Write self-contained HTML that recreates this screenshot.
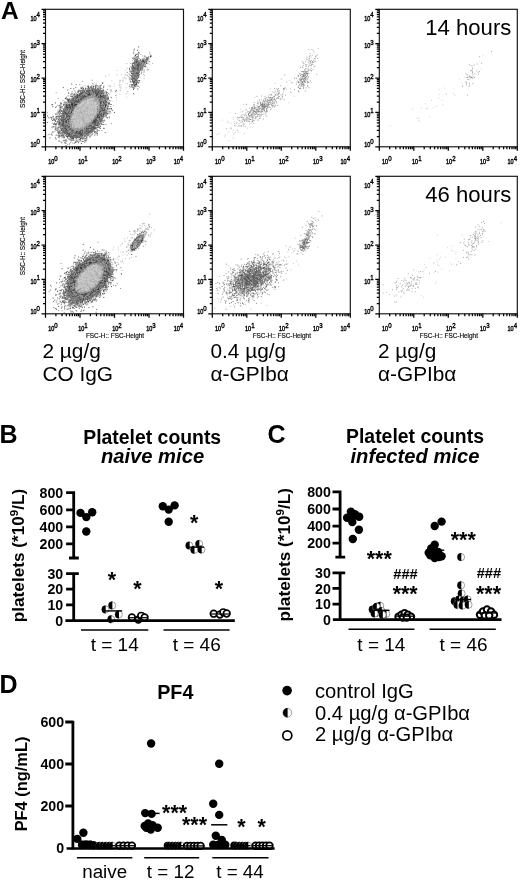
<!DOCTYPE html>
<html lang="en">
<head>
<meta charset="utf-8">
<title>Figure</title>
<style>
html,body{margin:0;padding:0;background:#fff;}
body{width:520px;height:881px;overflow:hidden;}
svg{display:block;font-family:'Liberation Sans', Arial, Helvetica, sans-serif;}
</style>
</head>
<body>
<svg width="520" height="881" viewBox="0 0 520 881">
<rect width="520" height="881" fill="#fff"/>
<defs><filter id="blur0" x="-20%" y="-20%" width="140%" height="140%"><feGaussianBlur stdDeviation="0.7"/></filter><filter id="blur1" x="-20%" y="-20%" width="140%" height="140%"><feGaussianBlur stdDeviation="1.3"/></filter><filter id="blur2" x="-20%" y="-20%" width="140%" height="140%"><feGaussianBlur stdDeviation="1.6"/></filter><filter id="blur3" x="-20%" y="-20%" width="140%" height="140%"><feGaussianBlur stdDeviation="1.7"/></filter></defs>
<rect x="45.5" y="9.3" width="138" height="137.5" fill="#fff" stroke="#111" stroke-width="1.15"/>
<path d="M45.5 146.8v4M55.9 146.8v2.5M62 146.8v2.5M66.3 146.8v2.5M69.6 146.8v2.5M72.3 146.8v2.5M74.7 146.8v2.5M76.7 146.8v2.5M78.4 146.8v2.5M80 146.8v4M90.4 146.8v2.5M96.5 146.8v2.5M100.8 146.8v2.5M104.1 146.8v2.5M106.8 146.8v2.5M109.2 146.8v2.5M111.2 146.8v2.5M112.9 146.8v2.5M114.5 146.8v4M124.9 146.8v2.5M131 146.8v2.5M135.3 146.8v2.5M138.6 146.8v2.5M141.3 146.8v2.5M143.7 146.8v2.5M145.7 146.8v2.5M147.4 146.8v2.5M149 146.8v4M159.4 146.8v2.5M165.5 146.8v2.5M169.8 146.8v2.5M173.1 146.8v2.5M175.8 146.8v2.5M178.2 146.8v2.5M180.2 146.8v2.5M181.9 146.8v2.5M183.5 146.8v4M45.5 146.8h-4M45.5 136.5h-2.5M45.5 130.4h-2.5M45.5 126.1h-2.5M45.5 122.8h-2.5M45.5 120.1h-2.5M45.5 117.7h-2.5M45.5 115.8h-2.5M45.5 114h-2.5M45.5 112.4h-4M45.5 102.1h-2.5M45.5 96h-2.5M45.5 91.7h-2.5M45.5 88.4h-2.5M45.5 85.7h-2.5M45.5 83.4h-2.5M45.5 81.4h-2.5M45.5 79.6h-2.5M45.5 78.1h-4M45.5 67.7h-2.5M45.5 61.6h-2.5M45.5 57.4h-2.5M45.5 54h-2.5M45.5 51.3h-2.5M45.5 49h-2.5M45.5 47h-2.5M45.5 45.2h-2.5M45.5 43.7h-4M45.5 33.3h-2.5M45.5 27.3h-2.5M45.5 23h-2.5M45.5 19.6h-2.5M45.5 16.9h-2.5M45.5 14.6h-2.5M45.5 12.6h-2.5M45.5 10.9h-2.5M45.5 9.3h-4" stroke="#000" stroke-width="1.25" fill="none"/>
<g transform="translate(53 164.4) scale(0.8 1)"><text font-size="6.9" text-anchor="middle" fill="#000" stroke="#000" stroke-width="0.4">10<tspan dy="-3.5" font-size="7.6">0</tspan></text></g>
<g transform="translate(83 164.4) scale(0.8 1)"><text font-size="6.9" text-anchor="middle" fill="#000" stroke="#000" stroke-width="0.4">10<tspan dy="-3.5" font-size="7.6">1</tspan></text></g>
<g transform="translate(117 164.4) scale(0.8 1)"><text font-size="6.9" text-anchor="middle" fill="#000" stroke="#000" stroke-width="0.4">10<tspan dy="-3.5" font-size="7.6">2</tspan></text></g>
<g transform="translate(151 164.4) scale(0.8 1)"><text font-size="6.9" text-anchor="middle" fill="#000" stroke="#000" stroke-width="0.4">10<tspan dy="-3.5" font-size="7.6">3</tspan></text></g>
<g transform="translate(178.5 164.4) scale(0.8 1)"><text font-size="6.9" text-anchor="middle" fill="#000" stroke="#000" stroke-width="0.4">10<tspan dy="-3.5" font-size="7.6">4</tspan></text></g>
<g transform="translate(39.9 147) scale(0.8 1)"><text font-size="6.9" text-anchor="end" fill="#000" stroke="#000" stroke-width="0.4">10<tspan dy="-3.5" font-size="7.6">0</tspan></text></g>
<g transform="translate(39.9 116.8) scale(0.8 1)"><text font-size="6.9" text-anchor="end" fill="#000" stroke="#000" stroke-width="0.4">10<tspan dy="-3.5" font-size="7.6">1</tspan></text></g>
<g transform="translate(39.9 82.2) scale(0.8 1)"><text font-size="6.9" text-anchor="end" fill="#000" stroke="#000" stroke-width="0.4">10<tspan dy="-3.5" font-size="7.6">2</tspan></text></g>
<g transform="translate(39.9 48.1) scale(0.8 1)"><text font-size="6.9" text-anchor="end" fill="#000" stroke="#000" stroke-width="0.4">10<tspan dy="-3.5" font-size="7.6">3</tspan></text></g>
<g transform="translate(39.9 20.9) scale(0.8 1)"><text font-size="6.9" text-anchor="end" fill="#000" stroke="#000" stroke-width="0.4">10<tspan dy="-3.5" font-size="7.6">4</tspan></text></g>
<text transform="translate(25.2 79) rotate(-90)" font-size="6.3" text-anchor="middle" fill="#111" stroke="#111" stroke-width="0.18">SSC-H:: SSC-Height</text>
<rect x="212.3" y="9.3" width="138" height="137.5" fill="#fff" stroke="#111" stroke-width="1.15"/>
<path d="M212.3 146.8v4M222.7 146.8v2.5M228.8 146.8v2.5M233.1 146.8v2.5M236.4 146.8v2.5M239.1 146.8v2.5M241.5 146.8v2.5M243.5 146.8v2.5M245.2 146.8v2.5M246.8 146.8v4M257.2 146.8v2.5M263.3 146.8v2.5M267.6 146.8v2.5M270.9 146.8v2.5M273.6 146.8v2.5M276 146.8v2.5M278 146.8v2.5M279.7 146.8v2.5M281.3 146.8v4M291.7 146.8v2.5M297.8 146.8v2.5M302.1 146.8v2.5M305.4 146.8v2.5M308.1 146.8v2.5M310.5 146.8v2.5M312.5 146.8v2.5M314.2 146.8v2.5M315.8 146.8v4M326.2 146.8v2.5M332.3 146.8v2.5M336.6 146.8v2.5M339.9 146.8v2.5M342.6 146.8v2.5M345 146.8v2.5M347 146.8v2.5M348.7 146.8v2.5M350.3 146.8v4M212.3 146.8h-4M212.3 136.5h-2.5M212.3 130.4h-2.5M212.3 126.1h-2.5M212.3 122.8h-2.5M212.3 120.1h-2.5M212.3 117.7h-2.5M212.3 115.8h-2.5M212.3 114h-2.5M212.3 112.4h-4M212.3 102.1h-2.5M212.3 96h-2.5M212.3 91.7h-2.5M212.3 88.4h-2.5M212.3 85.7h-2.5M212.3 83.4h-2.5M212.3 81.4h-2.5M212.3 79.6h-2.5M212.3 78.1h-4M212.3 67.7h-2.5M212.3 61.6h-2.5M212.3 57.4h-2.5M212.3 54h-2.5M212.3 51.3h-2.5M212.3 49h-2.5M212.3 47h-2.5M212.3 45.2h-2.5M212.3 43.7h-4M212.3 33.3h-2.5M212.3 27.3h-2.5M212.3 23h-2.5M212.3 19.6h-2.5M212.3 16.9h-2.5M212.3 14.6h-2.5M212.3 12.6h-2.5M212.3 10.9h-2.5M212.3 9.3h-4" stroke="#000" stroke-width="1.25" fill="none"/>
<g transform="translate(219.8 164.4) scale(0.8 1)"><text font-size="6.9" text-anchor="middle" fill="#000" stroke="#000" stroke-width="0.4">10<tspan dy="-3.5" font-size="7.6">0</tspan></text></g>
<g transform="translate(249.8 164.4) scale(0.8 1)"><text font-size="6.9" text-anchor="middle" fill="#000" stroke="#000" stroke-width="0.4">10<tspan dy="-3.5" font-size="7.6">1</tspan></text></g>
<g transform="translate(283.8 164.4) scale(0.8 1)"><text font-size="6.9" text-anchor="middle" fill="#000" stroke="#000" stroke-width="0.4">10<tspan dy="-3.5" font-size="7.6">2</tspan></text></g>
<g transform="translate(317.8 164.4) scale(0.8 1)"><text font-size="6.9" text-anchor="middle" fill="#000" stroke="#000" stroke-width="0.4">10<tspan dy="-3.5" font-size="7.6">3</tspan></text></g>
<g transform="translate(345.3 164.4) scale(0.8 1)"><text font-size="6.9" text-anchor="middle" fill="#000" stroke="#000" stroke-width="0.4">10<tspan dy="-3.5" font-size="7.6">4</tspan></text></g>
<g transform="translate(206.7 147) scale(0.8 1)"><text font-size="6.9" text-anchor="end" fill="#000" stroke="#000" stroke-width="0.4">10<tspan dy="-3.5" font-size="7.6">0</tspan></text></g>
<g transform="translate(206.7 116.8) scale(0.8 1)"><text font-size="6.9" text-anchor="end" fill="#000" stroke="#000" stroke-width="0.4">10<tspan dy="-3.5" font-size="7.6">1</tspan></text></g>
<g transform="translate(206.7 82.2) scale(0.8 1)"><text font-size="6.9" text-anchor="end" fill="#000" stroke="#000" stroke-width="0.4">10<tspan dy="-3.5" font-size="7.6">2</tspan></text></g>
<g transform="translate(206.7 48.1) scale(0.8 1)"><text font-size="6.9" text-anchor="end" fill="#000" stroke="#000" stroke-width="0.4">10<tspan dy="-3.5" font-size="7.6">3</tspan></text></g>
<g transform="translate(206.7 20.9) scale(0.8 1)"><text font-size="6.9" text-anchor="end" fill="#000" stroke="#000" stroke-width="0.4">10<tspan dy="-3.5" font-size="7.6">4</tspan></text></g>
<rect x="379.3" y="9.3" width="138" height="137.5" fill="#fff" stroke="#111" stroke-width="1.15"/>
<path d="M379.3 146.8v4M389.7 146.8v2.5M395.8 146.8v2.5M400.1 146.8v2.5M403.4 146.8v2.5M406.1 146.8v2.5M408.5 146.8v2.5M410.5 146.8v2.5M412.2 146.8v2.5M413.8 146.8v4M424.2 146.8v2.5M430.3 146.8v2.5M434.6 146.8v2.5M437.9 146.8v2.5M440.6 146.8v2.5M443 146.8v2.5M445 146.8v2.5M446.7 146.8v2.5M448.3 146.8v4M458.7 146.8v2.5M464.8 146.8v2.5M469.1 146.8v2.5M472.4 146.8v2.5M475.1 146.8v2.5M477.5 146.8v2.5M479.5 146.8v2.5M481.2 146.8v2.5M482.8 146.8v4M493.2 146.8v2.5M499.3 146.8v2.5M503.6 146.8v2.5M506.9 146.8v2.5M509.6 146.8v2.5M512 146.8v2.5M514 146.8v2.5M515.7 146.8v2.5M517.3 146.8v4M379.3 146.8h-4M379.3 136.5h-2.5M379.3 130.4h-2.5M379.3 126.1h-2.5M379.3 122.8h-2.5M379.3 120.1h-2.5M379.3 117.7h-2.5M379.3 115.8h-2.5M379.3 114h-2.5M379.3 112.4h-4M379.3 102.1h-2.5M379.3 96h-2.5M379.3 91.7h-2.5M379.3 88.4h-2.5M379.3 85.7h-2.5M379.3 83.4h-2.5M379.3 81.4h-2.5M379.3 79.6h-2.5M379.3 78.1h-4M379.3 67.7h-2.5M379.3 61.6h-2.5M379.3 57.4h-2.5M379.3 54h-2.5M379.3 51.3h-2.5M379.3 49h-2.5M379.3 47h-2.5M379.3 45.2h-2.5M379.3 43.7h-4M379.3 33.3h-2.5M379.3 27.3h-2.5M379.3 23h-2.5M379.3 19.6h-2.5M379.3 16.9h-2.5M379.3 14.6h-2.5M379.3 12.6h-2.5M379.3 10.9h-2.5M379.3 9.3h-4" stroke="#000" stroke-width="1.25" fill="none"/>
<g transform="translate(386.8 164.4) scale(0.8 1)"><text font-size="6.9" text-anchor="middle" fill="#000" stroke="#000" stroke-width="0.4">10<tspan dy="-3.5" font-size="7.6">0</tspan></text></g>
<g transform="translate(416.8 164.4) scale(0.8 1)"><text font-size="6.9" text-anchor="middle" fill="#000" stroke="#000" stroke-width="0.4">10<tspan dy="-3.5" font-size="7.6">1</tspan></text></g>
<g transform="translate(450.8 164.4) scale(0.8 1)"><text font-size="6.9" text-anchor="middle" fill="#000" stroke="#000" stroke-width="0.4">10<tspan dy="-3.5" font-size="7.6">2</tspan></text></g>
<g transform="translate(484.8 164.4) scale(0.8 1)"><text font-size="6.9" text-anchor="middle" fill="#000" stroke="#000" stroke-width="0.4">10<tspan dy="-3.5" font-size="7.6">3</tspan></text></g>
<g transform="translate(512.3 164.4) scale(0.8 1)"><text font-size="6.9" text-anchor="middle" fill="#000" stroke="#000" stroke-width="0.4">10<tspan dy="-3.5" font-size="7.6">4</tspan></text></g>
<g transform="translate(373.7 147) scale(0.8 1)"><text font-size="6.9" text-anchor="end" fill="#000" stroke="#000" stroke-width="0.4">10<tspan dy="-3.5" font-size="7.6">0</tspan></text></g>
<g transform="translate(373.7 116.8) scale(0.8 1)"><text font-size="6.9" text-anchor="end" fill="#000" stroke="#000" stroke-width="0.4">10<tspan dy="-3.5" font-size="7.6">1</tspan></text></g>
<g transform="translate(373.7 82.2) scale(0.8 1)"><text font-size="6.9" text-anchor="end" fill="#000" stroke="#000" stroke-width="0.4">10<tspan dy="-3.5" font-size="7.6">2</tspan></text></g>
<g transform="translate(373.7 48.1) scale(0.8 1)"><text font-size="6.9" text-anchor="end" fill="#000" stroke="#000" stroke-width="0.4">10<tspan dy="-3.5" font-size="7.6">3</tspan></text></g>
<g transform="translate(373.7 20.9) scale(0.8 1)"><text font-size="6.9" text-anchor="end" fill="#000" stroke="#000" stroke-width="0.4">10<tspan dy="-3.5" font-size="7.6">4</tspan></text></g>
<rect x="45.5" y="176.3" width="138" height="137.5" fill="#fff" stroke="#111" stroke-width="1.15"/>
<path d="M45.5 313.8v4M55.9 313.8v2.5M62 313.8v2.5M66.3 313.8v2.5M69.6 313.8v2.5M72.3 313.8v2.5M74.7 313.8v2.5M76.7 313.8v2.5M78.4 313.8v2.5M80 313.8v4M90.4 313.8v2.5M96.5 313.8v2.5M100.8 313.8v2.5M104.1 313.8v2.5M106.8 313.8v2.5M109.2 313.8v2.5M111.2 313.8v2.5M112.9 313.8v2.5M114.5 313.8v4M124.9 313.8v2.5M131 313.8v2.5M135.3 313.8v2.5M138.6 313.8v2.5M141.3 313.8v2.5M143.7 313.8v2.5M145.7 313.8v2.5M147.4 313.8v2.5M149 313.8v4M159.4 313.8v2.5M165.5 313.8v2.5M169.8 313.8v2.5M173.1 313.8v2.5M175.8 313.8v2.5M178.2 313.8v2.5M180.2 313.8v2.5M181.9 313.8v2.5M183.5 313.8v4M45.5 313.8h-4M45.5 303.5h-2.5M45.5 297.4h-2.5M45.5 293.1h-2.5M45.5 289.8h-2.5M45.5 287.1h-2.5M45.5 284.7h-2.5M45.5 282.8h-2.5M45.5 281h-2.5M45.5 279.4h-4M45.5 269.1h-2.5M45.5 263h-2.5M45.5 258.7h-2.5M45.5 255.4h-2.5M45.5 252.7h-2.5M45.5 250.4h-2.5M45.5 248.4h-2.5M45.5 246.6h-2.5M45.5 245.1h-4M45.5 234.7h-2.5M45.5 228.6h-2.5M45.5 224.4h-2.5M45.5 221h-2.5M45.5 218.3h-2.5M45.5 216h-2.5M45.5 214h-2.5M45.5 212.2h-2.5M45.5 210.7h-4M45.5 200.3h-2.5M45.5 194.3h-2.5M45.5 190h-2.5M45.5 186.6h-2.5M45.5 183.9h-2.5M45.5 181.6h-2.5M45.5 179.6h-2.5M45.5 177.9h-2.5M45.5 176.3h-4" stroke="#000" stroke-width="1.25" fill="none"/>
<g transform="translate(53 331.4) scale(0.8 1)"><text font-size="6.9" text-anchor="middle" fill="#000" stroke="#000" stroke-width="0.4">10<tspan dy="-3.5" font-size="7.6">0</tspan></text></g>
<g transform="translate(83 331.4) scale(0.8 1)"><text font-size="6.9" text-anchor="middle" fill="#000" stroke="#000" stroke-width="0.4">10<tspan dy="-3.5" font-size="7.6">1</tspan></text></g>
<g transform="translate(117 331.4) scale(0.8 1)"><text font-size="6.9" text-anchor="middle" fill="#000" stroke="#000" stroke-width="0.4">10<tspan dy="-3.5" font-size="7.6">2</tspan></text></g>
<g transform="translate(151 331.4) scale(0.8 1)"><text font-size="6.9" text-anchor="middle" fill="#000" stroke="#000" stroke-width="0.4">10<tspan dy="-3.5" font-size="7.6">3</tspan></text></g>
<g transform="translate(178.5 331.4) scale(0.8 1)"><text font-size="6.9" text-anchor="middle" fill="#000" stroke="#000" stroke-width="0.4">10<tspan dy="-3.5" font-size="7.6">4</tspan></text></g>
<g transform="translate(39.9 314) scale(0.8 1)"><text font-size="6.9" text-anchor="end" fill="#000" stroke="#000" stroke-width="0.4">10<tspan dy="-3.5" font-size="7.6">0</tspan></text></g>
<g transform="translate(39.9 283.8) scale(0.8 1)"><text font-size="6.9" text-anchor="end" fill="#000" stroke="#000" stroke-width="0.4">10<tspan dy="-3.5" font-size="7.6">1</tspan></text></g>
<g transform="translate(39.9 249.2) scale(0.8 1)"><text font-size="6.9" text-anchor="end" fill="#000" stroke="#000" stroke-width="0.4">10<tspan dy="-3.5" font-size="7.6">2</tspan></text></g>
<g transform="translate(39.9 215.1) scale(0.8 1)"><text font-size="6.9" text-anchor="end" fill="#000" stroke="#000" stroke-width="0.4">10<tspan dy="-3.5" font-size="7.6">3</tspan></text></g>
<g transform="translate(39.9 187.9) scale(0.8 1)"><text font-size="6.9" text-anchor="end" fill="#000" stroke="#000" stroke-width="0.4">10<tspan dy="-3.5" font-size="7.6">4</tspan></text></g>
<text x="115" y="338.4" font-size="6.4" text-anchor="middle" fill="#111" stroke="#111" stroke-width="0.18">FSC-H:: FSC-Height</text>
<text transform="translate(25.2 246.1) rotate(-90)" font-size="6.3" text-anchor="middle" fill="#111" stroke="#111" stroke-width="0.18">SSC-H:: SSC-Height</text>
<rect x="212.3" y="176.3" width="138" height="137.5" fill="#fff" stroke="#111" stroke-width="1.15"/>
<path d="M212.3 313.8v4M222.7 313.8v2.5M228.8 313.8v2.5M233.1 313.8v2.5M236.4 313.8v2.5M239.1 313.8v2.5M241.5 313.8v2.5M243.5 313.8v2.5M245.2 313.8v2.5M246.8 313.8v4M257.2 313.8v2.5M263.3 313.8v2.5M267.6 313.8v2.5M270.9 313.8v2.5M273.6 313.8v2.5M276 313.8v2.5M278 313.8v2.5M279.7 313.8v2.5M281.3 313.8v4M291.7 313.8v2.5M297.8 313.8v2.5M302.1 313.8v2.5M305.4 313.8v2.5M308.1 313.8v2.5M310.5 313.8v2.5M312.5 313.8v2.5M314.2 313.8v2.5M315.8 313.8v4M326.2 313.8v2.5M332.3 313.8v2.5M336.6 313.8v2.5M339.9 313.8v2.5M342.6 313.8v2.5M345 313.8v2.5M347 313.8v2.5M348.7 313.8v2.5M350.3 313.8v4M212.3 313.8h-4M212.3 303.5h-2.5M212.3 297.4h-2.5M212.3 293.1h-2.5M212.3 289.8h-2.5M212.3 287.1h-2.5M212.3 284.7h-2.5M212.3 282.8h-2.5M212.3 281h-2.5M212.3 279.4h-4M212.3 269.1h-2.5M212.3 263h-2.5M212.3 258.7h-2.5M212.3 255.4h-2.5M212.3 252.7h-2.5M212.3 250.4h-2.5M212.3 248.4h-2.5M212.3 246.6h-2.5M212.3 245.1h-4M212.3 234.7h-2.5M212.3 228.6h-2.5M212.3 224.4h-2.5M212.3 221h-2.5M212.3 218.3h-2.5M212.3 216h-2.5M212.3 214h-2.5M212.3 212.2h-2.5M212.3 210.7h-4M212.3 200.3h-2.5M212.3 194.3h-2.5M212.3 190h-2.5M212.3 186.6h-2.5M212.3 183.9h-2.5M212.3 181.6h-2.5M212.3 179.6h-2.5M212.3 177.9h-2.5M212.3 176.3h-4" stroke="#000" stroke-width="1.25" fill="none"/>
<g transform="translate(219.8 331.4) scale(0.8 1)"><text font-size="6.9" text-anchor="middle" fill="#000" stroke="#000" stroke-width="0.4">10<tspan dy="-3.5" font-size="7.6">0</tspan></text></g>
<g transform="translate(249.8 331.4) scale(0.8 1)"><text font-size="6.9" text-anchor="middle" fill="#000" stroke="#000" stroke-width="0.4">10<tspan dy="-3.5" font-size="7.6">1</tspan></text></g>
<g transform="translate(283.8 331.4) scale(0.8 1)"><text font-size="6.9" text-anchor="middle" fill="#000" stroke="#000" stroke-width="0.4">10<tspan dy="-3.5" font-size="7.6">2</tspan></text></g>
<g transform="translate(317.8 331.4) scale(0.8 1)"><text font-size="6.9" text-anchor="middle" fill="#000" stroke="#000" stroke-width="0.4">10<tspan dy="-3.5" font-size="7.6">3</tspan></text></g>
<g transform="translate(345.3 331.4) scale(0.8 1)"><text font-size="6.9" text-anchor="middle" fill="#000" stroke="#000" stroke-width="0.4">10<tspan dy="-3.5" font-size="7.6">4</tspan></text></g>
<g transform="translate(206.7 314) scale(0.8 1)"><text font-size="6.9" text-anchor="end" fill="#000" stroke="#000" stroke-width="0.4">10<tspan dy="-3.5" font-size="7.6">0</tspan></text></g>
<g transform="translate(206.7 283.8) scale(0.8 1)"><text font-size="6.9" text-anchor="end" fill="#000" stroke="#000" stroke-width="0.4">10<tspan dy="-3.5" font-size="7.6">1</tspan></text></g>
<g transform="translate(206.7 249.2) scale(0.8 1)"><text font-size="6.9" text-anchor="end" fill="#000" stroke="#000" stroke-width="0.4">10<tspan dy="-3.5" font-size="7.6">2</tspan></text></g>
<g transform="translate(206.7 215.1) scale(0.8 1)"><text font-size="6.9" text-anchor="end" fill="#000" stroke="#000" stroke-width="0.4">10<tspan dy="-3.5" font-size="7.6">3</tspan></text></g>
<g transform="translate(206.7 187.9) scale(0.8 1)"><text font-size="6.9" text-anchor="end" fill="#000" stroke="#000" stroke-width="0.4">10<tspan dy="-3.5" font-size="7.6">4</tspan></text></g>
<text x="281.8" y="338.4" font-size="6.4" text-anchor="middle" fill="#111" stroke="#111" stroke-width="0.18">FSC-H:: FSC-Height</text>
<rect x="379.3" y="176.3" width="138" height="137.5" fill="#fff" stroke="#111" stroke-width="1.15"/>
<path d="M379.3 313.8v4M389.7 313.8v2.5M395.8 313.8v2.5M400.1 313.8v2.5M403.4 313.8v2.5M406.1 313.8v2.5M408.5 313.8v2.5M410.5 313.8v2.5M412.2 313.8v2.5M413.8 313.8v4M424.2 313.8v2.5M430.3 313.8v2.5M434.6 313.8v2.5M437.9 313.8v2.5M440.6 313.8v2.5M443 313.8v2.5M445 313.8v2.5M446.7 313.8v2.5M448.3 313.8v4M458.7 313.8v2.5M464.8 313.8v2.5M469.1 313.8v2.5M472.4 313.8v2.5M475.1 313.8v2.5M477.5 313.8v2.5M479.5 313.8v2.5M481.2 313.8v2.5M482.8 313.8v4M493.2 313.8v2.5M499.3 313.8v2.5M503.6 313.8v2.5M506.9 313.8v2.5M509.6 313.8v2.5M512 313.8v2.5M514 313.8v2.5M515.7 313.8v2.5M517.3 313.8v4M379.3 313.8h-4M379.3 303.5h-2.5M379.3 297.4h-2.5M379.3 293.1h-2.5M379.3 289.8h-2.5M379.3 287.1h-2.5M379.3 284.7h-2.5M379.3 282.8h-2.5M379.3 281h-2.5M379.3 279.4h-4M379.3 269.1h-2.5M379.3 263h-2.5M379.3 258.7h-2.5M379.3 255.4h-2.5M379.3 252.7h-2.5M379.3 250.4h-2.5M379.3 248.4h-2.5M379.3 246.6h-2.5M379.3 245.1h-4M379.3 234.7h-2.5M379.3 228.6h-2.5M379.3 224.4h-2.5M379.3 221h-2.5M379.3 218.3h-2.5M379.3 216h-2.5M379.3 214h-2.5M379.3 212.2h-2.5M379.3 210.7h-4M379.3 200.3h-2.5M379.3 194.3h-2.5M379.3 190h-2.5M379.3 186.6h-2.5M379.3 183.9h-2.5M379.3 181.6h-2.5M379.3 179.6h-2.5M379.3 177.9h-2.5M379.3 176.3h-4" stroke="#000" stroke-width="1.25" fill="none"/>
<g transform="translate(386.8 331.4) scale(0.8 1)"><text font-size="6.9" text-anchor="middle" fill="#000" stroke="#000" stroke-width="0.4">10<tspan dy="-3.5" font-size="7.6">0</tspan></text></g>
<g transform="translate(416.8 331.4) scale(0.8 1)"><text font-size="6.9" text-anchor="middle" fill="#000" stroke="#000" stroke-width="0.4">10<tspan dy="-3.5" font-size="7.6">1</tspan></text></g>
<g transform="translate(450.8 331.4) scale(0.8 1)"><text font-size="6.9" text-anchor="middle" fill="#000" stroke="#000" stroke-width="0.4">10<tspan dy="-3.5" font-size="7.6">2</tspan></text></g>
<g transform="translate(484.8 331.4) scale(0.8 1)"><text font-size="6.9" text-anchor="middle" fill="#000" stroke="#000" stroke-width="0.4">10<tspan dy="-3.5" font-size="7.6">3</tspan></text></g>
<g transform="translate(512.3 331.4) scale(0.8 1)"><text font-size="6.9" text-anchor="middle" fill="#000" stroke="#000" stroke-width="0.4">10<tspan dy="-3.5" font-size="7.6">4</tspan></text></g>
<g transform="translate(373.7 314) scale(0.8 1)"><text font-size="6.9" text-anchor="end" fill="#000" stroke="#000" stroke-width="0.4">10<tspan dy="-3.5" font-size="7.6">0</tspan></text></g>
<g transform="translate(373.7 283.8) scale(0.8 1)"><text font-size="6.9" text-anchor="end" fill="#000" stroke="#000" stroke-width="0.4">10<tspan dy="-3.5" font-size="7.6">1</tspan></text></g>
<g transform="translate(373.7 249.2) scale(0.8 1)"><text font-size="6.9" text-anchor="end" fill="#000" stroke="#000" stroke-width="0.4">10<tspan dy="-3.5" font-size="7.6">2</tspan></text></g>
<g transform="translate(373.7 215.1) scale(0.8 1)"><text font-size="6.9" text-anchor="end" fill="#000" stroke="#000" stroke-width="0.4">10<tspan dy="-3.5" font-size="7.6">3</tspan></text></g>
<g transform="translate(373.7 187.9) scale(0.8 1)"><text font-size="6.9" text-anchor="end" fill="#000" stroke="#000" stroke-width="0.4">10<tspan dy="-3.5" font-size="7.6">4</tspan></text></g>
<text x="448.8" y="338.4" font-size="6.4" text-anchor="middle" fill="#111" stroke="#111" stroke-width="0.18">FSC-H:: FSC-Height</text>
<g filter="url(#blur2)"><ellipse cx="84.6" cy="113.3" rx="25.2" ry="16.2" transform="rotate(-52 84.6 113.3)" fill="#666"/></g>
<g filter="url(#blur3)"><ellipse cx="84.6" cy="113.3" rx="20.7" ry="11.7" transform="rotate(-52 84.6 113.3)" fill="#bebebe"/></g>
<path d="M86.2 107.9h1M95.5 117.4h1M76.2 119.7h1M89.7 121.1h1M93.8 102.8h1M76.7 126.1h1M78.2 121h1M88.6 102.5h1M78.3 110.4h1M73.9 126.3h1M86 122.3h1M94.3 114.4h1M72.4 118.5h1M90.7 98.5h1M72 110.1h1M95.8 106h1M79.5 105.2h1M72.2 124h1M95.7 104.5h1M91.3 102.1h1M81.7 122.1h1M95.2 103.4h1M80.2 108.7h1M76.4 127.9h1M99.2 104h1M85.6 98.5h1M74 128.8h1M88.5 116.7h1M84.5 116h1M77.5 119.9h1M80 104.4h1M79.3 119h1M79.1 115.3h1M70 128.6h1M74.8 116.6h1M87.8 112.7h1M91.9 117.2h1M72.6 113h1M79.1 125.6h1M80 111.6h1M73.2 123.1h1M80.1 114.4h1M84.8 126.3h1M68.8 119.1h1M81 116.2h1M89.2 121.2h1M69.6 122.7h1M96.9 105.6h1M82.9 108h1M86.4 115.5h1M73.4 120.8h1M80.6 115.8h1M82.7 128.4h1M75.9 125.8h1M75.1 119.2h1M95.4 98.7h1M86.7 105h1M88.3 121.4h1M76 125.7h1M85.6 117.3h1M97.6 100.9h1M86.9 124.6h1M88.2 105.2h1M75.2 112.7h1M81 123.2h1M76.2 104.7h1M96.1 101.4h1M99 100.6h1M97.4 110.2h1M71.3 126.7h1M92.4 111.7h1M85.8 97.9h1M76.3 112.8h1M70.7 126.4h1M91.5 120.2h1M74.3 124.6h1M84.6 106.5h1M72.4 115.6h1M72.8 114h1M73.3 111.8h1M83.7 109.5h1M76.1 118.5h1M72.7 123.3h1M94.6 117.7h1M90.3 114.4h1M73.2 129.8h1M69.4 127.4h1M87.6 114.6h1M97.7 106.7h1M85.7 122.2h1M88.9 114h1M91.4 107.4h1M90.2 102.6h1M86.2 112.4h1M74.5 109.5h1M74.5 123.6h1M91.6 114.6h1M90.3 123.2h1M84.3 97.7h1M84.7 123.6h1M88.4 103.2h1M72.1 116.8h1M92.8 113.6h1M69.2 124.3h1M81.5 122.8h1M86.8 116.7h1M85.8 113.2h1M88.3 115.9h1M87.9 108.1h1M68.9 123.8h1M71.9 125.2h1M90.9 99.5h1M74.3 130.7h1M80.8 127.1h1M96.2 112.2h1M90.3 108.2h1M85.2 104.3h1M78 105.9h1M85 127.2h1M85 104.5h1M79.2 106.6h1M80.3 122.9h1M83 105.5h1M93.1 116.3h1M98.9 109h1M94.6 95.8h1M76 126.6h1M86.1 113.7h1M91.6 105.3h1M74.9 109.4h1M82.2 99.3h1M90.2 110.8h1M98.7 104.3h1M79.6 101.7h1M79.5 117.1h1M90.6 123.2h1M95.8 110.8h1M82.4 99.9h1M85.4 125.4h1M95.2 114.1h1M75.3 130.2h1M82.8 100.4h1M90.8 101.9h1M76.8 110.8h1M97.3 114.3h1M89.1 104.1h1M91.7 102.9h1M78.2 115.2h1M88.9 102.7h1M84.1 101.3h1M89.1 105.6h1M76.7 124.7h1M87.8 123h1M74.3 120.5h1M85.4 99h1M73.6 114.5h1M80.8 123.5h1M97.3 102.5h1M94 101.3h1M78.2 107.8h1M89 106.5h1M98.5 111.7h1M90.7 108.5h1M74.8 122h1M92.6 117.2h1M99.2 108h1M81.9 122.9h1M89.4 111.2h1M93.7 98.6h1M73.3 108.3h1M76.4 110.3h1M87 96.2h1M93.2 107.6h1M94.3 96.7h1M84.2 113.8h1M90.3 98.4h1M69.5 117.9h1M75.7 119h1M81.2 100.8h1M75.1 126.8h1M78.1 123.4h1M81.2 113.3h1M90.9 120.4h1M83.4 104.1h1M80.9 103.9h1M77.2 115.2h1M81.9 114.3h1M82.4 109.7h1M96.8 104.6h1M89.3 112.8h1M86.4 103.7h1M72 117.8h1M79.9 108.5h1M73.7 122.6h1M76.7 110.4h1M72.8 128h1M94.2 106.2h1M75.6 117.2h1M84.2 128.9h1M81.9 120.7h1M91.8 119h1M90.7 99h1M89.4 118h1M97.3 101.9h1M80.1 128.6h1M75.7 111h1M85.4 121.4h1M86.2 117h1M84.8 127.6h1M84.4 97.6h1M91.7 105.3h1M92.6 105.5h1M71.4 122.4h1M79.2 129.1h1M93.5 96.9h1M96 99.3h1M95.6 113.1h1M83.1 126.2h1M85.3 114h1M81.4 104.1h1M72.8 112.4h1M79.1 109h1M81.5 122.2h1M87.7 101.8h1M95.9 106.9h1M82.5 114.8h1M70.8 124.6h1M87.8 98.5h1M85.8 119.6h1M91 113.3h1M83.3 120.3h1M78.5 108h1M95.9 116.8h1M84.3 103.3h1M98 112.2h1M81.2 121h1M78.1 111.8h1M75.5 125.5h1M83.3 119.8h1M80.7 111.1h1M96.5 110.5h1M74.8 119.8h1M97.5 106.4h1M91.1 112.3h1M86.8 103.6h1M83.8 128.3h1M73.8 112.8h1M87.5 115.7h1M77.6 124.9h1M79.4 117.7h1M88.2 111.1h1M90.7 99.7h1M81.2 119.3h1M77.4 113.9h1M86.9 108.5h1M87.3 115.6h1M78.5 125.4h1M90.6 109.9h1M81.3 123.3h1M74.3 114.8h1M90.2 106.3h1M85.3 107h1M87.6 106.4h1M91.9 122.2h1M74.8 116.9h1M73.6 116.7h1M97.9 107.5h1M71.3 114.4h1M97.4 106.7h1M83.6 128.4h1M73.5 114.3h1M87.6 105.9h1M77 107.1h1M93.9 103.4h1M69.5 122h1M83.6 105.9h1M73.5 111.5h1M85.7 112.4h1M83.1 104.1h1M90.9 115.9h1M84.6 108.2h1M97.5 100.4h1M74.2 129.3h1M89.1 104.3h1M97.3 103.3h1M69.4 117.7h1M90.1 120.4h1M77.2 123.9h1M88.7 98.5h1M86.8 102.2h1M84.1 101.4h1M83.1 101.1h1M89.1 103.5h1M91.9 98.7h1M95 103.8h1M88.5 99.5h1M77.4 122.4h1M86.8 98.5h1M81.6 109.1h1M91.4 117.5h1M95.4 104.2h1M82.8 114.6h1M95.3 98.3h1M93.8 101h1M86.8 108.2h1M69.4 120.7h1M75.5 128.3h1M99.4 105.4h1M95.8 112.7h1M81.3 125.7h1M69.9 121.2h1M92.9 112.1h1M94.5 109.4h1M93.5 109.6h1M87.9 119.3h1M89.1 96h1M74.9 111.8h1M74.3 124.6h1M76.3 123.6h1M92.5 112.3h1M80 109.2h1M85.6 127.7h1M70.6 118.8h1M92 116.5h1M80.6 103.6h1M71.1 127.3h1M86.9 102.6h1M80.8 107.4h1M94.9 104.8h1M74.7 113.2h1M98.7 105.7h1M73.4 129.8h1M93.6 96.8h1M94.6 115.6h1M90.8 100.2h1M90.1 112.8h1M96.1 97h1M86.4 126.4h1M82.9 102.6h1M71.1 115.9h1M98.4 100.3h1M76.5 122h1M84.7 124.9h1M92.6 121.5h1M86 105h1M89.9 112.3h1M99.6 103.2h1M83.5 98.9h1M82.1 117.1h1M75 110.4h1M91.1 120h1M93.5 98.4h1M74.6 126.7h1M93.5 115.3h1M90.5 120.3h1M87.3 99.5h1M88.5 112.7h1M80.6 109.7h1M91.3 113.9h1M71.5 129.1h1M83.3 103h1M90.5 120.4h1M97.3 114.3h1M85.7 117.2h1M90.5 106.9h1M78.8 109.7h1M76.2 104.8h1M84.3 99.9h1M80.4 119.8h1M79.8 115.7h1M77.7 115.2h1M69.9 126.9h1M76.7 110.2h1M95.9 97.7h1M70.9 127.1h1M72.9 108.8h1M72.9 123.2h1M92.3 107.2h1M82 103.4h1M83 128.8h1M83.6 128.9h1M76.7 110.8h1M74 123.7h1M97 100h1M74.6 115.1h1M87.1 118.7h1M92 111.9h1M73.3 116.7h1M90.7 105.5h1M82 128.1h1M73.6 126.9h1M90.3 123.8h1M70.4 123.1h1M88.2 120.7h1M79.3 111.3h1M91.8 107.7h1M74.7 130.2h1M77.1 106.7h1M79 117.4h1M95.4 107.3h1M95.8 114.3h1M71.7 127.4h1M70.1 116.9h1M69 119.6h1M93.8 102.5h1M87.1 99.1h1M88.4 111.1h1M96.7 109.6h1M78.9 106.2h1M77.1 115h1M80.2 122.4h1M95.1 114.7h1M91.3 106.9h1M91.9 103.8h1M76.9 110.8h1M80.4 102.2h1M78.1 120.3h1M81.6 118.4h1M84.4 119.9h1M87.6 98.5h1M84 116.9h1M95.9 105.1h1M95.4 105.8h1M93.5 105.4h1M93.4 106.7h1M95 102.8h1M86.4 108.9h1M93.2 107.3h1M76.9 110h1M78.8 113.5h1M73.3 123.5h1M92.5 105.6h1M83 117.8h1M78.6 114.7h1M75 117h1M97.1 105.5h1M96.8 112.7h1M84.9 101.9h1M82.1 111.7h1M71.8 118.1h1M77.9 103.2h1M82.2 117.4h1M79.9 107.4h1M83.2 115.6h1M96 103.9h1M89 112.1h1M88.9 96.1h1M80.5 105.9h1M71.5 121.4h1M83.9 122.4h1M74.8 117.8h1M83.1 112.5h1M70.1 116.2h1M81.3 107.2h1M91.9 110.8h1M86.9 120.7h1M77.2 117.6h1M86.9 120.1h1M77.9 122.5h1M73 130.6h1M69.4 118.6h1M76.9 121.8h1M96.7 98.8h1M86.4 114h1M95 112.4h1M86.4 97.5h1M78.2 121.1h1M77.8 115.5h1M89.4 97.3h1M71.2 120.2h1M91.3 95.4h1M80.9 109.7h1M89.1 114.1h1M85 116.4h1M86.9 120.3h1M85.6 109.4h1M83 101.7h1M87.5 108.2h1M87.6 101.3h1M87.5 100.6h1M88.5 109.1h1M97.4 106.3h1M78.7 101.6h1M78 108.9h1M94.8 103.1h1M79.4 124.4h1M68.5 119h1M70.6 126.8h1M73.1 108.4h1M80.1 124.5h1M88.2 118.8h1M82.6 115.5h1M88 113.2h1M87.6 96.3h1M80.6 126.8h1M93.1 102.6h1M84.1 107h1M71.3 129.1h1M83.7 116.6h1M72.2 115.2h1" stroke="#dedede" stroke-width="1" fill="none" opacity="0.9"/>
<path d="M95.5 102.1h1M72.4 126.8h1M72 126.6h1M97.3 105.7h1M93 100.5h1M94.5 109.5h1M85.9 98.3h1M78.3 115.8h1M76.9 121.8h1M71.6 126.8h1M93.7 96.5h1M72.8 113.3h1M80.7 114.3h1M97.8 100.6h1M99.8 102.8h1M79.8 125.5h1M93.9 105.7h1M93.4 110.2h1M71.8 118.4h1M85.4 106.2h1M82.6 119.7h1M70 114h1M92.8 101.3h1M94.1 102.1h1M92.1 105.2h1M81.9 117.1h1M83.3 117.7h1M84.6 116.8h1M97.3 103.6h1M71.2 126.3h1M77.8 130.9h1M76.7 103.7h1M80.7 110.1h1M82.7 115.4h1M77.7 105.5h1M90 103.8h1M69 118.8h1M90.7 118.5h1M76.5 110.3h1M94.2 110h1M87 119.9h1M84.4 124.9h1M91 109.7h1M91.3 95.4h1M81.5 100.9h1M98.9 104.1h1M99.7 103.8h1M89.8 98.4h1M94.8 117.9h1M94.4 98.5h1M85.1 102h1M84.7 110.8h1M75 111.4h1M72.4 119.1h1M97.8 104.6h1M69.6 124.8h1M86.1 99.8h1M80.8 111.8h1M87.9 108.2h1M94.4 96.9h1M69.4 124.5h1M76.4 124.1h1M81.6 111.4h1M78.9 115.6h1M85.6 107.3h1M85 127.8h1M73.9 118.6h1M83.3 103.1h1M72.3 128.2h1M81.2 107.7h1M75 111.3h1M86 100.4h1M91.7 115.9h1M80.1 111.8h1M93.9 104.3h1M78.7 116.5h1M83.8 104.6h1M87.6 120.7h1M87.6 117.3h1M100 106.2h1M85.6 99.5h1M96 116.2h1M99.1 108.6h1M77 112.5h1M78.4 118.6h1M81.1 130.4h1M77.6 107.7h1M97.1 108.3h1M88.7 124.7h1M93.1 110.7h1M72.4 123.6h1M77.7 122.8h1M82 107.4h1M81.5 113.2h1M87.8 117.9h1M91.5 106.2h1M83.9 99.8h1M90.8 100.3h1M91 97.4h1M75.7 119.9h1M89.9 114.6h1M78.5 105.8h1M76.7 121.3h1M73.7 128.2h1M93.3 111.8h1M83.3 105.4h1M94.5 98.4h1M78.7 120.6h1M71 117h1M76.3 111.6h1M87.4 114.8h1M86.8 124h1M89.1 99.2h1M81.1 119h1M92.8 114.8h1M95 106.5h1M95 99.3h1M90.1 113.8h1M91.5 99.9h1M87.3 126.8h1M83.5 115.5h1M96.9 101.8h1M83.1 123.1h1M89.4 100.7h1M85.2 121h1M77.4 108.6h1M94.4 112.1h1M94.5 96.3h1M70.8 114.1h1M86.7 126.8h1M83.5 98.2h1M83.9 123.3h1M88.3 124.2h1M91.7 121.8h1M89.5 111.1h1M70.5 122.1h1M84.6 101.1h1M79.5 110.5h1M71.4 119.7h1M91.6 98.3h1M88.8 122.5h1M84.7 111.9h1M92.5 95.9h1M93.4 106.2h1M96.1 114.4h1M80.3 110.5h1M72.5 115.5h1M87.6 113.1h1M81.8 126.1h1M75.6 108.6h1M74.6 121.6h1M97.2 109.6h1M93 101.9h1M87.3 109.5h1M82.5 116.9h1M83.4 110.2h1M91.7 114.4h1M91 95.9h1M74.9 119h1M77.4 129.6h1M76.7 107.1h1M97.5 107h1M87.9 123.3h1M83.5 106.6h1M83.8 98.8h1M89.5 101.6h1M76.8 130.8h1M83.6 111.7h1M80.7 119.4h1M89.2 113.2h1M97.7 107.4h1M85.2 107.7h1M74.5 114.5h1M72.7 121h1M72.7 118.6h1M75.5 119.2h1M70.1 126.6h1M90.8 117.8h1M78.5 112.8h1M72.9 115.6h1M78.7 116h1M84 100.5h1M83.3 120.3h1M69 121.9h1M88.6 110.3h1M92 113h1M80.5 108.9h1M77.4 107.1h1M91.7 115.8h1M78.4 125.5h1M92.3 101.9h1M82.6 126.4h1M75.9 117.7h1M90.9 115.3h1M88.8 117.2h1M90.1 109.1h1M88 122.9h1M99.5 103.4h1M72.6 109.8h1M69.5 115.7h1M87 107.3h1M97.4 108.5h1M84 109.1h1M75.7 129.6h1M72.7 128.9h1M93.6 113.5h1M68.2 121.1h1M84.6 102.3h1M72.4 118.7h1M89.6 102.8h1M72.3 111.7h1M82.6 125.8h1M90.3 100.5h1M92.9 102.8h1M75 128.7h1M80.6 112.8h1M95.8 111.8h1M84.4 108.9h1M77.5 113.6h1M86.9 111h1M77.9 107.2h1M91.9 122.2h1M87.2 105h1M80.5 119.2h1M84.7 124.3h1M83.2 111.7h1M75.6 114h1M77.9 125.3h1M82.5 118.3h1M83.7 98.7h1M74.2 119.6h1M94 100.6h1M79.3 113.5h1M96 116.8h1M81.9 108.2h1M74 123h1M80.6 118.4h1M82 120.4h1M86.6 117.2h1M92 114.8h1M85.6 116.9h1M93.3 114h1M96.1 107.6h1M77.8 113.8h1M96.7 112.3h1M80.9 118.1h1M76.4 108.5h1M82 100.5h1M92.4 117.9h1M84 114.4h1M86.2 108.3h1M82.8 117.2h1M87.6 106.9h1M72.5 119.2h1M76.7 131h1M84.1 122.8h1M83.4 99.8h1M89.2 104h1M77.1 131.1h1M92.8 113.2h1M89.7 114.3h1M77.3 115.4h1M81.7 119.4h1M86 116.3h1M99.3 107.3h1M72.7 127h1M90.1 110.8h1M73.3 113.4h1M79.5 106.2h1M80.7 112.6h1M91.8 122.7h1M91.9 109.6h1M73.2 124.6h1M86.9 120.8h1M84.9 101.9h1M71.7 130.1h1M70.4 124h1M76.4 119.1h1M80.9 102.3h1M82.3 124.9h1M85.2 120.3h1M83.1 125.6h1M88.4 117.2h1M70.6 126h1M92.4 111.1h1M81.7 119h1M98.9 106.6h1M77.5 117.4h1M88.3 123.5h1M79.7 101.7h1M89.6 97.9h1M99.4 101.6h1M75.9 116.4h1M90 102.3h1M81.6 127h1M89.5 109.2h1M95 118.6h1M95.2 100.4h1M97 103.2h1M72.6 123.9h1M78.3 106.9h1M87.7 105.3h1M80.5 111.7h1M83.2 121.7h1M86.8 111.6h1M94.2 100.2h1M90 113.3h1M94.3 118.9h1M85.5 117.6h1M85.3 103.8h1M92.5 96.6h1M90.7 120.2h1M83.6 123.7h1M70.6 118.4h1M74.5 115.4h1M88.3 106.3h1M97.3 97.2h1M97.9 111.2h1M96.4 100.3h1M91.5 113.2h1M73.5 123.3h1M88.6 112.3h1M83.2 110.9h1M86.3 127.2h1M78.7 107.7h1M76.6 117.2h1M98.1 107.9h1M72.6 121.6h1M97.1 106.5h1M82.5 119.1h1M75.7 111.6h1M77.5 109.3h1M91 104.2h1M80.9 120.9h1M98 111h1M77.8 104.8h1M73.6 124.9h1M91.3 105.1h1M71.4 120h1M94.1 105.3h1M84.8 113.2h1M73.7 126.2h1M82.9 126.7h1M92 95.5h1M73.3 129h1M87 115.1h1M79.7 108h1M86 109.5h1M87 108.7h1M83.4 103h1M80.2 109.4h1M87.4 113.6h1M72.3 124.5h1M74 130.4h1M71.6 112.9h1M81.1 112.8h1M79.1 123.2h1M85.9 114.8h1M82.1 104.4h1M69 125.1h1M83.9 120.3h1M96.8 101.2h1M76.4 109.6h1M72.6 119.3h1M77 129.8h1M84.5 104.3h1M81.9 123.2h1M96.4 100.3h1M79.9 111.5h1M79.5 118.4h1M86.1 102.3h1M76.7 124.1h1M92 105.1h1M79.1 122.3h1M78.2 103h1M75.4 112.9h1M82.8 122.7h1M97.8 109.3h1M70.2 125.9h1M72.8 126.7h1M97.4 114.1h1M85.6 107.1h1M94.3 104.2h1M70.9 126.4h1M69.7 115h1M89.3 115.2h1M75.5 107.5h1M84.2 106h1M77.7 109.2h1M86.1 125.7h1M88.3 97.8h1M80.5 116.5h1M79.9 108.8h1M74.6 130.9h1M85 101h1M92.7 117h1M92.1 107.6h1M74.7 113.5h1M76.1 115.5h1M82.2 119.9h1M88.7 117.9h1M90.6 99.8h1M85.9 123.5h1M94.1 113.5h1M91.5 114.9h1M73.8 121.6h1M97.4 112.7h1M74.9 130.5h1M80.6 100.8h1M78.2 111.6h1M79.6 127.5h1M76.1 129.1h1M91.6 114.3h1M88.5 120.8h1M78.3 103.1h1M70.7 120.7h1M94 117h1M79.9 117.3h1M82.4 111h1M97 103h1M72.6 123.4h1M78.5 112.9h1M83.3 114.4h1M77.8 112.4h1M75.4 109.2h1M84.8 122.3h1M94.3 115.3h1M77.8 117.2h1M83.2 101.2h1M79.4 118.4h1M68.9 122h1M76.2 119.5h1M83.5 112.7h1M93.9 118h1M81.1 106.5h1M90.7 101.9h1M86 117.9h1M88.1 117h1M78.7 107.9h1M82.8 105.6h1M79.3 126.1h1M92.3 107.7h1M77.6 108.7h1M82.4 116.3h1M76.6 109.1h1M90.9 119.7h1M70.3 127.2h1M70.7 119.1h1M84.3 117.6h1M77.6 124h1M79.6 102.8h1M70.6 122.3h1M87.6 110.1h1M86.3 113.6h1M75.5 125.3h1M84.8 123.4h1M84.4 107.3h1M75.9 118.6h1M93.6 108.3h1M80.7 101.7h1M91.2 105.4h1M97.7 110.1h1M87.4 125.5h1M76.2 116.4h1M89.3 96.8h1M80.5 112.6h1M89.5 118.4h1M79.1 116.8h1M91.6 114.2h1M80.7 107.6h1M96.5 112.6h1M98.3 108.9h1M88.2 119.2h1M81 106.4h1M77.1 103.4h1M87.4 106h1M90.5 100.9h1M90.7 119.8h1M73.2 126.4h1M88.2 115.7h1M77.4 111.1h1M78.3 114.5h1M98 105.9h1M95.3 99.3h1M88.4 97.3h1M91.7 116.1h1M82.9 115.8h1M96.1 97.4h1M83 118.9h1M78.6 111.3h1M81.4 114h1M93.2 104h1M91.5 120.1h1M92.8 95.9h1M86.4 123.4h1M87.7 108.2h1M99.1 106.1h1M82.5 118.9h1M83.3 120.8h1M89.7 105.2h1" stroke="#a8a8a8" stroke-width="1" fill="none" opacity="0.9"/>
<path d="M90.1 96.3h1M76.9 124.5h1M69.5 119.9h1M94.5 113.2h1M75.8 110.7h1M69.9 121.3h1M85.5 105.4h1M77.5 122h1M98.5 100.1h1M75.8 108.9h1M91.8 115.1h1M82.9 101.5h1M97.9 106.7h1M73.9 127.7h1M85.8 101.3h1M93.5 116.3h1M91.9 109.5h1M84.4 102.2h1M87.1 97.1h1M75 106.4h1M82.3 115.8h1M91.8 106.5h1M92 110.8h1M75.9 113.8h1M89.8 103.5h1M81.3 122.8h1M79.1 125.8h1M79.8 109.2h1M80.2 128.4h1M86.5 110.7h1M84.6 97.6h1M78.1 113.2h1M98.5 110h1M83.3 100.8h1M86.1 97.5h1M82.6 103.9h1M90.3 116.3h1M85.8 100.2h1M86.6 105.4h1M82.6 124.2h1M92 117.4h1M87.6 115.7h1M70.1 124.1h1M94.9 106.1h1M84 101.9h1M71.4 123.8h1M69.2 118.9h1M80.5 120h1M82.2 107.7h1M84.2 107.7h1M97.7 97.9h1M75.5 112.2h1M73.1 127.3h1M90.6 109h1M71.4 111.7h1M78.5 115.3h1M77.3 128.2h1M85.4 110.3h1M94.7 97.1h1M83.1 123.6h1M71.6 118.1h1M89.4 99.3h1M78.6 111.8h1M87 121.9h1M84.6 113.6h1M72.9 128.2h1M79.4 106.4h1M91.9 111.9h1M80.5 106.1h1M90.5 117.6h1M84 107.1h1M93.6 105.9h1M93.3 117.3h1M74.5 125.7h1M68.5 125.4h1M77.7 129h1M85.2 127h1M80.8 120.2h1M87.4 122.3h1M87.1 104.4h1M76.3 118.5h1M89.7 117.3h1M72.4 122.8h1M93.4 103.7h1M77.4 124.5h1M75.9 112.9h1M100 105.1h1M73.8 120.5h1M74.8 130.5h1M83.3 129.4h1M96.3 109.8h1M78.3 102.1h1M99.9 107h1M77.5 129.6h1M70.8 118h1M77.2 114.3h1M90.1 106.6h1M87.6 110.3h1M79.6 121.7h1M73.1 115.7h1M93.6 103.3h1M94.4 98.3h1M89.3 103.4h1M73.3 125.8h1M80.4 124.1h1M90 105.4h1M80.8 101.7h1M87.5 103.6h1M77.3 108h1M82.4 106.5h1M86.1 99.6h1M84.9 106.3h1M80.2 114.8h1M85.7 100h1M92 116.7h1M71.2 120.8h1M85 108.5h1M84.3 127.1h1M86.8 114h1M68.9 118h1M96.3 97h1M84.2 127.3h1M89.6 117.2h1M96.9 106.9h1M90.3 124.2h1M79.7 128.4h1M71.9 115.7h1M82.5 111.9h1M85.6 109.8h1M95.2 113.1h1M78.3 125.7h1M75.5 111h1M85.2 105.9h1M77.3 111.5h1M93.6 119.5h1M80.2 106.8h1M93.2 95.5h1M77.6 116.2h1M73.3 114.9h1M87.9 123.2h1M76.7 128.3h1M71.2 126.8h1M96.4 100h1M97.7 110.5h1M84.6 109.2h1M81.4 111.2h1M78.3 117.3h1M87.5 105.2h1M92.7 118.8h1M92.1 117.3h1M73.6 111h1M96.5 105.9h1M77.2 126.8h1M81 109h1M81.5 129.1h1M86.1 125.8h1M89.9 122.5h1M98 98.9h1M94.1 106.8h1M73.7 120h1M73.3 121.5h1M90.8 103h1M72.7 121h1M81.9 102.3h1M86.3 100.2h1M89.9 113.3h1M93.9 98.5h1M84.6 108.8h1M84.8 120h1M79.1 124.7h1M69.8 124h1M90.8 113.8h1M76.4 105.5h1M79.8 104.5h1M74 127.6h1M86.4 103.7h1M88 126.1h1M96.7 103.4h1M88 113.5h1M98.4 106.9h1M89.2 100.9h1M69.6 123.6h1M97.5 105.5h1M98.8 110.6h1M78.9 130.3h1M84.5 125.9h1M74.7 108.3h1M81.5 111.9h1M91.2 97.1h1M97.8 105.4h1M72.1 110.2h1M95.7 99.2h1M93.9 100.1h1M95.5 115.1h1M75.4 126.9h1M91.1 100.9h1M85.5 128h1M87.8 121.7h1M85.7 117.2h1M85.1 116h1M85.8 121.7h1M91.4 117h1M72.2 118.5h1M88 109.6h1M73.8 124.9h1M73.5 107.9h1M95.7 99.3h1M74.3 109.8h1M73 122.4h1M88.6 124.9h1M88 113.9h1M71.8 113.3h1M93 98.3h1M79.8 124.4h1M80.1 125.8h1M87.1 117h1M83.3 112.8h1M92.3 113h1M90.7 116.1h1M95.3 109.7h1M89.9 117.3h1M86.3 126.7h1M80.7 120.2h1M98.1 109.1h1M78.6 106.1h1M84.8 120.3h1M95.8 115.9h1M92.5 116.8h1M84.7 108.1h1M71.3 113h1M92.3 107h1M92.7 116.9h1M83.7 100.6h1M72.2 126.8h1M95.6 113.9h1M98.2 108.9h1M73.9 128.5h1M86.2 105.6h1M79 105.5h1M92.1 101h1M83.5 107.9h1M89.7 101.4h1M88.5 124h1M87.5 121.3h1M74.4 121.4h1M95.1 108.4h1M84.3 101.3h1M80.2 102.2h1M80.6 129.4h1M78.1 122.8h1M85.5 104.6h1M93.1 107.8h1M81.5 129.2h1M80.2 129.9h1M74.9 117h1M80.2 129.3h1M89.7 99.9h1M71.3 111.6h1M82.9 125.8h1M79.3 130.2h1M75.7 126.4h1M89.5 102.6h1M71.1 113.8h1M92.1 104.2h1M97.8 101.8h1M94.4 113h1M88.8 103h1M89.2 100.8h1M78.2 102.8h1M92 112.6h1M82.5 109.8h1M77.1 103.9h1M80.6 111.1h1M88 117.7h1M76.4 125.5h1M97.8 109h1M91.2 95.4h1M88.1 105.5h1M91.4 111.7h1M88.1 95.8h1M88.9 121.4h1M80 129.7h1M80.7 106.3h1M78.6 109.9h1M92.1 121.2h1M89.3 105.4h1M91.8 106.2h1M90 102.4h1M83.4 104.6h1M83.7 119.9h1M86 104h1M89.5 106.5h1M72.7 122.1h1M90.6 98.2h1M83 102.7h1M81.4 118.1h1M96.2 108.7h1M75.6 107.7h1M77.4 117.1h1M78.7 125.9h1M84.2 128.7h1M90.6 122.4h1M74.5 113.9h1M76.1 116.4h1M90.4 110.8h1M87.5 111.2h1M76.4 118.5h1M93.3 101.9h1M82.3 103.4h1M90 113h1M94.9 106.6h1M78.7 125.3h1M87.9 124.8h1M92.3 95.9h1M98.8 110.4h1M86.4 122.7h1M77.7 130h1M78.9 127.5h1M83.8 108.5h1M88.2 112.4h1M75.5 127h1M80.7 127.8h1M82.4 101.6h1M82.6 125h1M77.6 106.7h1M92.6 118.3h1M93.4 98.6h1M85.1 106.9h1M79.9 105.6h1M74.9 118.6h1M95.1 109.1h1M91.9 102.7h1M81.7 118.2h1M93.4 97.5h1M72.6 118.3h1M72.1 111.3h1M83.8 110.2h1M79.7 118.1h1M78.8 114.3h1M74.4 107.6h1M81.4 125.7h1M76.3 106.4h1M88.1 109.1h1M76 106.9h1M87.9 108.9h1M83 99h1M95 103.7h1M92.2 95.6h1M94 99.9h1M88.1 99.5h1M86.4 118h1M77.7 106h1M74.2 109.3h1M86 124.4h1M93.2 98.7h1M74.6 130.1h1M70.7 120.9h1M83.1 101.3h1M95.7 105.9h1M73.6 116.6h1M73.6 110.9h1M88.2 124.8h1M97.3 109.6h1M81.7 110.3h1M85.2 104.8h1M95.8 102.2h1M72.2 122h1M74 130.3h1M69.2 127.2h1M97.8 112.1h1M71.8 122.4h1M92.6 118.9h1M73.6 129.4h1M86.7 106.4h1M77.2 122.8h1M86.5 112.6h1M75.5 127.3h1M68.8 121.3h1M84.9 112.1h1M85.9 117.6h1M76.9 117h1M71.5 114h1M74.5 116.9h1M77 118.1h1M75.1 114.6h1M77.8 111.9h1M76.7 120.4h1M91.4 99.8h1M78.1 105.3h1M76.3 119.5h1M95.9 107.7h1M81.4 115.3h1M75.3 131.1h1M89.2 110.6h1M94.1 114.2h1M90.2 124.3h1M82.4 123h1M81.3 122.8h1M80.6 102.2h1M85.1 102.1h1M88.7 104h1M88.3 99.8h1M81 129h1M80.8 127.6h1M89.2 104.6h1M96.2 111.3h1M69.2 125.6h1M79.5 121.2h1M90 98.7h1M95 110h1M89.6 98.6h1M81.9 109.2h1M77 120.3h1M76.4 123h1M74.3 129.5h1M93.8 105.6h1M90.2 103h1M86.4 125.4h1M78.2 117.7h1M91.8 113.6h1M85.4 124.1h1M92.2 113.6h1M96.2 109.2h1M93.2 116.5h1M84.8 107.1h1M80.3 119.8h1M94.1 117.6h1M91.4 116.4h1M90.2 108.8h1M79.7 116.2h1M92.1 102.3h1M91 122.2h1M78.9 111.3h1M84.7 128.6h1M85.5 110.7h1M72.2 116.6h1M82.7 127.2h1M85.8 101h1M77 113.3h1M84.4 104.3h1M96 107.2h1M94.8 117.8h1M83.4 123.9h1M77.3 123.5h1M93 103.6h1M74 106.8h1M87 119.3h1M86.7 105.9h1M81.5 129.4h1M82.5 108.9h1M95.4 97.8h1M96.7 105.4h1M72.7 109.2h1M91.7 104.2h1M86.9 126h1M84.7 117.6h1M86.2 125.9h1M91.7 104h1M79.2 106.6h1M96.3 99.1h1M72.8 113.7h1M87.8 101.2h1M92.7 107.3h1M88.6 97.8h1M74.4 123.7h1M91.4 112.3h1M76.9 110.5h1M90.2 122.5h1M83.9 117.2h1M86.4 120.6h1M84 99.9h1M88.2 122.6h1M94 111.6h1M84.4 106.9h1M87.3 110.2h1M93.7 104.7h1M72.5 113.5h1M91.9 106.1h1M98.9 101.4h1M86.7 99.7h1M90.1 118.7h1M96.9 100.8h1M91.9 112.9h1M85.7 97.6h1M74.4 119.2h1M83.5 114.6h1M68.5 119.3h1M72.9 118.7h1M89.1 96.4h1M88.2 107.7h1M78.1 112.8h1M73.1 121.1h1M77.6 130.4h1M88.7 109.1h1M88.4 100.1h1M70.9 116.3h1M93.9 109.6h1M93.7 112.6h1M87.7 96.5h1M86 123.6h1" stroke="#c8c8c8" stroke-width="1" fill="none" opacity="0.9"/>
<path d="M88 125.9h1M86.1 125.4h1M98.3 105.5h1M70.2 115.9h1M76.7 127.2h1M77.9 102.4h1M69.9 115.1h1M98 112.7h1M97.9 99.7h1M70.5 114.5h1M94.1 119.2h1M75.2 128.6h1M88 125h1M69.5 118.5h1M69 117.4h1M79.3 103.3h1M74.3 125.9h1M92.9 95.5h1M98.7 108.7h1M75.2 105.3h1M82.7 128.2h1M71.8 129.8h1M71.1 116.3h1M99.2 100.6h1M99.1 109.7h1M91.7 121.5h1M87.1 96.7h1M71 126.1h1M84.3 128.3h1M88.9 97.3h1M88.3 124.7h1M97.3 113.3h1M98.2 100.9h1M73.3 127.4h1M94.5 96.6h1M78.6 102.4h1M96.5 114.5h1M84.2 98.3h1M81.8 128h1M84.4 126.2h1M70.8 124.6h1M94.9 116.5h1M86.4 98.8h1M81.7 127.3h1M70.1 119.5h1M96.9 109.5h1M68.5 121.7h1M80.3 100.7h1M69.8 116.3h1M73.5 129.8h1M90 97.5h1M98.8 108.4h1M84.3 128h1M70.7 112.8h1M80.4 129h1M97.3 98.3h1M79.5 130.7h1M70.3 121.6h1M86.4 123.2h1M93.9 119.9h1M87.8 126.3h1M78.8 103.5h1M95.5 96.2h1M70.8 113.3h1M70 124.4h1M97.7 111.8h1M89.9 96.1h1M97.1 110.7h1M92 96.7h1M72.6 113h1M70.2 121.5h1M98.2 102.6h1M99 100.2h1M93.8 96.1h1M79.6 101.1h1M68.9 126.5h1M73.1 108.4h1M96.6 102h1M80.7 129.3h1M72.3 114.2h1M79.2 130.9h1M86.1 124.7h1M99.1 108.9h1M99.1 106h1M68.8 123.9h1M93.5 119.4h1M97.9 98.7h1M73.7 130.7h1M91.5 122h1M71.5 128.1h1M69.6 119.9h1M79.1 102.2h1M89.1 97.7h1M71.3 114.1h1M68.9 117.5h1M77.3 129.4h1M86 126h1M89.8 123.8h1M94.1 118.2h1M76.9 130.8h1M73 128.9h1M80.5 129.8h1M89.3 125.2h1M97.8 110.3h1M74.9 106.4h1M98.8 108.8h1M80 102.9h1M94.7 97.8h1M96.9 115.6h1M76.6 104.4h1M98.4 110.9h1M69.3 117.6h1M70.4 116.9h1M98.8 107.8h1M93.2 119.1h1M91.8 97.3h1M99.2 100.5h1M78.5 102.2h1M85.7 127.1h1M98.6 101.4h1M98.1 110.6h1M70.9 128.8h1M98.6 100.8h1M87.6 126.1h1M75.2 106.3h1M98.5 99.1h1M77.2 129.1h1M72.6 113.8h1M70.8 123.7h1M79.7 100.8h1M77.6 129.3h1M76.3 131h1M83.2 100.2h1M68.6 123.5h1M73.4 107.6h1M99 105.3h1M79.8 101.3h1M80.6 128.4h1M83.2 128.3h1M79.8 130.1h1M69.1 119.3h1M75.5 105.8h1M96.3 96.7h1M79.1 102.5h1M97.2 113.6h1M73.1 109.1h1M74.2 129.7h1M72.6 111.3h1M92.1 95.5h1M72 121.7h1M97.1 97.6h1M68.5 122.3h1M70.2 115.1h1M77.3 129.9h1M69.1 117.9h1M76.2 104.9h1M69.3 120h1M99.2 104.8h1M84.8 97.5h1M85.8 97.6h1M93.9 120.2h1M80.3 100.3h1M85.9 96.9h1M76 105.9h1M99 106.5h1M99.2 101h1M96.5 103.7h1M70.4 113h1M99.4 104.1h1M91.3 97.5h1M70.4 128.6h1M76.4 128.5h1M70 125.7h1M98.1 98h1M93.1 119.7h1M71 127.5h1M92 122.3h1M94 119.1h1M87.6 96.7h1M70.8 113.9h1M71.5 114.4h1M98.6 101.1h1M96.7 109.9h1M72.5 111.7h1M96.7 98.5h1M90.7 97.3h1M69.7 115.2h1M79.6 102.7h1M72.6 130.5h1M99.5 104.1h1M95.6 116.4h1M93.9 96.6h1M76.4 107h1M95.5 117.6h1M73.1 109.4h1M97.4 113.2h1M81.4 130.1h1M88.7 125.4h1M90.2 123.8h1M77 131.4h1M81.1 101.9h1M95.8 113.8h1M75.9 131.4h1M90.3 122.3h1M94.9 96.4h1M81.3 101.3h1M76.2 131h1M96.8 115h1M70.2 117.8h1M93.5 120.4h1M96.8 96.9h1M93.8 95.5h1M87.9 126h1M96.4 99h1M71.2 113.2h1M70 115.4h1M70.2 115.8h1M77.3 131.4h1M68.8 121.4h1M69.6 118.2h1M94.4 118.6h1M95.2 98.9h1M96.9 108.4h1M91.5 120.3h1M99.1 99.3h1M98.6 110.6h1M95.2 115.6h1M72 110.7h1M95.5 117.2h1M79.8 128.3h1M69.3 116.9h1M97.6 114.1h1M71.1 128.8h1M96.8 98.8h1M90.9 123.2h1M98.9 106.8h1M100.1 104.2h1M78.5 129.3h1M97.1 106.5h1M79.3 129.8h1M72.4 129.6h1M96.8 97.6h1M87.7 123.1h1M87.6 124.2h1M94.6 100.9h1M82.1 129.4h1M96.4 97.2h1M86.3 125h1M82.2 128.9h1M91.3 122.5h1M96 100.7h1M91.1 120.6h1M96.3 98.3h1M94.9 116.2h1M98 97.9h1M69.3 124.9h1M75.2 105.8h1M75 130.9h1M99.9 105.5h1M96.9 109.3h1M86.1 127.2h1M70.3 121.4h1M73.6 109h1M95.3 95.9h1M68.2 124h1M72 129.2h1M96.6 99.3h1M77.5 128.5h1M77.2 131.3h1M70.8 126.6h1M95.8 96.6h1M72.5 110h1M84.8 127.5h1M89.5 124h1M98.6 100.5h1M70.2 128.8h1M87.8 125.9h1M95.9 115.4h1M93.1 119.1h1M86 99.7h1M99.1 105.7h1M93.6 120.2h1M86 126.8h1M84.6 98h1M98.4 101.3h1M87 126.3h1M80 100.4h1M77.9 130.9h1M84.2 98.5h1M92.2 97.1h1M89.3 122.8h1M92.5 122h1M73 129.3h1M84.1 98.7h1M70.7 114.4h1M88.4 96.1h1M77.1 104.2h1M91.8 96h1M85.5 128h1M93.9 117h1M73.2 129.2h1M85.1 126.2h1M84 99.7h1M99.9 103.6h1M79.2 129.2h1M86.6 96.6h1M73.7 130.6h1M69.3 127.3h1M97 108.6h1M93.3 120.5h1M89.1 96.1h1M84 128.8h1M92.8 96.1h1M71.4 129h1M96.8 111.4h1M80.4 100.8h1M83.9 128.5h1M69.8 121.9h1M87.1 98.2h1M99.4 106h1M90.3 122.8h1M73.7 107.9h1M79.1 101.5h1M70.1 117.4h1M89.7 122.8h1M99.8 102.9h1M72.3 130.2h1M94.3 99.9h1M94.7 98.3h1M75.6 105.8h1M95.1 116.8h1M82.4 99.7h1M77.9 129h1M93.8 97.7h1M71.3 113.9h1M85.1 126.6h1M87.1 126.4h1M94.1 98.6h1M81.6 100h1M76.8 104.6h1M74.7 106.9h1M69.7 117.7h1M95.2 116.5h1M87.9 98.4h1M76.8 104.5h1M70.9 128.4h1M94 116.8h1M94.5 118.2h1M87.7 97.9h1M73.6 130.9h1M84.1 127.9h1M71 123.6h1M99.4 109.3h1M87.7 97.3h1M76.2 130.2h1M90.3 123.5h1M96.8 99.1h1M96.4 96.4h1M91 122.9h1M71.6 115.6h1M92.8 120.9h1M74.4 128.6h1M95.7 117.4h1M82.8 100.4h1M99.9 102.9h1M68.7 120.8h1M96.6 114.7h1M73.2 110.9h1M85.3 99.4h1M69.2 116.2h1M86.3 125.4h1M98.2 103.6h1M71.3 129.4h1M69.9 115.2h1M96 104.2h1" stroke="#8c8c8c" stroke-width="1" fill="none" opacity="0.85"/>
<path d="M94.1 127.7h1M91.5 127.2h1M66 128.9h1M68.1 114.6h1M75.8 98.6h1M95.4 90.9h1M64.7 128.3h1M98 95.1h1M67.6 117.4h1M101 96.5h1M85.3 131.7h1M67.3 124h1M99.6 100.2h1M100.3 93.4h1M99.3 119.9h1M68.7 111.2h1M100.5 105.6h1M99.1 117.3h1M84.7 131.2h1M67 130.3h1M71.9 107.2h1M69.6 110.5h1M70.6 133.4h1M69.2 133.1h1M68 127.6h1M98.7 116.5h1M71.5 103.4h1M86.4 93.1h1M81.6 98.2h1M81.3 132.2h1M96.5 92.4h1M70.2 112.7h1M80.1 94.5h1M97.1 92.3h1M101 99.5h1M68 118.6h1M104.2 102.9h1M69.8 129.2h1M100.9 96.4h1M84.3 93h1M68.1 119.4h1M71.3 103h1M93.5 120.8h1M71.4 101.9h1M74.8 133.9h1M78.6 97.5h1M93.1 90.8h1M105.1 104.2h1M96 118.8h1M97.1 116h1M100.1 93.3h1M100.7 109.5h1M92.4 92.7h1M68.5 107.6h1M64.2 125.1h1M101.7 98.4h1M98.3 91.5h1M96.2 125.1h1M92.4 94.1h1M79.9 94.8h1M72.8 103.7h1M67.9 126.8h1M102.1 103.2h1M101.4 108.6h1M65.9 112.2h1M101.1 94.2h1M92.9 94h1M93.3 93.4h1M70 129h1M69 115.9h1M101.4 107.2h1M95.7 95.2h1M104.5 105.1h1M67.6 107.1h1M98 117h1M96.2 95.8h1M101.1 102.4h1M102 112.8h1M77.4 133.1h1M102 112h1M98.9 115.6h1M101.3 109h1M88.1 127.9h1M101.9 95.5h1M76.8 133h1M89.1 125.9h1M67.3 130.9h1M100 94.8h1M96.3 94.6h1M95.9 125.1h1M75.1 105h1M88.6 132.2h1M80.2 96.8h1M68.8 116.2h1M88.7 128h1M64.8 124.4h1M87.3 132.5h1M84.5 132h1M87.4 91.5h1M90.2 128.7h1M71.2 108.3h1M68.2 124.7h1M70.3 133h1M65.7 120.6h1M71.5 106.1h1M82.7 98h1M82.2 133.3h1M97.8 123h1M78.2 97.4h1M79.5 131.5h1M85.5 94.1h1M84.6 133.4h1M67 109.7h1M67 118h1M87.2 129.9h1M66.7 129.9h1M67.8 127.5h1M70.6 111.7h1M102 114.9h1M69.5 111.3h1M84.6 131.4h1M93.6 92.3h1M100.1 103.2h1M102.6 95.4h1M80.2 98.9h1M65.3 128h1M88.2 91.3h1M67.5 123.9h1M103.3 107.3h1M78.4 133.4h1M85 95.4h1M100 97.2h1M74.4 134.4h1M92.1 91.4h1M63.6 119.1h1M84.1 95.9h1M103.2 105.4h1M65.5 122.1h1M70.6 130.6h1M101 110.8h1M76.1 132h1M94.6 92.7h1M91.5 94.4h1M81.1 97.7h1M88 130.3h1M80.9 130.9h1M68.4 117.9h1M66.6 111.8h1M91.6 90.7h1M92.3 93.2h1M83.2 132.5h1M98.1 116.3h1M69.2 132.7h1M88.3 126.8h1M67.7 127.3h1M93.6 93.8h1M97.7 95.5h1M101.6 116.6h1M104.5 107.3h1M100 95.4h1M70.3 112.1h1M93.3 123.5h1M96.2 124.8h1M86.8 130.8h1M102.9 113.9h1M100.5 98.5h1M77 98.5h1M92.4 123.5h1M63.9 125.3h1M103.4 113h1M103.2 101.9h1M102 99h1M98 122.8h1M101.1 101.9h1M86.9 91.6h1M89.6 95.1h1M66.4 124.7h1M93.4 126.4h1M101.3 115.6h1M100.8 111.2h1M85.2 92.6h1M89.1 129.5h1M74.3 133.8h1M81.7 97.1h1M67.4 130.7h1M100 120.5h1M81.1 94.9h1M100.5 104.7h1M82.3 97.7h1M91.5 90.3h1M67 118.6h1M100.1 120h1M96.5 118.5h1M100.9 107.8h1M78.8 95h1M75.1 100.1h1M75.8 97.9h1M75.5 97.8h1M67.9 124.6h1M98 96.2h1M87.2 127.9h1M67.7 115.8h1M99.7 98.5h1M75.4 132.7h1M95.1 93.9h1M91.6 94.4h1M74.5 133h1M77.5 97.2h1M70.1 106.1h1M67.9 119.6h1M78.8 132.6h1M101.5 100.5h1M90.7 90.5h1M102.2 101.1h1M66 126.4h1M69.4 112.3h1M71.6 110h1M66.3 117.8h1M66.2 125.1h1M63.8 123.1h1M102.9 110.1h1M66.8 115.6h1M75.4 104.7h1M103.8 99.2h1M96.7 118.2h1M96.3 93.6h1M74.3 134h1M82.2 133h1M83.4 94.4h1M65 114.5h1M80.4 98.6h1M91 90.3h1M70.7 132.3h1M92.4 90.8h1M66.3 129.8h1M67.5 131.1h1M78.8 132.1h1M104 109.1h1M95.5 95.3h1M80.5 98h1M86.2 128.4h1M67 125.6h1M79.1 95.6h1M77.9 96.5h1M78.2 96.4h1M100.7 102h1M65.5 120.8h1M76.3 134.7h1M75.5 136.2h1M95.9 121.5h1M68 131.1h1M66.3 121.3h1M93.1 127.6h1M65.3 113.4h1M89.4 90.6h1M100.2 93.1h1M100.1 101h1M66 129.5h1M92.8 125.2h1M102.7 114.4h1M66 120.7h1M80.7 99.2h1M82.1 95.5h1M100.4 106.5h1M98.6 96.1h1M64.6 129.5h1M101.8 94.2h1M67.1 130.9h1M67 128.4h1M73.2 107.9h1M75.8 133.1h1M66.7 121.7h1M102.7 107.5h1M101.6 98.1h1M92.6 127.1h1M65.4 127.6h1M65.3 119h1M101 96.1h1M87.4 127.6h1M81.9 130.4h1M98 95.4h1M100.2 95h1M69.1 115.7h1M69.2 132.7h1M81.1 94.9h1M102.1 96h1M103 105.5h1M65.6 122.6h1M98.7 116.2h1M99.9 93.6h1M104.3 106.8h1M88.8 92.8h1M91.6 91.1h1M66.6 116.4h1M67.7 132.4h1M73.1 101.3h1M81.7 93.7h1M74.1 102h1M102.9 96.4h1M102.2 115.5h1M83 96.4h1M67.5 125.5h1M102.8 110.5h1M71.1 107.4h1M70.3 134.6h1M71.8 110.1h1M100.7 101.2h1M71.5 130.9h1M70.3 112.2h1M92.6 122.1h1M75.8 104.5h1M73.8 106.3h1M100 101.8h1M102.2 104.7h1M80.4 96.9h1M89.1 94h1M102.6 105.9h1M68 125.5h1M99.5 121.1h1M67.5 116.9h1M93.6 91.3h1M86.5 94.8h1M65.5 131.2h1M93.9 122h1M100.2 103.1h1M68.9 112.1h1M68 124.5h1M93.6 128.4h1M90.8 130.6h1M97.1 117.9h1M93.6 121h1M71.1 134.6h1M98 122.8h1M64.7 129.2h1M99.8 119.5h1M67.1 129.1h1M87.9 94.9h1M99.8 114.8h1M83 97.3h1M72.8 134.7h1M94.6 124.8h1M82.5 132.4h1M74.5 135.4h1M100.8 95.6h1M72.8 106.9h1M70 131.5h1M95.7 123.7h1M99.8 96h1M72.7 101.7h1M96.9 91h1M102.4 115.8h1M84.3 131.8h1M67 127.7h1M102.8 102h1M100.7 95.5h1M63.2 120.1h1M65.2 125.9h1M74.4 135.4h1M63.2 121.9h1M65.9 128h1M72.7 101.5h1M101.1 111.5h1M66.7 127.7h1M102 103.2h1M99 113h1M70.2 130.7h1M76.2 97.1h1M96.9 94.9h1M71.3 108.5h1M101.3 115h1M74 134.4h1M96.9 119.6h1M89.2 93.8h1M94.6 120.8h1M98.1 97.1h1M95.4 95.5h1M85.4 95.3h1M102.1 109.1h1M65.7 120.9h1M66.4 113.1h1M103.9 109.8h1M102.7 105.8h1M98.5 95.9h1M70.7 102.9h1M77.1 132.3h1M89.2 92.3h1M70.8 130.9h1M101.9 111.2h1M64.4 114.4h1M71.6 130.9h1M87.5 132.2h1M91.8 94.4h1M68.2 108.4h1M66.4 119.1h1M102.5 101.8h1M89.8 127.5h1M81.9 135.1h1M73.5 103.2h1M102.6 109.2h1M74.8 101.5h1M97.1 119.7h1M71.8 107.8h1M100.8 99.1h1M94.6 91.2h1M87.7 93.4h1M102.5 104.4h1M81.2 95.2h1M77.3 136.1h1M67.4 118.1h1M76.3 135.7h1M80.7 135h1M68.9 129.3h1M70.4 130.4h1M96.2 125.3h1M80.1 98.5h1M89.3 125.7h1M95.3 95h1M97.9 117.2h1M67.9 123h1M88.3 128.5h1M83.3 94.7h1M102.1 96.4h1M104 100.3h1M104.4 106.2h1M102.7 114.6h1M95.3 122h1M97.8 92.4h1M67.1 130.2h1M78.2 101.8h1M91.6 94.2h1M89.4 126.6h1M98.2 96.2h1M99.3 97.5h1M66.5 121.9h1M75.7 103.1h1M79.5 132.2h1M85.3 95.7h1M101.3 114h1M101.6 104.3h1M80.4 131.3h1M104.7 105.1h1M77.7 99.6h1M105 105.8h1M66.7 112.9h1M71.3 131.2h1M100.6 101.9h1M68.8 133.6h1M98.6 115.6h1M77.6 102.2h1M94.9 92.1h1M99.6 100.3h1M100.4 102.3h1M99.7 118.7h1M70 130.8h1M73.4 101.2h1M95.4 92.6h1M99.9 108.7h1M104.8 103.4h1M74 104h1M85.9 132.2h1M69.5 132.8h1M69.4 131h1M67 132.2h1M71.8 130.7h1M92.5 93.7h1M73.5 99.9h1M75.1 103.8h1M65.9 123.1h1M63.8 121.8h1M99 96.8h1M101.3 101.2h1M89.5 126.6h1M64.6 119.6h1M75.2 134h1M68.5 130.3h1M63.8 119.6h1M103 109.1h1M95.9 118.5h1M93.6 128.1h1M64.9 119.7h1M64 124h1M65.6 118.3h1M90.5 130.8h1M93.8 123.4h1M99.8 114.9h1M75.5 134.1h1M69.7 110.5h1M99.7 116h1M81.9 135.1h1M101.9 96.4h1M67.3 119.7h1M81.3 94.6h1M99.4 111h1M97.5 96h1M82.4 96.2h1M80.1 134.1h1M88.6 126.9h1M72 104.4h1M96.1 92.9h1M73.5 136h1M97.3 118.3h1M100.8 93.5h1M69.1 112.2h1M66.5 110.7h1M91.8 127.6h1M99.2 118.3h1M69.9 109.1h1M88 95.3h1M72.7 104.5h1M72.7 104.4h1M70.3 133h1M79.6 100.3h1M91.9 92.7h1M102.3 95.8h1M79.8 135.3h1M97.2 94.1h1M92.2 126.2h1M78.8 95.6h1M63.1 123.2h1M74.2 132.5h1M94.2 124.5h1M101.2 97h1M72.3 104.3h1M94.8 94.2h1M76.9 97.9h1M66.6 114.2h1M75.7 100.5h1M67.7 124.7h1M64.7 126.7h1M101 98.9h1M102.1 98h1M66.6 126.9h1M68.4 118.5h1M104.4 105.1h1M90.8 127.7h1M100.8 105.4h1M66.1 125.5h1M96.1 95h1M66.8 109.6h1M77.6 99.2h1M81.3 131.4h1M77.9 135.5h1M87.9 92.4h1M98.4 115.5h1M88.7 129.8h1M67.2 124.1h1M65.1 127.8h1M67.8 129.4h1M89.4 130.5h1M70.1 129.5h1M101.6 103.7h1M82.2 132.5h1M63.9 118.6h1M96.1 118h1M76.5 136.5h1M80.1 100.1h1M85.9 129.1h1M102.7 103.9h1M67 129.3h1M76.8 133.9h1M91.5 94.5h1M94.1 91.8h1M71 104.3h1M102.2 97.8h1M88.5 91h1M68.2 112.9h1M85.6 130.4h1M101.5 104.6h1M102.4 96.6h1M83.4 130.1h1M95.7 90.9h1M64.3 128.4h1M102.8 103.7h1M68.5 111.5h1M98 94.7h1M103.8 100.2h1M105 104.1h1M92.4 123.6h1M80.8 94.8h1M93.6 127.2h1M86.3 94.3h1M73 104.4h1M95.5 95.8h1M76.8 101.4h1M102.8 105h1M95.5 122.8h1M88.5 130.6h1M79.3 135.2h1M76.2 101.4h1M90.4 93.8h1M73.5 105.6h1M101.9 108.5h1M71.8 131.3h1M92.5 91.9h1M71.7 109.4h1M66.1 128.8h1M81.2 98.8h1M88.3 91.6h1M67.7 132.6h1M103.1 106.3h1M72.6 100.5h1M66.9 126.4h1M99.1 116.3h1M75.7 132.5h1M82.7 132.9h1M91.9 125.9h1M102.8 114.9h1M94.2 92.4h1M76.5 131.5h1M90.4 94.4h1M81.9 94.8h1M94.8 91.1h1M80.2 96.4h1M104.9 106.4h1M80.4 94.7h1M97.6 92.5h1M71.5 104.2h1M96.7 119.6h1M73.1 131.1h1M73.2 133.9h1M86.4 131.7h1M66 111.7h1M99.3 117.7h1M69.3 131.3h1M70.2 112.2h1M71.8 105.9h1M101.5 94h1M99 117.9h1M74 135.1h1M69.3 134.5h1M79.9 132.1h1M96.1 94.6h1M91.1 91.4h1M84 129.3h1M87.1 129.1h1M104.2 104.5h1M81 134.8h1M93.7 122.1h1M76 131.4h1M63.3 123.9h1M67 128.8h1M101.3 98h1M102.8 99.6h1M104 105.3h1M76.3 133.2h1M76 100.2h1M91.7 91.2h1M101.9 102.6h1M88.8 92.7h1M66.9 117.7h1M102.5 115h1M78.4 101.5h1M100.5 116.9h1M73.7 102.8h1M99.1 118.4h1M90.9 125.3h1M67.5 107.7h1M66.8 115.3h1M64.8 118.6h1M77 131.8h1M101.5 103.1h1M72.7 135.7h1M68.1 123.9h1M66.3 121.9h1M81.1 98.3h1M86.8 129.3h1M68.9 132.2h1M104.5 103.6h1M70.7 132.9h1M102.9 96.6h1M65.4 127.8h1M69.5 134.6h1M80.4 99h1M100.6 118.3h1M96.9 92.2h1M78.9 95.1h1M70.1 113.1h1M99.5 110.8h1M80.3 130.8h1M70.7 112.2h1M101.2 102.4h1M101.6 112.1h1M95.9 93.7h1M74.8 104.6h1M91 129h1M100.6 107.2h1M96.8 124.8h1M101.6 105.6h1M86.4 96.2h1M97.1 95.6h1M68.5 126.1h1M92.6 94h1M86.6 131.5h1M101.8 102.1h1M68.1 124.2h1M77 133.1h1M66.4 121.5h1M82.1 97.2h1M87 92.3h1M91 124.6h1M102.8 103h1M68.3 118.7h1M85 94.5h1M102.5 112.5h1M72.2 106.2h1M95.4 119.1h1M85.2 131.6h1M65.7 111.1h1M69.8 133.4h1M65.9 119.4h1M86.1 93.4h1M75.6 102h1M76.2 133.4h1M99.6 119.4h1M90.2 90.8h1M77.7 98.7h1M98.5 93h1M100.9 94.4h1M88.4 92.6h1M63.5 121h1M94 92.3h1M69.5 132.1h1M83 133.7h1M71.2 133.6h1M89 131.4h1M75 99.4h1M102.7 101.9h1M98.1 120.7h1M77.8 96.3h1M67.2 128.2h1M96.6 94.5h1M102.9 112.6h1M100.6 104.5h1M71.4 133.1h1M68.3 118.1h1M100.5 116.6h1M63.9 117.5h1M95.5 90.7h1M86.3 129.9h1M63.9 124.4h1M99.3 94.3h1M71.4 131.4h1M87.4 95.7h1M98.9 118.4h1M100.4 98h1M86.5 91.7h1M65.3 112.7h1M68.3 131.2h1M91.7 127.4h1M89.8 125.7h1M81.8 132h1M103.9 107.8h1M94.3 123.8h1M96.3 94.4h1M100.7 96.6h1M101.1 112.4h1M87.6 129.6h1M98.2 118.1h1M101.2 112.9h1M95.2 90.7h1M83.5 134.2h1M84.3 94.4h1M73.9 106.6h1M102.6 113.9h1M73.4 134.4h1M70.5 111.3h1M77.6 96.5h1M68.1 130.6h1M88.4 94.5h1M64.1 121.5h1M101 108.7h1M64 119.7h1M70.6 133.3h1M100.8 99h1M66.9 118.5h1M71.3 108.3h1M67.4 124.2h1M66.9 121.5h1M100.4 98h1M97 95h1M83.4 95.5h1M97.6 117.8h1M99.5 93.2h1M66.1 127.1h1M89.2 126.5h1M93.8 92.5h1M68.9 113.1h1M69.1 107.3h1M70.6 132.3h1M81.9 135.2h1M94.8 119.7h1M89.4 94.6h1M72.4 102.8h1M95.2 120.5h1M100.2 107h1M67.1 113.5h1M94.2 90.7h1M84.8 94.6h1M99 117.2h1M85.9 96.7h1M75.1 99.3h1M77.4 95.9h1M68 123.8h1M83.5 130.4h1M85.1 96h1M66.5 131.2h1M104.4 99.4h1M67.8 133.4h1M69.7 130.1h1M93.4 123.6h1M74.2 134.8h1M67.6 126.8h1M103.8 110.9h1M84.5 95.1h1M77.8 100.7h1M98.3 96.7h1M69.3 104.7h1M91.2 94.5h1M80.8 93.7h1M99.9 100h1M78.6 96.2h1M72.6 132.4h1M95.7 125.6h1M97.7 91.5h1M67.9 107.3h1M93.4 123.1h1M72.5 108.3h1M63.6 117.6h1M74.7 134.4h1M98.2 115.4h1M67.9 112.4h1M81.1 93.9h1M95.5 95.3h1M70.1 107h1M85.9 128h1M102 102.3h1M69.3 132.8h1M83.8 95.4h1M81.5 134.3h1M89.5 93.3h1M85.6 93.7h1M84.7 95.1h1M102.2 100.7h1M81.3 132.6h1M97.3 95.4h1M100.5 101.1h1M64.6 122h1M82 97.7h1M86.9 127.4h1M69.2 134.6h1M82 131h1M68.2 126.3h1M75.2 100.7h1M97.9 94.8h1M86.5 131.9h1M68.2 131h1M65.7 126.3h1M81.4 133.9h1M70.6 130.5h1M103.7 101.2h1M93.4 124.1h1M103.2 100h1M74.1 102.3h1M81.4 130.9h1M101.2 103.2h1M96.7 119.8h1M68.1 121.3h1M94.9 123.5h1M77.6 131.7h1M68.8 110.1h1M96.3 125.4h1M89.3 90.8h1M89.4 92.2h1M79.3 100.5h1M83.3 95.6h1M101.5 107.1h1M75.6 103.2h1M101.8 95.3h1M94.6 93.6h1M91.7 93.9h1M64.6 125.9h1M81.5 131.2h1M82.9 133.4h1M87.8 94.3h1M71.7 133.7h1M79.7 97.9h1M71.8 102.2h1M73.9 105h1M69.1 105.6h1M100.2 107.6h1M97.5 114.9h1M82.1 92.9h1M88.6 128.5h1M74.4 102h1M96.3 95.5h1M93.4 90.4h1M95.7 122h1M88.7 130.9h1M71.6 133.9h1M85.9 95.6h1M100.2 116.3h1M71.1 131.3h1M76.3 134.7h1M100.7 113.8h1M70.7 111.5h1M68.8 112.3h1M88.7 94.9h1M67.8 115h1M101.9 114.7h1M81.6 130.3h1M72.6 106.8h1M68.9 106.4h1M84.4 129.6h1M100.7 110h1M66.4 123.8h1M99.1 93.9h1M103.7 97.3h1M102.5 105.5h1M82.7 132.9h1M96.1 90.8h1M65.8 128.8h1M69.9 110h1M91 91.2h1M66.4 123.6h1M71.3 130.8h1M70.9 131.4h1M70.6 108.3h1M72.9 103.9h1M99.4 114h1M88 91.8h1M72.1 132.8h1M73.8 136.1h1M79.2 95h1M97.7 92.2h1M68.2 134.1h1M73.4 132.3h1M83.2 97.3h1M97.9 95h1M70.9 133.3h1M96.5 95h1M64.6 125.4h1M97.8 120.2h1M100 110.2h1M77.5 132.1h1M79.6 133.7h1M84.2 92.6h1M71.1 130.4h1M72.5 102.2h1M101.2 112.9h1M63.3 121.8h1" stroke="#2a2a2a" stroke-width="1" fill="none" opacity="0.92"/>
<path d="M82.2 134.1h1M94.7 120h1M64 128.3h1M102.3 99.8h1M70.8 135.1h1M71 107.3h1M99.8 108.6h1M88 132.4h1M96.9 95.1h1M72.8 105.9h1M98.1 122.6h1M87 133h1M67.2 131.5h1M102.9 97.3h1M65.8 115.6h1M90.5 127.9h1M67.7 117.1h1M72 107.2h1M75.1 98.5h1M90.4 91.6h1M86.2 94.4h1M81 98.7h1M70.5 111h1M100.2 98.4h1M83.2 97.5h1M67.2 127h1M79.6 100.4h1M63.8 126.7h1M97.2 91.2h1M71.1 107.4h1M72.8 104.9h1M72.7 132.3h1M96.7 95.8h1M68 132.7h1M90.2 94.1h1M104.7 107h1M66.1 125.8h1M96.3 120.2h1M101.4 111.9h1M66.4 112.2h1M100.3 115.5h1M74 132.3h1M102.5 114.7h1M99.8 116.2h1M83 97.3h1M85.9 132.4h1M68 123.2h1M96 94.1h1M74.5 102.8h1M78 102.1h1M74.4 132.9h1M63.9 117.8h1M80 96.6h1M97.5 117.1h1M82.6 97.9h1M95.9 123.8h1M91.4 126.1h1M81.4 98.5h1M91.5 129.9h1M88.6 127h1M88.3 131.4h1M101.6 96.9h1M100 101.3h1M67.3 127.4h1M66.3 111.8h1M87.5 92.7h1M69.1 114.4h1M84.4 130.1h1M101.2 111.6h1M84.3 97.1h1M71.7 132h1M82.4 94.9h1M100.1 106.9h1M103.7 101.7h1M90.8 92.6h1M91.5 91.1h1M102.6 111.7h1M66.4 126.9h1M68.4 118.3h1M98.7 96.8h1M101.2 103.2h1M73 102.8h1M71.4 105.5h1M100.9 101.5h1M100.1 101.3h1M65.4 128h1M64 125.9h1M100 119h1M85.5 92.9h1M69.6 112.4h1M91 94.6h1M82.1 94.4h1M84.6 94h1M68.4 114.3h1M96 121.9h1M104.2 99.3h1M79.3 100.2h1M80 96.6h1M72.8 135.8h1M86.7 129.5h1M99.8 120.8h1M73.5 132.4h1M101.4 104.4h1M82.4 98.3h1M68.4 128.7h1M85.3 94.2h1M99.8 96h1M101 93.9h1M81.9 131.7h1M98.2 114.3h1M75.9 133.8h1M101.2 97.7h1M95.4 118.4h1M70.7 133.8h1M65.8 131h1M90.1 126.9h1M83.3 94.7h1M63.9 126h1M91 91.3h1M65.3 123.6h1M100.6 102.8h1M70.8 130.9h1M93.4 123.9h1M90.3 92.2h1M94.3 94.3h1M77.6 102h1M101.7 117.2h1M74.7 99.6h1M83.7 94h1M95 124.9h1M75.5 135.7h1M81.2 94.1h1M71.2 130.8h1M75.1 103.3h1M63.2 121.2h1M71.7 132.7h1M99 97.8h1M64.7 121.2h1M83.3 95.3h1M86.7 129.1h1M101.1 110h1M101.9 113.5h1M73 105.6h1M104.6 103h1M85.5 95.9h1M84.8 92.7h1M95.4 120.3h1M93.6 128.1h1M72.5 130.8h1M89.5 126.4h1M71.9 109.6h1M103.2 98.3h1M66.4 123.1h1M97.1 119.5h1M101.3 105.4h1M70.8 131.7h1M99.7 92.8h1M98.4 120.2h1M100.8 98.6h1M76.7 103.3h1M98.3 97.2h1M93.7 93.4h1M92.8 123.8h1M103.2 101.6h1M101.6 97.5h1M95 94.8h1M102.2 100.6h1M95.7 124.5h1M99.7 109.2h1M77.6 133.1h1M75.7 102.5h1M86 132.8h1M93.3 124.8h1M69.2 107h1M71.1 134.1h1M101.8 115.5h1M96.8 118.6h1M64.4 119.3h1M91.6 128.4h1M100.1 106.2h1M102 109h1M91.7 91.8h1M67.3 112.1h1M69.9 104.4h1M68.3 128.5h1M77.9 97.6h1M81.2 95.6h1M96.3 121.4h1M65.2 127.7h1M73.3 104.7h1M83.4 94.1h1M66.6 116h1M99.2 115.1h1M81 131.7h1M101 113.7h1M101.1 117.4h1M98.2 96.4h1M96.5 91.4h1M89.9 125.3h1M76.2 96.9h1M74.3 102.5h1M91.3 93.1h1M97.7 122.6h1M94.1 94.8h1M75.9 131.8h1M78.6 96h1M95.7 119.6h1M68 113.7h1M93.2 91h1M102.6 99.5h1M73.1 101.7h1M63.4 125.8h1M80.5 98.6h1M77 99.8h1M69 127.2h1M95.4 91h1M99.1 92.5h1M77.8 135.1h1M67.3 119h1M102.1 97.5h1M101.1 97.5h1M98 94.4h1M80.3 133h1M73.6 107.1h1M91.5 94.4h1M92.3 122.6h1M64.5 123.7h1M68.6 106.3h1M69.1 128.8h1M81.5 94.3h1M85.4 129.4h1M68.8 115.3h1M100.7 99.1h1M80.5 134.9h1M97.9 114.6h1M100 99.2h1M90.5 91.1h1M96.7 116.7h1M64.1 125.9h1M67.1 132.4h1M76.6 134.5h1M81.1 132.1h1M102.5 110.1h1M78.1 97.2h1M80.2 131.5h1M89.5 125.7h1M66.5 118.2h1M86.2 93.4h1M104.8 102.4h1M94.7 91.1h1M81.8 133.8h1M77.8 135.6h1M82.7 131.8h1M103.7 98.4h1M101.7 95.8h1M76 101.8h1M91.9 127.2h1M98.7 116.4h1M69.9 131.1h1M91.8 129.6h1M97.5 92.5h1M66 127.3h1M63.9 126.2h1M98.6 121.9h1M71.6 109.4h1M100.5 102.2h1M92.6 129h1M93 122.9h1M101.2 100.3h1M70.5 132.8h1M70.7 131.1h1M99.1 92h1M90.5 92.8h1M99.6 117.4h1M79.7 135.5h1M94.9 122.5h1M64.8 127.4h1M81.5 93.3h1M87.8 91.8h1M102.4 99.8h1M95.5 124.6h1M84.6 97.1h1M67.5 107.9h1M80.2 96.1h1M69.7 113.6h1M81.2 132.8h1M65.3 125.3h1M100.1 111.4h1M92.9 94.5h1M96.2 92.4h1M100.9 118.7h1M101.4 111.2h1M85.7 132.3h1M75.4 103h1M79 135.4h1M90.9 90.2h1M70.9 133.7h1M66.8 127.7h1M91.4 94.5h1M97.5 123.3h1M101.5 101.1h1M85.4 92.2h1M100 107.3h1M92.7 93.2h1M93.9 126.6h1M99.7 111.1h1M71.7 130.6h1M99.2 114.4h1M103 99.3h1M74.1 133.3h1M78.9 134.2h1M103.3 100.6h1M71.8 109.3h1M91.7 124.2h1M91.4 126h1M86.1 129.1h1M86.7 131.6h1M73.7 104.6h1M103.3 103.7h1M81.7 134h1M65.8 113.9h1M77.3 97.1h1M93.9 125.5h1M96.7 94.4h1M73.2 131.1h1M77.7 100.3h1M103.5 101.5h1M93.9 127.8h1M68.6 126.6h1M80.2 131.7h1M69.8 129.5h1M92.1 94.5h1M67.3 124.9h1M81 133.1h1M70.4 131.8h1M103.6 97.3h1M68.2 119.3h1M71.4 134.9h1M65.3 120.1h1M101.3 105.6h1M104 101.4h1M66.1 131.7h1M80.2 100.2h1M64.4 128.9h1M97.7 114.7h1M67.7 119.3h1M101.9 102.1h1M97.9 115h1M85.6 95.3h1M72 133.9h1M104.3 106.9h1M100.8 100.5h1M87.5 91.5h1M88.9 90.8h1M69.6 130.7h1M70.4 133.7h1M73.6 106h1M101.5 103.7h1M74 100.2h1M89.3 125.6h1M97.1 122.6h1M97.4 91.1h1M94.9 91.6h1M80.5 134.9h1M88 95.6h1M81.3 98.8h1M102.1 108.7h1M66.9 129.2h1M64.3 121.8h1M101.1 100.8h1M68.5 126.2h1M76.9 100.3h1M64.5 127.5h1M68.9 131h1M98.5 113.4h1M101.8 112.6h1M77.1 98.7h1M66.3 127h1M103.8 98.1h1M75.5 97.9h1M79 101h1M64.1 125.3h1M103 101.2h1M66.5 112.7h1M73.8 132.5h1M74.1 100h1M83.1 92.5h1M66.5 113.8h1M68.7 127.5h1M96.2 122.9h1M64 126.5h1M100.5 117.9h1M102.5 101.2h1M89.7 94.4h1M89.9 125.8h1M71.1 105.5h1M67.8 119.5h1M89.9 93.1h1M79 135.9h1M102.4 108.9h1M68.4 113.7h1M89.9 126.1h1M101.5 114.6h1M67.9 124.9h1M71.2 109.8h1M85.4 93.6h1M100 101.7h1M69.5 113.3h1M88.1 132.1h1M67.8 131.3h1M99.7 110.2h1M65.5 113.9h1M103.9 110.3h1M100.7 102.9h1M101.8 110.7h1M67.3 113.9h1M68.9 110.8h1M65.3 126.4h1M99.2 118.5h1M84.5 129.6h1M72.7 105.1h1M67 130h1M72.8 102.1h1M100.8 114.9h1M102.8 107.4h1M66 116.2h1M103.3 96.6h1M69.9 132.7h1M67.7 122.1h1M96.1 92.1h1M67.9 115h1M104.1 109h1M91.1 124h1M103.4 99.8h1M96.1 93.5h1M100.6 118.1h1M73 132.1h1M102.9 98.2h1M95.1 120.9h1M70.2 133.8h1M85.1 130.5h1M100.1 98h1M90.6 92.4h1M76.9 99.2h1M67.2 124h1M67.4 110.8h1M74.5 133.8h1M79.3 133.1h1M87.2 127.6h1M99.4 92.1h1M103.9 107.4h1M79.6 99.8h1M90.7 90.6h1M102.6 115.5h1M75.3 101.2h1M70.8 107h1M66.4 112.5h1M74.6 101.2h1M88.7 128.4h1M80.6 98.4h1M102.9 106.8h1M72.8 136.1h1M99.3 120.7h1M101.6 102.7h1M100.6 102.9h1M80.4 135.5h1M91.5 127.2h1M73.8 106.4h1M67.7 115.4h1M68.4 133.2h1M68.7 116.3h1M68.7 130.6h1M68.3 126.8h1M66.4 131.6h1M67.6 123h1M75.8 97.4h1M91.8 127.1h1M75.2 101.7h1M81 97.3h1M73.9 101h1M72.6 133.8h1M96 93.9h1M86.1 131.1h1M68.1 111h1M69.9 110.2h1M86.8 132.8h1M99.3 119.6h1M85.2 94.6h1M85.2 132.1h1M97.6 93.8h1M100.3 93.8h1M77 100.7h1M65.9 124.5h1M65.7 128h1M68.9 111.4h1M104 110.2h1M99.2 94.9h1M81.2 97h1M87 91.2h1M72.9 102.7h1M63.8 119.5h1M97.3 96.4h1M67.1 119.1h1M76.1 134.8h1M80.3 99.5h1M68.8 106.4h1M66.3 125.9h1M64.3 129h1M74.7 134.8h1M85.9 96h1M74 133.1h1M89.9 128.6h1M98.1 95.4h1M70.7 130.5h1M102.9 96.7h1M66.4 127.4h1M103.2 104.1h1M93.4 125.2h1M66.5 118.7h1M94.2 91.3h1M70.2 110.5h1M89.8 90.9h1M64.6 121.7h1M94.1 120.5h1M72.9 134.7h1M73.7 133.2h1M100.9 117.6h1M99.6 114.1h1M98.3 121.2h1M92.9 122.1h1M65.2 120.9h1M70.7 110.9h1M70 134.5h1M80 98.5h1M92.8 91.2h1M79.1 96.1h1M87.3 128.7h1M101.8 101.4h1M86.7 133.2h1M92.6 125.6h1M91.3 94.7h1M64.2 117.2h1M82.6 133.8h1M67.4 131.6h1M69.7 112.5h1M102.1 100h1M74.6 103.6h1M88.5 130.6h1M68.9 129h1M102.4 95.4h1M97.6 95.7h1M87.4 130.8h1M101.7 110.1h1M99.9 120.2h1M96.6 92.3h1M67.7 113.3h1M68.8 130.6h1M66.7 124.7h1M74.6 99.8h1M94.8 93.9h1M77.9 135.2h1M99.9 98.9h1M70.3 133.8h1M68.1 107.6h1M81.2 94.9h1M100.6 99.4h1M104 104.3h1M90.9 92.1h1M99.4 112.7h1M91.9 129.4h1" stroke="#585858" stroke-width="1" fill="none" opacity="0.9"/>
<path d="M67.4 111.6h1M72.1 134.2h1M67.6 117.1h1M67.8 118.5h1M73.3 133.3h1M101.9 115.2h1M68.6 112.9h1M86.7 92.1h1M100.3 104.3h1M66.7 110.7h1M75.1 98.7h1M99.2 110.5h1M66.8 129.3h1M101.6 111.1h1M100.6 94h1M81.8 96.7h1M92.2 125.1h1M66.9 121.5h1M67.4 122.3h1M66.3 118.9h1M70.5 132.7h1M95.8 124.2h1M82.2 94.7h1M64.1 123.8h1M77.4 100h1M83.8 92.9h1M92.1 94.7h1M104.2 100.5h1M67.9 117.3h1M69.4 130.9h1M78.4 101.8h1M67.9 129.3h1M97 96.2h1M73.7 135h1M71.2 107h1M64.7 124.4h1M86.9 92.5h1M93 125.5h1M94.4 94.8h1M93.7 93.9h1M104.8 106.5h1M85.2 131.6h1M67.5 124.5h1M88.8 130.7h1M68.8 132h1M66.4 110.3h1M86 95.3h1M67.5 122.7h1M97.9 118.5h1M87.3 94.8h1M93.8 90.3h1M102.7 109.3h1M80.6 135.8h1M82.7 95.1h1M68.3 108.6h1M104.7 107.3h1M64 117.7h1M103.7 112.4h1M78.2 131.9h1M86.5 96.2h1M73.1 106.8h1M64.9 123h1M78.4 97h1M101.9 103.5h1M100.4 110.1h1M100.6 117.3h1M102.8 98.5h1M65.8 118.9h1M91.2 90.4h1M101.3 105.9h1M102.1 113.1h1M70.3 111.3h1M73.2 104.2h1M99.9 108.7h1M68.9 114.2h1M83.9 94h1M69.4 105.7h1M92.3 124.9h1M87.3 132.5h1M78.8 98.2h1M83 95.8h1M65.4 127.1h1M63.7 126.7h1M95.5 91.9h1M89.9 91.9h1M102.7 112.8h1M68.2 128.4h1M98.8 94.3h1M96.9 118.7h1M76.8 134.1h1M89.1 127.8h1M95.9 122.2h1M84.7 95.1h1M67.7 129.7h1M73.2 101.5h1M66.9 131.2h1M80.6 95.6h1M102.5 104.4h1M101.1 112h1M78.4 131.9h1M74.7 133.9h1M101.6 97.7h1M87.8 129.6h1M65.5 125.5h1M66.9 112.2h1M83.6 133.6h1M87.8 127.7h1M99.9 113h1M102.7 95.8h1M87.4 126.9h1M103.9 105.4h1M66.7 127.1h1M96.8 121.3h1M89.9 93.1h1M101.7 114.4h1M87.8 93.4h1M82.7 93.6h1M77 132.3h1M69.9 130.3h1M83.3 134.4h1M84.5 93h1M97.7 119.4h1M65.5 123.9h1M96.2 118.3h1M101.3 98h1M83.6 92.4h1M76.5 99.4h1M102.4 107.5h1M70.5 109.7h1M67.2 115.4h1M64.1 121.8h1M91.8 92.1h1M69.8 110.5h1M80 97.3h1M102 113.7h1M80.7 130.9h1M91.2 95h1M104.2 107h1M83 132.7h1M70.2 110.9h1M68.4 132.8h1M102 100.9h1M94.5 95.4h1M72.2 102h1M91.6 92.6h1M102.8 99.8h1M69.8 112.1h1M101 109.8h1M65.8 119.6h1M100.1 116.1h1M63.7 125h1M66.6 126.1h1M67.8 129.3h1M73.8 134.6h1M67.9 130.9h1M73.4 106.6h1M91 91.2h1M93.7 90.9h1M84.6 129.6h1M101.4 104.7h1M104.2 105h1M78.5 135.4h1M99 96.1h1M75.4 134.9h1M81.2 132.1h1M103.5 99.6h1M82.9 132.9h1M77.8 98.4h1M83.3 131.6h1M65.8 111.3h1M97.8 118.9h1M73.9 131.7h1M100 100.7h1M92.3 124h1M83.4 131.1h1M83.7 94.2h1M100.6 94.4h1M78.6 96.2h1M100.5 117h1M99.8 108.5h1M76.8 103.3h1M91.3 93.8h1M92.1 92.2h1M79.2 100.1h1M81.5 98.1h1M83.4 94.8h1M102.5 100.2h1M92.5 93.7h1M68.7 111.9h1M80.8 95.1h1M100.6 117.5h1M91.8 93.3h1M70.2 133.4h1M76.1 134.1h1M66.4 112.8h1M68.1 110.7h1M102.1 114.1h1M82.8 130.4h1M101.7 103h1M99.9 93.1h1M93.7 95.1h1M94 92.9h1M102.5 107h1M87.4 131h1M66.5 112.1h1M67.2 133.2h1M68 114.2h1M74.3 100.1h1M85.3 129.9h1M67.3 123h1M93.5 124.7h1M68.3 125.2h1M102.5 111.4h1M102.8 96.3h1M101.5 107.9h1M68 124.9h1M101.9 98.7h1M70.3 134h1M81.9 134.2h1M93.8 92.4h1M104.2 102.6h1M90.2 127.3h1M99.7 118.2h1M90.5 94.1h1M84.9 94.8h1M92.9 90.3h1M92.7 124h1M100.4 108.8h1M83.5 132.1h1M89.7 127.3h1M101.7 112.1h1M102 100.3h1M65.7 123.3h1M67.9 131.8h1M87.6 92h1M65 129.5h1M67.3 117.6h1M86.3 94.6h1M85.4 95.2h1M77 98.8h1M68.8 128.3h1M88.9 130.2h1M72.4 108.6h1M99.6 113.7h1M84.1 131.1h1M85.8 132.5h1M99.8 119.7h1M68.9 114.5h1M101.3 95.6h1M93.3 90.6h1M99.5 93h1M84.2 130.4h1M102.8 104.9h1M65.5 118.2h1M81.3 131.2h1M101.4 106.9h1M67.2 127.2h1M72.7 134.4h1M102 102.3h1M104 105.5h1M67.9 118.4h1M84.8 93.8h1M66.8 128.3h1M63.8 123.7h1M100.8 112.7h1M72.7 102.8h1M71.5 134.9h1M98.3 120.7h1M97.3 96.7h1M71.6 131.5h1M65.6 123.9h1M66 128.1h1M72.9 133.7h1M101.8 112.5h1M75.5 100.7h1M101.2 95.3h1M103.2 109h1M79.2 98.3h1M93.7 95.1h1M97.2 92.1h1M103.3 103.4h1M97.8 95.3h1M75.2 102.4h1M87.3 127.8h1M99.6 98.6h1M89.1 92h1M69 131.8h1M89.9 129.3h1M92.1 125.8h1M65.5 119.5h1M70.1 135h1M102.9 106.8h1M98.3 95.1h1M69 131.8h1M95.7 123.7h1M86.6 127.7h1M74.3 132.2h1M69.3 129.9h1M102.6 113.9h1M86.6 130.1h1M98.3 116.7h1M81.5 132.3h1M93.4 93.4h1M66.8 124.3h1M67.2 123.1h1M96.7 90.9h1M88.7 126.4h1M100.2 117.8h1M73 134.2h1M90.9 124.6h1M68.9 114.9h1M93.5 127.8h1M71.4 132.5h1M94.3 94.5h1M91 124.7h1M74.6 131.9h1M68.4 132.4h1M69.9 112.8h1M103.2 100h1M70.7 109.2h1M73 132h1M89.7 92.6h1M83.9 93.3h1M75.8 99.4h1M100.2 106.9h1M71.2 108.2h1M100.9 104.3h1M69.6 130.4h1M69 131h1M76.2 103.3h1M64.1 118.5h1M69.3 104.9h1M89.9 127h1M63.7 117.3h1M100.8 99.1h1M94.8 94.2h1M99.5 92.6h1M71.5 131.9h1M98.4 120.6h1M86.2 92.8h1M76.6 135h1M103.9 106.5h1M91.8 126.7h1M102.6 99.7h1M68 125.8h1M67.9 124.8h1M85.7 94.4h1M73.9 99.3h1M101.4 106.6h1M83.7 130.5h1M99.4 120.9h1M79.7 100.6h1M68.4 110h1M92.6 95.1h1M70.2 130.8h1M80.5 94.6h1M67.1 120.9h1M78.4 135.6h1M103.6 101.5h1M102.2 105.3h1M83.6 129.7h1M95.2 95.4h1M97.1 119.5h1M70.2 131.4h1M65.8 119h1M101.8 102.3h1M67.6 117.9h1M97.9 113.7h1M99.1 115.5h1M63.7 122.1h1M76.9 132.8h1M91.3 129.8h1M65 114.1h1M64.5 120.7h1M92.3 125.5h1M89 129.5h1M93.9 123.7h1M66.7 121.1h1M74.5 103.5h1M66.9 124h1" stroke="#a0a0a0" stroke-width="1" fill="none" opacity="0.9"/>
<path d="M73.7 93.9h1M87.2 90.7h1M69.3 101.4h1M107.3 108.6h1M96.8 135h1M106.9 95h1M95.2 88.8h1M91.1 131.1h1M63.1 113.7h1M57.6 135.3h1M101.3 92.9h1M64 129h1M106.7 100.2h1M100 88.9h1M102.4 124.4h1M57.9 119.5h1M86.4 134.4h1M62.7 120.4h1M102.7 116.7h1M68.3 105.5h1M111.8 110.4h1M73.2 136.5h1M104.6 132.7h1M71.6 99.3h1M90.5 132.7h1M70.8 138.8h1M72.6 98.3h1M69.8 136.8h1M100.8 119.9h1M79.7 139.5h1M62.8 124.9h1M105.2 112.7h1M68.8 104.8h1M68.2 102.7h1M62.8 87.6h1M105.3 107.6h1M93 86.5h1M54.8 129.4h1M68.7 134.5h1M63.3 117.3h1M80.7 93h1M65.2 103h1M61 130.3h1M60.5 126.6h1M109.6 108.4h1M64.6 110.6h1M66.1 132.7h1M105.5 96.7h1M55 124.5h1M95.2 127.7h1M106.3 113.1h1M94.2 89.5h1M66.3 108h1M103.7 96.8h1M75.4 142.3h1M80.3 93.6h1M80.7 90.5h1M79.8 91.3h1M104.8 99.3h1M82.7 92.1h1M104.3 114.4h1M84.6 140.5h1M104.9 91.6h1M91.7 131.4h1M55.5 119.2h1M78.2 90.1h1M105.8 93.4h1M77.2 95.5h1M90 131.7h1M104.4 113.5h1M101.3 93.2h1M57.8 112.9h1M76.6 95h1M70.5 94.9h1M63.4 112.2h1M96.7 89.1h1M83.4 135.1h1M90.7 132h1M60.8 118.9h1M93.8 131.5h1M92.3 89.5h1M63.2 119.1h1M63.1 115.4h1M94.6 86.6h1M106.7 113.3h1M91.6 134.4h1M68.3 100.7h1M66.4 105.8h1M105.2 104.9h1M94 128.6h1M92.5 87.7h1M62.1 119.5h1M83.7 91.5h1M68.7 100.2h1M95.1 131.8h1M63.9 112.3h1M105.1 99.5h1M93.2 88.3h1M104.9 100.6h1M98.9 90.1h1M102.7 122.2h1M100.1 122h1M87.4 90h1M107.5 99h1M63.2 104.5h1M72.9 137.6h1M105.8 105.3h1M62.8 140.6h1M58.8 115.9h1M59.6 123.9h1M108.8 103.8h1M64.7 109.9h1M71.4 138.8h1M76.3 95.9h1M63.6 112.6h1M95.3 87.5h1M105.9 95.9h1M77.8 91.6h1M81.6 90.7h1M98.1 91.2h1M82.5 91.3h1M107.2 113.8h1M69.9 136.6h1M95 88.7h1M78 137.8h1M100.6 120.9h1M73.3 88.8h1M89.6 136h1M64.9 98.4h1M61.9 122.7h1M106.8 98.1h1M106.3 98.3h1M103.6 93.2h1M65.3 107.6h1M101.4 124.5h1M98.1 127.2h1M108.9 102.5h1M90.6 131h1M108 103.6h1M104.7 98.8h1M73.8 94.8h1M78.5 91.3h1M62 117.4h1M103.2 114.4h1M94.2 135h1M80.9 135.9h1M62.2 114.2h1M66.7 107.6h1M80.1 139h1M91.5 131.1h1M115.9 90.4h1M92.8 89.8h1M81.8 141.5h1M80.1 138.5h1M90.9 130.9h1M65 131h1M86.4 133.7h1M96.7 131.7h1M90.2 86.8h1M99.8 128.5h1M97.5 89.1h1M111 108.4h1M65 107h1M62 121.7h1M68.7 105h1M70.6 102.4h1M93.1 86.5h1M74.5 137.2h1M69 134.7h1M66.7 106.5h1M103.1 90.6h1M96.4 85.7h1M61.1 135.5h1M60.6 115.7h1M66.5 104.9h1M59.5 136h1M79.6 93.2h1M63.8 129.5h1M108.6 113.1h1M86 133.9h1M95 85.7h1M101.7 93.3h1M82.6 90.5h1M63.3 126.7h1M62.9 125.3h1M103.4 116h1M99.6 123.4h1M72.8 136.4h1M106 92.7h1M61.7 106.7h1M71.8 136.6h1M58.5 120.6h1M71.2 84h1M90.9 131.5h1M102.2 91.1h1M96.6 90.1h1M107.5 109.8h1M73.2 136.3h1M108.7 100.7h1M82.4 92.3h1M66.5 133.4h1M109.5 86h1M75 142h1M103.1 87.6h1M105.1 103.1h1M62.7 113.5h1M107.6 97.1h1M62 128.5h1M80.6 138.3h1M63.6 102.7h1M84.8 135.1h1M83.1 138.2h1M71.4 101.5h1M82.1 89.1h1M60 107.8h1M79.7 137.1h1M66 136.4h1M105.6 97.8h1M105.1 106.4h1M67.1 106.9h1M86.1 90.8h1M61.7 117.8h1M104.1 120.2h1M64.9 130.9h1M75.3 137h1M110.7 104.5h1M54.4 126.7h1M91 87.7h1M65.8 108.9h1M64.2 132.5h1M74.6 96h1M62.9 118.6h1M108.7 103.6h1M102.4 93.1h1M97 125.4h1M92.1 130.2h1M60.5 115.8h1M96.7 130.7h1M107.1 113.8h1M87.6 86.9h1M59 123.3h1M68.8 134.7h1M106.7 107.1h1M65.5 105.1h1M91.5 90.1h1M106.1 105.5h1M87.8 134.1h1M100 87h1M63.1 128h1M62.9 125h1M80 92.2h1M108.8 109h1M79.5 94.2h1M96.2 89.9h1M61.9 131.2h1M64.8 110.7h1M102.3 93.5h1M115.2 91.3h1M62.4 121h1M90.7 88.8h1M72.5 100.2h1M94.8 128.6h1M102.7 93.4h1M85.2 88.1h1M71.5 93.4h1M103 95.6h1M52.3 106.7h1M105.3 102.6h1M95.9 132.9h1M70.1 96.2h1M88.2 87.5h1M108.4 104.1h1M91.3 132.5h1M101.2 92.1h1M87.3 90.7h1M61.4 117.4h1M85.3 138.5h1M66.3 106.5h1M103.9 112.1h1M105.7 115h1M93.7 129h1M100.1 85.6h1M105.7 101.2h1M61.9 129.8h1M94.1 132.4h1M58.3 127.9h1M69.6 138.8h1M58.5 117.3h1M68 134.1h1M69.2 98.9h1M62.7 113.7h1M66 134.1h1M74.4 97.4h1M105.3 103h1M86.3 91.1h1M62.6 111h1M64.4 113h1M77.6 92h1M103.7 96.8h1M66 106.3h1M77.5 92.2h1M79.2 93.5h1M107 117.8h1M55 114.1h1M62.5 125.2h1M90.4 131.2h1M105 99.9h1M92.3 89.6h1M76.1 95.8h1M75.3 87.6h1M103.1 128.3h1M83.9 135.9h1M105.5 115.9h1M101.8 90.3h1M81.1 93.4h1M64.1 133.6h1M84.8 136h1M93.6 129h1M79.7 136.4h1M61.1 120.8h1M102.2 83h1M68.3 105.3h1M88 89.3h1M104.6 99.4h1M104 95.7h1M76.9 141.1h1M106.9 98.9h1M76.5 137.4h1M65 131.2h1M103.4 124.6h1M59.1 111.3h1M104.7 96h1M66.9 137.4h1M106.1 113.1h1M96.9 127.6h1M92.2 131.5h1M77.5 136.6h1M70.8 102.2h1M62.5 119.3h1M62.8 128.2h1M63.1 129.9h1M67.1 108h1M73 138.4h1M71 135.8h1M70.5 101.7h1M76.3 93.7h1M107.7 97.3h1M75.4 142h1M98.8 90.9h1M62.7 135.6h1M64.5 130h1M66.5 133.5h1M71.8 99.4h1M104.3 97.2h1M81 92.7h1M105.4 104.3h1M80.1 94h1M98.2 88h1M88.7 89.7h1M103.2 94.9h1M62.3 119.7h1M66.3 140.9h1M67 136.6h1M104.4 116.2h1M71.3 96.7h1M62.6 127h1M105.7 101.5h1M92.4 130.5h1M68.2 99.4h1M95.4 133.7h1M114 112.6h1M60.1 122.4h1M63.6 132h1M92.1 131.1h1M64.1 111.6h1M64.1 111.2h1M92.2 129.6h1M104.6 112.6h1M72.7 138.5h1M63.1 115.5h1M97 133.3h1M65.8 107.3h1M94.8 89.6h1M81.7 138.7h1M101.1 90.9h1M86.2 137.9h1M62.5 124.1h1M71.2 138.4h1M66.3 107.6h1M86.1 137.8h1M106.2 110.3h1M62.1 121.7h1M71.1 136.6h1M102.5 91.8h1M71.3 137.1h1M76.9 95.3h1M73.6 137.7h1M63.8 104.2h1M96.5 90.7h1M67.8 100.3h1M98.9 91h1M88.2 87.3h1M58.3 121.5h1M61.7 120.7h1M98.1 124h1M98 89.8h1M71.6 99.5h1M87.6 86.5h1M74.7 94.2h1M97.6 125.2h1M64.3 132.3h1M75.2 137.5h1M100.9 119.8h1M84.4 90.5h1M71.7 96.6h1M67.9 135.3h1M66 108h1M67.3 100.1h1M104 97.5h1M70.5 101.4h1M105.4 101.2h1M96.6 129.4h1M63.4 112.4h1M99.4 90.9h1M76.8 94.5h1M76.9 137.3h1M107.9 98.6h1M101 123.3h1M65.7 132.8h1M94.4 128.2h1M95 87.7h1M80.9 143.5h1M64.5 112.3h1M108.8 111.7h1M99.4 91.7h1M83.4 90.4h1M106.1 104.9h1M78.9 94.2h1M85.6 134.8h1M104.5 95.7h1M82.3 138.1h1M64.3 131.1h1M61.2 128h1M107.1 108.5h1M99.7 89h1M107.8 98.9h1M86.9 135.6h1M108.1 106.1h1M92.4 130h1M64.4 130.2h1M98.5 130.5h1M105.9 117.2h1M99.9 92.2h1M62.9 116.5h1M103.8 113.1h1M99.3 124.2h1M84.4 136.5h1M107.5 102.3h1M87.2 88.8h1M101.1 92.1h1M101.2 120.9h1M105.3 102h1M103.3 95.8h1M91.4 85.8h1M65.8 131.7h1M74.6 97.9h1M86.2 140.1h1M81.1 137.4h1M70.3 88.6h1M101.2 91.7h1M90.5 87.8h1M82.5 137h1" stroke="#3c3c3c" stroke-width="1" fill="none" opacity="0.85"/>
<path d="M65.8 110.1h1M100.4 122.8h1M64.6 109.2h1M63.1 117.6h1M72.2 138.8h1M64.2 129.3h1M63.4 127.8h1M66.7 135.9h1M75.5 96.9h1M104.9 99.4h1M65.5 110.8h1M61.4 125.6h1M67.5 106.2h1M102.8 117.1h1M98.3 123.4h1M75.6 96h1M62.3 124.2h1M92.8 129.5h1M97 88.2h1M75.8 95.9h1M88.1 89.8h1M62.4 135.5h1M78.8 136.6h1M107.4 103.7h1M105.1 99.5h1M105 95.7h1M92.2 83.6h1M73.2 137h1M59.7 131.1h1M101.3 120.1h1M103.4 92.9h1M104.8 109.5h1M91.4 135h1M90.4 135.9h1M60.9 129.7h1M81.8 91.2h1M107.2 89.5h1M87.9 89.9h1M60.1 126.3h1M102.9 89.8h1M83.3 90.2h1M76 136.7h1M105.6 95.1h1M63.5 112.3h1M66.8 99.3h1M103.3 86h1M97.6 90.8h1M107 98h1M62 132h1M67.3 102.3h1M88.2 90.5h1M99.5 126.9h1M101.4 118.9h1M107 92.6h1M69.1 100.6h1M62.9 122.7h1M100 90.4h1M91 87.9h1M71.6 98.6h1M100.7 90.9h1M100.8 92.7h1M65.4 133.8h1M105.1 114.8h1M65.5 131.7h1M98.3 90.8h1M64.5 135.2h1M76.1 138.4h1M92.6 130.5h1M90.9 130.8h1M87.4 134h1M77.9 91.6h1M63.8 113.1h1M57.3 129.1h1M74.8 137.1h1M102.2 93.9h1M82.6 91h1M101.5 130.4h1M56.5 129.2h1M102.2 118.8h1M71.5 101h1M79 137.5h1M65 131.6h1M110.4 91.9h1M75.7 84.5h1M107.9 102.9h1M89.6 87h1M107.5 98.8h1M62.5 132.4h1M85.2 141.8h1M68 101.5h1M104.9 94.8h1M103.5 94.9h1M66.7 103.7h1M110.8 109.5h1M62.7 120.1h1M115.4 95.5h1M82.8 92.1h1M102.4 120.5h1M74.8 92.3h1M54.6 123.8h1M104.3 113h1M92.2 88.8h1M65.2 109.9h1M104.7 99.2h1M95.2 131.9h1M62.3 125.7h1M95.1 87.8h1M71.7 100.9h1M99.4 91.5h1M78.5 141h1M103.6 121.2h1M63 105.4h1M91.2 86.2h1M76.5 137.7h1M111.1 97.8h1M63.3 113.7h1M105.9 103.2h1M87.7 90h1M107.1 109.4h1M70.5 137.3h1M79.5 137.1h1M72.5 137.1h1M65.6 132.8h1M95.4 90.1h1M80 88.1h1M81.6 91.2h1M100.7 85.1h1M80.9 137h1M103.5 96.5h1M66.9 104.9h1M102.4 89.1h1M98.2 124.1h1M64.6 103.9h1M88.8 134.3h1M104.3 96.7h1M70.3 142.4h1M67.5 134.7h1M105.8 104.4h1M80.2 140h1M105.7 91.5h1M62 119.2h1M106.4 95.7h1M98 125.8h1M84.1 142.2h1M65.1 133.1h1M87.5 134.2h1M101.3 93.1h1M101.1 88.5h1M83.9 138.8h1M106.1 104.8h1M74.4 90.9h1M104.6 112.1h1M104.7 97.3h1M80.5 140.7h1M105.6 101.9h1M81.7 89.8h1M99.5 89h1M75.7 137.4h1M72 136.3h1M110.2 112.9h1M83.6 137.5h1M99.8 88.4h1M92.4 89.2h1M62.8 122.9h1M63.2 115.8h1M105 98.6h1M101 119.2h1M102.7 91.4h1M89.1 133.1h1M64.3 108.2h1M74.7 97.4h1M62.9 128.5h1M94.5 90.1h1M60.2 134.9h1M107.3 102h1M105.7 98.8h1M101.6 121.7h1M95.2 87h1M81.3 88.7h1M72.9 139.9h1M68.6 102.9h1M62.6 129.4h1M68.9 136.7h1M77.4 94.6h1M98.8 125.4h1M61.8 125h1M107.5 106.6h1M110.3 106.6h1M77.2 141.5h1M92.9 87.2h1M86.1 136.9h1M61.8 120h1M71.4 96.3h1M63.9 140.6h1M96.7 90.5h1M92.1 88.9h1M68.2 93.5h1M104.6 99.6h1M92.5 88.4h1M92.3 133.4h1M72.2 140.5h1M80.3 138.1h1M98.3 123.7h1M74.1 98.5h1M72.1 98.4h1M107.6 107.1h1M75.4 97.3h1M86.2 90.5h1M80.2 136.5h1M85.4 89.6h1M60 126.5h1M97.1 89.2h1M86.8 90.3h1M59.1 109.1h1M70.5 136.1h1M91.8 130.9h1M74.5 142.5h1M65.9 141.2h1M100.5 122.1h1M98.6 90.4h1M94.7 89.3h1M66.1 132.1h1M63 124.3h1M62.8 121.8h1M70.2 100.5h1M81.4 136.1h1M68.3 134.2h1M62.6 112h1M98.3 124.6h1M65.8 134.4h1M84.1 138.9h1M63.4 110.5h1M71.9 136.7h1M60.2 127.9h1M98 90.4h1M95.6 86.1h1M86.2 90.2h1M80.8 136.9h1M72.1 137.4h1M104.8 111.3h1M103.1 87h1M82.4 87.4h1M79.2 93.6h1M98.2 89.2h1M70.2 137.5h1M104.2 95.6h1M88.1 135.2h1M101.9 120.1h1M67.8 105.7h1M68.4 102.1h1M100 126.1h1M69.7 99h1M91.4 132.1h1M105.8 102.1h1M92.4 89.9h1M59.4 114.3h1M106.2 102.4h1M106.9 99.4h1M100 92.1h1M96.9 90.6h1M106.5 94.4h1M110 104.4h1M107.1 105.7h1M87.5 135.5h1M91.5 80.2h1M103.9 97.1h1M92.6 130.1h1M78.5 137.6h1M59.8 133.5h1M95.4 126.9h1M69.8 137.5h1M73 136.3h1M105 107.7h1M103.2 117.7h1M72.9 95.7h1M104.5 113.4h1M72.1 136.4h1M95.3 89.5h1M60.7 129.3h1M63.4 137.9h1M98.2 86.4h1M94 130.2h1M62.8 112.2h1M74.2 136.7h1M78.9 93.6h1M108.6 111.2h1M109 117.8h1M68.2 102.2h1M70.5 100.1h1M60.4 102.9h1M102.1 118.9h1M105.9 104.6h1M74.5 98.3h1M70.4 100.1h1M89.9 131.7h1M87.5 90h1M106.6 99.3h1M102.2 93.4h1M107.4 109h1M91.5 131.6h1M100.3 90.6h1M91.3 88.2h1M90.1 89.9h1M60.6 133.1h1M76.1 136.9h1M68.2 138.1h1M62 122.9h1M88.8 132.6h1M63.3 128.6h1M104.6 99.6h1M82.3 90.8h1M87.6 85.4h1M97.2 88.7h1M63.7 113.6h1M88 86.2h1M80.1 93.1h1M92.9 89.9h1M105.9 111.3h1M63.2 105.4h1M62.3 121.8h1M79.3 84.5h1M104.2 96.3h1M107.1 96h1M76.3 95.3h1M79.5 94h1M110.9 90.1h1M80.1 90.4h1M86.2 134.9h1M105.8 108.6h1M99.3 91h1M69 99.4h1M84.8 89.3h1M98.9 85.9h1M81.1 136.8h1M95.9 89.8h1M62.8 116.9h1M107.7 104.3h1M101.8 120.9h1M78.7 136.9h1M98.9 124.7h1M102.9 116h1M71.6 91.7h1M64 110.7h1M104.6 113.8h1M105.1 110.5h1M109.8 100.8h1M56.3 119.6h1M65.5 131.5h1M70.8 135.8h1M102.5 120.4h1M60.9 119.3h1M82.3 139.4h1M94.1 89h1M95.9 89.8h1M99.2 124.5h1M96.6 86h1M102.3 92.4h1M74.3 97h1M68.9 136.2h1M61.6 120.1h1M78.4 140.1h1M90.6 88.1h1M100.3 121.1h1M69.2 103h1M72.3 100.3h1M104.9 98h1M59.5 107h1M94.8 89.3h1M73.4 97.4h1M105.2 110h1M106.6 106h1M107.2 111.6h1M111.1 123.6h1M98.8 89.6h1M108.7 116.6h1M62.7 125.6h1M105.1 91.3h1M63 121.5h1M81.6 136.5h1M104.6 96.4h1M90 133.3h1M72.1 138.6h1M59.3 111.2h1M86.3 138.1h1M62.4 131.4h1M62.5 120.5h1M66.3 133h1M66 133.6h1M66.6 107.4h1M67.8 104.5h1M107 98h1M90.4 131.9h1M64.8 130.9h1M83.8 140.8h1M104.7 109.4h1M98 89.4h1M80.8 90.8h1M98.8 87.6h1M89.8 132.3h1M91.4 88.8h1M60.3 128.6h1M105.7 109h1M61.7 128.5h1M65.2 133.2h1M100.7 92.2h1M71.4 137.2h1M59.7 125.4h1M106.2 102.5h1M103.9 92.3h1M71.6 101h1M77.7 137h1M75.5 140.1h1M70.9 140.5h1M90.3 131.4h1M65.2 105.2h1M86.5 136.4h1M73.1 98.5h1M107 106.8h1M99.2 91.9h1M94.7 128.7h1M57.7 115.4h1M105.6 114.8h1M90.4 87.5h1M61 123.7h1M92.5 88.8h1M82.1 81.4h1M68.6 136.1h1M94.7 129h1M62.4 118.9h1M82.8 89.6h1M87.4 133.9h1M62.9 113.9h1M72.3 136.6h1M105.3 111.8h1M74.8 98.1h1M72.5 143h1M66.9 134.2h1M105.6 124.4h1M64.4 130.8h1M87.1 135.3h1M109.7 111.4h1M90.7 132h1M63.1 130.3h1M106.1 99.5h1M82.9 141.5h1M105.2 112h1M87.2 86.7h1M67.1 138h1M65.7 139.6h1M106.3 112.9h1M64.1 129.9h1M102.8 95h1M95.7 84.1h1M110.5 97.2h1M105.7 98.8h1M101.7 118.5h1M78.9 90.5h1M105.2 112.5h1M69.9 136h1M67.3 144.4h1M89.3 134.1h1M105.5 102.7h1M74.7 98.1h1M108.6 94h1M74.2 96.7h1M96.3 125.6h1M62.9 129.3h1M107.8 93.8h1M84.5 89.9h1M67.8 106.1h1M88 88.4h1M82.1 87.1h1M103.8 128.4h1M81.3 92.9h1M102.4 93.8h1" stroke="#7a7a7a" stroke-width="1" fill="none" opacity="0.85"/>
<path d="M64.3 133h1M72.1 100h1M57.8 124.3h1M63 115.6h1M56 123.9h1M77.3 94.7h1M64 137.4h1M95.7 128.2h1M89.3 137h1M62.2 119.9h1M89 88.5h1M57.7 111.6h1M62.9 113.4h1M64.6 113.4h1M65.8 104.7h1M85.3 88.5h1M52.8 116.3h1M67.6 134h1M61.2 123.2h1M59.2 105.6h1M64.4 106.6h1M57.9 132.7h1M62.6 119.2h1M59.4 132.8h1M63.4 109.7h1M68.6 139.6h1M63.4 111.4h1M58.5 123.7h1M64 132.6h1M68.6 102.2h1M62.3 123.5h1M56.9 121.5h1M65.2 133.4h1M54.1 124h1M72.2 99.5h1M61.5 135h1M84.1 91.7h1M56.7 128.1h1M56.8 116.4h1M60.1 109.6h1M55.7 118.7h1M57.5 105.7h1M61.2 142.8h1M66.7 107.4h1M69.9 102.1h1M57.4 132.8h1M73.4 140.1h1M59.2 110.5h1M72.7 98.9h1M60.4 103.3h1M58.5 127.6h1M70.5 100.7h1M70.7 136.4h1M88.3 132.5h1M60.9 130h1M61 125.2h1M59.4 111h1M59.3 122.7h1M58.9 136h1M64.2 132.4h1M59.6 124.1h1M56.1 116.4h1M62.4 133.4h1M62.7 122.1h1M68.4 135.8h1M72.4 139.1h1M99.7 126.7h1M64.5 101.8h1M58.2 136h1M53.7 119.2h1M68.4 135.1h1M85.4 140h1M60 113.2h1M56.4 114.3h1M51.9 120.5h1M63.6 116.1h1M95.3 128h1M71.4 93.9h1M58.6 141.3h1M65.2 135.8h1M58.2 133.2h1M64.4 110.6h1M68.2 92.9h1M55.6 139.2h1M58.6 118h1M67.2 105.3h1M67.4 90h1M64.8 142.1h1M62.2 132.9h1M97 125.9h1M59.6 116.5h1M51.4 104.8h1M72.7 97.5h1M76.2 137.1h1M87.8 133.1h1M65.3 109.2h1M60.8 118.9h1M49.5 137.9h1M62.3 128.2h1M67 133.9h1M63.1 132.3h1M59.6 116.5h1M60.9 116.8h1M70.3 140.9h1M61.4 117.8h1M72.6 98.6h1M64.2 129.6h1M62 123.3h1M50.8 134.2h1M65.3 109.2h1M61.5 124.3h1M69 135.4h1M67.3 136.2h1M65.4 143.3h1M63 117.7h1M60.9 121h1M62.9 110.7h1M58.9 119h1M67.6 136.4h1M67.3 101.1h1M63 123.1h1M75.6 138.8h1M68.6 135.8h1M62.6 120h1M63.1 131.2h1M69.1 143.9h1M62.4 125.1h1M55 137.8h1M54.9 128.1h1M61.7 116.1h1M55.8 124.3h1M56.7 122.7h1M63.5 136.6h1M64.1 108.3h1M74.7 96.3h1M52.6 132h1M59.6 130.8h1M56.6 113.1h1M61.1 117.6h1M61.3 111.2h1M61.3 111.2h1M72.3 137.8h1M56.9 130.8h1M62.7 130.8h1M58.5 132.3h1M58.9 122.5h1M60.2 122.2h1M79 137.2h1M60.8 119.3h1M52.4 116.9h1M64.4 109.9h1M62.1 114.6h1M56.2 117.2h1M50.3 117.3h1M61.8 114.8h1M65.5 145.5h1M62.4 115.1h1M68.5 104.2h1M67.5 100.8h1M65.7 106.2h1M58.5 134.1h1M60.8 103.3h1M67.6 99.4h1M64.6 140.3h1M53.4 119.5h1M61.9 124.7h1M51.2 117.7h1M60.5 120.5h1M47.1 122.5h1M59.9 119.3h1M79.2 139.3h1M63.8 115.4h1M57.8 123h1M65.1 98.7h1M63.4 128.1h1M71 99.3h1M59.7 107h1M66.4 107h1M72.1 136.7h1M58.4 129.6h1M58.8 120.3h1M61.5 133.1h1M60.6 107h1M55.2 107.6h1M62 125.2h1M69.4 136.1h1M57.9 131.2h1M62.9 117.4h1M61.1 113.7h1M78.1 142.6h1M59.2 132.2h1M72.3 96.2h1M53.4 118.4h1M62.3 125.8h1M55.1 120.6h1M51.9 104.6h1M62.1 117.9h1M62.8 129.9h1M67.7 95.9h1M61 110.5h1M61.4 119.3h1M58.7 121.9h1M98.7 127.6h1M62.2 134.9h1M66.5 108h1M65.9 97.3h1M59.6 107.8h1M55.2 121.5h1M55 102.9h1M62.2 135.9h1M64.2 129.1h1M66.1 102.3h1M62.9 109.3h1M58.4 116.6h1M66.3 99.2h1M58.9 114.1h1M62.7 137.1h1M60.8 107.9h1M55.2 117h1M53 126.8h1M61.5 124.2h1M62.5 122.6h1M61.4 126.5h1M60.5 124.7h1M51.2 119h1M62.6 116.9h1M59 132.1h1M75.4 96.3h1M59.3 136h1M62.7 121.5h1M54.8 124h1M54.1 120.3h1M55.7 130.2h1M64.8 131.3h1M61.3 130.7h1M67.3 105h1M65.9 135.1h1M62.4 108.4h1M62.8 113.6h1M55.4 125.2h1M62.3 112.3h1M61.4 120.8h1M102.1 83.2h1M47 115.9h1M64.6 112.2h1M83 88.5h1M64.2 142.8h1M59.1 124.5h1M81 88.5h1M68.7 105h1M63.4 134.6h1M67.3 99.1h1M65.2 98.4h1M64 128.4h1M65.7 104.9h1M66 105.1h1M60.5 128.2h1M62.9 116.3h1M53 124.2h1M72.9 138.1h1M51.7 126.8h1" stroke="#444" stroke-width="1" fill="none" opacity="0.85"/>
<path d="M97.5 126.1h1M60.8 125.5h1M60.2 118.3h1M72.9 94.5h1M61.6 123h1M59.5 127.4h1M60.4 121.4h1M68 104.9h1M60 123.7h1M62.1 131.7h1M88.6 89h1M60.4 122.7h1M54.8 128.2h1M60.2 105.8h1M64.5 110.5h1M60.9 133.1h1M59.9 111.9h1M57.6 110.1h1M58.2 133.9h1M61 118.6h1M64 129h1M64.6 110.3h1M88.2 135.8h1M56.2 134.9h1M64.1 108.3h1M67.4 106.5h1M63.7 108.1h1M105.8 110.6h1M64.4 140.2h1M70.5 101.7h1M64.3 130h1M61.5 132.5h1M61.4 126.4h1M76 141.1h1M80.7 87.1h1M93.4 84.8h1M64.3 133.3h1M48.7 118h1M79.7 141.2h1M59.5 126.7h1M63.9 110h1M51.3 118.9h1M63.2 112.7h1M62.8 136.4h1M73.9 143.5h1M63 128.4h1M64.2 108.2h1M71.6 99.3h1M57.4 118.4h1M63.4 105.8h1M57.9 112.5h1M59.1 137.9h1M61.6 123.3h1M65.8 110h1M63.9 137.7h1M61.3 134h1M62.4 133h1M55.7 92.7h1M61.3 124.1h1M90.6 132.3h1M66 109.2h1M71.7 99.8h1M59.8 104.6h1M61.6 137.8h1M59.5 132.9h1M64.4 129.8h1M73.1 136.5h1M60.2 110.8h1M58.1 126h1M57.5 137.3h1M67.7 134.1h1M60.9 118.7h1M76 95.3h1M71.5 99.5h1M63.2 115h1M60.8 136.6h1M58.4 116.6h1M64.3 109.2h1M64.4 107.5h1M73.9 97.8h1M57.8 122h1M51.6 127.7h1M65.9 103.9h1M62.5 117.5h1M55.8 106.6h1M54.5 131.4h1M65.1 111.5h1M64.6 140.6h1M51.7 135.3h1M63.4 129.9h1M70.6 139h1M54 122.9h1M57.5 121.2h1M55.6 135.5h1M77.6 90.7h1M62.6 134.2h1M71 101.9h1M58.1 137.2h1M63.3 127.4h1M61.4 119.4h1M58.1 124.5h1M62 122.5h1M60.4 125.5h1M81.8 136.1h1M84.5 85.7h1M70.1 102.7h1M62.9 129.2h1M59.3 112.5h1M63.8 114.7h1M58.7 126.2h1M63.8 111h1M55.6 126.7h1M61.4 117.3h1M62.3 115.6h1M60 112.3h1M79.8 90.3h1M63.6 132.9h1M59.8 131.7h1M62.7 118.4h1M76.4 139.3h1M58.8 116.8h1M62.3 114.4h1M53.7 124h1M52.8 120.7h1M63.1 119h1M69.2 101.6h1M48.2 117.4h1M61.9 116.5h1M61.8 117.1h1M62.3 120h1M91.8 131.1h1M48.9 134.3h1M69 136.2h1M57.8 113.8h1M78.5 94.2h1M47.1 112.7h1M58.6 140.5h1M55.8 128.2h1M67.8 104.5h1M64.2 129.8h1M59.3 125.7h1M63.3 137.4h1M69.4 139.5h1M67.1 104.2h1M57.3 131.3h1M71.8 100.9h1M63.1 128.4h1M63.3 116.3h1M60.2 125.1h1M57.9 98.5h1M47.6 134.7h1M59.2 118.4h1M60.6 141.7h1M64.4 108.6h1M57.5 127.3h1M74 96.1h1M62.5 100.7h1M61.8 135.8h1M62.8 110.6h1M81.1 87.8h1M66.3 108.9h1M63.4 105h1M51.9 132.2h1M69.9 101.7h1M86.2 134.8h1M79.6 136.5h1M76.5 136.8h1M51.3 133.8h1M59.2 131.7h1M62.2 130.6h1M58.2 133h1M52.3 123.3h1M58.9 111.8h1M61.9 111.6h1M57 118h1M61 104.8h1" stroke="#858585" stroke-width="1" fill="none" opacity="0.85"/>
<path d="M137.7 70.5h1M132.1 68.5h1M132.1 80.7h1M133.3 78.9h1M138.3 75.9h1M134.1 84h1M136.8 75.4h1M135.7 62.8h1M134.4 85.3h1M137.5 76.4h1M131.5 76.6h1M133.3 67.7h1M133 71.2h1M132.5 70.8h1M137 61.4h1M135 67.2h1M137.4 54.2h1M134.3 65.9h1M132.4 74h1M136.8 65.6h1M135.4 59.1h1M132.3 69.8h1M134.6 67.8h1M135.5 74.3h1M137.5 60.8h1M135.6 80.2h1M135.5 57.4h1M137.2 73.1h1M137.6 80.5h1M133.2 74.5h1M130.9 72.1h1M134.1 77.9h1M134.3 69.1h1M137.4 69.1h1M134 72.9h1M139.5 60.3h1M136.4 77.6h1M134.3 75.9h1M133.5 88.4h1M137.2 82.2h1M131.9 65.7h1M137.2 65.8h1M131.7 63.9h1M137.2 78.7h1M132.8 78.4h1M132.7 63.8h1M134.8 65.9h1M136.2 83.9h1M131.5 67.1h1M135.3 63.9h1M133.4 74.5h1M133.2 68.4h1M138.7 71.9h1M138.5 58.5h1M137.5 72.3h1M135.6 73.1h1M134.3 80.9h1M133.2 93.8h1M132.7 80.2h1M134.7 68h1M137.7 74.7h1M134.5 69.3h1M136.1 72.8h1M134 81.7h1M138 72.1h1M135.2 84.8h1M132.4 76h1M131.3 85.1h1M136 74.9h1M133.1 68.4h1M135.8 75h1M134.4 82.8h1M137.1 50.3h1M134.3 56.8h1M139.1 80.5h1M140 59.6h1M132.8 74.7h1M136.3 74.9h1M132.6 81.5h1M132.5 78.6h1M134 63.9h1M135.4 65.3h1M138 66.5h1M133.6 76.7h1M136.7 71.8h1M134.2 60.2h1M138.1 68h1M136.3 60.9h1M133.2 83.8h1M136.8 81.2h1M133.4 81.2h1M134.7 71.8h1M138 77h1M131.5 75.8h1M135.6 76.4h1M133.1 82h1M135 62h1M137.9 83.1h1M137.1 71.5h1M134.9 74.1h1M137.1 69.6h1M137.6 66.4h1M136.1 74.9h1M131.8 66h1M133 83.9h1M133.4 87.8h1M134.7 86.3h1M129.3 86.6h1M134.5 78.1h1M135.1 66.4h1M135.5 73h1M133.8 78.8h1M134 64.8h1M134.2 70.4h1M131.5 73.4h1M131.4 67.6h1M135 69.9h1M136.1 67.8h1M135.7 84.3h1M134.2 70.8h1M134.1 75.9h1M131.5 79.5h1M139.5 64.6h1M135.4 66.6h1M132.5 87.5h1M133.3 79.8h1M132.7 67.6h1M136.4 66.5h1M133.2 53.1h1M132.8 71.4h1M135.7 82.5h1M132.6 79.1h1M135.1 74.1h1M131.3 86.7h1M137.3 89h1M134.2 71.7h1M132.4 69.8h1M137.9 55.1h1M138.7 82.1h1M135.2 70h1M135 61.7h1M134.9 82.4h1M133.7 49.2h1M136.3 69.8h1M135.9 75.7h1M136 77.6h1M134.7 70.4h1M132.8 81.8h1M130 81.7h1M135.5 78.7h1M137.4 71.6h1M134.3 75.9h1M129.5 79.9h1M136.7 59.5h1M134.8 66.9h1M135.3 79.8h1M133.4 71.5h1M135.9 54.4h1M133.6 81.9h1M134.9 69h1M137 68.4h1M136 76.8h1M137.5 77.3h1M140.8 70.2h1M134.9 67.8h1M131.3 71.2h1M137.6 63.6h1M131.8 77.3h1M135.6 80h1M137.9 65.8h1M138.9 65.7h1M133.7 77.1h1M136.4 85.1h1M136.2 70.4h1M131.7 85h1M137.3 70.2h1M133.5 77.8h1M131.9 63.9h1M134.4 71.4h1M131.8 78.2h1M133.3 83.6h1M135.8 73.2h1M134.4 81.9h1M132.4 75.3h1M134.7 69.6h1M132.2 80.8h1M136.2 70.8h1M136.1 69.7h1M136.1 69.9h1M134.6 76h1M129.7 71.2h1M138.6 61.8h1M136 71.9h1M135.7 74h1M134.1 62.8h1M136.3 66.1h1M134.4 67.8h1M135 55.4h1M136.9 68.7h1M138.2 46.9h1M133 89.4h1M133.4 63h1M132.2 67.3h1M131.5 79.1h1M136.3 68.2h1M134.9 65.7h1M136.8 82.2h1M133.8 65.1h1M134.5 67.2h1M135.9 79.6h1M132.7 81.8h1M136.7 61.7h1M136.2 82.2h1M136 74.9h1M133.6 69.7h1M138.5 53.2h1M134.8 78.4h1M136.6 72.3h1M133.9 79.4h1M132.2 73.4h1M134.7 77.5h1M132.8 82.1h1M134.9 73.1h1M133.5 73.8h1M133.9 58.7h1M136.5 63.8h1M132.2 84.6h1M132.1 79.9h1M133.7 81.9h1M133 73.8h1M133.6 76.3h1M134.6 65.8h1M132.7 70.9h1M132.7 82.4h1M136.6 71.5h1M135.1 62.6h1M136.9 66.2h1M136.5 60.5h1M134.4 70.2h1M139.1 74.4h1M135.7 69.1h1M132.7 73.2h1M133.6 83.1h1M134.9 71.3h1M135.5 70.5h1M134.5 77.4h1M134.7 72.9h1M136.2 74.8h1M134.2 85.9h1M137.6 66.9h1M135.5 72.8h1M135.3 59.3h1M134.6 75.1h1M134.2 68.2h1M137.8 73.3h1M136.4 81.6h1M133.4 71.9h1M135.3 68.4h1M131.7 71.4h1M137.1 71.4h1M131.4 68.6h1M137.7 61.9h1M135.4 62.2h1M135.7 62.9h1M133.9 62.2h1M138 68h1M136 59.8h1M136.7 68.1h1M133.2 66.4h1M131.5 76.2h1M131.6 78.6h1M137.6 68.9h1M134.3 69.5h1M138.2 52.4h1M135.9 74.6h1M136.9 60.1h1M136.3 73.2h1M136.4 61.5h1M132.6 66.1h1M135 68h1M133.9 70.5h1M135.8 74.9h1M135.7 66.3h1M136.8 66.7h1M132.6 74.2h1M131.5 75.9h1M134.8 65.1h1M135.8 80.8h1M135.2 74.1h1M135.5 82.5h1M132.7 76h1M135.6 79.5h1M136.2 79.1h1M138.3 67.7h1M135.5 65.1h1M135.6 62h1M136.4 76.3h1M135.3 86.7h1M134.5 77.3h1M134.8 55.6h1M138.8 63.9h1M136.3 63.2h1M129.2 69.6h1M129.6 78.1h1M136.8 74.5h1M133.7 77.9h1M137.1 60.8h1M133.5 66.7h1M135.7 70.1h1M136.8 78.5h1M135.2 72.8h1M132 75.8h1M133.9 86.6h1M137.5 86.3h1M134.4 70.8h1M134.3 67.9h1M132.4 77h1M136.9 75.1h1M131.2 76.2h1M138.7 62.9h1M133.5 73.9h1M135.6 75.6h1M137.1 72.6h1M132.2 67.6h1M135.2 72.4h1M135.8 84.5h1M135.7 73.1h1M134.5 71.6h1M135.6 75.9h1M137.6 60.5h1M134.5 79.3h1M134.2 85.1h1M133 73.9h1M135 76.4h1M135.2 74.3h1M132.5 58.4h1M136 66.7h1M138.3 73h1M136 64.9h1M137.9 75.7h1M133 68h1M133.2 78.9h1M131.2 73.6h1M137.8 66.1h1M136 83.8h1M134.7 80.4h1M134.1 77.4h1M137.6 73.6h1M134.1 81.8h1M136.7 56.7h1M134 68.9h1M133.9 71.2h1M129 68.3h1M134.4 76.4h1M133.9 68.9h1M135.1 61.8h1M134 81.7h1M137.7 56.8h1M136.9 62.7h1M137.6 67.3h1M136.8 58.4h1M133.5 63.2h1M132.4 85.3h1M134.8 79.4h1M129.8 75.1h1M136.6 71.1h1M135.7 76.8h1M134.4 78.8h1M134.7 84.6h1M136.2 74.5h1M134 61.1h1M140.2 64.7h1M135.3 72.7h1M134.5 62.8h1M135.1 76.8h1M130.6 81.9h1M135.5 60.7h1M133.7 77.2h1M136.1 75.1h1M135.1 82.6h1" stroke="#3a3a3a" stroke-width="1" fill="none" opacity="0.9"/>
<path d="M136.6 66.1h1M137.3 63.5h1M141.1 60.9h1M137.2 82.3h1M135.9 63.5h1M135 74.5h1M133.4 65.4h1M133 82h1M131.9 86.7h1M134.2 71.8h1M135.4 65.1h1M133.3 65.5h1M139.4 62.3h1M135.6 63.6h1M134.4 83.3h1M134.9 60.1h1M134.9 64.1h1M134.7 83.1h1M133.4 83.4h1M135.1 77h1M135 74.2h1M131.3 76.4h1M137.2 81.3h1M136 68.1h1M137 74.3h1M135.7 77.6h1M136.9 81.5h1M128.1 76.7h1M135.3 81.7h1M133.8 86.6h1M136.8 71.5h1M133.4 71.1h1M132.3 78.8h1M133.8 76.2h1M135 73.7h1M138.4 64.9h1M133.9 66.5h1M137.5 71.6h1M136.4 74.8h1M134.7 70.2h1M129.8 81.4h1M135.6 74.7h1M136 74.5h1M137.1 60.2h1M133.2 70.6h1M133.3 59.5h1M134.8 61.7h1M134.8 71.5h1M134.4 72.7h1M134.5 79.2h1M133.7 74.2h1M140.4 70.7h1M134.9 77.5h1M133.5 76h1M134.8 70.6h1M134.9 77.2h1M132.7 77.7h1M136 65.2h1M134.1 73h1M133.2 80h1M133.4 78.1h1M134.4 62h1M135.2 77.3h1M132.4 74.9h1M135.4 54.1h1M133.3 76.5h1M135.4 77.2h1M134.9 66.1h1M135.9 76.3h1M135.3 64.4h1M135.2 86.5h1M135.9 56.4h1M137.7 60.9h1M136 70.1h1M135 77.8h1M137.4 72.4h1M137.5 70.5h1M135.6 65.3h1M136.2 78.4h1M130.3 84.5h1M136.7 70.3h1M137.8 58.6h1M132.4 75.9h1M137.7 66.9h1M134.6 67.9h1M135.1 82.4h1M133.4 80.5h1M136.1 81.8h1M134.1 65.1h1M133.3 79.8h1M131.5 85.9h1M134.9 64.5h1M133.6 70.8h1M135.6 70.5h1M134.5 79h1M132.9 69h1M136.5 79.1h1M133.9 66.7h1M136.9 69.8h1M135.2 65.8h1M139.2 62h1M134.9 70.3h1M136.7 70.5h1M135.7 69.3h1M131.6 75.9h1M134.1 74.2h1M132.2 71.1h1M135.5 68h1M136.3 71.6h1M133.2 87h1M138.1 68h1M135.5 65.9h1M133.9 69.2h1M134.7 77.9h1M135.3 68.9h1M132.2 85.3h1M129.8 66.7h1M136.3 60.1h1M136.1 75.3h1M130.6 84.5h1M136.4 74.3h1M134.1 69.4h1M133.6 75.2h1M132.6 80h1M134.2 64h1M137.6 72.9h1M135.9 68.7h1M136.3 66.3h1M133.2 70.2h1M132.4 62.8h1M139.6 67.1h1M136.2 79.8h1M135.5 74h1M132.9 80.1h1M131.2 69.6h1M134 84h1M134.2 72.4h1M133.8 65.7h1M135.5 75.2h1M135.8 74.3h1" stroke="#9a9a9a" stroke-width="1" fill="none" opacity="0.85"/>
<path d="M141.7 61.7h1M144.5 61.4h1M137.1 64.1h1M145.1 66.7h1M140.1 64h1M142.3 66.4h1M139.8 70h1M145.7 60.9h1M140.2 64.2h1M144.7 62h1M138.2 66.6h1M137.7 70.2h1M143.6 61.9h1M138.7 63.8h1M140.6 63h1M138.8 71.6h1M136.8 70.6h1M136.3 72.7h1M142.5 64.2h1M146.1 59.1h1M137.2 65.3h1M138.6 63.3h1M141 63.5h1M141.6 63.6h1M146 59.9h1M139.9 68h1M142.4 60.4h1M142.1 68.8h1M141.5 61.9h1M136.3 69.4h1M137.7 64.2h1M139.4 64.6h1M146.1 59.1h1M142.1 61.3h1M140.9 61.8h1M139.7 65h1M146.9 59.5h1M142.1 62.4h1M137.3 62.7h1M142.5 59h1M141.4 62.2h1M146.7 58.3h1M139.6 65.1h1M139.8 69.4h1M144.9 60h1M137.1 68.7h1M148.4 58.9h1M143.1 65.2h1M142.7 61h1M142.8 63.7h1M140.7 66.6h1M140.1 63.4h1M139.7 67.3h1M138.6 70.3h1M142.3 60.3h1M140.2 63.5h1M144.3 61h1M139.3 69.8h1M142.1 63.2h1M134 68.3h1M139.9 68.6h1M145.3 57.1h1M140.7 65.2h1M138.1 65.7h1M139.8 62.7h1M146.4 57.7h1M139.9 67.6h1M147.2 58.3h1M137.3 72.2h1M144.2 62.9h1M148.7 61.6h1M139.4 69.6h1M140.8 62.2h1M144.2 62.3h1M137.6 66.8h1M139.8 63.6h1M138.9 64.4h1M140.2 64.3h1M147.9 57.1h1M137.5 70.1h1M135.1 69h1M137.1 64h1M138.2 63.2h1M140.2 65.6h1M142.5 65.1h1M142 65.4h1M137.5 67.6h1M139.9 60.7h1M141.2 63.6h1M139.3 66h1M136.6 65.4h1M141.7 64h1M146.2 63.4h1M132.6 69.9h1M135.7 74.1h1M135.4 71h1M142 61.2h1M138.9 68.5h1M136.6 73.8h1M144 62.6h1M141.5 66h1M139.9 65.7h1M144.8 65h1M140 66.5h1M138.9 63.3h1M135.7 69.9h1M143 61h1M149.9 56.5h1M137.2 68.9h1M134.8 69.1h1M140.8 66.9h1M142.3 65.6h1M140.1 68.6h1M142.8 61.3h1M149.8 57h1M138.6 64.5h1M145.5 61.2h1M140.8 67h1M142 61.2h1M143.6 61.7h1M143.5 66.1h1M140.8 67.2h1M137.9 66.4h1M141.7 64.6h1M140 64.1h1M136.9 71.7h1M150.9 56.1h1M142.1 62.2h1M141.5 61.6h1M143.4 63.1h1M136.1 68h1M140.2 63.4h1M147.1 59.4h1M144.3 66.6h1M139.2 65.3h1M146.1 63.1h1M137.4 68.3h1M139.3 62.7h1M132.6 72.9h1M143.7 63.3h1M145.8 60h1M144.3 64h1M137.7 69.5h1M140.2 68.6h1M142.3 60.9h1M137.5 67.3h1M141.7 65.2h1M131.1 73.4h1M142.3 60.3h1M133.8 71.7h1M141.2 64.7h1M142.6 65.4h1M138.6 72.3h1M143.4 61.9h1M138.2 67.2h1M140.6 66.2h1M141.8 64.9h1M142.2 62h1M141.9 67.7h1M142.1 63.1h1M146.7 60.8h1M142.7 59.9h1M143.6 62.8h1M133.2 71h1M138.1 71h1M140.6 68.7h1M139.9 63.6h1M146.1 62h1M143.4 60.8h1M150 55.9h1" stroke="#3a3a3a" stroke-width="1" fill="none" opacity="0.9"/>
<path d="M139.8 68.9h1M138.9 69h1M141.2 64.7h1M141.7 65.4h1M136.1 67.8h1M139.7 61.8h1M141.3 62.1h1M140.9 66.9h1M135.9 69.4h1M146.1 60.7h1M138.9 71h1M143.6 59.9h1M139.9 63.9h1M143.5 63.6h1M140.5 66.8h1M141.6 64.5h1M137.3 66.9h1M143.6 63.1h1M140.7 64.8h1M136.7 71.4h1M139 69.3h1M142.9 65.7h1M143.8 63.7h1M143 62.7h1M135.5 72.1h1M142.7 67h1M141.3 61.7h1M135.4 67.8h1M138.9 65.3h1M140.4 66h1M141.3 65.8h1M139.8 61.5h1M138.5 68.6h1M143.8 58.1h1M144.2 65.1h1M144.3 60.1h1M138.7 69.3h1M138.4 68.4h1M141.7 65.4h1M137.8 71.5h1M139.3 66.2h1M147.7 60.7h1M146.5 59.9h1M137.2 63.1h1M134.7 71.8h1M147.8 57.9h1M140.6 69.9h1M136.7 70.6h1M141.2 64.1h1M142.5 63.1h1M141.7 63.4h1M140.5 66.2h1M139.6 65h1M142.1 62.9h1M134.8 70.8h1M141.8 63.6h1M141.7 63.2h1M143.1 63.8h1M146.7 59.1h1M142.6 62.7h1M142.7 63.5h1M142.5 64h1M142.2 64.3h1M144.5 61.4h1M134.5 72.4h1M144.8 63h1M139.4 66.8h1M140.5 61.7h1M140.4 59.9h1M142.2 64.1h1" stroke="#9a9a9a" stroke-width="1" fill="none" opacity="0.85"/>
<path d="M135.3 71.9h0.9M140.5 63h0.9M152.1 63.5h0.9M141 71.1h0.9M142.9 74.4h0.9M135.4 66.5h0.9M142 67.4h0.9M136.7 72.4h0.9M131.6 76.8h0.9M132.6 71.5h0.9M139.6 62.3h0.9M129.1 79.1h0.9M141.3 67.6h0.9M142.4 64.2h0.9M150.2 54.8h0.9M142.6 72.2h0.9M143.6 78.4h0.9M133.5 50.3h0.9M125.3 78.7h0.9M137.2 63.3h0.9M126.7 68.3h0.9M139.7 67.4h0.9M138.1 56.7h0.9M138.2 70.3h0.9M144 58.9h0.9M132.2 60.8h0.9M137 57.9h0.9M136.4 74.3h0.9M141.9 60.3h0.9M139.5 67.3h0.9M136.5 72h0.9M146.1 62h0.9M146.7 70.1h0.9M146 61.1h0.9M132.3 57.3h0.9M135.1 58.5h0.9M140.2 62.1h0.9M134.4 72.1h0.9M136.1 57.4h0.9M135 62.5h0.9M142.1 68.8h0.9M147.6 70h0.9M134.8 54.8h0.9M134.9 70.7h0.9M133.8 71.8h0.9M147.6 57.2h0.9M124.7 74.2h0.9M130.5 72.4h0.9M139.5 63.7h0.9M141.2 61.5h0.9M130.1 63.4h0.9M136.3 60.2h0.9M143.9 75.6h0.9M130.9 78.3h0.9M140.9 73.7h0.9M138.1 76.6h0.9M133 57.8h0.9M138 57.2h0.9M135.1 64.4h0.9M133.9 69.8h0.9M146.9 68h0.9M143.3 70.1h0.9M129.5 70.9h0.9M131.2 84.3h0.9M138.9 61.8h0.9M132.6 69h0.9M139.9 63.1h0.9M147.2 64h0.9M140.4 67h0.9M138.9 75h0.9M135.8 70h0.9M138.3 75h0.9M133.6 73.9h0.9M127 72.6h0.9M139.1 70.7h0.9M130.5 87.5h0.9M143.7 71h0.9M137.9 70.1h0.9M133 51.7h0.9M144.2 55.7h0.9M136.2 65.2h0.9M140.8 65.6h0.9M149.3 64.1h0.9M140.4 54.6h0.9M136.9 61.7h0.9M132.6 73.7h0.9M139.1 66.2h0.9M137.4 61.9h0.9M135.5 78.7h0.9M137.4 70.7h0.9M144.8 62.4h0.9M141.5 62.4h0.9M139.7 63.4h0.9M125.8 93.7h0.9M129.3 85.4h0.9M129.3 77.7h0.9M149.4 52.2h0.9M140.9 72.8h0.9M142.6 58.2h0.9M125.7 75.3h0.9M127.1 75.3h0.9M134.9 59.6h0.9M141.7 69.4h0.9M129.5 72.1h0.9M133.1 67.7h0.9M144 69.9h0.9M145.6 61.3h0.9M144 58.9h0.9M135.7 71.3h0.9M143.3 68h0.9M136.3 63.4h0.9M143.9 61.4h0.9M124.3 77.6h0.9M142.1 55.9h0.9M145.4 66.2h0.9M149.2 53.7h0.9M134.8 67.9h0.9M141.5 68h0.9M147.4 63h0.9M131.5 70.9h0.9M140.8 64.7h0.9M139.3 67h0.9M144.2 56.5h0.9M143.2 64.3h0.9M135.2 69.6h0.9M136.1 74.2h0.9M134.6 69.7h0.9M137.7 72.3h0.9M142.1 70.4h0.9M127.2 91.7h0.9M132.1 73.5h0.9M126.4 63.6h0.9M141 72.9h0.9M137.7 66.9h0.9M126.5 72.3h0.9M140.7 60h0.9M145 59.5h0.9M147.8 69.5h0.9M143.8 72.1h0.9M138.7 70.8h0.9M133.7 71.5h0.9M139.4 62.8h0.9M143 63.6h0.9M132.9 62.8h0.9M139.5 77.2h0.9M131.6 77.6h0.9M129 74.3h0.9M138 63.3h0.9M136.8 67.2h0.9M139.2 87.2h0.9" stroke="#888" stroke-width="0.9" fill="none" opacity="0.8"/>
<path d="M105 76.2h1M138.3 81.4h1M120.2 87.5h1M119.3 80.9h1M127 83.8h1M125.7 87.8h1M90.7 91.3h1M122.7 79.8h1M86.8 114.2h1M97.6 99.8h1M112.9 105.8h1M120.2 88.8h1M115.9 97.4h1M122.4 80.9h1M122.3 78h1M106.9 96.4h1M131.8 67.9h1M126.2 97.2h1M104.3 99.2h1M111.2 80.9h1M120.8 74.8h1M129.5 81.8h1M109.8 90.2h1M104.1 92.8h1M118.9 83h1M109.1 102.4h1M123.7 77h1M116 100h1M101 100.7h1M116.5 70.4h1M98.2 103.5h1M135.9 71.2h1M99.2 98.1h1M105.2 93.4h1M100.9 88.1h1M96.1 106.6h1M119.1 87.1h1M101.7 103.1h1M119.3 90.8h1M125.4 83.4h1M111.7 101.3h1M120.2 84.7h1M105 92h1M104.9 76h1M108.7 74.8h1M119.5 81.8h1M122.6 80.3h1M120 90.4h1M124.9 70.6h1M120.1 80.4h1M116.5 74.6h1M113.6 86.5h1M115.5 92.4h1M118.9 85.1h1M104.7 91.6h1M105.3 103.7h1M128.3 73.9h1M109.6 90h1M113.9 84.1h1M120.6 86h1M102 94.6h1M129.2 78.6h1M107.1 85.9h1M96.2 103.8h1M118.6 85.1h1M119.2 94.2h1M122.6 82.5h1M119.3 80.2h1M98.9 86.9h1M139.8 62.9h1" stroke="#bbb" stroke-width="1" fill="none" opacity="0.8"/>
<g filter="url(#blur2)"><ellipse cx="89.5" cy="278.2" rx="23.2" ry="14.7" transform="rotate(-49 89.5 278.2)" fill="#707070"/></g>
<g filter="url(#blur3)"><ellipse cx="89.5" cy="278.2" rx="19.2" ry="10.7" transform="rotate(-49 89.5 278.2)" fill="#bebebe"/></g>
<path d="M100.4 276.7h1M87.1 267.5h1M81.7 285.7h1M87.3 269.1h1M83.7 273.3h1M79.7 274h1M75.8 280h1M98.9 270.6h1M76.9 278.5h1M93.6 279.1h1M82.5 272.7h1M100.4 277.6h1M82.6 288.9h1M94.9 264.6h1M90.6 289.4h1M89.2 290.6h1M103 265.6h1M84.9 279.1h1M79.4 274.2h1M88.9 273h1M92 283.7h1M85.3 275.4h1M85.8 291.2h1M97.6 265.5h1M87.1 282.3h1M79.9 278.9h1M85.6 269.7h1M89.8 282.5h1M76.9 286.2h1M102.3 270.6h1M86.1 267.9h1M101.2 269.5h1M84 273.2h1M82.8 275.9h1M97.5 275.4h1M77.5 291.6h1M95 281.3h1M103.5 270.7h1M77.9 282.4h1M86.6 272.4h1M101.3 272.7h1M79 277.6h1M90.9 270.6h1M85.2 267.1h1M80.6 279h1M86 268.2h1M82.4 271.2h1M101.2 269.4h1M103.4 269.2h1M98.8 280.5h1M99.6 270.5h1M84 278.5h1M79.5 273.6h1M102 275.2h1M101.1 274h1M92.3 266.3h1M88.1 266.7h1M93.4 280.3h1M94.8 286.7h1M93.9 267h1M84.3 285.2h1M87.9 279.4h1M90.1 276.5h1M80.7 273.1h1M99.9 281.5h1M84.2 278.2h1M80.9 275.1h1M101.2 271.9h1M83.1 270.8h1M75.5 283.7h1M81.6 294.3h1M97.9 274.9h1M100.8 264.3h1M80.7 290h1M95.6 266.2h1M77.2 282.3h1M84.5 272.6h1M75.2 288.6h1M80.5 274.2h1M93.1 286.3h1M86.3 286.8h1M85.5 279.8h1M93.1 269.5h1M89.5 284.1h1M92.4 280.3h1M92.3 278.5h1M101 279.3h1M91.6 266.4h1M87.1 279.2h1M97.7 275.2h1M78.6 275.5h1M99.1 270.3h1M77.9 288.5h1M103.2 265.6h1M80.2 275.9h1M88.6 274.1h1M96 270.7h1M89 288.3h1M99.4 271.8h1M85.2 273.5h1M85.4 287.1h1M95.5 282.4h1M89.8 270.3h1M87.7 270.3h1M83.3 280h1M90.3 266h1M77.6 288.7h1M89.5 288.7h1M102.2 276.2h1M98.1 272.5h1M78 275.1h1M94.7 268.9h1M93.7 262.6h1M95.1 278.7h1M85.5 279.8h1M95.9 283.6h1M80.4 279.1h1M95.3 271.2h1M80.5 284.8h1M77.8 277.2h1M92.2 267.3h1M92.2 273.9h1M97.8 280h1M76 286h1M98.7 269.7h1M91.9 284.5h1M81 285.3h1M80.1 277h1M88.1 271.4h1M75.9 282.4h1M83.3 281.6h1M96.1 274h1M97.3 284.2h1M82.8 273.9h1M76 279h1M89.3 264.6h1M92.2 285.3h1M85.9 287h1M86.5 289.6h1M97.4 266.9h1M89.9 287h1M85.2 275.1h1M96.3 274.3h1M80.8 272.5h1M83.6 291h1M97.5 262.8h1M96.5 278.6h1M93.1 283.6h1M86.3 288.2h1M78.1 286h1M84.6 273h1M80.6 287.6h1M92.1 276h1M95.9 279.6h1M77.1 285.5h1M99.7 273.7h1M85.6 290.6h1M82.7 290.4h1M96 268.3h1M79 280.4h1M76.5 283.7h1M87.4 291.3h1M90.1 269.7h1M96.1 268.3h1M98.9 277.6h1M78.1 274.3h1M91.2 290.1h1M81.4 271.1h1M95.3 272.3h1M80.2 278.4h1M94.2 280.3h1M82.9 289.2h1M88.1 273.9h1M92.5 265h1M94.2 285.4h1M96.8 270.9h1M87.8 281.7h1M86.8 271.2h1M93.8 277.5h1M82.8 289.6h1M77.3 290.5h1M88 270.4h1M89.2 279.2h1M98.2 274.6h1M92.5 282.5h1M79.8 272.8h1M86.2 287h1M92.2 276.9h1M82.1 270.5h1M94.7 285.6h1M89.2 285.5h1M94.8 262.8h1M87 282.9h1M82.8 282.6h1M86.4 292.1h1M92.6 277.1h1M78.5 291.4h1M84.6 269h1M95.9 266h1M95.4 267.9h1M92.7 272.3h1M98.4 279.2h1M75.5 291.5h1M96.9 278.3h1M92.1 281.6h1M83.2 290.3h1M100.6 279.1h1M88.7 284.2h1M83.6 277h1M88.9 285h1M97.3 273.7h1M97.2 268.3h1M98.6 263.9h1M91 267.9h1M98.2 283.3h1M97 282.5h1M83.5 268.6h1M101.6 270.7h1M93.2 265.7h1M101.1 264h1M89.3 290.6h1M95.7 274.8h1M87.3 269h1M96.6 283.3h1M82.8 272.7h1M89.7 272.9h1M87.4 274.9h1M80.3 279.1h1M89.2 264.4h1M95.2 279.4h1M100 273.1h1M101.5 268.5h1M90.8 271.6h1M92.8 265.8h1M99.9 275.9h1M92.7 276h1M88.1 287.2h1M86.7 286.4h1M94.9 270h1M95.4 278.2h1M81.6 277.1h1M89.3 282.7h1M89.1 278.2h1M81.8 276.7h1M99.3 267.7h1M77.1 286.8h1M94.3 285.9h1M78.4 290.5h1M92 273.3h1M79.3 292.1h1M85.8 288.7h1M83.9 293.8h1M102.4 267.9h1M89 290.3h1M99.1 280.6h1M87.9 290.7h1M92 283.4h1M91.7 264.2h1M90.7 269.9h1M78.7 283.4h1M84.5 292.1h1M99.2 278.6h1M89.3 276.8h1M79.3 282.7h1M88 273.9h1M89.8 286.7h1M97.5 281.6h1M90.3 277.8h1M99.2 273.7h1M80.3 280.4h1M95.4 285h1M94.6 277.5h1M94.9 270.2h1M83.8 281.3h1M97.3 281h1M81.8 281.2h1M98.1 274.5h1M86.3 288.1h1M101.7 278.5h1M85.5 273.4h1M93.9 266.3h1M84.8 271.1h1M96.6 262.7h1M100.6 269.8h1M100.5 269.5h1M91.1 287.3h1M86.5 282h1M96.9 280.5h1M86.1 278.8h1M96.9 277.7h1M99 282.8h1M95.5 285.3h1M91.3 286h1M92.7 273.5h1M84.7 293.2h1M98.9 276.8h1M82.1 279.3h1M87.4 292.8h1M88.6 285h1M90.4 284.6h1M96.1 274.3h1M77.8 277.9h1M92.9 274h1M101 274.8h1M83.7 275.1h1M92.9 271.3h1M83.4 278.9h1M86.7 265.7h1M85 278.7h1M87 289.6h1M94.4 273.7h1M80.8 287h1M94.7 279.7h1M102 274.1h1M91.5 265.2h1M84.3 284.2h1M86.9 282.6h1M96.7 278.6h1M92.7 267.9h1M99.8 273.4h1M76.9 285.4h1M92.1 278.2h1M79.5 286.4h1M87.7 274.7h1M81.7 277.9h1M96.6 265.6h1M104.2 269.6h1M83.4 286.2h1M84.9 288.8h1M87.8 277.5h1M99.1 274.4h1M82.5 279.8h1M93.9 270h1M99.3 279.5h1M94.7 277.8h1M87.6 284.5h1M79.7 280.9h1M90.5 279.3h1M89.5 289.9h1M92.1 268.8h1M103.9 271.2h1M75.7 289.2h1M90.7 268.6h1M84.4 291.2h1M99.1 263.8h1M84.8 291.1h1M78.9 278.3h1M75.1 284.6h1M87.8 279.5h1M85.2 268.6h1M91.1 280.6h1M79.9 279.7h1M87.2 283.7h1M85.9 269.6h1M83.4 281.2h1M86.5 269.6h1M89.2 282.5h1M82.9 278.7h1M85.7 272.5h1M94.4 281.3h1M79.5 278.1h1M87.6 268.9h1M88.8 265.8h1M98.2 273.4h1M90.2 271.8h1M104 269.8h1M94 280.4h1M95.5 269.8h1M84.1 279.3h1M96 265.3h1M91.6 289.6h1M89.4 270.2h1M87.4 270.6h1M98.1 262h1M92.8 283.4h1M75.8 279.5h1M90.9 287h1M79.7 289.5h1M89.9 270.4h1M103.4 272.3h1M83.3 292.3h1M96.1 282.2h1M100.7 275.8h1M93.8 276.3h1M90.4 273.2h1M83.3 290h1M86.8 292.1h1M93.1 284.2h1M90.2 265.3h1M83.2 294.4h1M94.2 266.1h1M87.4 269.2h1M87.6 265.1h1M85.3 283.6h1M96 262.6h1M96 265.9h1M96.7 271.9h1M101.3 275.6h1M97 281.4h1M75.5 283.2h1M95.5 271.8h1M99.1 277.2h1M84.1 292.2h1M83.6 275.5h1M80.5 281h1M95.7 264.5h1M85.8 276.5h1M92.8 286.9h1M90.5 283.9h1M77.4 281.3h1M88.8 284.4h1M90.7 284h1M85.7 291.9h1M91.3 268h1M98.6 264.3h1M92.4 285.7h1M85.8 288.1h1M94.9 276h1M96.3 263.7h1M79.2 291.8h1M100.7 274h1M103.2 272.6h1M100.7 277.3h1M85.7 289.6h1M98.4 283h1M88.9 287.4h1M80.8 271.6h1M83.7 282.4h1M90.2 275.4h1M99.4 277.5h1M91.5 271.9h1M74.5 289.3h1M77.5 275.9h1M79.1 282.9h1M92.8 276h1M73.9 285.5h1M80.5 278.6h1M78.7 286.8h1M96.4 278.7h1M96.6 277.4h1M96.4 271h1M89.4 285.9h1M81.9 291.7h1M96 279.7h1M101.1 276.3h1M76.3 286.8h1M81.6 292.9h1M92.6 273.1h1M84.9 267.5h1M99.5 280.8h1M96.6 277.8h1M91.9 281.1h1M100.3 280.2h1M93.5 266.6h1M78.9 283.7h1M85.1 293.4h1M91 285.7h1M75 284.4h1M79.7 273h1M93.4 287.2h1M92.8 279.4h1M78.3 275.1h1M94.3 269h1M96.5 271.7h1M76.9 286h1M78.9 280.6h1M98.5 264.9h1M98.8 262.2h1M103.7 274h1M92.5 285.3h1M78.1 279h1M75.4 285.9h1M94.2 266.5h1M99.5 263.7h1M87.3 287.8h1M97.8 264.5h1M93 276.4h1M75.6 279.7h1M85.8 272.8h1M80 278.7h1M77.7 289.1h1M86.8 286.4h1M87.2 280.5h1M87 274.2h1M84 269h1M96.1 265.1h1M86.8 293.2h1M75.5 291.4h1M91 266.3h1M86.4 270.5h1M86.9 268.9h1M86.4 293h1M97.9 273.1h1M96.1 279.5h1M85.6 291h1M99.1 277.1h1M93 286.4h1M100.2 270.7h1M79 289.9h1M85.6 280.3h1" stroke="#dedede" stroke-width="1" fill="none" opacity="0.9"/>
<path d="M96.3 282.5h1M91.2 264.4h1M84.9 292.9h1M99.7 274.8h1M94.8 271.7h1M74.7 286.4h1M94.9 270.8h1M83.5 275.2h1M96.8 275h1M85.6 293.5h1M85.3 292.4h1M86.1 291.7h1M85.7 283.6h1M81.6 277.8h1M78.9 284.1h1M91.6 264.1h1M87.4 278.1h1M78.7 277.8h1M89.7 270.4h1M95.7 280.4h1M86.8 292.7h1M93.6 271.5h1M85.6 268.7h1M96 275h1M83.3 281h1M98.6 267.9h1M81.3 293.3h1M81.3 288.1h1M93.3 279.1h1M96 285.2h1M97.4 273.8h1M97.3 283.3h1M79.4 273.9h1M77.8 291.6h1M87.1 286.4h1M90.5 284.6h1M87.2 289.8h1M101.2 279.3h1M97.2 276.4h1M89.7 272.8h1M86 280.5h1M103.1 272.2h1M77.4 277.7h1M80.2 272.7h1M96.8 282.6h1M77.6 284.3h1M84.3 293.5h1M87.3 284.5h1M89.8 274.8h1M98.3 270.9h1M98.8 275.7h1M79.5 283.1h1M90.4 272.2h1M86.8 268h1M92.3 286.2h1M89.7 284.8h1M83.8 270.9h1M83.7 284.6h1M97.5 282.9h1M80.6 280h1M87.5 284.3h1M95.5 281.1h1M75.8 280.2h1M78.7 290.8h1M92 275.9h1M80.3 278.4h1M74.3 284.9h1M94.3 284.3h1M90.1 279.9h1M99.5 270.7h1M86.4 291.5h1M98.5 265.4h1M78.8 290.1h1M84.6 268.4h1M88.1 274h1M94.9 283.8h1M75.9 282.3h1M83.5 271.1h1M102.3 266.5h1M86.5 287.9h1M95.8 272.3h1M100.2 266.3h1M87.2 288.5h1M86.8 286.8h1M93.3 282.2h1M102.6 271h1M97.5 283.4h1M88.9 273h1M99.7 271.9h1M85 271.1h1M97.6 279.1h1M93.1 263.9h1M87.3 284.3h1M85.3 281.5h1M92.7 272.9h1M90.4 263.7h1M99.1 262.1h1M94.8 271.7h1M85.9 272.5h1M99.3 280.6h1M88.4 269.9h1M84.2 270.9h1M97.5 266.9h1M90.1 285.6h1M85.1 284.2h1M103.4 269.3h1M89.7 287.6h1M82.7 292.4h1M91.3 274.8h1M91.7 270.1h1M104.1 270.3h1M97.6 275.9h1M81.6 291.9h1M84.9 280.7h1M98.3 268.9h1M88.6 290.4h1M93 270.2h1M78.2 274.4h1M90.5 286.6h1M80.5 291.4h1M100.3 278.5h1M77.9 287.1h1M92 265.8h1M93.8 287.8h1M90.2 281.2h1M90.6 280.2h1M97.2 265.4h1M74.5 286.5h1M95.4 265.5h1M85 292.6h1M92.9 288.9h1M88.3 279.9h1M87.7 286.1h1M94.3 274h1M78.8 278.3h1M92.9 279.5h1M89.6 269.4h1M89.9 288.2h1M96.5 282.9h1M79.3 280.2h1M94.3 272.8h1M89.2 266.4h1M74.8 284.7h1M80.1 279.5h1M80.7 289h1M97 269.8h1M100.4 266.2h1M91.3 276.4h1M94.3 269.6h1M98.2 281.1h1M78.1 290.5h1M84.9 274.1h1M77.1 293.3h1M94.9 269.7h1M85.2 281.9h1M85.8 277.7h1M85 291.9h1M90.7 274.8h1M88.3 286.5h1M100.5 269.9h1M82.9 271.5h1M88.3 286.4h1M96.5 277.9h1M98.8 282.4h1M81.3 273.1h1M97.5 276.7h1M78.6 286.1h1M96.8 278.8h1M92.6 286.8h1M90.3 274.8h1M84.2 271.6h1M92.9 281.6h1M92.5 268.7h1M99.6 265.5h1M93.9 280.6h1M82.7 289.9h1M76.2 286.3h1M95.5 277.2h1M92.3 277.4h1M75.5 281.3h1M78 278h1M91 284.6h1M83.7 269.2h1M85 272.2h1M82.3 270.1h1M98.7 275.8h1M96.1 266.9h1M85.6 274.3h1M96.1 281.6h1M84.3 269h1M103.1 268.8h1M95 266.7h1M94.7 277.2h1M83.9 282.7h1M82.2 284.7h1M98 264.4h1M96.2 285.6h1M96.9 285.6h1M84.3 283.5h1M94.2 281.3h1M97.5 278.4h1M89.6 284.8h1M77 283.8h1M96.8 280h1M85.7 279.2h1M99.7 265.4h1M82.7 293.4h1M78.9 292.7h1M86.6 285.5h1M80.8 292h1M86.5 269.7h1M84.4 283.1h1M98.3 263.8h1M89.2 287.5h1M86.1 285.5h1M80.8 286.8h1M98.5 275.6h1M87.4 265.5h1M98.9 282.5h1M77.8 277.9h1M96.8 272.3h1M101.6 277.9h1M89.7 276.3h1M92.6 285.1h1M94.5 287.4h1M88.3 286.7h1M95.4 272.8h1M98.4 279.2h1M81.6 284.2h1M92.8 281.9h1M92 289h1M96.1 275.2h1M85 277.6h1M101.1 272.4h1M86.5 283.8h1M82.6 287.6h1M85.8 286h1M82.9 276.2h1M82.8 292.7h1M81.1 271.9h1M77 287h1M92.2 275.1h1M93.8 279.5h1M100.8 278.2h1M77 280.5h1M76.9 291.9h1M94.2 285h1M86 284.8h1M78.4 282.8h1M90 274.2h1M94.3 269.6h1M77.7 285.3h1M96.5 275.6h1M84.7 286.6h1M77 283.2h1M97.7 270.4h1M83.5 278.8h1M103.8 270.9h1M102.6 273.1h1M75.7 287.8h1M80.7 279.4h1M76.5 282.7h1M90.1 281.7h1M79.4 284.1h1M95.4 273.4h1M94.8 274h1M83.6 291.8h1M83.9 289.9h1M93.5 267.8h1M99.8 263.7h1M89.6 289.6h1M93.5 269.1h1M81.1 292.1h1M87.2 270.6h1M98.7 275.5h1M88.3 286.6h1M74.3 284.5h1M75.9 284.5h1M99.1 273.5h1M85.5 274.6h1M86.9 283.4h1M102.2 267.7h1M84.1 277.2h1M87.7 266.4h1M87.2 286h1M97.2 268.8h1M81.6 272.2h1M98.2 271.2h1M79.9 276.8h1M88 284.3h1M83.5 282h1M98.6 262.7h1M99.3 272.2h1M80.3 276.5h1M78 286.6h1M97.4 279.5h1M74.4 286.9h1M86.3 285.2h1M74.2 287.6h1M83.5 290.2h1M92.8 276.3h1M92.7 279.9h1M84.1 287.6h1M75.2 284.6h1M90.1 267.1h1M99.9 277.7h1M85.2 272.7h1M83.7 268.1h1M88.2 266.7h1M99.5 277.5h1M89.1 268h1M81.9 271.5h1M94.4 281.5h1M83.5 287.7h1M95.4 270.6h1M89.8 279.1h1M88.8 278.6h1M86.8 265.8h1M80.2 274.7h1M84.4 282.5h1M100 264.3h1M82.2 284.7h1M101.3 272.4h1M87.3 284.1h1M95.7 274.6h1M93.5 272.1h1M94.8 262.4h1M95.5 274.9h1M100.5 263.7h1M79.6 293.8h1M94.2 283.3h1M85.9 288.3h1M88.8 289.3h1M78.2 291.3h1M88.7 276.2h1M87.4 272.4h1M98.5 262.9h1M86.8 265.9h1M84.4 270.6h1M89.8 270.2h1M81.9 290.3h1M100.2 269.6h1M96.8 262.8h1M89.2 290.3h1M84.9 285.8h1M82.4 287.8h1M91.3 286.7h1M84.4 269.1h1M96.7 281.6h1M87.6 275h1M99 276.3h1M96.9 271.5h1M77.9 276.9h1M76.1 287h1M101.1 268.7h1M94.1 271.3h1M91.9 286.3h1M76.9 287.5h1M97 284.5h1M99.9 265.1h1M102.2 277.2h1M86.3 292.3h1M97.1 276.8h1M96.9 277.7h1M78.3 285.9h1M89.5 275.5h1M92 281.8h1M92.6 271.5h1M82.1 271.4h1M79.9 275.3h1M99.4 282.4h1M90.4 265.5h1M83.5 288.4h1M79.7 282.5h1M86.4 281.7h1M91.2 269.7h1M95.7 275.1h1M74.3 284.3h1M87.7 267.1h1M88.5 266.9h1M92.1 288h1M98.6 274.4h1M92.9 272.5h1M86.5 280h1M97.7 276.9h1M80 273.5h1M80.1 286.1h1M75.9 280h1M100.5 277.3h1M96 275.1h1M82.4 270.2h1M80.9 287.7h1M95.8 276.1h1M85.6 282.6h1M103.1 274.2h1M92.2 277.2h1M83.9 267.9h1M86.3 282.6h1M87.3 291.9h1M94.5 267.8h1M100.7 262.7h1M102 278.2h1M79.1 274.7h1M74.5 284.5h1M97.2 274.3h1M94.3 280.9h1M93.8 278.3h1M88.6 284.3h1M83.1 277.1h1M88 284.2h1M87 276.7h1M80 275.6h1M91.4 265.6h1M97.8 265.7h1M85.8 290.8h1M97.6 281.8h1M96.7 278.4h1M84 282.4h1M89.3 280h1M96.5 261.8h1M101.9 278h1M102.2 265.6h1M81 284h1M90.6 270.5h1M84.5 278.2h1M95.6 286.3h1M96.8 262.7h1M91.6 267.7h1M99 269.9h1M81.2 284.6h1M86.2 283.4h1M86.9 271.2h1M75.7 292h1M77.6 290.4h1M87.6 292h1M86.7 278.6h1M83.6 289.4h1M98.7 281.4h1M98.3 277.1h1M91.4 269.9h1M89.4 272.7h1M92.8 284.1h1M84.9 293.6h1M94.3 269.6h1M91.2 279.2h1M89.2 291.3h1M82.5 290.8h1M89.8 271.6h1M84.2 289h1M96.9 268.9h1M89.6 267.6h1M94.4 281.2h1M98.4 282.5h1M92.5 285.1h1M89.8 274.8h1M91 268.8h1M93.9 267.9h1M92.9 267.1h1M88.8 286.4h1M86.1 271.5h1M97.1 267.7h1M89.2 283.7h1M75.7 286h1M100.5 274.8h1M97.1 284.6h1M75.4 281.1h1M91.4 288.2h1M101.8 276h1M87.1 273.1h1M87.1 286h1M100.9 279.2h1M93 274.9h1M89.8 280.2h1M100.6 270h1M81.1 290.9h1M83.3 290h1M74.4 287.8h1M100.9 279.1h1M95.9 273.5h1M86.1 282.7h1M90.2 274.7h1M85.4 267.7h1M89.5 288.4h1M77.3 289.4h1M93.5 262.7h1M97.6 275.2h1M85.4 266.7h1M99.6 269.7h1M75.3 286.3h1M91 264.4h1M92 285.8h1M96.3 273.9h1M83.8 273.7h1M78.4 277.1h1M76.6 282.4h1M97.1 273.5h1M90 265.1h1M89 271.5h1M86.1 270.3h1M75.2 280.4h1" stroke="#a8a8a8" stroke-width="1" fill="none" opacity="0.9"/>
<path d="M81.8 276.9h1M81.2 293.4h1M91.3 284h1M98.6 283.6h1M88.5 278.9h1M79.3 287.4h1M97.6 284.6h1M95.3 263.4h1M90.7 277.7h1M78.9 286.6h1M84.2 293.3h1M102.4 269h1M98.6 278.7h1M79.2 285.3h1M77.9 280.8h1M90.8 282.7h1M98.2 275.8h1M84.7 284.4h1M78.7 294h1M102.2 267h1M97.6 283.9h1M95.8 275h1M96.6 266.2h1M91.2 272.9h1M84.8 290.8h1M90.9 286.7h1M85.3 276.2h1M85.7 286.3h1M90.2 275.2h1M103.4 269.3h1M81.7 279.1h1M78.6 291.8h1M87.3 286.9h1M82.9 284.2h1M90.9 285h1M96.6 267.9h1M90.4 271.7h1M85.8 270.4h1M100.9 267h1M89.3 285.7h1M82.1 277.1h1M83.7 284.8h1M78.9 286.2h1M83.2 273.1h1M89.6 267.1h1M81.9 272.4h1M93 272.2h1M93.2 269.2h1M94.9 279.2h1M83 285h1M89.9 271.3h1M91.1 273.2h1M102 277.3h1M88 277.7h1M80.6 275.7h1M103.6 272.5h1M82.6 285.8h1M102 275.2h1M96.2 279.9h1M86.1 285.5h1M84.9 267.2h1M94.5 266.1h1M97.3 278h1M101.6 271.7h1M84.9 273.6h1M90 270.9h1M78.1 286.5h1M84.7 272.4h1M84.2 284.8h1M90.3 286.1h1M96.3 271.5h1M91.1 285.8h1M82.9 292.4h1M84.6 278.7h1M83.7 292.5h1M84.1 293.9h1M94.1 264.8h1M78.4 277.9h1M95.8 265.5h1M88.4 270h1M83.9 290.3h1M101.9 272.4h1M93.2 283.5h1M82.4 271h1M89 291.1h1M86.3 286.6h1M101.4 266h1M82.4 277.8h1M85.6 286h1M100.7 262.9h1M78.4 280.4h1M79.4 276.2h1M79.8 273.9h1M83.8 268.7h1M98.4 272.4h1M86.1 268.3h1M89.4 283.1h1M78.9 284.8h1M87.9 278.5h1M90.8 289h1M86.3 282.9h1M87.3 287.4h1M92.8 280.8h1M79.5 293.5h1M84.4 270.3h1M103 266.6h1M85.1 282.5h1M101.8 269.4h1M82.7 276.7h1M74.2 287.4h1M89.1 273h1M97.3 282.6h1M75.9 282.3h1M76.1 288.8h1M76.4 287.2h1M91.3 270.4h1M99.4 271h1M95.8 264.1h1M90.2 285h1M79.7 292.4h1M92.8 284.7h1M93.7 268.4h1M75.9 290.3h1M99 272.4h1M88.5 288.8h1M76.5 286h1M99.6 264.2h1M84.9 281h1M81.2 287.5h1M83.6 286.1h1M81.3 281h1M89 283.6h1M102.9 270h1M96.2 271.8h1M86.2 285.7h1M83.4 272.5h1M85.6 266.9h1M88.6 275.9h1M87.8 285.3h1M101.4 266.1h1M81.5 287.6h1M95.1 286.7h1M83.4 279.8h1M86.1 285.5h1M102.1 267.2h1M95 269.4h1M91.6 277.9h1M94.3 269.6h1M100.8 265.2h1M82.4 269.8h1M95.5 267.3h1M94 281h1M76.6 279.2h1M93.5 285.9h1M76 286.1h1M76.3 290.4h1M94.1 288.1h1M85.8 285.2h1M78.7 293.6h1M98.8 266.2h1M77.8 275.7h1M85.1 286h1M93.7 275h1M83.2 284.4h1M103.6 272.9h1M86.7 269.1h1M90.4 289.4h1M93.8 276.1h1M86.3 276.2h1M80 286.3h1M91.6 275.4h1M83.5 274h1M93.4 271.8h1M84.2 272.5h1M85.3 271.6h1M99.9 277h1M99.2 273.3h1M79.5 294.1h1M98 270.1h1M100.1 277.2h1M99.1 270.6h1M83.5 279.5h1M104 268.3h1M96.7 274.2h1M90.3 264.7h1M91.7 266.8h1M87.3 278h1M80.2 279.1h1M93.1 272.8h1M81.8 280.5h1M100.3 274.6h1M96.6 283.1h1M77.9 279.3h1M101 279.4h1M82.3 272.9h1M88.6 282.8h1M86.9 291.1h1M77.2 287h1M79 274.2h1M82.5 282.9h1M98 269.2h1M94.5 286.8h1M79.9 284.3h1M87.1 277.6h1M74.1 285.6h1M87.7 271.4h1M76.1 279.8h1M93.3 267.2h1M77.3 278.2h1M87.2 277.9h1M80 283.6h1M78.5 288.5h1M89.4 284.5h1M80.2 278.7h1M83.4 269h1M99.4 272.9h1M92.9 266.1h1M89.7 283.4h1M85 268h1M86.3 275h1M75.5 280.3h1M88.3 278.3h1M102.3 268.5h1M77.4 287.4h1M81.2 294.1h1M95.7 287h1M99.5 265.4h1M104.1 268.9h1M86.7 266.5h1M84.3 284.4h1M76.1 283.7h1M100.9 278.6h1M76.6 282.3h1M90.6 277.8h1M81.9 279.2h1M90.3 284.4h1M85.3 271.1h1M79.6 285.2h1M80.7 285.7h1M103.4 273.3h1M104.1 271h1M76.5 277.7h1M83.5 275.9h1M74.3 288.1h1M91.4 278.3h1M92.6 270.8h1M99.1 269.3h1M97.7 279.2h1M89.6 278.3h1M81.1 291.4h1M82.2 280.1h1M99 267.3h1M94.5 277.3h1M97 279h1M87.9 268h1M102.9 269.2h1M87.5 269.7h1M90.4 273h1M92.1 280.8h1M90.6 277.3h1M95.8 263.7h1M87.6 274.8h1M88.1 288.6h1M95.3 278h1M99.3 271.4h1M88 283.5h1M84.3 277.3h1M77.3 285.4h1M90.4 275.4h1M97.3 276.5h1M88.8 282.5h1M82.4 271.5h1M87.7 276.2h1M100.4 274.1h1M98.3 272.2h1M77.9 281.8h1M91.7 278.2h1M94.3 272.3h1M93.8 272.6h1M103.3 267.5h1M102 265.6h1M95.2 286.7h1M102.4 271.3h1M94.3 275.1h1M84.6 273.2h1M99.7 263.7h1M87.1 281.8h1M87 282.7h1M88.7 285.1h1M85.4 272.5h1M88.9 267.3h1M75.4 291.9h1M89 267.5h1M83.3 285.6h1M94.1 264.9h1M81.4 271.8h1M83.1 279.2h1M87.6 280.5h1M94.2 265.8h1M89.6 279.4h1M103.3 269.9h1M100.8 269.2h1M74.3 287.8h1M88.7 285.4h1M84.6 284.1h1M78.5 285.9h1M94.2 272.7h1M80.3 289.4h1M100.5 267.3h1M91.7 270.2h1M97.6 283.8h1M88 288h1M81.6 279.7h1M94 274.3h1M95.1 265.3h1M78.5 282.8h1M84.2 277.9h1M97.7 284.7h1M88.5 291.8h1M103.3 269.4h1M90.2 264.5h1M93.5 271.2h1M81 292.2h1M99 273.3h1M99.7 265.8h1M82.8 282.3h1M97.2 268.2h1M90 269.5h1M77.6 282.9h1M97.1 263.3h1M83.2 281.4h1M81.3 272.1h1M102.6 268.9h1M95.5 284.3h1M82.6 280.5h1M81.5 277.8h1M81.1 276.3h1M82.2 290.1h1M98.8 279.9h1M97.7 263.7h1M99.4 279.2h1M92.9 268.7h1M79.6 294.3h1M88.4 275.3h1M98.9 271.3h1M99.2 263.8h1M79.9 275.4h1M73.8 288.1h1M78.6 275.9h1M82 287.2h1M77.3 288.6h1M86.4 272h1M80.1 290.3h1M91 283h1M82.5 270.8h1M100.4 281.1h1M80.6 281.5h1M83.4 292.6h1M101 266.7h1M86 292.4h1M94.8 285.4h1M87.5 268.2h1M101 264h1M90.8 267.5h1M89.3 290.6h1M78.6 290.4h1M87.6 282.8h1M86.7 289.3h1M91.2 274.2h1M99.6 279.4h1M96.3 266.8h1M96.5 280.1h1M100.9 271h1M99.7 265.2h1M95.4 270.6h1M101.7 270.1h1M92.1 286.4h1M86.8 282.5h1M100.5 279.8h1M88.3 292.4h1M101.8 272.1h1M99 275.6h1M82.8 293.6h1M99.5 271.1h1M88.2 268.4h1M76.9 290.2h1M78.4 289.2h1M88.5 271.4h1M77.9 291.6h1M83.4 291.7h1M83.8 275.5h1M96.5 271.1h1M80.7 271.1h1M74.6 283.8h1M92.9 271.4h1M92.5 268.3h1M87.9 280.6h1M83.2 274.1h1M103.7 272.9h1M82.7 272.4h1M88.1 267.7h1M77.7 287.7h1M96.1 277h1M89.4 271.8h1M94 284.2h1M87.3 267.1h1M74.6 283.8h1M84 282.4h1M101.5 265.5h1M91.3 272.9h1M101.2 277.7h1M86.9 267.8h1M94.4 274.1h1M97.8 283.3h1M85.1 280.9h1M98.4 273.8h1M78.6 276.7h1M80.3 281.7h1M94.4 279.4h1M89.2 291.8h1M93.4 272.7h1M87.9 290.9h1M99.9 275.5h1M88.9 291.4h1M86.7 282.2h1M84.8 275.4h1M81.9 278.8h1M87.6 278.4h1M84.6 292.8h1M81.6 284.9h1M92.3 271h1M78.8 293.5h1M93.1 273.9h1M97.3 266.1h1M86.4 268.5h1M82 274.8h1M91.1 268.4h1M85.8 275h1M88 280.1h1M84.9 281.6h1M79.8 288.9h1M93 274.7h1M76 282h1M75.9 278.7h1M83.1 269.3h1M95.3 273h1M91.1 271.4h1M96.2 284.6h1M86.9 289.6h1M82.5 289.8h1M87.3 269.8h1M92.6 266.3h1M96.2 264h1M86.4 266.1h1M85.4 288.8h1M101.4 268.4h1M81.6 291.9h1M90.8 283.7h1M96.6 282.5h1M81.1 293.1h1M81 291.3h1M84.3 288.5h1M90.8 267.9h1M97.9 283.2h1M100.2 268.1h1M76.7 285h1M83.5 276h1M89 281.1h1M89.5 271.2h1M79.8 286.5h1M85.9 283.7h1M87.7 272h1M101.3 270.9h1M87.8 273h1M100 279.5h1M92.8 284.5h1M98.8 281.2h1M80.2 273.9h1M88.4 277.7h1M99.7 262.8h1M84.1 270.2h1M79.2 284.2h1M85.8 279.3h1M93.9 263.5h1M98.4 271h1M95.8 277.5h1M88.9 283.8h1M90 269.9h1M89.4 282.6h1M96.3 270h1M99.2 282.3h1M86.5 275.4h1M83.7 286.8h1M89.2 291.4h1M86.3 271.7h1M75.1 287.4h1M97.7 270.5h1M94 266.7h1M79.5 290.6h1M87.8 287.5h1" stroke="#c8c8c8" stroke-width="1" fill="none" opacity="0.9"/>
<path d="M85.6 293.3h1M103.7 272.1h1M76.8 278h1M88.8 265.9h1M92.9 289.6h1M81.8 292.8h1M77.8 293.1h1M90.9 264.4h1M90.3 264.3h1M76.5 283.1h1M101.1 265.3h1M101.3 263.9h1M74.3 287.6h1M99.2 262.6h1M78.2 276.3h1M83.2 271.3h1M91.3 289.9h1M81.7 271.9h1M83.8 268.6h1M97 263.5h1M103.1 274.5h1M96.7 285.8h1M78.8 293.5h1M85.5 292.7h1M80.8 292.3h1M103.1 271.1h1M99.7 263.3h1M98.5 263h1M98.7 282.1h1M103.3 270.9h1M93.7 287h1M77.7 293.1h1M96.5 285.3h1M84.7 292.8h1M86.4 293.3h1M74.2 284.5h1M92.9 263.7h1M95.9 262.6h1M81 271.5h1M94 264.5h1M89.9 290.6h1M85.4 268.4h1M95 262.1h1M85.2 292.9h1M94.9 284.9h1M96.6 285.8h1M95.7 286.4h1M95.7 285.4h1M98.6 262.1h1M92.2 290h1M80.1 272.6h1M84.4 267.8h1M103.8 267.3h1M100.8 264.7h1M92 289.7h1M91.3 290.6h1M74.4 288.7h1M103.8 267.6h1M99.9 277.4h1M86.4 293.4h1M76 280.2h1M102.2 266.3h1M88.2 264.8h1M78.1 293.3h1M95.4 262.9h1M84.8 267.6h1M99.3 262.1h1M82.5 271.5h1M91.6 288.4h1M101.1 275.8h1M80.3 271.9h1M74.3 286.1h1M74.1 289h1M96.5 285.1h1M99.2 263.5h1M91.5 264.7h1M102.2 275.5h1M98.3 262.3h1M101.1 264.2h1M102.8 274.3h1M87.9 291.9h1M82.7 292.4h1M97.1 284.9h1M96.6 262.2h1M98 261.9h1M102.5 276.3h1M84.6 291.6h1M88.1 265.7h1M93.2 263.3h1M103 267.4h1M82.4 293.7h1M102.3 264.9h1M93.2 267.5h1M79.4 289.4h1M74.8 286.3h1M82.1 272.3h1M78.9 274.6h1M97.3 264.4h1M92.6 288.8h1M98.6 283h1M96 263.7h1M82.8 292.7h1M82.2 294.5h1M95.4 286.6h1M103.1 266.5h1M87 292.8h1M81.3 292.8h1M78.4 274.1h1M77.1 293.3h1M86.1 292.7h1M85.7 269.7h1M97.5 284.4h1M98.3 263.4h1M97.6 283.8h1M102.9 269.4h1M77.8 276.7h1M77 291.3h1M102 277.9h1M99.6 278.7h1M77 276.6h1M103.2 271.9h1M104 268.5h1M103.3 274h1M102.7 275.9h1M82.6 270h1M75.2 291.4h1M77.2 278.3h1M99.6 280.6h1M73.9 288.1h1M84.9 293.6h1M83.7 293.9h1M97.6 264.5h1M74.3 288.1h1M103.2 270.4h1M85.3 293.7h1M73.9 288.1h1M77.4 291h1M88.4 264.5h1M101.4 278.1h1M76.9 284.8h1M77.1 277.3h1M95.1 262.8h1M102 268.8h1M95.8 263.1h1M77.3 277.2h1M82.9 293.7h1M99.3 264.8h1M90.3 289.9h1M85.7 266.4h1M82.9 270.4h1M76.2 286.8h1M102.8 273.2h1M102 275.6h1M77.8 276h1M80.2 272.5h1M81.6 293.1h1M103.3 269.7h1M78.8 292.4h1M99.6 264h1M99.5 262.9h1M79.6 274h1M83.8 269.6h1M90.6 263.7h1M88 292.8h1M103.2 268.2h1M100.2 262.9h1M75.1 281.1h1M101.8 273.9h1M79 274.1h1M101.4 268.8h1M76.3 282h1M83.8 292.3h1M74.7 283.2h1M88 266.1h1M75.8 282.6h1M96.8 285.7h1M87.9 292h1M98.8 282.6h1M102.7 269.4h1M90 290.6h1M98.5 281.9h1M98 263.3h1M78.5 274.9h1M74.5 288.5h1M99.1 282.1h1M99.2 281.5h1M90.6 290h1M75.9 281.4h1M80.8 294.1h1M74.7 281.9h1M76.5 292.8h1M94.2 287.9h1M98.9 281.6h1M85.3 267.1h1M74.6 286.1h1M85 268.8h1M76.6 277.5h1M98.6 282h1M99.1 265h1M102.3 264.4h1M100.1 262.8h1M74 289h1M100.9 266.8h1M75 285.8h1M91 290.3h1M99.6 278.6h1M103.3 267.5h1M83.3 293.1h1M74.1 288.8h1M79.4 274.4h1M76.5 283.5h1M98.5 262.4h1M92.1 263.1h1M96 285.7h1M82.8 294.2h1M102.8 265.5h1M82.1 292.6h1M81.7 270.1h1M98.7 281.4h1M102.1 270.5h1M78.9 293.7h1M80.8 272.5h1M103.2 267.8h1M104.1 269.5h1M100.8 280.2h1M91.5 289.1h1M74.7 290.5h1M75.3 281.5h1M77.8 276.2h1M86.4 267.9h1M97 264.2h1M102.2 264.7h1M96.3 285.7h1M90.2 265h1M78.9 274.5h1M103.5 272.8h1M78.7 274.4h1M99.5 263.2h1M99.1 267.7h1M74 287.6h1M83.4 293.1h1M79.6 273.3h1M74.2 283.3h1M97.6 263.6h1M79.7 293.6h1M77.4 276.3h1M89.7 264h1M92.7 263.4h1M87.9 292.3h1M87.9 265.5h1M79.7 288.7h1M78.2 289.9h1M97.5 284.6h1M84.5 291.1h1M82 293h1M83.7 268.3h1M79.9 291.2h1M103.2 273.8h1M95.2 262.2h1M101.2 276.6h1M100.8 264.7h1M88.4 264.5h1M87.5 291.2h1M82.3 270.3h1M98.2 283.4h1M96.8 285.6h1M103.7 273.3h1M97.1 264.7h1M100 281.1h1M93.1 262.9h1M93.3 263.4h1M85.7 292.8h1M74.1 284.1h1M76.8 290.7h1M79.8 293.3h1M94.2 262.7h1M76 291.3h1M102.4 277.2h1M103.3 272.5h1M101.2 277.4h1M100.9 274.1h1M103.1 274.7h1M90.5 289.6h1M102.7 268.2h1M86.1 266.8h1M85.1 266.9h1M93.4 287.7h1M101.8 278.4h1M94.5 263.1h1M76.3 291.8h1M76.7 277.5h1M102.5 269.1h1M74.3 288.5h1M81 292.4h1M98.2 283.9h1M84.9 292.3h1M98.6 263.8h1M89.7 288.6h1M97.9 262.7h1M97.7 284.6h1M89.5 264.7h1M81.5 271.7h1M74.9 280.6h1M88.8 266h1M103 265.8h1M100.8 270.1h1M92.3 289.6h1M96.7 264.1h1M98.3 283.4h1M98.1 282.3h1M97.5 263.7h1M86.3 267.3h1M85.9 292.6h1M75.3 285.6h1M76.4 283.8h1M88.8 291.6h1M95.1 286.4h1M98.6 283.1h1M84.3 293.4h1M96.1 285.7h1M101.1 266h1M102.7 274.8h1M93.9 263.7h1M92.3 289.5h1M89.1 290.9h1M93.7 287.9h1M76.8 292.8h1M74.5 284.2h1M92.6 289.3h1M92.3 289h1M83.9 293.8h1M77 290.4h1M84.8 292.5h1M101.2 278.4h1M101.6 278.2h1M74.8 288.8h1M94.9 264h1M86.6 265.7h1M79.8 293.1h1M93.1 263h1M95.4 285.1h1M81 271.4h1M82.5 271.2h1M97.1 285.2h1M93.2 289.3h1M82 270.7h1M94.7 262.7h1M78 290.7h1M75.4 280.6h1M81.5 293.5h1M95 287.4h1M79.5 294h1M102.8 274.4h1M78.2 289.9h1M98.3 262.1h1M89.1 292h1M95.8 286.1h1M81 272.5h1M82.2 269.6h1M93.8 288.9h1M103.2 273.8h1M75.1 285.5h1M91.6 290.4h1M104.2 269.8h1M85 268.8h1M76.9 292.7h1M79.8 275.8h1M76.4 285.9h1M83 269.7h1M86 293.4h1M99.8 262.6h1M78.8 294h1M85 293.9h1M100 265.6h1M102 269h1" stroke="#8c8c8c" stroke-width="1" fill="none" opacity="0.85"/>
<path d="M103.1 279.7h1M82 294.8h1M103.4 275.3h1M97.2 287.1h1M85.8 294.9h1M105.8 268.2h1M100.6 262h1M84.9 266.5h1M94.1 258.8h1M88.4 261.1h1M78.5 297.1h1M101.2 287h1M92.6 261.6h1M108.3 269.6h1M104.4 268.3h1M101.5 259.4h1M95.7 258.1h1M89.4 292.6h1M106.2 277.1h1M69.9 290.3h1M104.1 276.9h1M76.6 273.8h1M83 267.6h1M74.6 295.1h1M74.7 294.3h1M107.3 265.9h1M98.1 259.2h1M108.2 273.1h1M107.5 272.3h1M74.3 291.2h1M89.1 259.3h1M83.4 296.8h1M99.3 283.5h1M97.4 260.9h1M107.8 274h1M100.2 258.4h1M95.6 258.3h1M89.9 294.9h1M94.2 294.3h1M71.4 286.1h1M74.4 291.7h1M74.2 282.4h1M106.1 278.6h1M78.8 272.7h1M72.2 278h1M99.5 285.3h1M75.5 296.6h1M74.6 291.5h1M73.1 283h1M93.5 260.7h1M87.6 259.9h1M85.2 261.1h1M93.5 259.9h1M78.9 296.6h1M104 277.9h1M97.9 289.8h1M81.9 268.7h1M76.2 269.3h1M91.5 292.1h1M87.5 295.2h1M105.4 280.7h1M98.3 290.6h1M75.6 296.5h1M71.8 277.5h1M76.2 275.3h1M106.8 264.2h1M106.2 267.5h1M92.2 258.1h1M98.2 288.9h1M94 290.8h1M103.9 260.2h1M76.6 294.5h1M70.4 289.2h1M100.7 286.6h1M103.8 279.8h1M72.9 274.8h1M97.7 288.8h1M74.5 293h1M105.1 276.7h1M106.2 265.2h1M83.2 296.9h1M91.1 296h1M102.2 286.9h1M108 268.3h1M88.2 295.9h1M75 291.8h1M104.8 271.5h1M97.3 286.1h1M82.9 297.3h1M105.3 262.4h1M85.5 298.5h1M82.9 264.9h1M85.3 264h1M105.4 265.2h1M75.3 274.5h1M94.1 291h1M90.5 260.1h1M106.6 274.9h1M71.5 292.4h1M75 278.3h1M107 264.9h1M71.2 286.6h1M98 291.3h1M91.1 262.5h1M105.4 265.7h1M89.6 261.9h1M74.7 280.6h1M71.7 289.5h1M74.7 294.4h1M104.8 273.9h1M87.3 262.3h1M76.9 270.5h1M79.7 267.4h1M85.7 293.9h1M106.3 276.9h1M79.5 295.8h1M107.8 274h1M76.9 275.7h1M79 298.8h1M76.8 298.2h1M75.3 274.5h1M96.4 287.5h1M108 267.3h1M105.1 270.3h1M70.7 293h1M84.9 263.8h1M73.7 293.9h1M92 290.7h1M92.4 291.5h1M104.5 280.6h1M88 263.8h1M98.5 257.8h1M74.6 295.2h1M89.3 296.6h1M99.4 259.2h1M72.5 286.6h1M103.3 264.2h1M94.7 291.6h1M98.8 258h1M104.8 270.4h1M104.1 264.7h1M93.2 259.6h1M105.1 273.7h1M99.5 284.6h1M108.6 268.2h1M86.3 297.7h1M104.8 261.7h1M104.2 279.8h1M88.9 259.3h1M103.1 279.7h1M103.9 259.9h1M76.3 297.2h1M92.7 292.1h1M107.7 265.3h1M76.1 297.3h1M94.5 293h1M70.6 288.3h1M95.1 261.3h1M104.2 263.1h1M94.9 291.4h1M72.2 294.1h1M81.4 267.8h1M85.3 263.4h1M106.6 278.6h1M79 294.9h1M105.1 281.2h1M101.2 281.2h1M75.9 271.8h1M73.7 290.1h1M104.7 267.6h1M93.1 258.9h1M107 263.6h1M89.8 263.2h1M92.6 290.8h1M73.2 279.6h1M85.9 298.5h1M89.4 263.5h1M69.5 289.4h1M79.6 271.3h1M73.6 295.3h1M77.4 294.4h1M102.7 263.4h1M100.9 261.4h1M73.7 277.3h1M82.4 297.9h1M85 263.3h1M71.9 289.4h1M78 273.3h1M103 259.1h1M81 294.8h1M80 267.8h1M85.8 295.3h1M83.7 297.8h1M69.4 284.4h1M99.6 260.2h1M103.8 274.4h1M97.1 287.4h1M103.3 262.9h1M85.4 294.5h1M73.5 286h1M102.9 279.4h1M94.2 288.7h1M94.6 261.9h1M70.1 291.5h1M103 279.9h1M93.8 257.6h1M83.8 263.9h1M70.1 281.5h1M99.2 287.8h1M104 259.3h1M84.3 262.2h1M102.6 285.8h1M93.6 293.3h1M107.6 273h1M102 263.5h1M100.9 261.1h1M105.3 262.7h1M102.4 281.6h1M85.7 296.3h1M93.5 291.3h1M106.6 264.2h1M101 259.7h1M76.2 296.1h1M73.3 282.7h1M84.5 296.9h1M75.2 294.8h1M93.9 259.8h1M83 266.3h1M75.6 277.1h1M100.2 258.9h1M93.3 292.5h1M71.8 289.5h1M107.3 274.1h1M101.2 287.9h1M96.7 260.7h1M103.4 276.8h1M93.7 260.3h1M108.2 274.2h1M73 280.6h1M88.7 294.3h1M73.2 291.1h1M98.2 285.6h1M104.8 268.5h1M102.6 284.7h1M95 257.8h1M105.4 268.6h1M89.7 260h1M99.5 283.4h1M79.6 269.7h1M89.1 259.3h1M106.1 279h1M103.1 280.6h1M105.8 275.6h1M80.6 296.9h1M83.7 264h1M69.7 288.8h1M105.1 262.4h1M79.7 266.2h1M72.6 282.3h1M91.1 258.8h1M101.9 263.5h1M78.5 294.3h1M92.7 291.8h1M99.4 286.1h1M95.2 289.5h1M104 281.1h1M78.7 270.5h1M88 260.9h1M76.1 294.6h1M75.3 276.8h1M89.2 259.9h1M91.9 261.8h1M98.2 261.7h1M89.8 260.8h1M105.1 264.3h1M105.6 276.1h1M99.7 258.7h1M84.2 267.3h1M87.4 297.6h1M95.9 258.6h1M94.9 258.9h1M93.4 292.5h1M74.1 292.3h1M91.4 293.7h1M97.4 291.8h1M71.2 279.4h1M92.3 292.2h1M70.8 289.7h1M103.4 260.8h1M81.8 268.9h1M78.5 271.1h1M88.5 293.2h1M104.7 273.1h1M71.3 289.5h1M102 280.6h1M95.2 291.5h1M98.7 286.1h1M103.8 279h1M84.4 262.6h1M90.8 259.9h1M106.8 272.1h1M92.4 295.6h1M81.6 270h1M99.4 283.5h1M97.3 289.8h1M102.6 261.5h1M85.1 295.1h1M74.7 292.1h1M74.2 280.7h1M107.4 269.1h1M107.8 265.4h1M77.8 268.4h1M107 269.7h1M98.9 260h1M103.2 265.2h1M104.5 264.6h1M79.3 294.7h1M89.2 261.6h1M79.5 271.3h1M107 270.1h1M91.7 293.1h1M72 282.8h1M107.5 269.4h1M78.9 269.3h1M73.4 277.6h1M102.2 262.3h1M104.3 268.7h1M103.3 260.6h1M88.2 261.3h1M102.4 281.2h1M77.7 267.9h1M103.1 281.3h1M91.6 291.5h1M72.7 289.6h1M107.5 265h1M92.5 291.6h1M104 272.4h1M87.8 262.3h1M99 284.2h1M80.1 268.1h1M84 296.8h1M106.2 263.8h1M101.9 263h1M103.6 260.3h1M96.8 292.3h1M105.5 274.6h1M96.2 290.1h1M105.7 265.2h1M74.6 292.3h1M90.8 261.2h1M85.4 264.8h1M72.5 276.4h1M98.1 260.6h1M103.6 279.4h1M74.1 282.6h1M78.3 294.2h1M79.3 269.2h1M104.5 270.2h1M87.1 293.5h1M97.8 291h1M96.4 289.7h1M104.2 275.9h1M73.8 289.4h1M74.1 272.7h1M88.2 261.6h1M99.3 258.5h1M95.4 288.2h1M103.2 264.7h1M101.3 258h1M103.5 258.9h1M78.3 294.8h1M92.3 260.6h1M91.3 260.8h1M104.3 282.6h1M78.9 298.6h1M98.3 261h1M88.5 262.2h1M106.7 267.4h1M91.1 259.6h1M82.2 268.9h1M97.1 257.4h1M106.1 275h1M73.6 292.6h1M87.2 295.8h1M74.8 295.3h1M99.7 258.8h1M101 259.9h1M80.8 265.9h1M103.5 279.8h1M106.5 269.6h1M105.1 268.9h1M73.7 294.3h1M72.3 288.9h1M85.4 297.3h1M77.6 298.1h1M95.9 291.6h1M88.2 264.2h1M75.9 273.9h1M72 282.8h1M86.5 296.1h1M97.6 286.6h1M72.7 282.6h1M71.9 292.3h1M70.5 284.1h1M78.3 294.6h1M104.3 277.3h1M108.1 271.9h1M75.2 276.1h1M69.9 289.2h1M70 283.2h1M84.4 267.2h1M101.8 263.2h1M84.1 262.8h1M104.6 283.3h1M77.9 296.1h1M71.8 293.1h1M106.8 266.6h1M71.9 290h1M76 295.9h1M105.6 262.6h1M84.5 262h1M99.7 261h1M102 259.2h1M104.9 268.7h1M70.7 291.5h1M99.9 258.6h1M70.5 291.1h1M70.1 282.4h1M69.9 286.2h1M106.8 272.1h1M80.2 296.9h1M102.1 258.6h1M105 274.9h1M92.7 290.5h1M98.3 259.3h1M70.6 287.2h1M72.6 282.1h1M85.3 262.6h1M76.9 296.4h1M80.9 267.2h1M100.8 281.3h1M86 261.8h1M97.1 258.6h1M72.9 281.2h1M96.8 289.9h1M89.3 263.8h1M73.6 292.8h1M95.2 261.7h1M86.2 294.3h1M88.8 295.1h1M105 274.2h1M108.3 268.5h1M103.9 264.1h1M86.4 298.2h1M103.9 281.5h1M103.6 279.8h1M92.9 261.4h1M71.8 278.8h1M84.6 294.3h1M71.7 281.7h1M89.2 295.2h1M84.9 295.5h1M106.3 268.7h1M74.2 292h1M92.6 293h1M101.5 282.5h1M77.7 298h1M100.7 282.3h1M93.3 295h1M71.6 289.7h1M102 263.3h1M103.8 279.9h1M99.9 259.6h1M106 267.1h1M90.4 295.4h1M80.6 268.1h1M99 260.2h1M102.4 258.9h1M107.7 267.8h1M104.8 267h1M107 271.7h1M103.9 259.5h1M104.5 274.8h1M74 284h1M69.5 287.2h1M96.4 258.9h1M99.9 283.7h1M74.8 276.4h1M81.6 268.7h1M70.7 283.8h1M73.2 290.5h1M93.5 262.2h1M91.5 262.4h1M74.7 292.1h1M104.8 260.1h1M97.7 261.1h1M72.6 288.1h1M79.8 298.7h1M74.7 277.5h1M103.9 263.5h1M94.2 260.4h1M75.3 278h1M70.3 281.3h1M98.2 260h1M73.7 282.1h1M76.6 275h1M85 263.2h1M74.2 280.6h1M88.1 262.7h1M88.4 293.5h1M71 280.1h1M89.2 295.7h1M71.3 291.6h1M99.5 288.4h1M75.8 295.3h1M91.1 296.3h1M98.4 259.8h1M101.3 258.7h1M104.2 266.3h1M81.3 294.7h1M74.1 294.5h1M74.5 292.7h1M75.9 270.4h1M72.7 283.9h1M80.3 294.9h1M76 295.1h1M73.3 293.3h1M69.9 290.8h1M97.2 260.5h1M81.8 296.3h1M73.8 280.4h1M104.4 270.6h1M96.9 290.7h1M82.6 295.8h1M106.4 265.8h1M80.5 297.8h1M89.5 262.1h1M73.1 284.6h1M105.5 260.8h1M83.6 265.6h1M73.1 294.7h1M103.9 264.1h1M92.2 262.4h1M76.1 270.3h1M103.2 263h1M106.2 263.1h1M101.8 259.2h1M96.4 287.9h1M91.8 294.3h1M92.2 258.9h1M95.6 261.6h1M101.2 258.9h1M81.8 263.8h1M74.6 292.6h1M104.4 276.9h1M72.1 289h1M69.9 288.8h1M106.8 271.7h1M101.9 262.2h1M106.7 265h1M92.6 258.6h1M102.4 284.8h1M97.7 260.7h1M105.9 269.2h1M77.2 298h1M88.3 293.3h1M107.9 274.9h1M73.5 285.1h1M85.6 263.3h1M87 261.9h1M71.2 283.9h1M75.2 274.2h1M93.6 261.7h1M97.9 257.3h1M81.4 268.9h1M81.7 264.9h1M76.7 293.6h1M94.4 261h1M94.5 293.1h1M71.8 286.2h1M85.1 266.4h1M70.7 286.2h1M103.1 261.3h1M102.2 284.5h1M87.4 260.7h1M107.1 267.5h1M73.5 293h1M104.5 265.2h1M101.4 261.5h1M71.8 294.6h1M72.8 284.2h1M98.5 289.2h1M75.9 295.7h1M104.6 271.4h1M78.9 294.6h1M108.3 267.2h1M73.9 291.3h1M90.6 294h1M82.3 268.6h1M104.8 270.9h1M94.5 258.3h1M78.5 296.9h1M86.9 264.8h1M73.1 280.4h1M92.5 293.1h1M89.9 260.9h1M101.3 287.2h1M106.1 271.5h1M96.1 261.6h1M72.1 294.5h1M93.1 260h1M83.7 294.5h1M88.9 294.8h1M75.8 276.8h1M106.7 268.5h1M106.8 264.7h1M72.7 289.2h1M104.5 262.1h1M73.6 293.7h1M98.1 291.1h1M69.9 283.4h1M93.7 289.6h1M73.3 281.5h1M72 278.5h1M99.5 288.9h1M104.9 282h1M89.6 262.4h1M106.5 267.7h1M80.9 265.6h1M73.7 292.8h1M98.2 261.3h1M101.6 284.4h1M100.6 286.2h1M82.2 264.4h1M75.8 278.3h1M103.6 260.8h1M83.8 262h1M97.5 259.9h1M90.7 258.8h1M88.5 294.5h1M105.7 274.1h1M102.7 260.9h1M85.9 295.6h1M75 295.1h1M84.4 266.9h1M72.5 291.7h1M106.6 274.9h1M102.5 258.9h1M98.2 259.2h1M106.9 277h1M104.6 264.6h1M70.9 287.7h1M77.2 295.7h1M100.8 284.2h1M73.3 289.4h1M89.3 262.6h1M101.9 260h1M100.5 259.3h1M72.2 280h1M104 283.9h1M73.1 276.9h1M90.9 296.3h1M94.3 261.8h1M104.7 281.8h1M103.6 263.7h1M80.8 266.1h1M79.6 297.9h1M92.8 262.4h1M73.1 282.6h1M107.9 271.9h1M102.8 261.2h1M78.5 268.2h1M105.3 280.7h1M86.9 265h1M94.1 288.9h1M93.3 292.7h1M97 258.3h1M75.1 273.2h1M95.8 289.9h1M98.6 289.4h1M76.2 294.2h1M95 293.1h1M70.6 284.4h1M106.9 263.1h1M79.2 295.4h1M72.7 295.6h1M103.2 263.7h1M79.6 271h1M85.4 262.9h1M105.9 277.6h1M105.3 269.4h1M100.1 282.4h1M76.9 273.4h1M69.8 285.7h1M77.1 270.2h1M83.1 263.2h1M105.5 273.7h1M102.6 282h1M72 292.2h1M70.8 289.2h1M103.2 281.3h1M98.7 260.6h1M91.2 294.6h1M73.2 284.8h1M85.9 263.2h1M103.6 280.5h1M107.1 275.2h1M106 263.3h1M77.2 268.9h1M95.8 260.4h1M84.1 297.8h1M72.2 278.7h1M85.5 294h1M106.2 267.3h1M103.1 260.3h1M77.2 297.3h1M98 284.8h1M105.2 266.8h1M82.6 268.8h1M72.1 287.4h1M83.7 265.2h1M90.9 293.4h1M103 258.8h1M73.3 292.2h1M104 278.8h1M86.6 264.5h1M91.8 261.8h1M73.1 288.9h1M103.1 283h1M96.8 258.7h1M104.5 275h1M108.4 266.8h1M100.2 286.2h1M86.1 295.4h1M105.1 268.2h1M99 289.5h1M108.5 267.2h1M102.8 260.2h1M99.8 286.9h1M71.2 293.4h1M90.3 263.4h1M93 293.1h1M86.3 296.3h1M80.2 298.3h1M89.9 259h1M85.6 298.4h1M72.9 287.1h1M73.7 280.1h1M98.4 287h1M98.4 259.3h1M72.3 292.2h1M84.4 296.6h1M72 293.1h1M86.5 261.1h1M73.4 280.7h1M106.2 269h1M94.4 293.3h1M100.7 260.5h1M104.7 282.8h1M92 259h1M84.3 296.5h1M102.5 282.2h1M84.4 265.6h1M88.4 264h1M90.7 260.2h1M81.3 295.9h1M104 282.9h1M77.6 298.2h1M96.2 260.6h1M79 272.7h1M90.1 260.9h1M91 292h1M87.4 293.3h1M93.3 294.7h1M103.3 284.9h1M97.3 261.5h1M82.2 297h1M105.3 270.2h1M102 261.8h1M84.5 264.6h1M104.9 268.7h1M92.9 290.2h1M70.8 280.7h1M83.7 262.7h1M97.2 257.8h1M105.4 273.5h1M106.3 276.3h1M73.6 286.2h1M72.8 296.1h1M91.9 291h1M105.7 278.3h1M106.8 274.9h1M83.8 263.6h1M85.3 264.6h1M107.5 276.6h1M77 296.7h1M90.1 296.8h1M76.1 271.3h1M90.1 262h1M93.7 259.4h1M103.9 259.4h1M73.7 281.3h1M91.3 292.2h1M78.5 269h1M90.7 261.5h1M70.3 291.2h1M73.1 290.1h1M81.6 264.5h1M75.7 271.5h1M101 282.1h1M95.1 258.5h1M79 296.5h1M72 278.4h1M87.6 262.5h1M77.9 297.1h1M90.9 261.8h1M83.2 298.6h1M72 285.4h1M86.2 265.7h1M80.7 270.5h1M71.5 280.8h1M103.6 275.8h1M76.5 275.4h1M97.8 289.8h1M79.7 271.1h1M78.1 268.1h1M70.7 287.8h1M81.6 295.8h1M96 288.5h1M75.5 295.2h1M101.1 282.6h1M71.6 277.8h1M102.4 286h1M104.4 281.4h1M103.5 264.5h1M105.9 277.5h1M101.4 259h1M87.5 294.6h1M80.7 296.2h1M96.2 261.5h1M73.3 277.8h1M105.7 269.6h1M93.1 289.5h1M99.1 283.3h1M87.4 259.8h1M105 277.7h1M87.7 296.1h1M107.4 266.1h1M104.8 261.4h1M103.6 261.7h1M75.7 296.5h1M91.8 294.7h1M79.5 266.2h1M87.4 297h1M99.6 285.2h1M75.3 296.5h1M104.6 275.5h1M89.6 292.7h1M104.3 276.5h1M104.2 265.1h1M94.6 258.3h1M77.1 270.8h1M103.8 284.1h1M102.4 260.2h1M89.4 260.7h1M81.1 297.1h1M87.6 293.7h1M74.8 292.3h1M100.9 257.8h1M70.6 290.4h1M81.7 299.1h1M102.1 283.2h1M95.9 261.5h1M97.3 261.5h1M77 297.3h1M102.3 258.6h1M98.6 261h1M73.5 286.2h1M101.1 284.9h1M105.7 268.8h1M79.7 269.3h1M93 259.4h1M85.8 296.9h1M83.9 296.7h1M70.9 283.2h1M74.8 295.9h1M84 264h1M76 293.6h1M84.9 294.1h1M103.2 261.5h1M79.2 270.7h1M72.6 288.1h1M75.7 292.8h1M95.4 287.7h1M72.2 288.1h1M79.1 295.7h1M77.6 294.4h1M97.2 287h1M72.7 287.1h1M104.2 271.9h1M105.6 262.6h1M104 273.4h1M106.7 268.9h1M92.1 262.6h1M105.6 270.8h1M105.4 263.3h1M102 262.8h1M71.1 289.3h1M72.5 280.6h1M72.1 293.7h1M70.8 279.5h1M72.7 293.6h1M80.7 268.5h1M70.9 288.6h1M89.4 292.5h1M72.8 292.9h1M98.7 286.8h1M106.8 273.2h1M81.6 268h1M108.2 270.7h1M97.6 288.2h1M79.2 267.2h1M86.9 261.2h1M79 295.9h1M87.3 294.2h1M84.6 295.1h1M104.7 270.2h1M69.5 286.7h1M107.4 267.9h1M73.8 284.1h1M82.8 265.4h1M77.5 270.9h1M94.3 290.7h1M87.7 293.2h1M103.7 274.4h1M93.2 289.4h1M89.7 294.6h1M104.7 279.4h1M76.1 294h1M77.1 294.2h1M83.5 266.4h1M94.6 257.6h1M103.9 264.7h1M84 295.3h1M84.3 296.6h1M95.6 257.4h1M74 272.9h1M91.4 261h1M82.7 296.9h1M103.1 284.3h1" stroke="#2a2a2a" stroke-width="1" fill="none" opacity="0.92"/>
<path d="M106.9 271h1M73.8 292.2h1M98.9 286.7h1M86.3 296.4h1M78.4 272.1h1M95.8 292.1h1M82.1 263.8h1M78.6 295h1M77.1 295.8h1M101.9 283.8h1M81.9 296.6h1M100.4 262.2h1M79.5 298.6h1M92.6 261.2h1M72.2 289.3h1M99.8 287.6h1M73.8 276h1M105.4 265h1M101.5 285.5h1M88.9 292.4h1M102 262.1h1M85.7 296.7h1M74.2 294.4h1M73.7 278.3h1M73.5 274.6h1M78.2 270.8h1M96.5 291.6h1M84.2 296.5h1M104.8 281.1h1M77.7 275h1M101.7 261.1h1M76.2 271.7h1M79.3 294.7h1M86 265.2h1M90.9 261.1h1M86.8 293.6h1M102.4 286.4h1M97.9 285h1M92.7 262.4h1M76.4 271.8h1M99.3 287.6h1M100.8 286.9h1M101.7 281.9h1M85.6 297.2h1M105.9 274.2h1M103.6 279.1h1M106.1 266h1M102.8 264.1h1M102.6 278.3h1M87.1 263.5h1M94.1 291.1h1M76 298h1M69.9 284.8h1M106.1 279.6h1M73.1 275.9h1M76.4 276.1h1M96.2 259.1h1M87.9 262.3h1M96.1 260.3h1M72.8 293.8h1M102.1 283h1M105.5 268.9h1M104.3 273.6h1M94.6 260.7h1M78 272.1h1M83 266.7h1M87.8 261.9h1M72.9 293.8h1M86.4 293.9h1M82.3 265.8h1M85.4 295.2h1M101.3 261.6h1M73 285.2h1M94.3 291.2h1M95 257.8h1M104.3 276h1M90.8 293h1M74.9 294.3h1M83.1 296.1h1M86.5 297h1M70 287.3h1M77.3 271.5h1M90.2 261.3h1M76.8 298.4h1M93.9 294.4h1M69.8 282.5h1M73.1 288.3h1M72.9 280.4h1M103.2 259.6h1M96.1 261h1M81.7 295.9h1M72.6 294h1M94.2 258.5h1M87.1 262.1h1M97.7 261.5h1M69.6 290.2h1M73 275.5h1M84.1 263.7h1M73 290.1h1M102.6 279.5h1M86.9 261.9h1M96.2 290.8h1M83.7 294.4h1M80.5 294.6h1M102.6 277.8h1M97 258h1M88.6 263.9h1M94.6 259.4h1M97 261.7h1M92.8 294.3h1M86.2 294.7h1M80.2 266.4h1M91.2 259.8h1M103.2 261.6h1M95.6 291.6h1M70.3 289.8h1M82.6 266.8h1M87.7 295.3h1M78 271h1M73.3 274h1M86.4 264.2h1M99.9 259.4h1M94.8 294h1M81.9 298.6h1M92.5 261.6h1M94.1 289h1M71.3 293.7h1M106.3 278.2h1M107.2 263.5h1M102.4 261.4h1M85.3 264.5h1M81.5 298.2h1M105.6 265h1M87.5 294.3h1M91.2 296h1M77.7 270.6h1M102.7 285.9h1M102.1 286h1M73.7 296.3h1M74 294.5h1M74.2 280.9h1M99.7 260h1M69.3 288.3h1M84.4 265.5h1M104.6 276.5h1M69.7 289.2h1M81.3 298.8h1M88.5 261.6h1M102.2 261.3h1M94.1 257.7h1M74.6 273.3h1M107 268h1M102.7 263.1h1M96.7 259.4h1M103.8 263.5h1M70.5 292.7h1M71.6 290.8h1M76.2 269.3h1M86.4 297.4h1M97.6 261.6h1M72.5 290.9h1M85.6 296.2h1M72.4 290.5h1M91.4 292.9h1M103.5 265.3h1M79.3 294.6h1M80.8 295.3h1M72.5 288.4h1M104.5 273.1h1M105.9 280.4h1M74 292.2h1M92.7 291.2h1M96.5 261h1M99.4 260.8h1M94.7 261.5h1M91.9 262.2h1M82.1 266.7h1M81.6 295.2h1M73.3 287.7h1M107.4 266.3h1M78.5 270.9h1M104.6 266.9h1M86.5 264.8h1M91.3 258.4h1M74 276.8h1M105.8 278.4h1M87.9 295.8h1M104.6 271h1M77.4 295.4h1M74.3 279.2h1M92.2 259.4h1M95.8 291.2h1M103.9 273.2h1M91.5 259.3h1M74.2 290.7h1M99.1 260.3h1M100.8 260.1h1M97.1 291.2h1M100.6 281.2h1M104.2 276.8h1M75.2 294h1M82.5 265h1M77.5 294.9h1M84 266h1M92.8 260.2h1M88.9 294.8h1M72.4 284.3h1M72.2 294.9h1M72.3 282.2h1M74.9 291.5h1M107.8 274.6h1M87.4 263.8h1M107.3 270.3h1M77 295.6h1M104 273.7h1M104.2 279.7h1M106.8 269.4h1M73.3 282.7h1M94.9 289.8h1M70.6 290.2h1M104.9 267.5h1M73.2 279.5h1M106.8 269.3h1M73.2 292.6h1M95.3 291.3h1M90.8 263.1h1M93.6 292.4h1M70.2 287.1h1M72.7 282.4h1M98 259.2h1M71.9 282.4h1M78.8 267.9h1M71 280.2h1M73.7 283.4h1M76.8 272.6h1M92.7 294.3h1M106.5 279.1h1M105.4 265.2h1M82.4 297.7h1M90.9 258.6h1M73.3 293.8h1M75 297h1M73.1 296h1M106.8 265.7h1M72.3 284.7h1M104.4 268.9h1M102.8 281.1h1M90.9 295.3h1M74.3 281.5h1M73 291.5h1M73.4 291h1M83 266.8h1M107.2 271.1h1M96 291.1h1M74.2 290.3h1M91.6 258.2h1M100.9 285.9h1M93.1 261.3h1M95 258.4h1M80.4 297.7h1M93.5 258.3h1M100.1 259.7h1M76.7 273.1h1M92.8 293h1M72.5 295.4h1M96.9 292.1h1M105.2 263.7h1M74 275.7h1M74.9 273.6h1M106.9 269.1h1M77.9 272.6h1M97.2 290.7h1M106.3 276.3h1M97.8 258.8h1M84.5 298.2h1M75.7 270.4h1M73 292.4h1M74.3 290.2h1M91.2 293.7h1M106 272.8h1M80.4 270.1h1M89.6 295.2h1M74.4 294.2h1M75.5 292.7h1M77.9 297.3h1M74.4 292.5h1M92.6 262.4h1M87.8 263.4h1M72.4 292.6h1M78.2 272.7h1M105.8 277.4h1M73 288.1h1M80.3 298.9h1M106.1 262.2h1M74.3 278.5h1M103.7 284.5h1M105.3 281.9h1M105.9 280.3h1M71.2 283.7h1M80.9 269.9h1M72.8 274.5h1M88.7 263.5h1M96.3 260.8h1M71.5 289.2h1M91.6 259.2h1M69.6 287.4h1M97.5 285.7h1M84.1 267.3h1M94.5 261.9h1M83.5 265.6h1M96.2 257.7h1M104.1 272.7h1M72.1 277.8h1M73.9 288.7h1M80.3 294.8h1M76.1 269.2h1M77.6 295.9h1M79 298.5h1M73.1 283.1h1M101.2 258.4h1M104.9 268.2h1M102.6 262.5h1M78.1 294.5h1M103.7 260.6h1M94.6 259.6h1M75.5 292.3h1M86.8 294.9h1M76.8 296.3h1M100.3 262.2h1M101.5 286.8h1M70.8 280h1M85.6 261h1M88.6 262.5h1M88.9 292.9h1M96.6 261h1M82.3 264.3h1M100.9 260.3h1M78.7 294.8h1M83.5 297.9h1M71.7 285.8h1M78 297.7h1M73.3 278.4h1M102.5 277.7h1M93.5 257.7h1M106 269.9h1M99.7 286.5h1M102.1 286.8h1M76.9 296h1M80.5 266.2h1M106.3 265.7h1M72.3 289.1h1M104.4 271.1h1M103.7 276.5h1M83.1 294.5h1M70.5 288.9h1M88.6 293.3h1M105.2 267.1h1M96.5 260.7h1M85.3 264.2h1M75.3 292.7h1M77.7 297.1h1M101.2 260.9h1M72.7 287.5h1M94.6 260.5h1M70.2 289.1h1M106.7 273.3h1M76 273.3h1M73.5 290.9h1M102.2 259.1h1M76.5 293.5h1M96.8 261.4h1M88 263.8h1M104.2 276.2h1M104.3 263.1h1M75.9 272.4h1M89.6 293.4h1M96.9 260.3h1M88.8 292.7h1M82.5 296.6h1M104.6 269.9h1M71.4 280.6h1M77.6 272.6h1M79.5 298.6h1M88.4 296.1h1M98.9 257.6h1M98.2 260.8h1M102.3 262.5h1M105.9 274.7h1M92.4 260.4h1M103.5 281.4h1M96.7 261.7h1M73.9 281.2h1M73.2 288h1M99.4 260h1M90.3 262.9h1M104.6 268.1h1M78.7 272.6h1M78.2 296.2h1M76 293.5h1M79.6 271.4h1M89 259.3h1M78.7 272h1M88.6 297.1h1M103 277.6h1M83.8 267.5h1M70.9 279.6h1M107.7 267.8h1M93.9 292.2h1M76.2 294.9h1M73.4 285.9h1M79 295.2h1M95.5 288.1h1M79.3 271.9h1M99.6 288.3h1M107.7 268.9h1M95.4 291.3h1M71.6 290.4h1M98.1 287.1h1M96.9 288.1h1M74.6 291.8h1M88.4 295.9h1M95.6 260.2h1M90.4 258.7h1M74.4 293.6h1M71.1 277.7h1M106.5 267.2h1M99.6 285.3h1M70.6 293.1h1M74.6 296.3h1M71 285.3h1M105.9 266.1h1M75.3 272.6h1M95.3 261.8h1M72.4 277.9h1M103 264.8h1M76.9 294.5h1M78.1 269h1M104.2 276.8h1M72.1 280.4h1M107.8 264.9h1M102.1 282h1M80.8 266.6h1M87.6 262.1h1M103.9 263.4h1M104.5 272.2h1M92.7 293h1M83 266.3h1M73.5 291.3h1M74.7 292h1M107.8 269.9h1M102.4 263.8h1M105.9 277.3h1M78 271.4h1M71.6 278h1M90.7 292.4h1M106.1 269.1h1M98.1 260.6h1M106.5 275.5h1M97.4 259.1h1M97.5 260.4h1M77.4 297.4h1M105.1 270.2h1M79.2 272.2h1M88 261.7h1M88.4 263.1h1M88.8 296.7h1M98.5 259.9h1M72 280.5h1M91.3 296h1M105.3 261.5h1M105.3 272.3h1M101.9 261.1h1M78.4 296.1h1M73.5 295.1h1M75.4 297.7h1M73.7 277h1M85 296.3h1M72.6 290h1M80 266.1h1M94.9 258.1h1M105.2 273.9h1M96.6 286.7h1M107.3 277.6h1M73.7 291.4h1M102.4 286.4h1M100 260.8h1M106.1 272.2h1M75.5 294.6h1M90.5 258.5h1M74.4 282.1h1M101.7 259.9h1M102.7 263.6h1M87.9 262.7h1M76 275.6h1M71.6 286.1h1M76.6 274.1h1M105.1 277.8h1M106 262.2h1M102.6 261.8h1M108.5 266.7h1M87.9 294h1M83.2 265.1h1M94.3 259.2h1M95.5 261h1M71.3 284.1h1M91.3 293.6h1M95.3 258.7h1M77.9 298h1M96.2 292.1h1M89.3 296h1M99.9 262.2h1M107 273.6h1M105.8 279.5h1M78.3 267.4h1M78.6 295h1M75.9 272.9h1M85.2 298.5h1M107.9 271h1M102.3 285.3h1M90.1 295.7h1M104 260.5h1M71 278.5h1M75.5 294.6h1M85.5 294.4h1M104.3 269.2h1M102 262.9h1M107.1 265.4h1M72.7 296h1M100.7 283.6h1M78.8 272.8h1M80.1 295.3h1M95.3 259.3h1M80 270h1M73.5 278.3h1M95.5 259.4h1M75.4 297.3h1M73.3 287.7h1M87.8 261h1M81.7 298.5h1M93.3 257.9h1M102 281.6h1M105.3 276.7h1M75.1 293.3h1M95.2 288.3h1M103.3 265.3h1M75.4 273.2h1M97 287.1h1M96 260.2h1M80.9 266.9h1M70.3 285.9h1M88.9 263.9h1M94.6 292.2h1M72.8 279.4h1M91.2 259.9h1M89.2 259.6h1M102.5 258.7h1M95.4 258.8h1M92.3 261.2h1M101.9 259.1h1M78 294.3h1M75.1 294.1h1M71.7 281.3h1M106.6 270h1M101.7 285.8h1M72 286.5h1M91.3 294.9h1M78.1 295.7h1M95.2 291.8h1M96.9 260.1h1M93.1 261.6h1" stroke="#585858" stroke-width="1" fill="none" opacity="0.9"/>
<path d="M92.3 291.5h1M72.3 288.9h1M104.2 264.9h1M94.1 290.4h1M105.1 273.6h1M73 287.3h1M93.6 293.8h1M75.4 275.7h1M104.7 269.3h1M94.2 258.4h1M100.2 259h1M97.9 260.9h1M70.2 285.9h1M107.5 271.6h1M73.8 283.6h1M87.6 295.4h1M71.7 291.7h1M81.1 295.9h1M104.4 268.9h1M106.6 267.5h1M76.6 296.4h1M103.3 263.3h1M74.5 295.4h1M71 293.3h1M87.8 261.5h1M73 283.7h1M76.5 274.5h1M71 287.4h1M75 272.3h1M93.4 293.4h1M93.4 261.7h1M91.3 260.6h1M102.2 281.9h1M70.9 288.1h1M70.1 288.9h1M82.5 297.6h1M102.9 280.7h1M80.9 296.9h1M75.5 276.1h1M89.7 292.4h1M93.3 293.7h1M96.9 260.3h1M97.5 290.5h1M100.4 285.1h1M85.9 295.7h1M78.9 269.4h1M91.1 294.4h1M85.7 295.6h1M93.6 259.6h1M105.2 274.7h1M87.2 261.2h1M93.7 292.5h1M103.3 279.8h1M107.7 274.8h1M71.9 279.7h1M70.6 280.1h1M91.6 291.8h1M101.3 259.8h1M99.3 283.9h1M86.3 298.1h1M105 262.4h1M85 296.4h1M76.4 275.2h1M93.1 258.2h1M107.9 270.4h1M106.7 266.3h1M106.5 279.2h1M95.5 287.5h1M102.2 262.1h1M79.9 269.7h1M106.1 264.9h1M102.2 286.4h1M101.4 263.1h1M98.7 288h1M105 260.4h1M81.9 295.8h1M70.2 281.5h1M72.7 296.1h1M84.5 296h1M102.7 262.4h1M83.6 262.9h1M75.6 296h1M108.5 270.2h1M103.3 261.3h1M70.1 291.5h1M74.4 278.8h1M73 285.1h1M84.4 298.8h1M103.1 263.8h1M82.3 297.9h1M69.6 283.2h1M97.5 285.4h1M106.4 275.3h1M92.8 261.2h1M91.7 261.7h1M74.8 293.7h1M96.8 288.3h1M87.3 262.6h1M72.6 283.7h1M80 296h1M72.8 291.5h1M70.6 281.7h1M102.1 258.6h1M105.9 277h1M77.4 275.2h1M99.2 289.5h1M70.4 287.8h1M106.5 273.5h1M102.9 284.2h1M84.5 266.6h1M105.3 261.4h1M78.4 298.6h1M76.4 293.6h1M70.3 279.9h1M76.2 297.9h1M74.6 294.9h1M101.8 281.5h1M94.2 261.1h1M104.3 272.6h1M103.1 260.7h1M103.8 274.1h1M106.9 269.8h1M92.1 290.8h1M95.2 292.6h1M102.6 281.7h1M88.5 297.4h1M73.7 293.2h1M75.6 278.3h1M77.3 298.4h1M99.3 260.4h1M105.3 270.4h1M85.4 262.7h1M80.9 296.6h1M73.2 274.9h1M91.6 259.1h1M104.9 270.6h1M105 274.1h1M78.2 267.9h1M103.2 263.9h1M75.2 294.8h1M72.9 277.3h1M101.5 287h1M104.9 268h1M98.4 257.9h1M72.3 295.3h1M82.1 268.6h1M72.5 287.5h1M96.7 259.4h1M70.7 284.4h1M72.8 292.5h1M74.2 274.7h1M79.9 270.7h1M104.8 277.7h1M105.9 266.4h1M107.3 268.5h1M88.8 293.1h1M78.6 296.2h1M102.9 280h1M72.4 281h1M101.9 263h1M80.5 295.4h1M80.8 298.2h1M86.8 264.3h1M88.1 264h1M74.1 293.5h1M90.9 259.1h1M104.7 272.5h1M81.2 270.4h1M77.5 297.6h1M78.4 294.2h1M83 266.2h1M98 290.8h1M104.1 273.3h1M99.6 285.1h1M73.2 286.8h1M96.5 259.5h1M76.1 274.5h1M102.7 277.7h1M69.9 289.5h1M91.3 260.8h1M106 280.2h1M79.8 296.2h1M101.9 287h1M78.6 266.8h1M101 257.8h1M98.3 260.2h1M105.5 264.5h1M84.3 297.6h1M93.4 261.5h1M88.2 294h1M74.6 291.6h1M73 288.3h1M97.3 258.5h1M92.2 262.6h1M89.2 296.7h1M103.8 265.5h1M79.4 269.2h1M106.8 268.7h1M100.7 261.7h1M80.7 298.5h1M71.9 281.4h1M86.5 297.3h1M82.7 268.3h1M75.9 273.7h1M105.9 267.5h1M73.2 284.9h1M82 297.8h1M88.6 294.3h1M99.6 287.7h1M105.4 265.9h1M94.4 293.2h1M86.8 295.4h1M93.6 289.6h1M95.8 291.4h1M74.5 272.8h1M84.2 262.6h1M82.2 296.2h1M106.5 265.9h1M99 258.3h1M101 284.7h1M102.9 276.3h1M72.6 286.6h1M103.2 262.4h1M106.8 266h1M103.6 282.6h1M89.3 260.5h1M94.2 261.5h1M72.7 295.4h1M85.1 263h1M94.1 258.9h1M73.4 287.9h1M81.7 296.8h1M72.6 285.6h1M84.6 264.4h1M87.7 295.7h1M88.6 296.8h1M78.8 268.2h1M106 265.1h1M99.5 284.1h1M83.1 263.9h1M91.7 261.3h1M72.5 287.4h1M100.9 262h1M90.3 296h1M80 295h1M104.9 262.2h1M92.3 258h1M104.2 265h1M103.5 279.4h1M77.6 270.6h1M76.6 271.6h1M96 289.9h1M80.5 298h1M96.8 290.7h1M101.6 286.7h1M72.5 293.9h1M98.3 285.3h1M96 288.7h1M72.1 284.7h1M107.3 270h1M72.1 289.1h1M105.8 264.8h1M82.4 267.9h1M78 273.5h1M105.3 267.8h1M85.4 264.6h1M107.3 264h1M94.4 259.3h1M105.9 279.6h1M91.1 296.1h1M84.3 298.6h1M72.9 286.7h1M102.1 284.7h1M94.3 289.4h1M104.5 270.1h1M75 278.9h1M79.2 270.1h1M87.5 293.8h1M83.3 297.6h1M78 296.5h1M94.9 260.9h1M90.6 259.6h1M75.3 277.1h1M71.2 289.1h1M102.4 284.7h1M77.7 271.8h1M88 260.1h1M91.9 294h1M73.9 273.8h1M73.5 288.7h1M73.8 279.5h1M75.4 295.3h1M84.5 262.4h1M72.5 291.5h1M108 265.9h1M72 286.4h1M105.1 269.2h1M79.3 266.6h1M87.8 261.6h1M104.8 276.6h1M72.4 275.7h1M73 287.6h1M103.6 283.4h1M80 296.1h1M96.5 258.7h1M104.7 273.9h1M72.1 291.7h1M79.1 295.6h1M94.7 293.8h1M85.7 265.3h1M72.9 288.4h1M86.9 294.8h1M108.6 267.7h1M99.7 286.2h1M100.5 260h1M107.5 270.2h1M72.9 283.9h1M99.2 258.9h1M78.7 266.7h1M72.2 289.1h1M76 297.8h1M94.3 288.8h1M104.6 280.3h1M70.7 284.8h1M102.1 278.7h1M103.5 265.3h1M104.1 276.4h1M70.7 290.2h1M102.1 284.6h1M71.5 279.3h1M102.4 262.1h1M78.2 271.4h1M82.3 269.2h1M100.8 281.7h1M101.4 287.7h1M94.7 294h1M90.7 260.9h1M77.9 294.1h1M74 291.2h1M89.3 261.5h1M73.8 286.1h1M75.9 294.5h1M97.2 287.8h1M104.4 277.1h1M71.1 294h1M97.6 286.5h1M107.6 272.3h1M81.3 266.4h1M75.1 297.4h1M84.8 261.4h1M102.6 264.1h1M95 288.1h1M73.5 287.5h1M72.6 277h1M73.5 293.5h1M103.6 261.7h1M85.8 297.8h1M87.3 264.1h1M103.7 266.3h1M73.3 294.7h1M76 277.8h1M93.3 257.7h1M86.5 265h1M85.5 297.4h1M91.8 258.3h1M87.8 293.8h1M69.4 287.6h1M93.1 293.9h1M74.5 280.4h1M77.8 296.3h1M100.5 283.7h1M94.4 258.4h1M95.8 258h1M73.8 275.3h1M72.4 295.2h1M90.7 259h1M90.7 261.5h1M103.3 263.2h1M106.6 278.3h1M98.1 261.7h1" stroke="#a0a0a0" stroke-width="1" fill="none" opacity="0.9"/>
<path d="M106.7 281.2h1M108.4 274.1h1M104.7 287.2h1M78.1 257h1M80.6 302.6h1M113.5 277.6h1M93.6 252.7h1M84.6 257h1M96.6 256.8h1M112.9 269.7h1M106.7 289.6h1M68.4 287.3h1M78.6 264.6h1M107.8 263.3h1M77.4 259.3h1M86.2 254.8h1M88.2 298.3h1M112.6 279.9h1M74.7 301.1h1M79.2 263.1h1M69.7 293h1M83.4 300.3h1M65.7 289.8h1M73.8 297.3h1M79.6 302.4h1M96.9 256.2h1M78.7 305.2h1M74.2 297.9h1M68.5 297h1M109.3 265.4h1M71.3 296.6h1M95.9 293.2h1M110.1 271.3h1M99.2 256.1h1M108.3 265.3h1M75 262.7h1M110.9 276.2h1M83.2 299.2h1M91.9 256.9h1M96.1 296.1h1M64.2 294h1M109.8 274.3h1M107.8 260.5h1M73.3 303.3h1M78.7 299.4h1M99.5 253.5h1M95.1 298.2h1M76.2 301.4h1M69.6 271h1M99 255.8h1M72.4 298.7h1M120.8 273.7h1M104.3 284h1M89.4 257h1M67.4 276.8h1M91.1 255.6h1M103.4 250.2h1M68.5 290.4h1M112 277h1M105.7 260.3h1M107.9 286.6h1M68.6 287.5h1M71.9 296.2h1M72.4 273.2h1M109.6 277.4h1M66.4 290.4h1M110 270.7h1M99 291.1h1M104.1 255.5h1M76.5 267.7h1M94.6 294.8h1M103.3 287.1h1M72.1 274.7h1M78.7 266h1M109.7 271.3h1M81 300.7h1M95.9 256.6h1M77.4 265.5h1M105.3 288h1M83 299.6h1M114.1 269.9h1M78.6 299.4h1M86.9 300.7h1M98.6 295.2h1M109.6 273.9h1M105.5 258.1h1M72.8 268.1h1M103.7 258.3h1M108.3 274.5h1M99.6 291.4h1M80.7 300.2h1M69.8 300.6h1M98.2 253.8h1M70.9 276.4h1M103.2 258.8h1M68.8 283.4h1M96.6 294h1M70.6 294.2h1M68.6 281.9h1M97.4 293.8h1M91 301.9h1M108 260.5h1M104.2 258.5h1M74.6 255.8h1M66.9 299.7h1M69.3 283.4h1M108.3 276.2h1M111 276.7h1M106.4 281.2h1M80.8 260.7h1M69.8 295.1h1M67.9 285.4h1M69 287.4h1M91.6 301.2h1M91.6 296.9h1M69.8 295.8h1M88.5 256.9h1M71.2 277.4h1M87.9 301.5h1M95.7 295.7h1M74.9 298.6h1M104 285.5h1M68.1 272.6h1M72.8 298.8h1M102.3 286.9h1M67.4 292.7h1M67.4 277.3h1M110 272.9h1M107.6 258h1M73 266.8h1M94.7 299.7h1M69.7 295.7h1M69.2 296.4h1M109.7 257.5h1M103.3 297.4h1M108.5 282.2h1M78.1 265.8h1M70.6 293.6h1M75.7 298.9h1M110.2 274.1h1M85.9 302.4h1M105.6 260.4h1M79.1 299.7h1M69.7 293.5h1M70.6 271.2h1M94.5 296.7h1M75.9 266.1h1M112 280.6h1M95.5 255.1h1M74.6 268.9h1M108.2 282.1h1M95.5 257.3h1M100.6 253.8h1M71 272.3h1M72.9 302.4h1M76.1 301.2h1M92 256.7h1M112.7 271.2h1M83.3 300.1h1M68.3 280.1h1M71.6 266.3h1M101.3 253.4h1M97.1 254.4h1M84.4 257.4h1M105.5 253.9h1M108.2 261h1M98 255.6h1M70 275.4h1M112.4 274h1M71.4 276.7h1M83.9 261.6h1M107.5 259.3h1M95.1 294h1M70.7 272.8h1M90.7 252.4h1M90.3 254.6h1M108.9 263.1h1M100.3 295.8h1M105.7 290.8h1M72.3 299.8h1M111.2 274.6h1M76.9 305.1h1M105.9 260.4h1M108.2 257.8h1M71.1 299.1h1M65.9 295h1M96 257.2h1M81.4 300.3h1M91 298.2h1M78.2 301.8h1M110.2 264.2h1M92.6 255.2h1M68.2 276.7h1M70.9 277.4h1M69.5 276.9h1M108.8 270.2h1M73.9 300.6h1M96.3 295.3h1M67.5 276.4h1M87.3 299.4h1M83.1 259.4h1M108.8 272.7h1M106 286.4h1M96.4 299.9h1M82.7 244.4h1M69 279.7h1M98.1 255.8h1M102.8 257.7h1M90.2 299.1h1M69.8 280.1h1M99.6 257.3h1M110 276h1M103.6 289.5h1M70.8 271.3h1M109.7 277h1M85.2 259.1h1M102.3 293.6h1M97.7 255.4h1M74.8 270h1M70.6 275.1h1M84.4 301.3h1M106.5 287h1M67.5 286.9h1M77.3 266.6h1M86.5 253.1h1M107.3 260.1h1M101.5 257.5h1M65 292h1M110.5 280.6h1M94.3 299.8h1M75.1 268.5h1M85.2 302h1M103.8 259h1M106.1 259.9h1M109.1 267.2h1M97.6 256.9h1M73.1 296.7h1M70.4 279.2h1M108.9 274.1h1M110.6 283.1h1M92.8 252.7h1M64.1 285.9h1M115.7 269.5h1M84.6 261.3h1M87.2 259.6h1M78.8 264.6h1M71.5 298.4h1M109 268.4h1M109.5 263.8h1M107.7 276.9h1M94 254.9h1M106.4 288.1h1M100.8 290.2h1M92.9 297.8h1M85.1 260.1h1M77.3 267.4h1M106.2 287h1M97.1 251h1M65.1 286.9h1M109.3 267.8h1M91.8 296.4h1M71 297.6h1M88.5 258.8h1M93.3 255.1h1M110 266h1M77.5 263.1h1M72.7 302.9h1M73.2 298.7h1M108.9 269.1h1M113 259h1M89.9 297.9h1M97 256.1h1M66 290.7h1M104.1 257.8h1M69.2 281.7h1M66.6 283.6h1M105.5 255.9h1M68.3 289.3h1M72.7 297.9h1M103.9 256.4h1M68.8 279.6h1M76.4 268.8h1M99.2 293h1M109.1 265.6h1M71.4 303.9h1M72.6 296.5h1M75.1 300.5h1M99.2 297.3h1M69.2 278.7h1M69.3 289.3h1M104.1 293.6h1M84.1 261.5h1M99.7 290.7h1M70.3 269.4h1M106.5 260.7h1M97.1 292.4h1M89.9 257.9h1M107.6 277.3h1M89.9 255.7h1M111 273h1M71.4 295.8h1M108.2 252.6h1M67.6 288.6h1M64.1 277.5h1M79.2 260.1h1M109.7 282.7h1M76.4 263.8h1M73.5 270.9h1M102.9 258.6h1M110.2 259.6h1M96 296.2h1M106.6 280h1M97 293.6h1M68.9 288.4h1M70.4 276.9h1M108 256.8h1M109.8 266.6h1M76.4 299.9h1M87.1 259h1M107 261.6h1M108.5 265h1M98.4 291.2h1M104.3 284.5h1M99.8 255.9h1M92.9 257.5h1M71 274.7h1M75.1 267.7h1M89.9 247.6h1M97.5 292.7h1M91.4 257.4h1M102.9 291.7h1M99.4 257.2h1M70.2 298.8h1M87.5 259.2h1M79.2 299.6h1M70 294.2h1M72.2 274h1M101 255.5h1M68.1 289.7h1M111.6 276.6h1M89.9 300.5h1M96.7 255.7h1M100 293.5h1M103.1 287.1h1M70.5 294.2h1M108.9 270.2h1M67.3 271.4h1M108 284h1M104.7 287.8h1M105.2 286.5h1M65.6 295.6h1M88.5 307.6h1M80.8 299.4h1M93.4 295.5h1M93.3 299.6h1M104.2 254.6h1M68.9 286.3h1M98.6 292.7h1M91.4 299.2h1M75.8 299h1M70.4 279h1M74.9 267.8h1M87.2 304h1M85.7 259.8h1M72 274.7h1M105.8 252.2h1M77 303.9h1M69.5 292h1M104.6 289.4h1M82.1 301.6h1M111 286.6h1M114.5 262.2h1M97.8 256.1h1M78.3 266.1h1M81.9 302h1M84.1 253.2h1M106.6 260.5h1M69.8 295.9h1M104.9 283.2h1M97.2 257h1M66.7 291h1M70.9 276.1h1M64.5 277.9h1M107.3 262h1M97.1 294.3h1M101.1 254.6h1M80.2 300.1h1M78.9 264.4h1M103.1 290.6h1M60.5 285.8h1M111.5 271.8h1M74.4 299.8h1M83.9 260.7h1M104.8 254.5h1M107.9 264.3h1M65.4 272.7h1M88.2 259.4h1M80.7 261h1M107.2 261.4h1M68.8 278.1h1M70.5 295.1h1M91.9 257.7h1M86.7 299h1M109.2 275.6h1M67.8 279.4h1M96.7 253.5h1M82.9 260.1h1M69.9 294.8h1M108.2 261.1h1M111.9 267.9h1M95.2 252.9h1M70.9 277.8h1M109.2 269h1M116 265.8h1M71.4 295.7h1M82.2 300.9h1M76.1 268.4h1M106.7 279.5h1M64.5 291.3h1M101.7 257.9h1M107.6 261h1M78.4 260.8h1M79.3 262.4h1M67.4 296.6h1M88.3 301.1h1M76.7 268.3h1M106.9 279h1M107.2 260.8h1M98 293.9h1M73.2 272.2h1M108.8 268h1M110 266h1M109.2 263.8h1M97.4 255.9h1M87.9 252.9h1M103.3 255.9h1M70.3 295.3h1M99.1 255h1M67.5 291.3h1M82.4 262.7h1M78 299.3h1M68 287.3h1M76.6 302.2h1M99.8 294.5h1M98 257.2h1M95.3 253.8h1M87.3 301.6h1M82.7 250.1h1M75.7 268.9h1M70 278.7h1M104.8 285.6h1M112.1 272.5h1M86.9 298.2h1M67.5 268.1h1M87.3 257.8h1M93.1 295.9h1M93.3 249.3h1M70.2 297.8h1M109.9 274.4h1M84.4 299.8h1M109.2 269.9h1M107.2 262.1h1M76.4 302.3h1M107 281.6h1M70.2 278h1M91.5 257.5h1M63.1 293.3h1M102.6 287.2h1M98.1 257h1M109.3 270h1M115.3 285.7h1M109.3 275.7h1M90.5 258h1M99.2 292h1M78.1 260.9h1" stroke="#3c3c3c" stroke-width="1" fill="none" opacity="0.85"/>
<path d="M78.1 265.3h1M105.2 253.6h1M66.7 287h1M69.4 274.6h1M109.7 266.9h1M69.1 289.2h1M72.4 274.1h1M107.6 261.8h1M65.7 290h1M86.8 258.9h1M108.8 266.6h1M78.4 263.6h1M71.3 272.2h1M80.9 261.7h1M110.1 270.5h1M105 260h1M66.5 288h1M69.2 292.9h1M102.9 291.1h1M79.2 264.3h1M112.5 280.6h1M104.8 259.6h1M108.5 254.8h1M78.6 303.7h1M88 256.4h1M109.5 267.1h1M67.8 288h1M70.9 277.7h1M76.4 298.9h1M102.4 255.8h1M82.5 303.6h1M93.7 255.4h1M80.4 263.1h1M91.7 297.1h1M70.2 273.6h1M72.5 296.4h1M66.2 289.3h1M105.4 282.2h1M109.2 266.7h1M110.3 259.3h1M97.4 294.2h1M68.2 274.4h1M64.8 283.8h1M64 287.7h1M72.5 272.8h1M66.4 290.4h1M79.8 265.1h1M94.9 254.2h1M60.6 263.5h1M71 299.2h1M67 283.3h1M100.5 256.4h1M80 302.4h1M97.4 293h1M109.8 264h1M95.1 295.1h1M71.8 271h1M104.5 284.9h1M108.9 261.7h1M108.5 263.5h1M79.7 300.9h1M85.1 303.9h1M105.9 256.5h1M108.9 282.6h1M104.5 258.4h1M115.9 270.7h1M60.6 290.9h1M70.4 277.6h1M106.9 258.2h1M89.4 300.4h1M105.7 259.3h1M100.9 255.3h1M90.2 298h1M80.2 264.1h1M110.8 266.9h1M67.3 290.4h1M74.3 270.8h1M86.3 260.1h1M112.4 268.6h1M69.4 274.5h1M68.6 275.3h1M113 285.3h1M88.1 298.1h1M96.1 256.4h1M97.4 256.4h1M106.9 280.6h1M96.2 293.8h1M95.5 254.2h1M99.2 256.9h1M99.6 292.5h1M75.8 267.5h1M67.2 274.1h1M64.8 278.2h1M84.3 260.9h1M76.7 262.9h1M111.5 266.8h1M103.9 291.9h1M105.5 250.9h1M105.5 259.9h1M110 260.9h1M69.7 294.1h1M77.7 266.6h1M72 274.9h1M107.4 278.7h1M79.8 302.1h1M83.1 259.3h1M107.5 283.3h1M66.4 283.6h1M109.2 266.4h1M86 258.6h1M89.3 254.7h1M92.2 255.5h1M103.1 256.1h1M75 264.1h1M107.1 259.1h1M106.4 280h1M66.7 291.1h1M102.1 289.4h1M105.3 289.6h1M88.8 300.4h1M67.7 287.4h1M96.6 292.7h1M78.9 265.2h1M91.2 258h1M93 257.6h1M71.1 298.9h1M70.4 295.2h1M66.3 298.5h1M109.5 265.4h1M74.2 271.5h1M67.4 283.1h1M103.2 254.5h1M75.3 264.5h1M112.2 270.1h1M85.1 299.1h1M66.5 281.3h1M108.9 272.3h1M88.1 298.6h1M98.8 291.7h1M104.4 254h1M104.4 283.9h1M85.7 298.6h1M116.7 283.5h1M109.8 263.1h1M111.2 267.9h1M70.7 303.8h1M109.4 274h1M94 254.3h1M86.1 305h1M71.1 297.2h1M68.8 274.6h1M92.2 257.2h1M68 287.8h1M82.1 256.6h1M79.9 257.8h1M86.3 257.8h1M105.8 283.8h1M84.9 303h1M71.2 298.3h1M104.8 284.1h1M111.4 262.5h1M68.7 291h1M81.4 263.5h1M68 289.5h1M91.2 297.8h1M88.4 258.8h1M94.9 295.1h1M76.5 261.9h1M100.8 257.2h1M80.8 299.6h1M105.8 253.9h1M108.6 261.2h1M86.7 257.7h1M108.1 275.4h1M103.2 286.4h1M71.8 274.4h1M91 257.4h1M112.7 259.6h1M68.8 284.5h1M68.5 284.7h1M88.4 252.9h1M98.7 295h1M82.7 254.9h1M91.2 258.1h1M95 251.6h1M69.8 292h1M72.4 302.1h1M90.8 296.7h1M96.3 257.1h1M69.5 279.3h1M69.3 294.8h1M107.5 262h1M110.5 268.9h1M102.7 287.8h1M102.3 293.6h1M91.6 254.5h1M109.1 266.5h1M96.4 255.6h1M71.6 303.3h1M97.5 256.5h1M68.2 277.7h1M99.7 296.1h1M107.9 258h1M112.6 278.8h1M83.5 260.7h1M109.8 279h1M107 259.1h1M92.9 295.7h1M108.5 277.7h1M103.7 255.3h1M100.7 257.3h1M88.6 255.9h1M69.7 267.2h1M74 262.4h1M83.1 299.5h1M81.2 300.6h1M90.7 258.1h1M69.7 296.8h1M97.6 253.9h1M106.6 285.5h1M91.9 257.6h1M67 287.7h1M108.7 267h1M109.4 268h1M69.8 280.2h1M92.9 296.3h1M106.8 261.8h1M89.9 297.2h1M107.8 277.6h1M108.6 282.6h1M68.6 284.3h1M104.4 252.5h1M96.7 256.1h1M69.7 274h1M84.7 251.3h1M108.9 270.4h1M67 282.4h1M73.4 273h1M79.8 265.1h1M85.9 299.6h1M76.2 299.4h1M91.9 257.5h1M69.3 278.9h1M92.9 296h1M69.9 270.6h1M104.9 285.2h1M69.4 290.8h1M92.8 257.7h1M107.6 263.4h1M73.1 272.7h1M85.7 255.6h1M104 256.9h1M100.6 292.3h1M107.2 262.7h1M110.3 261h1M113.3 267.2h1M121 274.1h1M101.3 257.8h1M73.9 297.8h1M106.3 261.3h1M92.7 256.3h1M110.9 270.7h1M71.5 275.2h1M79.3 263.7h1M64.2 284.3h1M105.2 285h1M79.9 264.8h1M109.7 265.6h1M75 298h1M102.3 288h1M99.2 251.8h1M107.7 263.8h1M72.4 271.5h1M65.9 279.1h1M69.7 296.8h1M93.5 256.8h1M109.6 268.6h1M86.7 258.7h1M101.4 256.2h1M91.7 297.2h1M85.4 303.3h1M114.7 263.4h1M84.8 300.7h1M106 285.1h1M106.2 259.7h1M70.3 295.1h1M102.8 256.6h1M67.6 281.3h1M95.9 295h1M90.1 300.9h1M95.7 296.6h1M72.3 302h1M74.2 269.1h1M107.5 280.5h1M108.1 262.6h1M67.8 291.7h1M110.8 274.8h1M74.6 261.9h1M82.9 300h1M97.4 292.8h1M109.3 274.6h1M71.1 277.3h1M96.4 293.8h1M108.5 263h1M84.5 303.9h1M95.8 301.2h1M101.7 255.4h1M105.6 255.4h1M89.4 299.6h1M73.2 297.2h1M107.3 278.9h1M72.9 300.5h1M90.3 255.7h1M108.4 265h1M120 288.4h1M95.1 256.4h1M109.9 269.4h1M88.4 257h1M78.3 266.4h1M101.1 257.5h1M85.7 258.3h1M68 295.5h1M110.7 269.5h1M73.8 269.3h1M69.8 278.1h1M82.1 263h1M106.1 257.5h1M112.2 264.2h1M110 279.2h1M110.5 271.1h1M70.2 293.2h1M109.1 272.9h1M102.3 287.1h1M88.7 298.8h1M73.2 262.4h1M110.3 282.3h1M68.3 275.5h1M68.9 295.1h1M111.9 274h1M86.3 301.7h1M71.9 270.9h1M95 254.2h1M106.1 284.3h1M81.9 263.1h1M102.3 258.1h1M76.4 265.6h1M78.3 266h1M86.2 255.5h1M112.6 274.5h1M66.3 283.2h1M78.1 299.2h1M105.8 282h1M71.6 294.9h1M80.1 263.5h1M86.7 298.6h1M83.9 258.1h1M102.8 287.1h1M78.9 265.7h1M77.8 264.5h1M91.6 256.6h1M107.5 262h1M111.4 273.1h1M110.4 271.5h1M68.6 290h1M86.3 257.8h1M108.2 259.7h1M75.5 264.3h1M97.9 255.4h1M96.7 295.3h1M72.5 297.6h1M97.7 253.7h1M66.4 286.4h1M88.2 258.9h1M114.9 278.4h1M67.8 268.6h1M81.7 302.9h1M71 298.2h1M110.1 272.6h1M70.8 295.3h1M94.6 255h1M82.1 262.1h1M74.2 306.5h1M67.9 276.8h1M65.6 282.3h1M93.9 254.8h1M109.2 265.6h1M75.8 299.9h1M69 302.3h1M70.5 273h1M96.5 253.6h1M75.3 298.4h1M66.2 271.7h1M98.9 256.1h1M89.6 257.9h1M89 298.6h1M106.2 284.4h1M75.8 266.8h1M86.1 259.3h1M69.3 292.3h1M108.6 265.3h1M112.7 270.6h1M80 300.7h1M110.4 282.9h1M101.5 257.3h1M73.3 300.4h1M68.8 276.5h1M95.5 293.7h1M109.5 272.6h1M69.1 279h1M100.6 255.1h1M69 277.5h1M98.7 291.8h1M109.6 273.6h1M103.5 257h1M103.4 290.4h1M97.5 242.2h1M69.5 293.3h1M102.6 256.4h1M74.5 302.8h1M72.7 272.1h1M111.9 272.7h1M81.7 300.5h1M77.1 301.1h1M71.9 299.7h1M95.7 297.2h1M91.6 255.4h1M69.2 281.4h1M69.4 283.7h1M100.8 255.4h1M70.8 294.1h1M64.1 287h1M68.6 272.7h1M72.1 274.2h1M91.1 297.5h1M69.5 295.1h1M83.9 299.7h1M69.1 295.8h1M80.3 260.6h1M75.5 265.9h1M104.7 254h1M102.9 258.5h1M100.6 290.1h1M110.1 268.8h1M71.1 300.2h1M105.5 286.8h1M77.2 266.5h1M109 271.4h1M77.4 302.9h1M88.8 256.9h1M80.3 300.1h1M94.6 294.6h1M104.5 259h1M72.4 297.4h1M92.1 301.9h1M65.3 295.5h1M95.1 257.2h1M104.5 284h1M112.5 276.7h1M98.7 257.2h1M68.8 277.2h1M79.3 265.4h1M112.1 270.3h1M71.3 272.9h1M108.6 264.3h1M101.9 254.1h1M69.2 289.3h1M73.8 297.9h1M105.8 284.6h1M70 276.3h1M91.4 302.4h1M83.1 299.5h1M89.5 298.2h1M110.2 284.7h1M120.4 267.6h1M77.3 264.4h1" stroke="#7a7a7a" stroke-width="1" fill="none" opacity="0.85"/>
<path d="M69.1 290.7h1M64.7 288h1M78.8 308.3h1M70.4 311h1M70.3 277.7h1M57.3 298h1M69.8 300.6h1M72.6 308.1h1M67.8 290.9h1M117.8 264.2h1M68.8 295.7h1M72.6 298.3h1M55.2 308.7h1M65.3 279.4h1M77.8 265.5h1M61.5 306.9h1M59 298.9h1M72 307.3h1M62.6 283.8h1M93.3 300.2h1M56.2 283h1M64.3 302h1M71.4 274.2h1M72.9 297.1h1M74.2 302.8h1M65.3 284h1M67.5 293.7h1M55.8 302h1M65.4 293.1h1M79.3 301.2h1M68.4 295.6h1M67.9 292.9h1M67.9 286.1h1M72.4 307.4h1M60.1 297.2h1M70 308.4h1M75.3 268.2h1M68.4 290h1M73.1 297.9h1M67 293.6h1M71.4 273.8h1M77.3 299.3h1M65.4 301.8h1M62.2 281.5h1M66.3 296h1M68.6 294.4h1M68.5 294.6h1M82.1 301h1M111.5 269.8h1M71.5 295.5h1M71 277.8h1M78 301h1M63.9 280.9h1M68.9 286.2h1M67.5 295.7h1M74.8 305.1h1M69.3 294.8h1M66.5 286.6h1M81.2 299.3h1M65.3 299.7h1M63 291.7h1M81.4 302.6h1M76.5 300.5h1M68.9 292.5h1M62.1 297.4h1M77.8 306h1M74.1 302.9h1M63.5 298.5h1M76.3 268.5h1M69.5 297.6h1M71.3 297.2h1M63.4 302h1M70.3 304.6h1M78.5 299.2h1M70.4 296h1M88.7 300.2h1M65 298.1h1M60.8 308.1h1M69.2 291.3h1M81.4 300.3h1M68.5 293.6h1M60.8 302.7h1M94.3 255.1h1M84.1 302.8h1M63.7 302.6h1M64.2 292.6h1M67.6 290.4h1M68.3 287.3h1M68.8 295.3h1M96.2 309.4h1M65.1 289h1M81 310.1h1M70.5 269.8h1M81.3 306h1M63.9 302.7h1M66.4 289.1h1M59.5 296.7h1M62.4 284.4h1M82.4 258.5h1M95.6 312.2h1M63.8 286.6h1M69.7 301.2h1M102.5 294.2h1M69.6 305.2h1M67.1 282.6h1M78.5 306.8h1M63.9 295.1h1M64.2 306.3h1M74 305.7h1M87.7 302.1h1M101.6 249.9h1M56 309.3h1M71.7 304.9h1M63 294.3h1M65.5 291.1h1M67.2 291.8h1M68.6 304.2h1M72 296.3h1M77.7 301.9h1M70 278.2h1M52.9 301.6h1M68.7 304.9h1M56.9 291.5h1M66.4 291.1h1M69.4 293.2h1M67.5 274.7h1M79.8 299.9h1M63.1 290.9h1M67.7 291.3h1M76.5 303.5h1M82.7 256.3h1M64.4 298h1M92 300.8h1M71.3 303.3h1M61.6 268.6h1M68.8 301.3h1M79.9 264.3h1M80.2 306.7h1M64.9 289.3h1M69 294.8h1M67.1 286.3h1M86.8 299.4h1M74.3 301.1h1M65.2 292.5h1M81.9 307.4h1M75.1 298.9h1M67.4 284.5h1M67 280.5h1M55.5 295.1h1M78.1 304h1M63.5 300.7h1M79.4 305.2h1M81.6 304.3h1M65.7 289.4h1M82.9 299.2h1M68.7 290.5h1M68.4 278.2h1M103.3 290.4h1M63.9 295.6h1M61.4 289.6h1M84 307.1h1M68.8 299.6h1M85.3 299.6h1M62 301.4h1M60.7 304.8h1M69.7 303.5h1M79.4 300.8h1M65.6 289.8h1M110.6 278.7h1M68.5 308.8h1M69.8 293.4h1M64.8 277.2h1M65.4 305.9h1M76.4 301.6h1M66.5 281.6h1M63.3 292.8h1M63.8 293.2h1M65.4 298.1h1M70.7 312h1M81.5 301.6h1M59.8 290.3h1M67.2 295.6h1M103.2 255.4h1M63.6 295.2h1M69.2 276.6h1M59.7 276.2h1M71.6 300.1h1M77.8 300.4h1M59.7 301.5h1M73.2 269.7h1M63.9 293.6h1M62.7 302.4h1M64.1 309h1M65.3 292.1h1M65.9 296.3h1M81.3 258h1M49.8 290h1M68.3 279.9h1M67.4 297.7h1M67.1 298.7h1M67.4 305.6h1M67.3 295h1M80 302.8h1M68.3 294h1M70.6 298.9h1M69.9 292.1h1M73.6 269.3h1M66.5 283.8h1M63.7 296.8h1M88.7 298.2h1M70.6 300.1h1M66.9 293.8h1M67.6 295.7h1M73.7 305.2h1M72.6 298.9h1M71.9 300.9h1M52.6 298h1M62.6 302h1M79.6 306.4h1M72.3 301.2h1M67.3 309.2h1M77.4 303.4h1M66.3 299.5h1M67.7 282.6h1M68.7 301h1M69.3 302h1M69.4 295.4h1M80.5 311.5h1M65.8 291.5h1M69.7 292.9h1M86.7 299.5h1M74.9 270.4h1M75.8 307.5h1M85.4 256.2h1M67.9 296.8h1M68.7 290.8h1M70.9 298.4h1M68.5 301.6h1M59.6 290.6h1M65.4 273.9h1M70.8 302.6h1M63.9 303.9h1M83.1 310.7h1M68 283.8h1M62.3 300.8h1M111.8 271.8h1M72.1 311.8h1M70.3 306.9h1M68.2 300.1h1M71.8 270.9h1M73.8 258h1M74.8 267.8h1M72.2 302.2h1M76 268.5h1M63.6 287.5h1M54.9 289.8h1M67.9 302.3h1M68.3 288.3h1M76.2 310.9h1M80.5 301.3h1M65.2 279.8h1M75.7 302.5h1M78.7 262.3h1M72.6 296.3h1M73.5 297.3h1M66.1 272.6h1M49.8 285.3h1M70.6 301.7h1M75.5 307.2h1M63.2 290h1M68.8 289.1h1M59.4 293.6h1M71.6 303h1M72 296.1h1M58.6 294.4h1M62.7 297.7h1M65.3 297.9h1M75.8 304.3h1M83 299.3h1M64 273.3h1M59 279.3h1M73.5 300.5h1M58.1 306.5h1M72.8 307.4h1M76.5 304.1h1M68.3 283.5h1M55.2 289.1h1M54.2 300.1h1M76.8 300.5h1M64.1 297.7h1M66.3 286.2h1M69.3 290h1M72.2 274.1h1M64.2 302.5h1M60.6 281.6h1M70.6 294.1h1M83 304.6h1M68.6 306.8h1M64.5 299h1M108.9 277.3h1M76.6 262.6h1M61.6 298.4h1M97.4 296.4h1M53.4 307.7h1M74.8 298.7h1M67.9 286.8h1M92.4 306.7h1M75.4 303.2h1" stroke="#444" stroke-width="1" fill="none" opacity="0.85"/>
<path d="M67.6 296.3h1M65.8 275h1M66.8 289.9h1M67.6 293.7h1M73.5 301.5h1M69.2 293h1M89.6 302.8h1M66.2 294h1M60.1 293.1h1M69.7 276.6h1M64 286.8h1M69.7 271.8h1M67.5 282.9h1M67.6 292.2h1M63.2 296h1M73.9 308.6h1M94.4 300.7h1M74.9 301.2h1M86.4 298.8h1M60.1 295.2h1M75.7 305.9h1M70.9 304.2h1M66.6 296.7h1M50.8 286.7h1M74.4 299.6h1M62.3 293h1M66.4 296.8h1M72 299.1h1M72 295.6h1M67.4 291.8h1M69.7 303h1M73.7 305.3h1M78.3 299.4h1M69 293.8h1M73.7 297.2h1M64.7 287.6h1M67.5 292.6h1M69.5 301.2h1M79.3 300.9h1M75.5 298.2h1M71.2 297.5h1M69 272.6h1M72.8 297.8h1M56.6 300.2h1M70.2 278.8h1M66.3 309.2h1M73.6 299h1M66.3 302.5h1M61 290.3h1M74.8 302.3h1M65.1 295.3h1M63.5 297h1M74.9 299.2h1M66 295.3h1M70.1 292.9h1M70.4 296h1M73.1 263.9h1M64.9 279.5h1M75.9 298.6h1M61.7 293.3h1M73.3 297.7h1M87.9 299.6h1M67.9 281.6h1M62.3 280h1M67.2 296.1h1M83.6 309.8h1M70.5 296.7h1M73.6 266.3h1M69.9 305h1M70.9 297.1h1M75.5 304.5h1M64.1 307.9h1M69.7 280.2h1M59.5 292.9h1M68.3 294.4h1M71.6 297h1M68 289.4h1M72.4 300.4h1M68.5 297h1M64.7 300h1M69.2 303h1M66.9 296.3h1M67.1 292.6h1M57.9 310.6h1M68.6 303.7h1M64.1 293.6h1M69.7 294.3h1M108.8 259.4h1M75.2 303.3h1M70.3 305.5h1M69.7 295.2h1M70.2 279.9h1M55.8 288.9h1M80.5 303.4h1M66.6 281.4h1M110.4 264.6h1M67.8 305.2h1M68 286.7h1M66.9 292.7h1M69 285.1h1M75 298.7h1M75.6 310.6h1M71.2 273.1h1M72.4 299.4h1M67 278.5h1M68.2 296h1M63.5 294.8h1M61.6 310.7h1M65.2 281.7h1M60.9 282.6h1M74 306.2h1M56.9 304.1h1M69.9 293.1h1M91.5 299.3h1M68.4 294h1M66.3 295.4h1M75.9 298.4h1M71.8 268.5h1M63.8 286.2h1M68.1 279.2h1M81.2 300.4h1M72.8 305.5h1M65.7 290.8h1M73.1 312.3h1M94.5 298.5h1M73 297.8h1M63.4 278.3h1M63.4 298.3h1M103.1 287.6h1M80.3 304.4h1M76.2 304.4h1M48.6 291.5h1M59 282.9h1M78.5 302.7h1M64.4 302.7h1M73.8 297.2h1M75.3 268.1h1M59.1 287.5h1M71.4 294.7h1M59.6 301.1h1M60.6 276.2h1M69.4 294.2h1M55.1 295.2h1M71.4 302.2h1M62.9 302.3h1M68.7 301.7h1M81.8 307.2h1M69 293.3h1M94.3 256.4h1M111.3 271.8h1M73.8 300.7h1M76.1 304.3h1M68.5 292.4h1M68.6 296.2h1M57.3 291h1M63.8 312.3h1M69 290.4h1M67.2 299.5h1M83.6 301.1h1M70.2 298.2h1M69.1 283.2h1M63.3 301.1h1M67.5 290.9h1M71.1 294.8h1M66.6 296.6h1M60.9 296.1h1M62.3 285.8h1M69.7 298.9h1M57.6 304.1h1M84.4 303.3h1M63.9 307.3h1M55.2 308.5h1M65.7 289.2h1M70.1 304.1h1M83.9 300.1h1M74.3 301h1M70.5 295.1h1M71.4 298.4h1M66.5 278.8h1M70.6 298.7h1M105 284.2h1M70.3 293.7h1M61.7 296.5h1M67.7 298.1h1M78.3 299.3h1M65.8 293.2h1M55.6 294.4h1M67.1 285.1h1M58.4 303.4h1M74.3 301.1h1M76.2 307.3h1M74.9 306.3h1M65.9 291.5h1M81 305.9h1M62.3 285.7h1M71.8 298.9h1M72.5 299.7h1M61.3 302.7h1M69.3 281.8h1M66.2 296.8h1M72.2 273.2h1M74.7 304.2h1M64.3 291.9h1M79.3 300.1h1M84 299.1h1M67.2 289.9h1M68 297.7h1M75.7 300.7h1M69.5 278.6h1M74.7 305.8h1M107.9 256h1" stroke="#858585" stroke-width="1" fill="none" opacity="0.85"/>
<path d="M117.9 250h1M104.2 263.1h1M95.5 267.9h1M119.9 261.7h1M130.3 245.9h1M124.1 254.1h1M107.8 276.3h1M99.2 261.1h1M124.8 258.7h1M118.1 256.8h1M126.2 247.5h1M117.1 262.4h1M105.5 264.1h1M120.3 252.3h1M99.9 263.5h1M101.2 272.6h1M119.7 245.9h1M118.5 256h1M117.7 259.7h1M104.3 266.5h1M121.7 255h1M123 263.1h1M131.7 242.6h1M109.1 266.9h1M96.4 255h1M107.5 258.2h1M117.1 268.9h1M113.9 261.6h1M97 271.7h1M99.9 255.9h1M128.8 248h1M106.3 255.8h1M132.1 251.4h1M126.7 250.8h1M121.3 261.9h1M121.8 260.1h1M107.8 257h1M112.5 249.4h1M134.3 246.9h1M126.8 255.3h1M123.8 238.9h1M106.8 263.1h1M115.5 272.2h1M126.8 244h1M129.7 249.8h1M110.9 264.9h1M106.2 260.6h1M113.1 246.9h1M106.7 253.9h1M121.8 261.4h1M120.6 244.7h1M116.6 257.7h1M121.6 270.4h1M135 256.8h1M115.5 259.4h1M110.4 260.7h1M87.8 251.7h1M140 240.3h1M118.9 256.6h1M117.8 248h1M130.4 252.2h1M122.5 251.6h1M97.3 264.3h1M122.7 252.4h1M131.2 257.5h1M104.7 269.3h1M107.1 255.3h1M130.8 249.1h1M112.7 260.4h1M97.8 257.8h1" stroke="#bbb" stroke-width="1" fill="none" opacity="0.8"/>
<g filter="url(#blur0)"><ellipse cx="137" cy="242.8" rx="8.2" ry="2.9" transform="rotate(-52 137 242.8)" fill="#b4b4b4" stroke="#3c3c3c" stroke-width="1.7"/></g>
<path d="M134.5 242.8h1M139 240h1M138.1 237.7h1M141 235.3h1M136.6 245.7h1M142.1 234.9h1M132.7 244.8h1M137.7 243.4h1M143.1 237.4h1M136.9 244.9h1M130.9 251h1M135.6 245.3h1M137.3 240.3h1M144.2 231h1M136 247.1h1M133.8 248.6h1M135.6 243.4h1M137.6 237.6h1M137.3 241.1h1M141 232.4h1M136.7 241.9h1M139.4 235.6h1M135.7 241.7h1M141.3 237.5h1M142.8 236.1h1M134.1 245.3h1M138.3 241.9h1M137.1 243.3h1M140.6 240.2h1M135.2 244.3h1M133.6 246.2h1M142.3 242.2h1M138 241.1h1M136.2 242.3h1M135.9 240.7h1M136.3 244.3h1M138 244.1h1M137.9 242h1M137.8 242.2h1M132.3 250.3h1M142.9 236.1h1M139.2 242.3h1M135.6 245.7h1M136 241.8h1M137.4 243.3h1M143.2 234.3h1M138.6 242.8h1M136.7 241.3h1M137.3 234.3h1M137 246.3h1M139.6 233.9h1M139.6 241.1h1M136.6 238.2h1M139.5 240.2h1M137.1 239.4h1M135.2 243.5h1M129.9 246.1h1M140.2 241.1h1M140.7 237.1h1M136.4 244.5h1M138.1 245h1M139.6 241.4h1M140 240.8h1M138.7 237.3h1M131.2 254.5h1M133.9 246.5h1M135.5 240.5h1M137.7 238.2h1M138.2 239.6h1M136.5 244h1M135.4 243.9h1M135.9 242.2h1M131.6 247.6h1M142.8 232.7h1M144.4 231.8h1M136.6 241.4h1M136 241.2h1M133.4 242.1h1M133.9 250.7h1M139.2 240.2h1M137.5 241h1M139 239.4h1M140 236.4h1M135.6 243.2h1M137.8 238.5h1M135.6 242.3h1M133.7 249.4h1M135.4 247.6h1M136.6 243.4h1M136.3 244.4h1M137.6 240.6h1M133.4 241.8h1M134.5 243.2h1M139.4 241.7h1M138.3 243.3h1M142.1 236.8h1M138.8 242.3h1M134.7 242.7h1M135.8 245.9h1M138.9 238.1h1M133.8 240.1h1M132.9 247.8h1M138.5 240.4h1M138.4 242.4h1M137.9 238.7h1M138.2 239.8h1M132.4 245.8h1M136.3 237.1h1M134.1 247.1h1M138 244.7h1" stroke="#444" stroke-width="1" fill="none" opacity="0.85"/>
<path d="M137.5 245.5h1M136.1 244.4h1M135.2 246.1h1M134.9 246.2h1M139.4 237h1M127.9 252.9h1M134.8 247h1M140.4 242.2h1M133.1 250.2h1M133.4 245.3h1M135.5 250.1h1M131.9 248.6h1M133.5 242.2h1M136.1 239.2h1M130.2 250.8h1M139.8 241.3h1M136.7 243.4h1M135.7 246.8h1M133.2 242.2h1M135.2 241.8h1M134.5 243.9h1M134.7 243.5h1M138.2 246.3h1M134.2 247.2h1M134.5 238.3h1M143.4 237.2h1M135.5 244.5h1M137.5 241.2h1M141.2 233.8h1M139.7 242.4h1M132.9 247.5h1M133.6 241.3h1M141.4 239.5h1M133.2 243.9h1M137.9 245.6h1M131.1 246.5h1M135.2 245.5h1M139.5 240.9h1M138.7 239.5h1M133.5 241.3h1M138.7 244.1h1M135.7 243.2h1M137.8 238.7h1M141.2 235.7h1M136 242h1M135.4 249.9h1M138.7 239.5h1M134.9 242h1M132.2 244.2h1M137.8 243.7h1M134.4 241.5h1M137.1 245.9h1M135.8 243.1h1M141.3 237.7h1M138.6 248.1h1M137.2 238.5h1M133.9 241.9h1M134.3 244.7h1M140.6 238h1M131.2 244.3h1M139.2 238.8h1M135.1 244h1M133.5 245.8h1M140.6 236.9h1M138.2 237.1h1M141.5 236.6h1M137.9 241.5h1M135.4 247.9h1M137.6 238.4h1M134.1 248.7h1M136.9 239.8h1M142.4 237.3h1M139.3 239.2h1M135.5 241.4h1M135.4 240.6h1M133.1 247h1M135.7 242h1M135.1 244.9h1M136 246.9h1M139.6 243.8h1M131.2 247.9h1M133.4 246.4h1M136 243.9h1M142.8 246.1h1M136.4 239.2h1M140.3 236.8h1M139 243.4h1M135.7 247.5h1M135.3 243.9h1M134.4 245.8h1" stroke="#bbb" stroke-width="1" fill="none" opacity="0.85"/>
<path d="M137.5 229.2h0.9M153.9 229.8h0.9M143 240.3h0.9M139.7 243.9h0.9M131.4 238.1h0.9M136.9 238.5h0.9M130.9 248.1h0.9M143.5 231.1h0.9M143.3 240.9h0.9M130.1 245.6h0.9M139.4 236h0.9M144.9 235.2h0.9M148.9 214.1h0.9M139.7 242h0.9M144.5 240.9h0.9M130.8 247.4h0.9M139.7 240.8h0.9M145.8 232.3h0.9M133.2 241.5h0.9M151.1 227.7h0.9M146.3 232.2h0.9M137.1 229.7h0.9M128 244.6h0.9M130.4 234.3h0.9M136.9 229.1h0.9M138.5 245.6h0.9M145.2 231.8h0.9M136.2 241.7h0.9M137.1 231h0.9M138.6 240.6h0.9M144.3 225.1h0.9M124.6 241.2h0.9M141.6 235.3h0.9M138.6 243.9h0.9M142.2 235.7h0.9M145 233.9h0.9M128 250.4h0.9M149.8 236.7h0.9M139.5 225.4h0.9M144.2 237h0.9M134 241.2h0.9M142.1 232.8h0.9M139.5 233.4h0.9M145.2 234.8h0.9M134 230.8h0.9M132.8 242.7h0.9M139.4 233.9h0.9M129 258.4h0.9M137.3 235.7h0.9M136.4 237.7h0.9M142.7 246.5h0.9M141.1 238h0.9M137.3 241.8h0.9M134.7 242.6h0.9M134.6 244.1h0.9M129.9 244.4h0.9M122.2 243.3h0.9M133.5 231.3h0.9M134.9 244.3h0.9M142.3 223.8h0.9M137.3 235.1h0.9M136.8 239.1h0.9M138 237.6h0.9M144.8 241.3h0.9M134.1 239.2h0.9M128.8 240.6h0.9M134.2 238.5h0.9M148.9 226.3h0.9M140.4 229.1h0.9M148.1 234.9h0.9M149 227.4h0.9M145.3 229.6h0.9M135.4 242.1h0.9M151.3 233h0.9M134.3 230.5h0.9M145.2 244.6h0.9M148.8 226.3h0.9M134.8 232.8h0.9M130.5 249.1h0.9M139.5 231.4h0.9M130 246.9h0.9M127.3 237.9h0.9M138.8 244.9h0.9M143.6 231.9h0.9M145.6 228.7h0.9M145.6 241.3h0.9M127.6 245.8h0.9M131.9 237.6h0.9M132.6 241.4h0.9M145.5 242h0.9M136.9 237.7h0.9M137.8 230.1h0.9M146 233.2h0.9M139.2 233.6h0.9M138 234.8h0.9M130.4 248.3h0.9M142.6 223.7h0.9M137.3 243.5h0.9M134.3 248.5h0.9M135.9 243.3h0.9M135.8 256.4h0.9M142.2 231.3h0.9M137.3 239.1h0.9M148 229.4h0.9M145.7 228.8h0.9M148.7 224.7h0.9M133.7 246h0.9M139.6 234.9h0.9M144.8 234.1h0.9M132.4 234.9h0.9M140.9 232.1h0.9M139.4 234.5h0.9M138.4 243.2h0.9M139.4 237h0.9M139 235.8h0.9M126.1 251.8h0.9M144.2 236.9h0.9M128.5 242.2h0.9M138.4 246.2h0.9M133.4 231.7h0.9M142.6 239.4h0.9M147.5 229h0.9M143 236.4h0.9M128.3 250.1h0.9M136.7 239.2h0.9M135.5 231.4h0.9M134.3 245.4h0.9M138.7 228h0.9M140 240.9h0.9M140.9 234.1h0.9M138.1 248.4h0.9M129.4 231.5h0.9M139 237.3h0.9M144.2 233.9h0.9M148 225.3h0.9M132 248.5h0.9M147.3 229.7h0.9M143.7 235.5h0.9M145.7 226.7h0.9M150 234.8h0.9M147.8 235.9h0.9M141.8 226.3h0.9M135.6 239.9h0.9M130.5 250.5h0.9M139.4 245.8h0.9M134 239.8h0.9M140.3 228h0.9M134.5 240.1h0.9M129.6 240.4h0.9M141.4 232.4h0.9M139.2 233.4h0.9M139.8 235.7h0.9M142.3 237h0.9M136.3 241.5h0.9M143.8 223.5h0.9M136.4 246.9h0.9M147.6 227.8h0.9M130.4 245.1h0.9M142.8 232.7h0.9M133.4 241.3h0.9M138.6 244.6h0.9M136.3 242.4h0.9M138.6 241.3h0.9M148 224.4h0.9M136.6 247.6h0.9M134 234.2h0.9M142 231.3h0.9M141.5 236.7h0.9M126.2 246.8h0.9M138.9 244.8h0.9" stroke="#8a8a8a" stroke-width="0.9" fill="none" opacity="0.8"/>
<path d="M256.6 110h0.9M270.5 100.7h0.9M264.8 101.5h0.9M266.8 105h0.9M266.9 101.1h0.9M267.4 107.9h0.9M258.9 118.4h0.9M274.1 88.4h0.9M279.8 98.7h0.9M274.8 100.4h0.9M251.4 107.4h0.9M253.4 104.7h0.9M273.7 92.7h0.9M256.9 111.8h0.9M261.3 111.1h0.9M261.5 106.8h0.9M258.8 109h0.9M263.7 104.3h0.9M237.6 118h0.9M254.9 112.3h0.9M243.5 123.9h0.9M263.1 109.2h0.9M269 104.7h0.9M256.8 114.9h0.9M266.1 106.2h0.9M264.7 98.5h0.9M267.7 97.7h0.9M261.7 102.9h0.9M267.2 106.2h0.9M281.5 98.8h0.9M261.6 104.7h0.9M271.6 98h0.9M261.1 109.7h0.9M256.4 113h0.9M261.7 109.8h0.9M283.6 88.5h0.9M240.9 125.6h0.9M267.7 104.1h0.9M257.4 120.2h0.9M251.7 115.5h0.9M248 115h0.9M265.2 106.6h0.9M270.1 109.7h0.9M256.2 111.3h0.9M279.2 96.5h0.9M240.8 115.2h0.9M272.9 100h0.9M252.9 106.2h0.9M261.5 108.4h0.9M267.9 105.7h0.9M263.4 107.4h0.9M257.4 109.1h0.9M243.6 119.8h0.9M260.5 110.3h0.9M263.8 110h0.9M234.3 125.4h0.9M265.4 103.4h0.9M277.9 96.3h0.9M247.6 118.8h0.9M276.7 98.7h0.9M257.7 114.5h0.9M262.7 105.7h0.9M252.6 110.1h0.9M239.3 117.5h0.9M244.1 121.1h0.9M282 97h0.9M255.4 116.7h0.9M283.6 89.5h0.9M254.2 114.2h0.9M258.8 108.3h0.9M270.5 102.4h0.9M252.3 117.8h0.9M274.5 101.7h0.9M277.3 105.6h0.9M275.1 94.5h0.9M262.5 106.4h0.9M268.1 104.8h0.9M250.4 112h0.9M280.6 94.8h0.9M276.2 102.9h0.9M257.6 109.9h0.9M282.6 94.3h0.9M252.4 108.4h0.9M272.7 102h0.9M273.6 99.4h0.9M269.4 97.7h0.9M247.8 114.4h0.9M250.4 119.4h0.9M263.8 107.9h0.9M267.2 106.9h0.9M270.3 99.6h0.9M261.7 108.3h0.9M230.6 128.1h0.9M252.3 113.4h0.9M262.5 104.2h0.9M244.5 126.5h0.9M258.3 106.7h0.9M286.3 82.1h0.9M260.1 104.8h0.9M251.7 108.3h0.9M271.5 103.4h0.9M249.1 112.4h0.9M258.4 108.3h0.9M263.5 106.8h0.9M235.2 113.5h0.9M271.5 105.2h0.9M260.1 103.2h0.9M266.2 111.6h0.9M258.9 111.8h0.9M272 103.5h0.9M259.9 105.7h0.9M246.8 112.1h0.9M266 104.7h0.9M263.9 106.1h0.9M252.4 117.9h0.9M257.3 107.2h0.9M278.7 92.2h0.9M253.5 116.8h0.9M261.9 104h0.9M266.1 109.2h0.9M247.6 111.4h0.9M246.5 117.2h0.9M271.6 105.5h0.9M262.1 106.4h0.9M254.2 108.2h0.9M256.2 107.8h0.9M251.9 112.2h0.9M290.4 92.2h0.9M263.4 108.7h0.9M249.1 108h0.9M254.9 111.3h0.9M264.3 101.1h0.9M248.4 116.8h0.9M250.8 109.6h0.9M260.3 111.9h0.9M249.2 115.9h0.9M254.2 108.2h0.9M269.9 94.8h0.9M261.1 106.8h0.9M256.9 103.5h0.9M259.3 107h0.9M277.9 94.1h0.9M251.6 116.3h0.9M250.5 116h0.9M258.2 114.7h0.9M248.1 115h0.9M272 100.9h0.9M271 99.5h0.9M256.2 113.3h0.9M264.3 104.8h0.9M261.1 96h0.9M262.7 106.6h0.9M242.2 117.8h0.9M278.6 92.8h0.9M256.7 116.7h0.9M248 114.1h0.9M233.5 134h0.9M277.5 90.9h0.9M264.1 107.6h0.9M258.2 112h0.9M270.2 104.2h0.9M253.9 120.9h0.9M269.1 102.2h0.9M268.2 104.1h0.9M254 106h0.9M254 111.2h0.9M256.9 116.2h0.9M252.1 107.8h0.9M276.3 98.4h0.9M275.3 95.3h0.9M269.8 99.3h0.9M251 117.3h0.9M265.5 112.9h0.9M254.7 118.4h0.9M262.3 109.2h0.9M261.9 102.7h0.9M274 95.9h0.9M270 97.7h0.9M272.2 107.1h0.9M262.5 114.5h0.9M283 91.7h0.9M260.8 115.3h0.9M263.2 101.6h0.9M264.2 104.8h0.9M252.6 108.2h0.9M266.8 102.1h0.9M268.2 103.6h0.9M252.5 114.6h0.9M271.3 104.6h0.9M276.2 88.8h0.9M270 107.3h0.9M256.3 109.6h0.9M285 95.2h0.9M274.7 105.8h0.9M268.5 95h0.9M273.7 107h0.9M263.2 109.7h0.9M248.2 113.9h0.9M253.8 104.8h0.9M258.9 109.3h0.9M265.3 111.9h0.9M262.9 107.2h0.9M268.1 100.4h0.9M265.4 107.3h0.9M253.6 115.5h0.9M252.4 108.5h0.9M260.1 103.2h0.9M251.3 115.5h0.9M244 115.8h0.9M252.8 113.6h0.9M260.3 117.9h0.9M283 88.5h0.9M255.4 117.4h0.9M264.8 114.6h0.9M262 104.8h0.9M267.8 100.4h0.9M267 102.1h0.9M266.5 100.3h0.9M260.7 105.2h0.9M263.9 102.1h0.9M253 112.3h0.9M283 89.4h0.9M273.8 106.3h0.9M255.1 114.5h0.9M259.8 102.5h0.9M259.1 99.8h0.9M259.5 101.8h0.9M260 108.5h0.9M261.4 111.6h0.9M246.7 119h0.9M234.3 123.4h0.9M254.4 113.7h0.9M270.7 100.5h0.9M257.3 101h0.9M269.6 97.7h0.9M237.2 117.4h0.9M266 116.3h0.9M269.5 100.5h0.9M250.4 110.8h0.9M253.7 111.1h0.9M258 111.6h0.9M256.6 105.3h0.9M264 110.2h0.9M249.6 117.1h0.9M243.2 117.7h0.9M264.2 107h0.9M256 113.7h0.9M260.7 112.4h0.9M277.1 89.5h0.9M259.2 114h0.9M255.4 112.7h0.9M246.2 121h0.9M270 102.9h0.9M258.4 107.6h0.9M236.9 130.3h0.9M250.9 109.1h0.9M267.1 108.2h0.9M249.5 115.5h0.9M280.3 85.7h0.9M273.3 97.3h0.9M253.7 102.6h0.9M263.8 107.7h0.9M262 105.6h0.9M262.9 119h0.9M281.7 96h0.9M264.7 98.2h0.9M246.2 115.5h0.9M277.4 94h0.9M253.7 111.7h0.9M264.8 105.4h0.9M268 107h0.9M273.4 96.5h0.9M255.4 118.7h0.9M256.9 110.2h0.9M250.7 110.5h0.9M259.2 111.3h0.9M274.9 100h0.9M239.1 120.7h0.9M257.5 114.7h0.9M255.7 112h0.9M264.5 111.6h0.9M241 117.3h0.9M272 97.7h0.9M264.4 103.1h0.9M264.1 108.9h0.9M278.8 90.7h0.9M291.1 83h0.9M262.2 107.2h0.9M259.2 116.2h0.9M250.8 114.1h0.9M239.4 126.4h0.9M266.5 110.5h0.9M269.4 98.1h0.9M251.6 114.3h0.9M262.4 105.9h0.9M268.9 100.1h0.9M251.9 119.4h0.9M259.3 116.7h0.9M261.5 104.1h0.9M261.2 111.8h0.9M266.3 101.9h0.9M274.2 98.5h0.9M265.4 103.9h0.9M241.6 120.1h0.9M268.9 102.2h0.9M260.1 115h0.9M251.9 120.9h0.9M255.4 109.4h0.9M253.4 123.2h0.9M263.2 105.5h0.9M249 112.9h0.9M272.9 105.3h0.9M283.8 99.7h0.9M266.3 109.2h0.9M271.8 105.9h0.9M275.8 93.2h0.9M278.3 93.6h0.9M252.4 117.2h0.9M265.1 106.4h0.9M268 102.8h0.9M269.8 101.2h0.9M258 103.9h0.9M250.4 111.3h0.9M271.5 99.7h0.9M244.8 114.9h0.9M244.1 120.9h0.9M249.2 111.7h0.9M256 109.8h0.9M266 109h0.9M264 104.6h0.9M267 99.5h0.9M277.8 97.7h0.9M276.2 101.8h0.9M246.1 104.3h0.9M264.3 105.7h0.9M263.7 110.6h0.9M252 121.3h0.9M268 96.9h0.9M254.2 107.5h0.9M246.4 118.8h0.9M263.1 100h0.9M265.2 100.3h0.9M270.6 109h0.9M274.3 96.7h0.9M250.9 108.7h0.9M256.6 110h0.9M253.7 110.3h0.9M277.4 91.3h0.9M257.5 102.4h0.9M259.1 106.5h0.9M254.9 108h0.9M270.8 98.1h0.9M261.2 114.1h0.9M254.4 107.1h0.9M284.4 88.2h0.9M266.7 111.4h0.9M262.7 100.7h0.9M258.5 111.1h0.9M248.8 116h0.9M261 104.3h0.9M262.6 105.3h0.9M272.4 92.1h0.9M261.6 104.4h0.9M271.1 94.5h0.9M249.1 121.7h0.9M263.8 106.6h0.9M294 89.5h0.9M253.2 111.8h0.9M277.8 97.3h0.9M267.7 104.9h0.9M261.5 105.9h0.9M272.1 98h0.9M252.1 121.5h0.9M273.9 102.9h0.9M273.5 103.9h0.9M272.2 101.9h0.9M266.2 97.7h0.9M264.5 96.4h0.9M246.6 120.8h0.9M262.3 111.5h0.9M271.3 95.1h0.9M268.1 100.8h0.9M254.5 108.2h0.9M257.9 106.5h0.9M260.8 100h0.9M254.6 111.4h0.9M264.7 107.7h0.9M262.6 108.4h0.9M262.1 109.1h0.9M273.9 99.5h0.9M240.5 116.9h0.9M257.6 111.3h0.9M274.9 91.2h0.9M262.3 104.5h0.9M267.1 104.1h0.9M265.6 106.2h0.9M250 119.6h0.9M263.4 103.4h0.9M256.5 96.4h0.9M260.6 105.2h0.9M263.4 104.9h0.9M252.9 110.6h0.9M278.1 88.5h0.9M243.3 119.6h0.9M242.1 121.9h0.9M266.1 110.5h0.9M253 120.3h0.9M278.4 93.6h0.9M251 114.7h0.9M275.3 105.2h0.9M249 119.2h0.9M252.7 110.7h0.9M277.9 98.5h0.9M279.8 99.7h0.9M245.4 113.2h0.9M242.8 119.3h0.9M276.6 95.1h0.9M258 110.9h0.9M266.6 105.9h0.9M269 107.3h0.9M271.4 98.9h0.9M265.7 106.5h0.9M264.9 99.7h0.9M252.5 109.6h0.9M246.5 117.1h0.9M248.4 113.2h0.9M260.3 105h0.9M273.6 103h0.9M249 119.1h0.9M249.8 112.8h0.9" stroke="#7c7c7c" stroke-width="0.9" fill="none" opacity="0.8"/>
<path d="M245.6 117.8h0.9M245.2 119h0.9M242.2 117.9h0.9M249.8 127.2h0.9M242 111.1h0.9M242.5 111.1h0.9M225.9 128.8h0.9M241.8 116.3h0.9M248.2 118.6h0.9M242.3 114.6h0.9M252.5 117.9h0.9M245.6 104.6h0.9M248.7 121.3h0.9M250.5 122.3h0.9M248.2 121.5h0.9M247.9 119.9h0.9M213 137.9h0.9M234.2 125.7h0.9M257.6 114.5h0.9M238.4 120.3h0.9M245 120.2h0.9M251.7 122.1h0.9M250.7 123.2h0.9M243.9 124.6h0.9M236.1 123.4h0.9M240.4 122.8h0.9M246.4 121.7h0.9M228.5 131.9h0.9M232.9 119.2h0.9M240.2 109.1h0.9M248.3 121h0.9M249.2 124.1h0.9M243.6 133.5h0.9M229.5 112.2h0.9M224.7 135.2h0.9M240.4 120.8h0.9M257 111.9h0.9M246.2 109.9h0.9M228.4 140.6h0.9M239.6 117.8h0.9M235.6 125.1h0.9M243 114.2h0.9M238.1 125.2h0.9M240.6 126.3h0.9M246.5 119.2h0.9M258.3 120h0.9M224.3 137h0.9M243.1 126h0.9M243 104.4h0.9M263.5 113h0.9M222.2 120.1h0.9M249 113.1h0.9M243.6 119h0.9M240.5 112h0.9M241 126h0.9M236.2 122.4h0.9M238.3 125.5h0.9M250.9 107.5h0.9M237 126.3h0.9M216.7 134.5h0.9M244.4 114.9h0.9M238.7 123.6h0.9M232.8 137.8h0.9M244.7 110.2h0.9M227.7 121.5h0.9M245.7 109.2h0.9M237.9 132.2h0.9M250.6 114.3h0.9M229.6 128.4h0.9M240.8 122.2h0.9M232.8 117.5h0.9M238.6 117.8h0.9M230.7 123.5h0.9M245 119.8h0.9M227.6 122.7h0.9M235 132.4h0.9M218.7 133.5h0.9M236.9 117.7h0.9M243 121.9h0.9M230.8 129.1h0.9M254.4 97.3h0.9M247.2 128.2h0.9M233.8 121.6h0.9M232.6 130h0.9M242.8 124.9h0.9M257 107.1h0.9M225.9 128.8h0.9M237 119.5h0.9M246.1 117.5h0.9M242.6 125h0.9" stroke="#aaa" stroke-width="0.9" fill="none" opacity="0.7"/>
<path d="M303.4 74.5h0.9M299.2 84.6h0.9M304.8 90.9h0.9M302.7 76.4h0.9M305.1 82.3h0.9M300.2 79.2h0.9M306.8 86h0.9M299.9 88.8h0.9M297.6 87h0.9M307.9 82.1h0.9M302.6 84.4h0.9M307.1 75.2h0.9M299.8 73.8h0.9M303.4 72.9h0.9M301.5 84.5h0.9M304.2 80.2h0.9M306.5 68.8h0.9M304.3 81.5h0.9M298.9 88.4h0.9M302.5 76.3h0.9M303 83.9h0.9M303 74h0.9M304.7 79.2h0.9M300.1 80.7h0.9M306.9 82.9h0.9M308.3 73.4h0.9M305.9 73.2h0.9M306.7 81.2h0.9M301.8 78.5h0.9M301.7 74.5h0.9M303 76.7h0.9M301.8 77.5h0.9M301.6 86.1h0.9M304.7 79.3h0.9M296.5 81.9h0.9M305.7 66.8h0.9M300.4 77.6h0.9M304.9 76h0.9M302.5 78.8h0.9M303.6 85.3h0.9M305.5 74.6h0.9M308.1 70.5h0.9M306.3 76.7h0.9M308.1 76.9h0.9M302.9 84.7h0.9M305.5 87.9h0.9M307.3 85.9h0.9M301.4 85.4h0.9M299.9 86.8h0.9M304.3 70h0.9M308.6 87.8h0.9M302.7 80h0.9M300.4 79.7h0.9M296 78.4h0.9M301 80.7h0.9M298.4 91.8h0.9M303.8 76.3h0.9M304.2 78h0.9M303.3 75.6h0.9M302.4 67.7h0.9M304 73.5h0.9M307 73.5h0.9M298.2 82.1h0.9M304.5 77.9h0.9M305.5 79h0.9M298.2 81.7h0.9M298 87.4h0.9M300.1 82.9h0.9M303.3 81.2h0.9M298 91h0.9M300.9 79.3h0.9M305 77.5h0.9M303.8 82.4h0.9M307.1 71.2h0.9M303.8 78.5h0.9M307.1 81.9h0.9M304.7 75.5h0.9M302.8 79.1h0.9M307 73.7h0.9M303.2 87.8h0.9M306 76.6h0.9M299.6 88.6h0.9M303.8 81.2h0.9M303 86.1h0.9M307.4 71.9h0.9M303.5 75.9h0.9M294.2 78.2h0.9M302.8 71.6h0.9M302 82.5h0.9M301.8 71.6h0.9M304.2 71.8h0.9M302.1 81.5h0.9M301.5 76.3h0.9M302.5 71.8h0.9M307.3 79.2h0.9M309.8 80.7h0.9M301.1 82h0.9M303.6 81.1h0.9M301 79.4h0.9M300.1 75.5h0.9M302.8 75.4h0.9M298.5 85.6h0.9M306.9 75h0.9M305.5 71.9h0.9M308.3 82.5h0.9M303.1 88.2h0.9M302.1 82.2h0.9M305.6 80.7h0.9M302.7 79.1h0.9M305.5 72.1h0.9M305.1 68.9h0.9M307.1 73.7h0.9M304.4 73.7h0.9M303.8 84.8h0.9M298.7 78.9h0.9M297.9 82.5h0.9M295.9 84.1h0.9M298.6 82.6h0.9M300.9 83.6h0.9M302.4 83.6h0.9" stroke="#6a6a6a" stroke-width="0.9" fill="none" opacity="0.8"/>
<path d="M302.8 71.5h0.9M308 69h0.9M314 58.6h0.9M299.3 73.7h0.9M315.1 56.2h0.9M301.4 74.6h0.9M300 81.1h0.9M311.1 64.8h0.9M309.9 62h0.9M304.6 71.4h0.9M313.6 66.9h0.9M308.5 49.7h0.9M306.5 73.4h0.9M308.3 62.1h0.9M306.1 73.6h0.9M305.8 66h0.9M299.4 79.1h0.9M315.9 55.8h0.9M310.5 57.1h0.9M305.9 71.4h0.9M314.7 61.1h0.9M308.9 56.4h0.9M301.7 74.5h0.9M310.6 70.9h0.9M306.5 59.7h0.9M306.7 78.8h0.9M312.8 50.7h0.9M300 67.4h0.9M312.2 61.9h0.9M300.3 85.1h0.9M301.1 71.6h0.9M303.4 63.1h0.9M314.8 58.6h0.9M317.1 54.8h0.9M310.4 69.9h0.9M308.8 58.7h0.9M309.9 63h0.9M304.6 74.6h0.9M304.7 70.1h0.9M311.5 49.6h0.9M316.3 74.4h0.9M298 76h0.9M310.6 62.9h0.9M309.8 61.4h0.9M308.4 60.3h0.9M305 64.7h0.9M313.7 52.9h0.9M302.2 61.4h0.9M309.8 65.3h0.9M317.8 48.3h0.9M309.6 53.5h0.9M297.4 75.9h0.9M312.6 69.6h0.9M302.2 66.6h0.9M309.4 69.9h0.9M308.6 58.1h0.9M305.2 72.4h0.9M311.7 64.4h0.9M311.8 55.2h0.9M312.1 61.5h0.9M305.4 61.7h0.9M314.4 65.9h0.9M310.9 60.5h0.9M307.9 66.7h0.9M304.4 73.7h0.9M312.2 62.4h0.9M308.9 65.1h0.9M300.3 75.9h0.9M305.5 73.4h0.9M310.7 68.4h0.9M298 75.7h0.9M311 70.8h0.9M310.9 65.8h0.9M309.3 60.9h0.9M313.2 60.2h0.9M312.5 64.2h0.9M305.6 78h0.9M303.2 65.4h0.9M302.7 63.1h0.9M304.5 75.4h0.9M308.6 63.8h0.9M306.5 57h0.9M305.2 77.6h0.9M315.2 56.8h0.9M317.1 58.4h0.9M309.7 55.5h0.9M313.1 62.3h0.9M314.7 61.4h0.9M306.4 64.5h0.9M306.5 58.9h0.9" stroke="#858585" stroke-width="0.9" fill="none" opacity="0.8"/>
<path d="M292 82.5h0.9M270.2 89h0.9M278.1 95.2h0.9M282.1 93.8h0.9M290 88.8h0.9M284.4 75h0.9M281.9 96.9h0.9M307.4 77.2h0.9M289.4 80.5h0.9M311.2 82.7h0.9M299 80.2h0.9M284.2 75.2h0.9M294.2 78.5h0.9M297.3 80.4h0.9M281.5 78.9h0.9M288.6 102.8h0.9M280.8 79.2h0.9M300.5 88.5h0.9M301.2 83.7h0.9M274.7 83.4h0.9M290.7 92.2h0.9M286.3 89.1h0.9M293.5 96.2h0.9M284.7 87.6h0.9M297.9 76.3h0.9" stroke="#aaa" stroke-width="0.9" fill="none" opacity="0.8"/>
<path d="M471 77.7h0.9M472.1 68.2h0.9M467.3 77h0.9M471.9 71.9h0.9M466.8 77.6h0.9M469 64.3h0.9M467 95h0.9M466.6 77.5h0.9M472.8 76.9h0.9M469.9 78h0.9M470.5 77h0.9M478 74.1h0.9M479.2 56.6h0.9M477.7 72.3h0.9M468.5 86.6h0.9M465.1 81.9h0.9M469.1 76h0.9M470.2 70.8h0.9M468.5 79.3h0.9M472.6 74.9h0.9M466.3 82.4h0.9M466.2 85.1h0.9M468.7 77.1h0.9M473.9 65h0.9M466 83.8h0.9M469.1 83.1h0.9M478.9 71.6h0.9M472.3 72.3h0.9M474.2 77.5h0.9M481.2 63.3h0.9M469.6 76.6h0.9M471.8 73.3h0.9M474.4 73.7h0.9M471.5 65.7h0.9M490.9 51.5h0.9M472.5 83.5h0.9M476.8 64h0.9M471.3 70.6h0.9M462.1 86.2h0.9M467.3 74.8h0.9M471.7 77.2h0.9M465.5 73.7h0.9M469.3 85.2h0.9M471.8 69.9h0.9M472.5 78.7h0.9M467.4 79.5h0.9M471.2 77.3h0.9M476.4 70.8h0.9" stroke="#808080" stroke-width="0.9" fill="none" opacity="0.8"/>
<path d="M480.7 68.8h1M389.8 125.7h1M458.9 79.1h1M429.2 116.8h1M435.9 106.3h1M453.4 88.2h1M461.3 82.9h1M482.6 55.8h1M441.4 100.4h1M424.9 103.8h1M419.5 121.5h1M432.7 107.6h1M416.7 118.1h1M442.4 104.7h1M469.1 83.9h1M426.8 108.2h1M438.8 89.6h1M462 85.4h1M445.9 93.8h1M412.2 109.2h1M445.8 93.9h1M464.4 77.7h1M452.7 93.6h1M444.1 88.1h1M438.1 98h1M454.5 95.3h1M431.1 100.3h1M426.1 108.5h1M470.4 65.5h1M418.6 118.5h1M438.5 94.2h1M421.1 107.7h1M418.4 120.4h1M465.8 75.7h1" stroke="#c4c4c4" stroke-width="1" fill="none" opacity="0.8"/>
<path d="M253.7 273.1h0.9M247.6 287.1h0.9M241.6 282.1h0.9M231.9 289h0.9M260.5 287.9h0.9M240.8 282.2h0.9M253.8 284.6h0.9M243.7 291.3h0.9M265.3 272.7h0.9M272.6 253.8h0.9M268.9 262h0.9M251.7 272h0.9M259 267.9h0.9M257.9 269h0.9M268.3 277.4h0.9M233.1 286.3h0.9M269.5 257.4h0.9M239.1 276.2h0.9M240.4 298.4h0.9M238.2 294.5h0.9M259.7 271.4h0.9M251.1 281.4h0.9M243.7 274.6h0.9M255.5 285.3h0.9M271.1 275.6h0.9M260 274.9h0.9M266.9 259.6h0.9M253.1 280.4h0.9M267.3 277.8h0.9M258 281.4h0.9M264.7 264.6h0.9M251.3 296.1h0.9M267.7 273.9h0.9M286.9 270.4h0.9M251.5 280.2h0.9M250.2 271.1h0.9M238.1 280.4h0.9M254.3 283.1h0.9M251.1 283.1h0.9M245.6 275h0.9M267.2 284.9h0.9M255.5 285.9h0.9M256.8 278.4h0.9M267.9 273.7h0.9M243 276.4h0.9M267.9 271h0.9M240.8 284.1h0.9M237.4 293.9h0.9M244.9 277.8h0.9M247.6 289.5h0.9M255 286.4h0.9M267.8 266.2h0.9M239.7 285.3h0.9M230.5 283.4h0.9M258.5 274.7h0.9M272.6 266.3h0.9M243 297.9h0.9M253.8 284.8h0.9M245.9 264.5h0.9M222.7 282.3h0.9M262.9 281.6h0.9M250.1 265.3h0.9M251.8 284.8h0.9M256.9 282.6h0.9M232.8 295.9h0.9M243.3 272.4h0.9M254.3 276.1h0.9M231.9 269.5h0.9M244 282.8h0.9M257.4 275.4h0.9M270.6 264.1h0.9M278 286.7h0.9M263.8 269.6h0.9M251.7 268.9h0.9M252.5 287.2h0.9M237.7 283.6h0.9M243.8 269.6h0.9M239.5 290.6h0.9M241.4 276.4h0.9M247.3 277.6h0.9M254.2 282.4h0.9M249.4 276.5h0.9M264.1 288.7h0.9M253.7 270.2h0.9M240.6 284.5h0.9M235.7 289.7h0.9M257.8 285.8h0.9M227 281.2h0.9M233.4 270.1h0.9M237.5 287.3h0.9M251.5 276.9h0.9M248.5 278.5h0.9M253.3 277h0.9M259.6 272.4h0.9M241.8 270.4h0.9M252.4 267.9h0.9M259.9 274.8h0.9M269.7 284.8h0.9M222.8 292.1h0.9M242 286.7h0.9M262.4 272.7h0.9M262.6 268h0.9M235.5 291.9h0.9M244.3 275.2h0.9M245 274h0.9M248.8 285h0.9M256 271h0.9M265.8 285.2h0.9M263.3 276.2h0.9M274.6 275.8h0.9M267.9 273h0.9M258.5 270.8h0.9M260.3 274.3h0.9M256.8 262.9h0.9M246.6 274.8h0.9M243.2 285.8h0.9M253.2 290.2h0.9M256.9 273.7h0.9M248.9 278.3h0.9M257 295.1h0.9M248.9 285.3h0.9M248.6 288.4h0.9M246.4 289.7h0.9M240.4 277.3h0.9M236.1 282.5h0.9M249.8 281.3h0.9M268.9 269.2h0.9M251.3 280.4h0.9M269.6 269.7h0.9M260.8 289.7h0.9M246.1 280.9h0.9M259.2 289.4h0.9M269.1 268.3h0.9M270.6 276.5h0.9M252.5 292.6h0.9M258.4 279.7h0.9M266.1 269.9h0.9M260.5 281.1h0.9M243.6 277h0.9M235.7 281.5h0.9M240.6 280.2h0.9M235.4 292.4h0.9M235.3 289.4h0.9M248.5 276.8h0.9M242.8 275.2h0.9M263.6 263.4h0.9M255.3 280.3h0.9M275.4 282.1h0.9M260.2 279.7h0.9M260 269.7h0.9M264.6 264h0.9M245.9 266.5h0.9M246.9 287.5h0.9M242.6 276.3h0.9M249 269.3h0.9M279.1 253.3h0.9M258.3 287.2h0.9M242.3 286.6h0.9M251.7 267.3h0.9M257.8 267.8h0.9M245.7 277.2h0.9M256.1 270.8h0.9M237.8 287.2h0.9M248.3 275.4h0.9M263.1 261.7h0.9M248.8 281.9h0.9M238 283.4h0.9M230.1 282.7h0.9M238.7 292.5h0.9M267.9 276.9h0.9M252.2 285.5h0.9M279.5 267.4h0.9M268.3 278.5h0.9M269.5 263.9h0.9M217.7 293.6h0.9M257.2 271.4h0.9M263.1 268.5h0.9M253.9 278h0.9M254.9 283.1h0.9M237.8 279.6h0.9M237.3 286h0.9M255.2 276.2h0.9M250 273.6h0.9M257.4 289.6h0.9M262.4 292.3h0.9M248.8 277.9h0.9M249.1 282.4h0.9M223.6 275.5h0.9M265.8 267.1h0.9M265.8 264.7h0.9M251.7 273h0.9M268.1 262.2h0.9M253.2 278.4h0.9M246.9 275.5h0.9M250.7 284.2h0.9M247.2 276.3h0.9M253 269.7h0.9M256.4 265.6h0.9M260.4 286.7h0.9M249.9 280.8h0.9M254.5 277.5h0.9M249.7 283.6h0.9M237.2 290.9h0.9M245.1 278.5h0.9M261.3 285.2h0.9M252.1 276.9h0.9M258.9 262.5h0.9M246.6 280.8h0.9M265.5 276.4h0.9M259.8 290.6h0.9M251.2 272.4h0.9M271.8 280.3h0.9M243.5 288.9h0.9M238.3 275.8h0.9M275 287h0.9M265.1 275.4h0.9M256.6 269.4h0.9M250 291.2h0.9M217 282.4h0.9M243.5 289h0.9M233.3 286h0.9M253.4 266.6h0.9M245 286.2h0.9M239.8 305.5h0.9M258.6 272.4h0.9M247.4 289.6h0.9M255.7 278.4h0.9M259 280.9h0.9M264.2 281h0.9M267.2 265.9h0.9M239 272.5h0.9M232.3 281.1h0.9M249.8 271.5h0.9M240.4 283.5h0.9M246.2 290.8h0.9M241.8 279.7h0.9M270.9 278.7h0.9M261.1 274.2h0.9M243.2 281.8h0.9M261 264.2h0.9M269.5 269.3h0.9M261.5 277.2h0.9M253.1 276.5h0.9M261.9 280h0.9M248 277.4h0.9M248.8 289.6h0.9M256.8 289.5h0.9M248.3 281.3h0.9M248 275.5h0.9M257.4 271.1h0.9M262.9 277.1h0.9M242.1 279.4h0.9M265.5 269.4h0.9M239.1 283.7h0.9M250.6 286h0.9M249.1 270.3h0.9M246.7 281.4h0.9M266.3 277h0.9M238.2 302.8h0.9M281.1 273.3h0.9M236.1 277.7h0.9M260.4 277h0.9M269.9 279.2h0.9M235.7 285.6h0.9M254.4 280.8h0.9M258.6 271.4h0.9M243.4 296.9h0.9M241.6 283.7h0.9M254.8 276.4h0.9M240.1 288h0.9M247 271.8h0.9M247.2 284.2h0.9M253.8 280.3h0.9M246.8 294.4h0.9M229 293.1h0.9M246.7 291.9h0.9M250.3 274h0.9M249.4 275h0.9M256.4 282h0.9M237.2 280.9h0.9M231.4 295.9h0.9M247.5 270.1h0.9M252.7 284.2h0.9M254.8 280.9h0.9M238.8 289.9h0.9M247 271.5h0.9M239.6 282h0.9M268.1 256.9h0.9M232.5 286.3h0.9M262.2 272.4h0.9M243.3 293.6h0.9M254.7 286.3h0.9M255.1 284.6h0.9M258.8 274.1h0.9M263.5 277.6h0.9M248.2 268.9h0.9M239.3 282.3h0.9M248.6 272h0.9M253.2 283.6h0.9M244.9 283.2h0.9M243.3 268h0.9M266.5 271.4h0.9M253.2 279.5h0.9M252.4 299h0.9M263.4 267.2h0.9M275.6 272.5h0.9M269.7 270.6h0.9M249.9 275.4h0.9M246.9 271.7h0.9M260 282.4h0.9M248.3 277.8h0.9M229.3 287.9h0.9M265.7 274.2h0.9M240 287.1h0.9M242.4 291.7h0.9M242.3 271.7h0.9M265.7 272.6h0.9M252.3 284.4h0.9M267.9 279.2h0.9M256.3 271.9h0.9M266.4 280.6h0.9M237.5 276.1h0.9M233.1 284.1h0.9M240.4 285.6h0.9M274.7 270.5h0.9M240 288.6h0.9M276 280.2h0.9M255.3 286.9h0.9M241.4 289.9h0.9M252.2 296.6h0.9M271.2 285.2h0.9M249.4 282.9h0.9M242.8 280.3h0.9M265.9 276.6h0.9M244.7 279.5h0.9M243.5 277.2h0.9M260.5 266.9h0.9M262.1 276h0.9M255.8 280.7h0.9M245.4 281.3h0.9M250.5 289.5h0.9M280.3 264.9h0.9M240 289.1h0.9M229.2 290.8h0.9M250.6 275.7h0.9M239.3 270.1h0.9M266.2 279.1h0.9M249.8 288.3h0.9M258.1 274.7h0.9M254 284.8h0.9M247.6 284.6h0.9M249.6 268.1h0.9M244.3 284.4h0.9M280.4 276.4h0.9M259.6 266.8h0.9M253.7 274.2h0.9M252.9 262.2h0.9M254 294h0.9M253.9 278h0.9M259.3 279.8h0.9M264.3 271.1h0.9M254.5 269.8h0.9M262.6 283h0.9M274.8 272.4h0.9M254.9 273.7h0.9M244.5 290.9h0.9M255.6 276.8h0.9M256.2 282.5h0.9M260.2 268.7h0.9M229.5 287.2h0.9M270.3 274.3h0.9M235.6 281.6h0.9M265.9 268.8h0.9M263.8 281.6h0.9M240.2 280.2h0.9M245 281.2h0.9M250.3 286.2h0.9M257 282.7h0.9M234.3 276.3h0.9M247.2 281h0.9M263.3 277.8h0.9M261.8 293.5h0.9M251.3 281h0.9M258.3 270.6h0.9M236.6 277.8h0.9M239.5 286h0.9M242.5 270.6h0.9M255.3 278.3h0.9M240.7 278.2h0.9M248.9 273.4h0.9M255.9 278.2h0.9M253.4 268.2h0.9M253.2 262.4h0.9M247.3 281.4h0.9M270.5 275.8h0.9M258.9 283.2h0.9M249.5 282.1h0.9M268.4 276.1h0.9M250.1 285.7h0.9M237.2 282.8h0.9M256.2 277.5h0.9M232.5 287.2h0.9M246.2 284.4h0.9M254.4 281.6h0.9M254.9 272.1h0.9M262.7 276.8h0.9M260.8 284h0.9M257.4 279.7h0.9M247.6 289.3h0.9M260.9 283.5h0.9M249.3 284.8h0.9M246.3 276.7h0.9M241.1 274.8h0.9M263.7 263.7h0.9M263.3 265.1h0.9M231 296.8h0.9M246.6 279.8h0.9M237.7 282h0.9M249.4 277.4h0.9M266.2 271.4h0.9M257.1 286.9h0.9M269 282.8h0.9M247.2 291.7h0.9M268.3 267h0.9M278.5 272.6h0.9M250.3 273.7h0.9M220.8 299.8h0.9M230.7 281h0.9M237 284h0.9M262.7 275.2h0.9M251 280.9h0.9M238.3 283.5h0.9M265.7 286.3h0.9M247.7 284.4h0.9M230.3 283.5h0.9M229.4 292.2h0.9M262.1 277.2h0.9M257.7 270.6h0.9M245.9 293.3h0.9M234.7 279h0.9M250.1 286.8h0.9M267.7 251.8h0.9M256 277.7h0.9M246.3 283.4h0.9M240.8 276.9h0.9M256.8 272.9h0.9M263.6 274.4h0.9M244.1 295.2h0.9M247.5 284.2h0.9M247.9 272h0.9M252.5 281.7h0.9M253.7 279.5h0.9M248.1 277.8h0.9M265 257.9h0.9M250.9 290.5h0.9M265.5 277.2h0.9M246.1 281.1h0.9M273.6 265.7h0.9M248.6 282.7h0.9M249.6 278.5h0.9M265.3 274.3h0.9M240.1 279.7h0.9M265.7 279.9h0.9M250.5 280.7h0.9M248.6 276.1h0.9M243.9 288.5h0.9M255.5 273.3h0.9M249.9 290.8h0.9M249 271.5h0.9M247.7 277h0.9M247.6 266.7h0.9M246 273.9h0.9M268.6 279h0.9M240.3 289.5h0.9M249.6 275.7h0.9M267 277.1h0.9M255.8 267.7h0.9M260.1 267.4h0.9M237.4 279.2h0.9M274.8 282.1h0.9M252.9 293.5h0.9M252.9 280.2h0.9M256.1 303.4h0.9M261.4 275.5h0.9M254.5 262.6h0.9M233.9 290.1h0.9M225.9 292.4h0.9M266.5 285.1h0.9M241.6 274.6h0.9M263.6 279.8h0.9M253.6 276.4h0.9M253.2 280.9h0.9M252.8 285.9h0.9M236.8 286.4h0.9M241.5 277.3h0.9M261.6 282.3h0.9M257.7 274.8h0.9M269.6 277h0.9M251.3 284.2h0.9M240.7 266.6h0.9M254.4 275.9h0.9M227.7 298.2h0.9M265.9 274h0.9M243.6 273.1h0.9M248.1 275h0.9M247.8 268.9h0.9M239.2 284.7h0.9M253.3 269.7h0.9M236.4 277.1h0.9M225 303.2h0.9M260.5 276.8h0.9M277.4 264.1h0.9M266 286.5h0.9M255.1 269.6h0.9M254.9 285.1h0.9M279.7 272h0.9M270.7 271.5h0.9M246 282.1h0.9M245 269.9h0.9M239.6 285.4h0.9M245.9 268.1h0.9M230.2 284h0.9M241.6 279.1h0.9M250.3 276.9h0.9M234.2 295.2h0.9M242 281.7h0.9M256.8 268.1h0.9M265.2 278.4h0.9M234.5 275.1h0.9M255 290.9h0.9M248.5 279.5h0.9M247.7 276.2h0.9M247.9 277.9h0.9M241.7 287.5h0.9M270.1 281.2h0.9M252 279.1h0.9M241.7 284.1h0.9M252.5 276.2h0.9M265.3 283.5h0.9M255.7 271.8h0.9M278 271h0.9M240.4 284.6h0.9M243.8 280.7h0.9M238.5 283.5h0.9M230.7 277.2h0.9M262.9 268h0.9M250.2 273.8h0.9M253.6 285h0.9M265 275.6h0.9M248.4 284.1h0.9M240.6 295.7h0.9M247.7 276.5h0.9M241.6 282.9h0.9M231.2 279.5h0.9M269.3 264.3h0.9M260.1 285.1h0.9M257.6 273.5h0.9M275.9 277.2h0.9M248.4 271.5h0.9M255.8 268.5h0.9M247.5 282.1h0.9M236.4 300.7h0.9M252.3 262.2h0.9M263.3 265.2h0.9M251.7 289.8h0.9M253.2 286.9h0.9M239.7 300.8h0.9M235.8 281.3h0.9M266 265.2h0.9M246.5 283.6h0.9M250 295.1h0.9M248.1 278.9h0.9M243.9 292h0.9M243.5 295.6h0.9M236.5 292.5h0.9M253.9 279.2h0.9M245.1 282.5h0.9M246.8 283.4h0.9M252.4 263.3h0.9M268.6 259h0.9M243.8 280.1h0.9M228.1 272h0.9M238.1 286h0.9M254.1 257.9h0.9M242.6 288.9h0.9M261.3 283.8h0.9M268.5 270.5h0.9M255.1 285.8h0.9M250.2 281h0.9M257.6 279h0.9M267.7 262.9h0.9M245.7 284.3h0.9M249.1 274.2h0.9M240.9 273.1h0.9M254.5 290.1h0.9M234.6 278.9h0.9M268 268.5h0.9M261.2 278.4h0.9M249.3 265.3h0.9M259 270.2h0.9M261.9 282.3h0.9M264.6 268.8h0.9M253 293.7h0.9M243.4 269.2h0.9M242.8 269.4h0.9M259.2 286.1h0.9M236.8 286.9h0.9M286.2 264.2h0.9M233.6 268.7h0.9M243 266.2h0.9M266.8 268.1h0.9M241.4 270.3h0.9M266.6 282.5h0.9M269.2 277.9h0.9M233.7 297.3h0.9M249.4 297.8h0.9M250.6 270h0.9M243.2 291.7h0.9M268.8 275.4h0.9M260.7 262.3h0.9M262 276.6h0.9M244 279.6h0.9M243.4 278.4h0.9M253.3 265.8h0.9M235.7 297.5h0.9M244.1 287.8h0.9M261.4 275.4h0.9M253.5 280.1h0.9M238.4 293.5h0.9M255 273.9h0.9M262.4 277.7h0.9M242.3 275.3h0.9M236.9 300.4h0.9M236.5 281.1h0.9M257 289.3h0.9M246.1 277.6h0.9M230.7 282.1h0.9M251.9 295.9h0.9M248.7 284.7h0.9M262.3 284.7h0.9M230.7 281.6h0.9M238.9 283.2h0.9M259.9 265.7h0.9M233.4 286.2h0.9M224.1 290.9h0.9M234.2 286.8h0.9M249.7 291.8h0.9M244.3 288.5h0.9M246.4 274.3h0.9M242.9 272.4h0.9M240.5 291.7h0.9M258.6 270.3h0.9M237 280.2h0.9M269 282.6h0.9M243.6 292.8h0.9M253.4 286.2h0.9M258 260.9h0.9M243.3 277h0.9M260.5 279.6h0.9M263.2 272.1h0.9M233.1 286.2h0.9M235.6 278.6h0.9M249.2 279.1h0.9M225.6 273.7h0.9M250.7 281.6h0.9M251 272h0.9M249.8 281.9h0.9M246.7 288.4h0.9M252.6 278.6h0.9M245.7 281.9h0.9M248.2 276.8h0.9M241.7 284.1h0.9M260.3 257.7h0.9M267.1 272h0.9M255.8 269h0.9M251.5 283.3h0.9M261.4 280.9h0.9M255.2 277.4h0.9M248.5 281.8h0.9M266.8 274.8h0.9M267.2 262.2h0.9M229 303.4h0.9M252.3 263.7h0.9M251 271.7h0.9M255.6 275.9h0.9M246.6 287.8h0.9M258.3 279.3h0.9M249.1 284.3h0.9M234.1 288.5h0.9M249.1 280.8h0.9M271.6 262.4h0.9M252.7 283.7h0.9M246.4 280.5h0.9M242.4 292.5h0.9M267 274.2h0.9M251 266.6h0.9M249 284.7h0.9M266.3 264.6h0.9M248 271.1h0.9M265.6 287.2h0.9M246.1 281.8h0.9M267.1 260.5h0.9M231.3 274.8h0.9M263.4 270.7h0.9M245.9 279h0.9M237.4 285h0.9M259.5 278.4h0.9M237.4 280.1h0.9M245.6 284h0.9M264.8 287h0.9M258.4 266.3h0.9M272.9 266.3h0.9M244.1 273.5h0.9M252.5 275.8h0.9M216.9 290.2h0.9M251.6 281.6h0.9M242.1 302.7h0.9M243.5 278.3h0.9M256.5 292.9h0.9M255.3 275.1h0.9M253.8 273.9h0.9M260.9 278.8h0.9M235.1 277.3h0.9M229.8 297.6h0.9M269.4 272.9h0.9M243.6 272.3h0.9M256.2 272.3h0.9M238.6 278.7h0.9M248.8 290.5h0.9M252.4 293.5h0.9M245.8 279.8h0.9M254.2 271.9h0.9M246.4 279.5h0.9M244.7 276.3h0.9M245.9 270.5h0.9M248.3 279.7h0.9M244.5 277h0.9M270 278.3h0.9M249.3 271.9h0.9M272.1 264.1h0.9M253.8 278.7h0.9M242.1 285.8h0.9M233.4 277.2h0.9M255.3 287.4h0.9M240.6 288.8h0.9M245.5 279.7h0.9M246.2 292.5h0.9M265.7 272.7h0.9M260.8 289.9h0.9M247.1 277.2h0.9M244.2 279.3h0.9M233.1 272.6h0.9M247.7 292.2h0.9M250.1 280.4h0.9M265.8 272h0.9M251.3 265.9h0.9M248.3 284.9h0.9M249.2 273.7h0.9M265.3 289.3h0.9M232.8 282.6h0.9M254 283.5h0.9M244.3 288.2h0.9M238.1 278.8h0.9M259.7 276.2h0.9M257.3 277.2h0.9M259.9 276.7h0.9M239.5 283.8h0.9M249.7 273.6h0.9M259.1 275.1h0.9M244.8 288.7h0.9M255.5 284.3h0.9M247.9 281.1h0.9M266.2 268.7h0.9M240.7 275.7h0.9M239.4 282.8h0.9M262.1 288.8h0.9M238.9 280.4h0.9M268.8 294.7h0.9M260.2 272.9h0.9M254.9 272.1h0.9M258 275.5h0.9M247.2 284.7h0.9M260.9 270h0.9M248.4 271h0.9M259.1 274.8h0.9M240.9 286.7h0.9M251 284.8h0.9M225 301.8h0.9M228.9 298.5h0.9M262.9 254h0.9M256.4 279.4h0.9M233.1 284.7h0.9M239.2 280h0.9M238.8 283.1h0.9M273.6 269.4h0.9M248.2 274.5h0.9M239 281.8h0.9M260.6 275.5h0.9M252.5 268.3h0.9M260.3 264.6h0.9M254.6 280.8h0.9M251.1 268h0.9M243.9 272.9h0.9M248.9 268.6h0.9M243.5 290.4h0.9M248.4 301.1h0.9M246.9 272.7h0.9M256.4 272.5h0.9M281.3 271.3h0.9M259.7 288.9h0.9M252.3 280.6h0.9M266.4 284.9h0.9M234.6 287.4h0.9M240.3 275.8h0.9M267.4 269.1h0.9M249.8 279.8h0.9M257.8 281.6h0.9M251.4 287.9h0.9M255.1 275.1h0.9M271.6 261.1h0.9M243.9 289.3h0.9M256 279h0.9M245.5 283.6h0.9M256.9 280h0.9M251.9 277.2h0.9M270.9 277.5h0.9M258.3 271h0.9M237.3 283.6h0.9M255.2 275.3h0.9M267.5 289.9h0.9M252.5 278h0.9M253.1 285.7h0.9M231.8 289.7h0.9M250 276.9h0.9M260.6 285.1h0.9M258.3 263.1h0.9M245.6 278.4h0.9M234.6 279.7h0.9M247.4 275.9h0.9M252.2 273.6h0.9M249.7 277.1h0.9M236.2 295.7h0.9M247.1 278.7h0.9M244.6 278.2h0.9M235.9 291.2h0.9M243.5 272.3h0.9M234.5 280.2h0.9M244.5 282.7h0.9M260.6 277.1h0.9M258.2 268.2h0.9M249.3 261.9h0.9M250.1 267.3h0.9M237.2 297.8h0.9M244.7 290.8h0.9M253.5 282h0.9M266.3 261.8h0.9M248.4 272.2h0.9M239.5 292h0.9M240.8 283.5h0.9M250 286.4h0.9M267.7 277.7h0.9M259.9 272.8h0.9M252.9 280.5h0.9M246.3 282.9h0.9M231.8 273.4h0.9M253.4 296.1h0.9M242.4 281.7h0.9M242.1 284.4h0.9M247.4 277h0.9M247.7 272.1h0.9M239 275.6h0.9M270.8 268.3h0.9M242.4 277.3h0.9M246.5 287.2h0.9M233.4 290.4h0.9M253.2 284.8h0.9M273.4 261h0.9M245.6 280.4h0.9M260.4 281h0.9M260.6 268.8h0.9M265.8 264.2h0.9M262.9 268.3h0.9M242 292.1h0.9M251.1 266.7h0.9M259.2 262h0.9M253.1 264.5h0.9M244.7 279h0.9M247.3 280.2h0.9M253.6 289.9h0.9M234.5 286.9h0.9M253 281h0.9M264.2 255.3h0.9M259.9 279.9h0.9M250.9 265.8h0.9M252.6 297.4h0.9M236.5 283.4h0.9M252.2 287.4h0.9M255.7 276.5h0.9M241.4 283.3h0.9M256.1 284h0.9M255.4 282.8h0.9M269.6 271h0.9M256.7 283h0.9M267.3 263.6h0.9M259.4 278.8h0.9M239 287.5h0.9M257.5 283.5h0.9M257.7 276h0.9M245.8 283.9h0.9M251 271.4h0.9M266.9 255.4h0.9M241.7 290.2h0.9M246.5 280h0.9M259.5 275.7h0.9M244.7 284.6h0.9M241.7 278.3h0.9M262.7 267.9h0.9M253.2 278.4h0.9M246.6 293.8h0.9M250.4 281.2h0.9M243.4 267h0.9M251.7 277.2h0.9M254.4 273.7h0.9M243.6 294.8h0.9M266.7 274.1h0.9M248.7 299.2h0.9M260.6 274.6h0.9M262 271.7h0.9M244.7 276.4h0.9M247.1 276.7h0.9M255.9 268.6h0.9M256.6 263.2h0.9M253.5 273.3h0.9M231 284.7h0.9M251 290h0.9M263.7 274.3h0.9M232.5 283.4h0.9M239.2 288.4h0.9M261.3 283.1h0.9M241.4 277.5h0.9M251.6 288.7h0.9M247.6 281.7h0.9M239.8 273.1h0.9M257.3 279.3h0.9M266.5 269.8h0.9M246 292.4h0.9M243.8 264.3h0.9M245.3 285.5h0.9M265.4 284.1h0.9M254.6 288.8h0.9M280.3 264.5h0.9M251.3 269.6h0.9M254.6 277.9h0.9M270.4 276.2h0.9M252.5 290.4h0.9M240.9 274.5h0.9M257.1 283.7h0.9M248.3 286.5h0.9M234.2 293.5h0.9M246.5 286.9h0.9M248.8 281h0.9M261.4 274.6h0.9M248.3 284.9h0.9M230.3 281.3h0.9M235.3 284.3h0.9M273 276.8h0.9M253 277h0.9M264.2 268.2h0.9M277.9 251.5h0.9M248.6 300.4h0.9M247 279.2h0.9M230.9 292.4h0.9M249.5 291.2h0.9M243.4 282.3h0.9M264 267.1h0.9M248.5 279.8h0.9M241.6 280.2h0.9M278.7 264.8h0.9M232.5 293.9h0.9M263.1 267.6h0.9M255.5 275h0.9M252.7 296h0.9M244.4 286.8h0.9M246.3 275.1h0.9M251.5 280.2h0.9M252.5 278.1h0.9M257.9 283.4h0.9M252.9 275.9h0.9M244.5 273.4h0.9M257.2 271.3h0.9M257.7 285.7h0.9M227.5 283.8h0.9M247.9 287.8h0.9M267 263.4h0.9M255.6 268h0.9M272.3 261.7h0.9M250.6 288.3h0.9M246.3 296.2h0.9M257.9 277.8h0.9M251.6 289.8h0.9M248.1 278.2h0.9M225.8 264.2h0.9M251.4 281.2h0.9M256.3 264.8h0.9M248.6 274h0.9M260.3 287.9h0.9M250.5 277.5h0.9M270.8 281h0.9M258.6 264.8h0.9M250 288.5h0.9M240.6 288.8h0.9M251.5 279.9h0.9M250.8 278.1h0.9M254.7 273.5h0.9M238.7 285.6h0.9M269 272.7h0.9M274 274.9h0.9M241.4 290.1h0.9M257.5 290.9h0.9M244.1 281.4h0.9M251.5 289.2h0.9M276 274.2h0.9M256.5 281.7h0.9M250.6 274.8h0.9M265 274.8h0.9M226 284.1h0.9M276.5 279.6h0.9M275.2 265.1h0.9M257.7 279.6h0.9M228.4 290.4h0.9M251.1 284.1h0.9M272.7 272.7h0.9M238.3 266h0.9M234.1 289.6h0.9M258 288.8h0.9M234 297.5h0.9M252.5 283.1h0.9M251.9 288.3h0.9M245 280.1h0.9M267.8 276.9h0.9M249.3 267.1h0.9M268.4 273.4h0.9M252.8 276.2h0.9M245.6 283.1h0.9M249.2 282.9h0.9M248.5 283.5h0.9M235 297h0.9M256.6 274.2h0.9M252.8 271.1h0.9M262 279.8h0.9M245 278.2h0.9M261.9 281.6h0.9M242.1 285.4h0.9M245.6 274.2h0.9M255.1 291.1h0.9M240.3 272.5h0.9M255.1 281.7h0.9M259.9 256.4h0.9M266.2 265h0.9M245.2 280.7h0.9M270.4 279.9h0.9M234.1 306.8h0.9M250 271.2h0.9M245.5 283.5h0.9M242.7 270.5h0.9M258.2 272.4h0.9M264.8 273.2h0.9M259.6 279.7h0.9M239.3 274h0.9M241.1 278.8h0.9M261.1 276.3h0.9M249.9 280.4h0.9M244.3 278.4h0.9M256.3 292.9h0.9M228.3 276.7h0.9M259.8 271.2h0.9M238.6 274.4h0.9M254.1 283.4h0.9M275.5 279h0.9M282.9 280.1h0.9M231.7 298.4h0.9M256 278.6h0.9M236 285.9h0.9M237.9 279.1h0.9M249.7 277.9h0.9M251.9 264.3h0.9M250.9 265.8h0.9M246.2 285.6h0.9M242.9 266.4h0.9M278.8 265.1h0.9M255.8 272.7h0.9M228.9 285.5h0.9M256 275h0.9M238.4 290.9h0.9M252.2 288.3h0.9M263.5 262.2h0.9M256.9 282.6h0.9M237.5 284.6h0.9M272.1 270.2h0.9M241.3 275.6h0.9M249.1 278.5h0.9M270.5 277.4h0.9M265 271h0.9M274.4 289.3h0.9M241.6 276.2h0.9M232.4 271.6h0.9M246.5 279.5h0.9M260.4 274.8h0.9M259.3 265.8h0.9M268.9 277.4h0.9M261.2 278.4h0.9M235.3 282.8h0.9M253.1 286.9h0.9M272.4 287.5h0.9M229.6 283.4h0.9M239.8 290.5h0.9M254.1 286.3h0.9M245 271.1h0.9M250.7 279.9h0.9M259.1 263.8h0.9M256.3 273.5h0.9M259.1 278.3h0.9M246.7 266.3h0.9M274.2 287.1h0.9M263.3 261h0.9M272.6 266.3h0.9M250.1 268.9h0.9M259.2 280.3h0.9M241.2 291h0.9M245.3 284.1h0.9M234.8 273.3h0.9M269.6 259.7h0.9M267.4 273.9h0.9M236.6 295.5h0.9M259.5 261.5h0.9M241.7 275.4h0.9M245.6 285.4h0.9M257.5 276.4h0.9M227.7 280.4h0.9M242.2 303.6h0.9M264.1 264.2h0.9M260.3 282.9h0.9M248.4 278.4h0.9M255.4 267.6h0.9M263.1 287.5h0.9M234.5 277h0.9M248.7 263.3h0.9M253.6 285.4h0.9M253.7 280.4h0.9M242.7 284.5h0.9M238.6 279.9h0.9M269.1 259.4h0.9M252 279.1h0.9M253.1 273.9h0.9M273 267.7h0.9M253.3 272.2h0.9M263.7 282.4h0.9M233.8 286.5h0.9M253.2 264.8h0.9M268.1 262.5h0.9M252 269.8h0.9M242.1 288.8h0.9M232.6 295.4h0.9M254.3 274.6h0.9M233.1 295.6h0.9M252.5 290.4h0.9M240.5 277.1h0.9M240.9 283.2h0.9M266.2 276.1h0.9M235.5 284.2h0.9M247.7 266.7h0.9M257.8 276.8h0.9M244.4 285.4h0.9M238.8 275.8h0.9M267.7 284.2h0.9M246.8 281.6h0.9M250.1 283.7h0.9M270.8 282.3h0.9M257.4 267.9h0.9M274.5 267.3h0.9M254.2 271.8h0.9M245.8 276.1h0.9M261.3 269.5h0.9M256.8 282.3h0.9M263.3 273.3h0.9M253.5 278.8h0.9M246.2 276.6h0.9M254.2 277.5h0.9M255.6 271.3h0.9M266.6 274.6h0.9M274.4 258.1h0.9M252.7 282.1h0.9M246.5 295.4h0.9M242 286.7h0.9M244.9 282.7h0.9M256.1 275.4h0.9M246.4 296.4h0.9M244.3 278.7h0.9M253.9 275.9h0.9M246.2 282.6h0.9M223.1 289h0.9M258.6 274h0.9M262.3 283.5h0.9M277.1 275.5h0.9M288.2 249.7h0.9M261.8 289.1h0.9M219.7 288.2h0.9M247.2 291.4h0.9M256.3 283.2h0.9M256.1 270.1h0.9M228.2 299.1h0.9M267.5 280.6h0.9M255.9 280.3h0.9M259.2 281.4h0.9M254.3 274h0.9M241.8 293.7h0.9M260.1 276.9h0.9M257.2 282.3h0.9M244 295h0.9M261.3 280.3h0.9M247 270.1h0.9M260.7 274.5h0.9M256.4 286.8h0.9M241.3 292.7h0.9M244.2 279.7h0.9M244 279.1h0.9M250.1 279.4h0.9M263.6 275.9h0.9M242.1 282.6h0.9M258.5 279.3h0.9M234.9 280.3h0.9M267.4 267.7h0.9M246.9 277.8h0.9M245.4 275.1h0.9M243.3 285.3h0.9M270.5 264.9h0.9M233.8 293.7h0.9M256.9 258.5h0.9M255.1 273.3h0.9M233.8 290.7h0.9M246.8 270.6h0.9M240.8 288.5h0.9M246.3 277.7h0.9M245.5 283.2h0.9M261.4 274.3h0.9M258.7 269.9h0.9M261.8 273.3h0.9M247.5 295.9h0.9M252.3 282.1h0.9M239.5 295.7h0.9M254.8 279h0.9M240.3 286.3h0.9M246.6 281.5h0.9M219.1 283.2h0.9M247.1 285.3h0.9M242.4 280.8h0.9M242.8 289.7h0.9M254.1 276.2h0.9M246.4 287.1h0.9M250.3 280.6h0.9M257.6 286.3h0.9M248.7 293.2h0.9M247.1 274.8h0.9M246.1 285.8h0.9M232.5 272.5h0.9M245.5 282.8h0.9M254.2 286.2h0.9M254.9 281.4h0.9M255.4 254.4h0.9M265.2 274.5h0.9M239.4 270.3h0.9M271.6 275.7h0.9M260.3 274.6h0.9M248.7 290.2h0.9M242.1 283.2h0.9M261.5 268.5h0.9M239.2 267.3h0.9M255 257.5h0.9M278.5 257.6h0.9M244.2 289.7h0.9M254.2 274.3h0.9M264.7 271.2h0.9M246.2 277h0.9M237.2 288h0.9M275 287.3h0.9M263 272.5h0.9M268.7 279.3h0.9M243.4 288.6h0.9M244.2 288.6h0.9M252.8 282.8h0.9M245.9 283.3h0.9M257.9 280.1h0.9M264.7 272h0.9M249.6 271.7h0.9M252.9 280.4h0.9M263.3 264.5h0.9M244.5 276.6h0.9M216.4 288.5h0.9M240.2 269.6h0.9M263.5 264.6h0.9M263 273.4h0.9M258.2 273.9h0.9M247.5 289.5h0.9M251.4 281.4h0.9M241.6 276.1h0.9M240.1 271.8h0.9M252.1 270.6h0.9M241.3 284.9h0.9M262.4 266h0.9M250.8 289h0.9M252.9 260.8h0.9M268.2 270.9h0.9M232.1 291.7h0.9M246.2 287.8h0.9M250 287.3h0.9M222.7 283.4h0.9M250.5 267.3h0.9M255.6 282.1h0.9M260.2 268.6h0.9M240.7 271.9h0.9M264.6 288.3h0.9M248 298.7h0.9M253 272.2h0.9M232.1 290.5h0.9M249.4 268.8h0.9M243.3 271.8h0.9M264.5 279.1h0.9M283.1 260.7h0.9M253.2 275.8h0.9M259.7 281.8h0.9M251.9 271.4h0.9M253.3 271.6h0.9M241.7 284h0.9M242.9 282h0.9M230.2 298.7h0.9M240.4 274.8h0.9M261.8 260.4h0.9M239 272.1h0.9M236.6 286.7h0.9M259.5 278.9h0.9M262.6 268.2h0.9M248.9 276.3h0.9M251.6 276h0.9M274.4 286.6h0.9M231.5 286.6h0.9M268.4 264.3h0.9M241 275.4h0.9M262.1 293.1h0.9M224 284.3h0.9M264.5 281.7h0.9M257.7 271.9h0.9M257.8 272.4h0.9M249.5 273.4h0.9M265.7 270.2h0.9M250.6 276h0.9M259.8 271h0.9M241.8 271.6h0.9M257.9 283.8h0.9M270.2 271.6h0.9M244.2 286.6h0.9M248.6 272.4h0.9M238.4 286.5h0.9M257 286.3h0.9M255.3 291h0.9M254.2 283.6h0.9M260.9 296.5h0.9M259.1 275.3h0.9M249.9 280.9h0.9M260.5 272.9h0.9M245.3 270.3h0.9M246 288.2h0.9M263.2 274.3h0.9M252.5 272.8h0.9M254.2 283.8h0.9M232.1 294.9h0.9M247.4 283h0.9M251.2 275.4h0.9M247.3 263.9h0.9M225.7 293.6h0.9M235.9 291.6h0.9M268.3 269.8h0.9M247.3 281h0.9M264.5 280.7h0.9M247.6 270.7h0.9M240.8 279.1h0.9M233.9 281.1h0.9M251.8 282.1h0.9M259.4 272.6h0.9M252.3 277.5h0.9M235.1 293.4h0.9M240 280h0.9M251 285.2h0.9M246.5 267h0.9M259.5 267.6h0.9M273 262.9h0.9M226.5 276.9h0.9M267.6 280.4h0.9M260 277.8h0.9M258.4 263.4h0.9M255.5 287h0.9M221.7 286.5h0.9M242.2 278.3h0.9M262.1 256.9h0.9M249.6 271h0.9M235.7 288.6h0.9M258 263.6h0.9M261.6 281.7h0.9M240 288.1h0.9M241.8 275h0.9M245.8 281.6h0.9M257 294.4h0.9M237.8 276h0.9M235.1 290.6h0.9M252.9 274.2h0.9M256.8 260.6h0.9M247.4 278.5h0.9M254.6 265.6h0.9M232.6 287.8h0.9M237.1 299.4h0.9M242.2 275.5h0.9M253.3 274.4h0.9M246.8 272.2h0.9M269.7 269.4h0.9M259.7 277.7h0.9M241.6 277h0.9M266.6 290.5h0.9M246.8 263.1h0.9M261.7 283h0.9M265.4 264.7h0.9M248.8 275.5h0.9M254.5 271.7h0.9M257.9 254.8h0.9M257 279.4h0.9M256 266.8h0.9M255.3 273.3h0.9M256.1 271.8h0.9M234 277h0.9M237.5 288.9h0.9M229.4 296.5h0.9M250.8 284.9h0.9M245.8 283.5h0.9M252.4 290.1h0.9M256.8 287.9h0.9M257.2 273.1h0.9M244.9 277.6h0.9M252.8 277.4h0.9M237.8 288.7h0.9M245.6 291.8h0.9M264.8 268.6h0.9M256.7 275.5h0.9M235.1 274.7h0.9M256 270.1h0.9M243.1 291h0.9M250.9 287.5h0.9M240.2 285.9h0.9M240.3 275.6h0.9M259.4 283.6h0.9M247.3 274.8h0.9M251.4 290.6h0.9M257.9 289.5h0.9M256.9 278.9h0.9M263.8 280.1h0.9M253.5 290.1h0.9M259.7 269.4h0.9M254.8 293.8h0.9M253 281.8h0.9M247.4 277.9h0.9M243.9 274h0.9M250.7 281.6h0.9M248.2 290.3h0.9M254.5 272.9h0.9M251.9 287.6h0.9M234.6 270.7h0.9M262.7 275.9h0.9M254.7 267.8h0.9M253.8 259.8h0.9M258.5 267.7h0.9M242.3 273.1h0.9M255.1 283.7h0.9M252.4 270h0.9M259.2 272.2h0.9M249.1 269.8h0.9M252 289.2h0.9M245.3 286.8h0.9M264.2 267.4h0.9M259.7 266.6h0.9M264.5 280.1h0.9M231.1 299.4h0.9M260.6 278.1h0.9M246 277.1h0.9M247.6 285.4h0.9M229.4 293.1h0.9M230.5 273.7h0.9M260.4 264.5h0.9M260.4 276.7h0.9M270.2 284h0.9M236.9 265.1h0.9M265.2 279.6h0.9M265.2 275h0.9M263.5 275.2h0.9M244 285.6h0.9M243.4 279h0.9M240.8 259.2h0.9M258 281.5h0.9M233.8 288.9h0.9M262.6 278.5h0.9M237.2 272.9h0.9M246.7 277.3h0.9M256.2 267.4h0.9M257.5 273.8h0.9M267.3 257.8h0.9M256.3 281h0.9M249 276.6h0.9M224.6 280.4h0.9M238.2 287.2h0.9M260.4 278.7h0.9M263.5 279.6h0.9M262.7 276.5h0.9M245.3 266.6h0.9M235 285.4h0.9M232.6 301.5h0.9M245.1 288.7h0.9M246.2 281.2h0.9M254.2 270.3h0.9M265.7 271.3h0.9M269.4 278.4h0.9M240.4 293h0.9M238.2 289.1h0.9M241.6 296.1h0.9M249.5 270h0.9M248.6 264.3h0.9M246.6 275.5h0.9M253.5 277.2h0.9M265.8 281h0.9M249.2 272.5h0.9M266.4 274.6h0.9M267.2 280.3h0.9M245.4 270h0.9M255.9 270.4h0.9M237.9 279.8h0.9M257.1 278.7h0.9M246.3 285.3h0.9M261.7 258.2h0.9M264.8 278.2h0.9M225.7 309.3h0.9M251.1 261.6h0.9M253.6 265.9h0.9M254.4 268.7h0.9M232.1 294.4h0.9M264.4 273h0.9M259.1 276.9h0.9M243.8 283.6h0.9M263 272.5h0.9M255.3 271.5h0.9M263.9 275.1h0.9M239.8 285.9h0.9M238.1 288.5h0.9M250.9 273.9h0.9M243 288.3h0.9M256.1 284.5h0.9M234.1 284.6h0.9M230.8 288h0.9M252.1 277.1h0.9M229 284h0.9M263.2 283.7h0.9M247 277.9h0.9M253.7 278h0.9M256.4 289.1h0.9M263.8 269.4h0.9M266.2 265.8h0.9M249.4 281.6h0.9M255.7 272.4h0.9M268.1 268h0.9M264.7 279h0.9M243 278.5h0.9M247.2 259.1h0.9M258.6 293.8h0.9M248 294h0.9M249.8 279.7h0.9M249.7 288.5h0.9M240.1 275.2h0.9M272.4 271.6h0.9M242.6 270.4h0.9M246 280h0.9M261.8 268.4h0.9M245.3 285.9h0.9M255.2 278.9h0.9M248.5 273.8h0.9M249.8 294.5h0.9M253.6 273.2h0.9M274.3 268.8h0.9M240 303.3h0.9M238.1 276.9h0.9M223.7 289.9h0.9M253.8 288.9h0.9M227.7 293.2h0.9M237.4 279.2h0.9M255.1 284h0.9M283.9 265.2h0.9M266.3 275.1h0.9M258.6 277.1h0.9M260.9 276.6h0.9M243 288.7h0.9M257.1 275.9h0.9M263 276.9h0.9M236.8 281.4h0.9M263.3 268.5h0.9M230.2 268.1h0.9M260.5 282.1h0.9M250.8 293.1h0.9M229.7 292.4h0.9M227 278.6h0.9M258.3 269.2h0.9M255.7 283.3h0.9M253.7 261.5h0.9M246.1 281.2h0.9M247.8 279h0.9M230.4 292.1h0.9M249.2 279.6h0.9M238.3 286.8h0.9M252.9 282.5h0.9M257.9 284.2h0.9M256.9 297.8h0.9M263.6 256.3h0.9M250.7 275.5h0.9M241.1 280.2h0.9M256.4 271.3h0.9M253.2 281.4h0.9M240.4 279h0.9M244.4 288.2h0.9M255 283.8h0.9M233.2 286.4h0.9M245.2 284h0.9M253.1 276.1h0.9M265.8 266.7h0.9M257.3 271.3h0.9M254.7 264.3h0.9M226.6 294.1h0.9M261 267.8h0.9M248.6 272.8h0.9M237.5 268.9h0.9M256.3 284.2h0.9M229.6 288.7h0.9M267.2 279h0.9M245.3 275.4h0.9M236.1 293.2h0.9M229.2 281.1h0.9M243 291.2h0.9M256.6 280.2h0.9M215.5 283.5h0.9M272.7 262.8h0.9M237.8 282.7h0.9M252.6 262.5h0.9M230.2 283.5h0.9M250.8 270.3h0.9M248.7 269.7h0.9M254.7 275.3h0.9M258.4 266h0.9M266.9 294.1h0.9M222 294.2h0.9M260.6 282.2h0.9M247.5 291.4h0.9M241 283.8h0.9M263.6 282.7h0.9M277.9 269.9h0.9M264.5 271.5h0.9M242.5 291.6h0.9M254.5 287.2h0.9M261.6 289.2h0.9M236 285.3h0.9M265.3 267.1h0.9M259.4 275.4h0.9M257.4 266.2h0.9M248.6 277.6h0.9M238.7 282.1h0.9M252.7 273.3h0.9M255.3 268.2h0.9M224.2 287.3h0.9M254.2 279.5h0.9M243.2 280.1h0.9M276.3 264.7h0.9M250.1 269.5h0.9M232.4 289.8h0.9M255.4 278.9h0.9M249.7 273.5h0.9M251.2 266.6h0.9M247 267.7h0.9M248.4 261.9h0.9M243.2 304.1h0.9M253.3 280.1h0.9M267.7 274.9h0.9M252.7 273.2h0.9M248.6 283h0.9M242.7 267.7h0.9M246.5 280.1h0.9M262 280.7h0.9M276.5 271h0.9M250.4 276.6h0.9M261.1 284.8h0.9M247.9 293.6h0.9M254.3 277.5h0.9M254.5 272.9h0.9M239.9 288.1h0.9M235 278.2h0.9M239.5 275.8h0.9M247.3 291.1h0.9M242.3 274.6h0.9M241.3 265.1h0.9M257.1 281.4h0.9M278.1 282.9h0.9M259.4 275.6h0.9M249.4 275.1h0.9M244.4 274.8h0.9M263.8 275.8h0.9M245.8 264.9h0.9M247.8 276.2h0.9M234.6 286.7h0.9M255.4 272.3h0.9M257.8 273.6h0.9M256.7 275h0.9M256.1 282.2h0.9M234.8 283.8h0.9M257.9 285.9h0.9M245.9 279.3h0.9M251.9 281.6h0.9M239.4 284.8h0.9M254.6 289.9h0.9M263.4 264.4h0.9M245.8 287.2h0.9M248.8 275.6h0.9M252.1 275.4h0.9M264.3 291.9h0.9M247.9 300.8h0.9M240.8 270.9h0.9M247.2 273.1h0.9M223.6 284.4h0.9M258.1 266.3h0.9M262.8 263.4h0.9M254.1 278.7h0.9M252.5 266.6h0.9M253.6 258h0.9M260.4 267h0.9M269.5 277.1h0.9M239.4 294.4h0.9M246.2 300.5h0.9M235 284h0.9M252.9 280.1h0.9M257.1 277.6h0.9M256.1 277.7h0.9M254.9 285.3h0.9M251.2 276.7h0.9M238.6 281.7h0.9M250 279.3h0.9M249.8 282h0.9M255.9 265.5h0.9M252.6 287.7h0.9M225.7 301.2h0.9M235.8 279.4h0.9M254.6 278.8h0.9M226.3 292.1h0.9M235.1 303.4h0.9M264.9 274.3h0.9M249 279.7h0.9M254.6 282.8h0.9M247.3 282.9h0.9M239.9 278.3h0.9M264.8 292.5h0.9M253.5 265.4h0.9M244.2 276.9h0.9M235.4 290h0.9M255.4 278.2h0.9M260.9 277.9h0.9M242 293.4h0.9M266.9 269.9h0.9M260.5 280.8h0.9M268.5 265.4h0.9M251.1 289.2h0.9M236 281.6h0.9M252.9 274.5h0.9M269.1 278.1h0.9M247.6 283.8h0.9M253.7 300.6h0.9M244.9 273.7h0.9M250.2 284h0.9M242 280.3h0.9M243.7 298.5h0.9M263.5 268h0.9M235.6 283.3h0.9M228.2 278.1h0.9M233.8 295.4h0.9M256.7 275h0.9M243.4 294.1h0.9M256.6 284.2h0.9M246.8 282.2h0.9M242.9 279.2h0.9M257.4 281.3h0.9M247.5 263.2h0.9M258.1 268.1h0.9M285.6 268.2h0.9M258.1 277.9h0.9M257.6 268.7h0.9M259.2 276.5h0.9M254 262.9h0.9M236.6 273.9h0.9M260.5 263.1h0.9M258.6 272.3h0.9M234.6 286.2h0.9M253.9 269.1h0.9M240.2 275.4h0.9M254.9 283h0.9M253 282.6h0.9M256.4 285.8h0.9M273.9 267.7h0.9M255.3 281.5h0.9M258.9 274.3h0.9M259 267.1h0.9M243.9 287.7h0.9M240.3 281.9h0.9M236.6 286.9h0.9M250.1 270.7h0.9M257.3 279.6h0.9M231.1 302.6h0.9M248.3 283.2h0.9M260.4 292.1h0.9M254.2 279.6h0.9M240.5 293.1h0.9M242.1 281.6h0.9M254 269.8h0.9M254.5 275.2h0.9M251.2 278.6h0.9M247.8 287.5h0.9M254.6 268.5h0.9M260.4 272.3h0.9M244.3 283.7h0.9M251.6 277.2h0.9M249.1 281.7h0.9M260.6 284.7h0.9M270 268.6h0.9M252.2 270.8h0.9M256.5 271.1h0.9M275.8 279.5h0.9M269.4 270.6h0.9M255.5 281.6h0.9M256.5 285.9h0.9M237.7 277.6h0.9M248.5 290.5h0.9M246.7 283.1h0.9M260.6 259.8h0.9M260.2 281.2h0.9M233.6 270h0.9M270.8 281.1h0.9M267.1 281.2h0.9M252.9 266.9h0.9M275.9 262.8h0.9M263.5 274.1h0.9M249.6 273.7h0.9M251.6 287.4h0.9M241.5 282.6h0.9M251.6 279.6h0.9M235.9 288.8h0.9M277.4 266.9h0.9M252.2 275.8h0.9M275.9 276.5h0.9M232.6 284.5h0.9M259.8 272.8h0.9M251.1 279.8h0.9M254.2 281.5h0.9M222.7 297h0.9M249.1 273.5h0.9M249.6 271.8h0.9M255.1 280.4h0.9M254.1 279.3h0.9M242.1 273.3h0.9M262.1 275.9h0.9M263.2 271h0.9M259.1 270.2h0.9M257.8 296.5h0.9M249.7 286.2h0.9M232.7 275.7h0.9M253.9 277.8h0.9M263.8 275.1h0.9M247.2 277.1h0.9M246 278.3h0.9M252.2 288.1h0.9M264.1 276.7h0.9M235 282.4h0.9M242.3 289.9h0.9M250.6 269.8h0.9M248.5 302.5h0.9M240.8 282h0.9M250.9 262.9h0.9M269.2 268.7h0.9M257.8 280.8h0.9M245.1 287.8h0.9M245.4 279.3h0.9M259.6 274.9h0.9M260.3 268.3h0.9M268 268.7h0.9M248.2 292.1h0.9M254 275.7h0.9" stroke="#585858" stroke-width="0.9" fill="none" opacity="0.8"/>
<path d="M232.9 304.9h0.9M250.4 268h0.9M250.4 276.7h0.9M227.1 289.2h0.9M259.4 257.6h0.9M252.5 280.6h0.9M242.7 283.2h0.9M251 275.7h0.9M254.7 286.4h0.9M217.5 298.7h0.9M256.6 269.7h0.9M249.7 287.5h0.9M266.7 268.7h0.9M249.9 281.8h0.9M242 267.7h0.9M259.7 275.3h0.9M262.8 277.8h0.9M230.8 285.4h0.9M254.5 290.4h0.9M257.7 272.3h0.9M236 299.2h0.9M258.9 271.9h0.9M245.9 289h0.9M228.2 265.8h0.9M272.4 273.2h0.9M274.4 269.6h0.9M230.2 306.3h0.9M244.8 281.6h0.9M250.6 274.1h0.9M255.5 289h0.9M248.8 268.9h0.9M248.1 258.5h0.9M244.3 293.5h0.9M245.1 266.7h0.9M277.8 266.3h0.9M263.9 288.2h0.9M245.1 288.2h0.9M219.1 276.5h0.9M240 289.6h0.9M263.6 290.8h0.9M257.3 273.5h0.9M280.9 265.4h0.9M266.4 276h0.9M235 279.6h0.9M248.6 285.6h0.9M244.6 286.9h0.9M259.2 288.6h0.9M276.9 280.4h0.9M229.8 284h0.9M266.2 279.5h0.9M249.4 267h0.9M252.8 263.2h0.9M224.2 288.3h0.9M221 298.2h0.9M247 272.6h0.9M250.4 282h0.9M269.4 266.3h0.9M253.6 271.6h0.9M253 272.9h0.9M248.3 266h0.9M257.9 289.9h0.9M230.3 302.9h0.9M237.3 286.9h0.9M260.9 303.2h0.9M240.9 283.9h0.9M262.6 282h0.9M241.3 294.4h0.9M252.3 281.5h0.9M241.6 288.6h0.9M257 272h0.9M251.7 284h0.9M239 282.1h0.9M242.4 274h0.9M254.1 273.5h0.9M242.4 283.1h0.9M218.7 287.6h0.9M242.7 283.4h0.9M248.2 266.1h0.9M238.7 277.5h0.9M249.9 286.6h0.9M274.8 268.1h0.9M261.9 294.3h0.9M267.4 284h0.9M269.6 284.7h0.9M244.8 293.3h0.9M238.8 284.4h0.9M243.4 279.1h0.9M251 287.5h0.9M229.2 285.4h0.9M237 277.2h0.9M250.7 271.6h0.9M258.1 282.4h0.9M232.9 302h0.9M259.9 283.4h0.9M257 255.7h0.9M252.4 289h0.9M243.1 276.7h0.9M278.3 261.9h0.9M236.5 272.8h0.9M227.4 284.7h0.9M231.3 283.6h0.9M268.3 269.4h0.9M262.1 271.3h0.9M238.6 297.8h0.9M250.8 278.9h0.9M237.9 294.6h0.9M241.2 284.5h0.9M264.7 262.7h0.9M235.6 287.2h0.9M263.5 285.5h0.9M241.4 292.5h0.9M249 287.5h0.9M261.1 281.6h0.9M233.3 279.3h0.9M244.9 304.4h0.9M248.8 264.1h0.9M268.7 276.8h0.9M234.1 284.6h0.9M253.7 272.6h0.9M239.7 299.7h0.9M249.2 270.9h0.9M245.8 290.1h0.9M227.8 285.7h0.9M230.5 293h0.9M266.3 277.8h0.9M235.4 264.7h0.9M251.4 271.7h0.9M240.4 306.3h0.9M269.6 268.9h0.9M285.6 273.6h0.9M238.2 287.1h0.9M230 270h0.9M241.3 283.5h0.9M266.2 290.1h0.9M253.4 271.6h0.9M245.8 272h0.9M253.4 295.3h0.9M268.8 276.7h0.9M251.8 266.8h0.9M228 284.3h0.9M250.5 309h0.9M249.4 277.6h0.9M244.1 282.9h0.9M254.1 278.8h0.9M243.2 270.9h0.9M252.8 293.1h0.9M245.7 277.6h0.9M237.7 272.4h0.9M252.4 271h0.9M233.3 280.4h0.9M253.6 296.1h0.9M237.4 278.7h0.9M225.5 291.9h0.9M234.9 280.5h0.9M237.4 285.5h0.9M276.3 270.4h0.9M265.2 268.9h0.9M243.6 284.1h0.9M234.2 280.8h0.9M255.3 275.7h0.9M250.1 279.3h0.9M214.2 308.4h0.9M265.7 279.8h0.9M226.9 295.9h0.9M255 287h0.9M248.4 275.1h0.9M237.1 302.5h0.9M266.4 305.6h0.9M250.2 285.7h0.9M246.7 279.1h0.9M220 302h0.9M255.1 282.8h0.9M261.1 269.7h0.9M264.1 252.3h0.9M258 281.2h0.9M272.3 254.2h0.9M248.8 269.3h0.9M224.3 300.6h0.9M243.5 283.7h0.9M250.4 294.6h0.9M261.9 259.9h0.9M243.8 299.7h0.9M227.2 298h0.9M272.3 271.1h0.9M255.2 276.8h0.9M282.8 271.2h0.9M248.9 276.7h0.9M254 287.5h0.9M247.3 279.4h0.9M235.7 295h0.9M218.9 284.7h0.9M236.8 284.6h0.9M260.7 274.2h0.9M262.1 281.7h0.9M245.1 271.6h0.9M238.9 278.8h0.9M241.9 285.9h0.9M226.6 293.1h0.9M264.8 267.9h0.9" stroke="#999" stroke-width="0.9" fill="none" opacity="0.8"/>
<path d="M301.9 250.4h0.9M301.8 242.2h0.9M299 240.9h0.9M302.2 249.2h0.9M301.6 247h0.9M302.3 240.2h0.9M308 237.1h0.9M307.5 239.5h0.9M304.3 239.2h0.9M304.7 243.4h0.9M299.5 248.3h0.9M308.5 238.4h0.9M306.8 248.7h0.9M301.8 247h0.9M305 239.8h0.9M304.5 238.7h0.9M301.3 240.6h0.9M297.6 251h0.9M301.4 245.7h0.9M307.7 237.7h0.9M312.2 237.4h0.9M306 241.6h0.9M304.7 242.1h0.9M307.7 246.2h0.9M299.9 245.5h0.9M305.2 246h0.9M306.3 238.1h0.9M303.2 248.3h0.9M301.6 246.1h0.9M300.6 245.3h0.9M303.8 243.9h0.9M303.8 242h0.9M302.5 243.3h0.9M307 240.8h0.9M301.6 247.7h0.9M303.3 242.1h0.9M301 247.5h0.9M303 245.7h0.9M303.6 247.1h0.9M302.1 240.9h0.9M303.1 244.5h0.9M300.5 247h0.9M308.1 248h0.9M303.8 248.1h0.9M302.3 254.3h0.9M306.4 242.4h0.9M299.8 247.1h0.9M299.2 247h0.9M305.9 238.1h0.9M306.4 247.9h0.9M300.5 249.9h0.9M303.6 248.3h0.9M302.2 243.9h0.9M304.2 240.8h0.9M305.7 246.3h0.9M303.6 241.2h0.9M307.5 239.6h0.9M305.6 238.8h0.9M301.8 243.2h0.9M304.8 247.2h0.9M305.4 239.2h0.9M309.9 235.9h0.9M300 247.6h0.9M308.9 246.1h0.9M303.6 242.2h0.9M308.2 238.9h0.9M306.9 240.6h0.9M308.2 242.2h0.9M305 240.1h0.9M306.2 243.1h0.9M308.7 242.5h0.9M299.6 243.8h0.9M303.7 246.8h0.9M307.3 243.3h0.9M303.1 244.5h0.9M303.1 242.6h0.9M303 247.2h0.9M303.4 241.7h0.9M307.3 242.7h0.9M304.4 245.9h0.9M302.5 247.5h0.9M303 248.4h0.9M302 246.3h0.9M304.2 240.1h0.9M306.6 243h0.9M307.3 242.9h0.9M302.5 247.6h0.9M303.8 249.4h0.9M302.4 248.5h0.9M306.1 242.6h0.9M300.1 245.7h0.9M307.3 246.8h0.9M304.6 248.2h0.9M305.6 244.7h0.9M304.2 244.7h0.9M305.1 246.4h0.9M303.7 243.3h0.9M300.3 249.3h0.9M309.1 240.3h0.9M303.7 250h0.9M305.7 247.3h0.9M306.5 235.4h0.9M304.3 242.5h0.9M303.5 243.4h0.9M299.9 241.2h0.9M304.5 243.2h0.9M306.3 242.2h0.9M310.3 240.6h0.9M303.8 241.6h0.9M302.7 247.2h0.9M304 244.9h0.9M297.6 244.6h0.9M302.4 246.4h0.9M304.2 246.4h0.9M301 250.4h0.9M305.4 240.3h0.9M304.4 243.7h0.9M300 246.2h0.9M296.7 254h0.9M305.1 244.9h0.9" stroke="#5c5c5c" stroke-width="0.9" fill="none" opacity="0.8"/>
<path d="M305.5 225.1h0.9M309 231.1h0.9M321.6 215.9h0.9M306.8 239.7h0.9M305.9 234.7h0.9M305.9 243.1h0.9M307.8 232h0.9M310.1 233h0.9M300.4 235.3h0.9M310.2 225.1h0.9M308 234.5h0.9M309.8 223.5h0.9M308.9 232.4h0.9M307.2 234.2h0.9M311.8 232.7h0.9M305.9 233.6h0.9M311.4 217.3h0.9M310.2 224.9h0.9M316.3 225.8h0.9M313.6 225.4h0.9M310.9 231.6h0.9M308.2 229.7h0.9M311.5 224.7h0.9M309.8 227.2h0.9M312.9 226.4h0.9M309.8 234.8h0.9M302.9 240.3h0.9M309.6 229.7h0.9M311.5 224.8h0.9M315.8 225.9h0.9M312.8 218.7h0.9M306.2 243h0.9M308.1 235.5h0.9M302.6 251.4h0.9M309.7 227.1h0.9M306.7 239.7h0.9M303.8 233.8h0.9M306.9 230.9h0.9M306.5 235.6h0.9M315.5 230h0.9M304.9 236.5h0.9M312.6 226.6h0.9M311.1 229.8h0.9M309.5 226.8h0.9M304.7 233.8h0.9M300.5 247.5h0.9M301.9 246.2h0.9M305.4 230.6h0.9M311.6 223.6h0.9M309.1 236.1h0.9M308 229.6h0.9M313.1 222.6h0.9M308.4 236.8h0.9M314.7 233.9h0.9M311.8 221.5h0.9M307.1 235.8h0.9M308.1 223.2h0.9M309.3 230.4h0.9M303.3 248.5h0.9M315.3 220.2h0.9M311.7 233.6h0.9M312.1 229.5h0.9M312 223.9h0.9M311.9 227.1h0.9M308 232.4h0.9M310 230.3h0.9M311 225.1h0.9M318.4 211.6h0.9M309.2 233.8h0.9M308.9 242.6h0.9M301.9 227.2h0.9M313.8 233.5h0.9M312 221.8h0.9M314.5 218h0.9M306.7 232.3h0.9M308.5 229.5h0.9M318.1 220.1h0.9M308.8 237.1h0.9M303.4 251.1h0.9M309.1 224.9h0.9M306.7 221.7h0.9M312.1 225.9h0.9M306.9 238h0.9M302.6 239.4h0.9M308.8 224.4h0.9M306.3 234.5h0.9M305.9 239.5h0.9M307.7 231.6h0.9M307.1 234.7h0.9M307.2 234.2h0.9M308 233.5h0.9M305 241.7h0.9M314.1 229h0.9M305.2 250.2h0.9M307 235.2h0.9M310.6 221.1h0.9M312.6 228.8h0.9M311.1 223.6h0.9M299.2 244.9h0.9M311.6 236.4h0.9" stroke="#777" stroke-width="0.9" fill="none" opacity="0.8"/>
<path d="M297.3 253.5h0.9M277 258.6h0.9M281.2 260.2h0.9M287.3 263.9h0.9M296.8 253.6h0.9M303.7 246.1h0.9M294.1 250.3h0.9M289.7 247.4h0.9M279.5 256.9h0.9M286.2 278.9h0.9M285.3 245.9h0.9M300.7 252.6h0.9M308.7 246.2h0.9M308.2 237.2h0.9M290.4 269.8h0.9M294.9 238.2h0.9M294.6 248.7h0.9M296.2 261.1h0.9M289.4 246.7h0.9M317.3 247.2h0.9M275.6 267.6h0.9M272.4 264.6h0.9M286 261.2h0.9M278.5 255.2h0.9M293 251.2h0.9M298.2 265.2h0.9M273.4 273.7h0.9M264.6 262.6h0.9M285.4 257.7h0.9M287.4 251.8h0.9M304.2 244.4h0.9M285 264.3h0.9M291.6 252.6h0.9M273 259h0.9M310.4 241.3h0.9M278.4 262.1h0.9M283.9 256.9h0.9M293.1 263.7h0.9M288.6 256.6h0.9M292.1 248.8h0.9" stroke="#aaa" stroke-width="0.9" fill="none" opacity="0.8"/>
<path d="M420.1 277.5h0.9M425.8 267.5h0.9M403.5 293.4h0.9M415.7 284.1h0.9M413.5 280.3h0.9M418.9 277.7h0.9M409.2 283.2h0.9M429 273.4h0.9M411.7 288.6h0.9M406.5 290.3h0.9M388.9 294.4h0.9M402.1 290.3h0.9M400.6 290.8h0.9M407.4 283.2h0.9M405.1 286.3h0.9M418.9 282.9h0.9M418 287.8h0.9M410 277.5h0.9M396.1 289.7h0.9M401.9 285.4h0.9M420.4 277.8h0.9M414.8 284.4h0.9M411.7 291.7h0.9M392.1 289.8h0.9M412.9 285.6h0.9M411.3 281.4h0.9M398.4 292.1h0.9M382.7 293.1h0.9M409.8 277.6h0.9M395.9 285.6h0.9M412.1 275.4h0.9M404.5 280.1h0.9M413.5 279h0.9M409.1 282.8h0.9M395.6 294.9h0.9M420.1 271.5h0.9M408.2 286.8h0.9M395.4 283h0.9M394.2 302.1h0.9M415.7 282.9h0.9M416.8 279.6h0.9M417.2 276.6h0.9M404.6 283.2h0.9M407.2 284.2h0.9M400.5 296.9h0.9M385.8 292.4h0.9M395.8 282h0.9M396.5 281.1h0.9M410.8 277.8h0.9M414.7 291.7h0.9M401.3 280.6h0.9M396.4 287.8h0.9M410.4 284.9h0.9M408.8 285.9h0.9M410.1 286.1h0.9M434.9 271.5h0.9M408.1 287.2h0.9M410.5 284.8h0.9M407.9 273.7h0.9M403.3 281.3h0.9M396.6 287.3h0.9M411.3 283.2h0.9M405.7 280.4h0.9M397.7 278.5h0.9M412.8 286.1h0.9M412.9 286.4h0.9M406.3 282.9h0.9M407.7 289.8h0.9M415.1 288.3h0.9M393.9 296.1h0.9M401.1 286.9h0.9M396.5 288h0.9M402.9 288.4h0.9M412.5 278.8h0.9M407.6 286.2h0.9M407 289.2h0.9M412.9 270h0.9M406.1 285.1h0.9M413.4 279h0.9M417.2 287h0.9M398.1 286.2h0.9M395.7 302.1h0.9M399.7 283.4h0.9M382.6 284.8h0.9M416.6 284.5h0.9M415.5 283.2h0.9M422.5 271.7h0.9M408.7 290.4h0.9M403.6 292.2h0.9M418.8 280.3h0.9M408.3 282.3h0.9M404.2 278.1h0.9M401.3 291.8h0.9M414.2 277.8h0.9M416.8 280.1h0.9" stroke="#888" stroke-width="0.9" fill="none" opacity="0.8"/>
<path d="M468.6 245.2h0.9M477.6 224.8h0.9M467.8 254.8h0.9M478.2 244.1h0.9M482.3 231.8h0.9M473.8 250.5h0.9M479.6 229.6h0.9M474.1 242.2h0.9M475.3 239.8h0.9M473.5 246.8h0.9M472.1 247h0.9M472.3 237.3h0.9M481 229.2h0.9M475.5 232h0.9M471.4 240.8h0.9M469.7 237.9h0.9M474 235.7h0.9M482.2 233.7h0.9M476.2 246.8h0.9M482.2 227.4h0.9M474.6 240.3h0.9M471.4 254.6h0.9M475 238h0.9M466.2 252.7h0.9M475.4 227.1h0.9M472.2 244h0.9M484.8 231.3h0.9M475.4 249.2h0.9M483.3 230h0.9M459.9 242.5h0.9M478.8 232.2h0.9M483.2 221.6h0.9M483.5 229.7h0.9M456.2 264.9h0.9M477.8 239.8h0.9M482.7 231.2h0.9M479.3 226.6h0.9M478.9 233.6h0.9M463.8 239.1h0.9M468.3 253.4h0.9M464.5 245h0.9M468.3 259.1h0.9M474.9 238.6h0.9M466 257.5h0.9M473 234.7h0.9M473.6 233.1h0.9M480 235.3h0.9M469.7 235.5h0.9M477.6 229.4h0.9M477.9 242.6h0.9M475.5 233.4h0.9M471 245.4h0.9M468.3 244.1h0.9M475 235h0.9M476.6 240.7h0.9M467.7 242.2h0.9M481.5 242.4h0.9M471.7 249.7h0.9M474.3 236.8h0.9M477.8 237.9h0.9M474.5 238.4h0.9M476 238.1h0.9M473.6 247.1h0.9M466.9 246.9h0.9M470.6 251.4h0.9M476.2 245.8h0.9M465.2 245.8h0.9M477.2 238.5h0.9M469.2 239.6h0.9M462.9 257.4h0.9M477.4 234.7h0.9M460.2 263.4h0.9M475.4 231.3h0.9M473.2 243.4h0.9M474.4 254.9h0.9M471.4 247.9h0.9M480.6 237.5h0.9M471.3 242.3h0.9M481.3 222.5h0.9M477.8 241.6h0.9M462.7 250.4h0.9M477.4 236.6h0.9M475.1 236.7h0.9M484 223.6h0.9M467.4 256.9h0.9M468 239.7h0.9M467.6 251.9h0.9M482.3 240.7h0.9M469.6 254.8h0.9M472.3 246.2h0.9" stroke="#777" stroke-width="0.9" fill="none" opacity="0.8"/>
<path d="M451.2 250.5h0.9M429.5 258.4h0.9M433.4 272.8h0.9M433.1 262.8h0.9M444.9 257h0.9M434.9 283.4h0.9M449.8 263h0.9M435.8 281.8h0.9M455.3 253.7h0.9M417.1 277.8h0.9M393.7 282.7h0.9M436.6 254.9h0.9M424.1 264.8h0.9M479 236.7h0.9M450.9 264.8h0.9M439.1 259.3h0.9M481.9 234.7h0.9M447 247.8h0.9M418.5 272.1h0.9M441.3 269.4h0.9M437.2 265h0.9M463.9 241.6h0.9M455.5 258.2h0.9M433.8 263.2h0.9M423.2 277.3h0.9M417.9 277.6h0.9M449.1 270.8h0.9M409.2 288.8h0.9M463.3 243.6h0.9M436.2 259.9h0.9M465.5 252h0.9M423.7 269.7h0.9M470.4 243.7h0.9M437 262.1h0.9M423.2 297h0.9M463.1 242.5h0.9M452.7 264h0.9M458.2 261.6h0.9M437.7 272.1h0.9M452.6 251.1h0.9M488.2 241.6h0.9M455.6 251.6h0.9M438.8 265.7h0.9M420.8 295.4h0.9M422.6 274.1h0.9M461.8 235.2h0.9M440.1 257.3h0.9M437 235.1h0.9M451.5 246.1h0.9M500.4 222.7h0.9" stroke="#bbb" stroke-width="0.9" fill="none" opacity="0.8"/>
<text x="1" y="19.3" font-size="24.5" font-weight="bold" font-style="normal" text-anchor="start" fill="#000">A</text>
<text x="511.3" y="35" font-size="22.1" font-weight="normal" font-style="normal" text-anchor="end" fill="#000">14 hours</text>
<text x="511.3" y="201.7" font-size="22.1" font-weight="normal" font-style="normal" text-anchor="end" fill="#000">46 hours</text>
<text x="42.5" y="357.7" font-size="20.8" font-weight="normal" font-style="normal" text-anchor="start" fill="#000">2 µg/g</text>
<text x="42.5" y="380.8" font-size="20.8" font-weight="normal" font-style="normal" text-anchor="start" fill="#000">CO IgG</text>
<text x="210.5" y="357.7" font-size="20.8" font-weight="normal" font-style="normal" text-anchor="start" fill="#000">0.4 µg/g</text>
<text x="210.5" y="380.8" font-size="20.8" font-weight="normal" font-style="normal" text-anchor="start" fill="#000">α-GPIbα</text>
<text x="378" y="357.7" font-size="20.8" font-weight="normal" font-style="normal" text-anchor="start" fill="#000">2 µg/g</text>
<text x="378" y="380.8" font-size="20.8" font-weight="normal" font-style="normal" text-anchor="start" fill="#000">α-GPIbα</text>
<text x="-0.6" y="442.7" font-size="25" font-weight="bold" font-style="normal" text-anchor="start" fill="#000">B</text>
<text x="152.2" y="444" font-size="19.4" font-weight="bold" font-style="normal" text-anchor="middle" fill="#000">Platelet counts</text>
<text x="152.5" y="463.3" font-size="20.2" font-weight="bold" font-style="italic" text-anchor="middle" fill="#000">naive mice</text>
<path d="M73.7 491.3V558M66.1 492.6H73.7M66.1 509.8H73.7M66.1 526.9H73.7M66.1 543.9H73.7M69 558H78.8M73.7 572.3V621.5M66.1 573.6H78.8M66.1 589.2H73.7M66.1 604.9H73.7" stroke="#000" stroke-width="2.8" fill="none"/>
<text x="63.2" y="497.7" font-size="14.2" font-weight="bold" font-style="normal" text-anchor="end" fill="#000">800</text>
<text x="63.2" y="514.9" font-size="14.2" font-weight="bold" font-style="normal" text-anchor="end" fill="#000">600</text>
<text x="63.2" y="532" font-size="14.2" font-weight="bold" font-style="normal" text-anchor="end" fill="#000">400</text>
<text x="63.2" y="549" font-size="14.2" font-weight="bold" font-style="normal" text-anchor="end" fill="#000">200</text>
<text x="63.2" y="578.7" font-size="14.2" font-weight="bold" font-style="normal" text-anchor="end" fill="#000">30</text>
<text x="63.2" y="594.3" font-size="14.2" font-weight="bold" font-style="normal" text-anchor="end" fill="#000">20</text>
<text x="63.2" y="610" font-size="14.2" font-weight="bold" font-style="normal" text-anchor="end" fill="#000">10</text>
<text x="63.2" y="625.9" font-size="14.2" font-weight="bold" font-style="normal" text-anchor="end" fill="#000">0</text>
<text transform="translate(23.6 555.5) rotate(-90)" font-size="17.2" font-weight="bold" text-anchor="middle">platelets (*10<tspan dy="-5.5" font-size="11.5">9</tspan><tspan dy="5.5">/L)</tspan></text>
<circle cx="80.5" cy="512.9" r="4.2" fill="#000"/>
<circle cx="92.2" cy="512.2" r="4.2" fill="#000"/>
<circle cx="86.3" cy="517.1" r="4.2" fill="#000"/>
<circle cx="86.3" cy="531.5" r="4.2" fill="#000"/>
<circle cx="112.1" cy="605.4" r="3.6" fill="#fff" stroke="#777" stroke-width="0.7"/>
<path d="M112.4 601.4a4 4 0 0 0 0 8z" fill="#000"/>
<circle cx="105.4" cy="609.4" r="3.6" fill="#fff" stroke="#777" stroke-width="0.7"/>
<path d="M105.7 605.4a4 4 0 0 0 0 8z" fill="#000"/>
<circle cx="118.7" cy="614.4" r="3.6" fill="#fff" stroke="#777" stroke-width="0.7"/>
<path d="M119 610.4a4 4 0 0 0 0 8z" fill="#000"/>
<circle cx="111.2" cy="619.2" r="3.6" fill="#fff" stroke="#777" stroke-width="0.7"/>
<path d="M111.5 615.2a4 4 0 0 0 0 8z" fill="#000"/>
<path d="M103.7 610.9H122.1" stroke="#000" stroke-width="1.4"/>
<circle cx="131.9" cy="617.5" r="3.3" fill="#fff" stroke="#000" stroke-width="1.7"/>
<circle cx="138.3" cy="619.6" r="3.3" fill="#fff" stroke="#000" stroke-width="1.7"/>
<circle cx="141.2" cy="615.8" r="3.3" fill="#fff" stroke="#000" stroke-width="1.7"/>
<circle cx="144.6" cy="617.5" r="3.3" fill="#fff" stroke="#000" stroke-width="1.7"/>
<path d="M129 617.7H148" stroke="#000" stroke-width="1.2"/>
<text x="112" y="586.8" font-size="21.4" font-weight="bold" font-style="normal" text-anchor="middle" fill="#000">*</text>
<text x="137.4" y="596" font-size="21.4" font-weight="bold" font-style="normal" text-anchor="middle" fill="#000">*</text>
<circle cx="162.8" cy="506.3" r="4.2" fill="#000"/>
<circle cx="174.6" cy="505.4" r="4.2" fill="#000"/>
<circle cx="168.7" cy="509.6" r="4.2" fill="#000"/>
<circle cx="168.7" cy="521.7" r="4.2" fill="#000"/>
<circle cx="189.3" cy="545.6" r="3.6" fill="#fff" stroke="#777" stroke-width="0.7"/>
<path d="M189.6 541.6a4 4 0 0 0 0 8z" fill="#000"/>
<circle cx="194.2" cy="549.8" r="3.6" fill="#fff" stroke="#777" stroke-width="0.7"/>
<path d="M194.5 545.8a4 4 0 0 0 0 8z" fill="#000"/>
<circle cx="199.1" cy="543.9" r="3.6" fill="#fff" stroke="#777" stroke-width="0.7"/>
<path d="M199.4 539.9a4 4 0 0 0 0 8z" fill="#000"/>
<circle cx="201.4" cy="549.5" r="3.6" fill="#fff" stroke="#777" stroke-width="0.7"/>
<path d="M201.7 545.5a4 4 0 0 0 0 8z" fill="#000"/>
<path d="M186.5 547.2H204" stroke="#000" stroke-width="1.3"/>
<text x="194.2" y="530.4" font-size="21.4" font-weight="bold" font-style="normal" text-anchor="middle" fill="#000">*</text>
<circle cx="213.7" cy="613.7" r="3.3" fill="#fff" stroke="#000" stroke-width="1.7"/>
<circle cx="219.8" cy="614.6" r="3.3" fill="#fff" stroke="#000" stroke-width="1.7"/>
<circle cx="223.3" cy="612.3" r="3.3" fill="#fff" stroke="#000" stroke-width="1.7"/>
<circle cx="226.7" cy="613.5" r="3.3" fill="#fff" stroke="#000" stroke-width="1.7"/>
<path d="M210.5 614H230" stroke="#000" stroke-width="1.2"/>
<text x="219" y="596.2" font-size="21.4" font-weight="bold" font-style="normal" text-anchor="middle" fill="#000">*</text>
<path d="M65.4 620.6H234.8" stroke="#000" stroke-width="2.6"/>
<path d="M81 630H148.3" stroke="#000" stroke-width="1.6"/>
<path d="M163.5 630H229.6" stroke="#000" stroke-width="1.6"/>
<text x="114.7" y="651.3" font-size="19" font-weight="normal" font-style="normal" text-anchor="middle" fill="#000">t = 14</text>
<text x="196.7" y="651.3" font-size="19" font-weight="normal" font-style="normal" text-anchor="middle" fill="#000">t = 46</text>
<text x="267.5" y="442.7" font-size="25" font-weight="bold" font-style="normal" text-anchor="start" fill="#000">C</text>
<text x="415" y="443" font-size="19.4" font-weight="bold" font-style="normal" text-anchor="middle" fill="#000">Platelet counts</text>
<text x="415" y="462.8" font-size="20.2" font-weight="bold" font-style="italic" text-anchor="middle" fill="#000">infected mice</text>
<path d="M340.1 490.5V557.2M332.5 491.8H340.1M332.5 509H340.1M332.5 526.1H340.1M332.5 543.1H340.1M335.4 557.2H345.2M340.1 571.5V620.7M332.5 572.8H345.2M332.5 588.4H340.1M332.5 604.1H340.1" stroke="#000" stroke-width="2.8" fill="none"/>
<text x="330.8" y="496.9" font-size="14.2" font-weight="bold" font-style="normal" text-anchor="end" fill="#000">800</text>
<text x="330.8" y="514.1" font-size="14.2" font-weight="bold" font-style="normal" text-anchor="end" fill="#000">600</text>
<text x="330.8" y="531.2" font-size="14.2" font-weight="bold" font-style="normal" text-anchor="end" fill="#000">400</text>
<text x="330.8" y="548.2" font-size="14.2" font-weight="bold" font-style="normal" text-anchor="end" fill="#000">200</text>
<text x="330.8" y="577.9" font-size="14.2" font-weight="bold" font-style="normal" text-anchor="end" fill="#000">30</text>
<text x="330.8" y="593.5" font-size="14.2" font-weight="bold" font-style="normal" text-anchor="end" fill="#000">20</text>
<text x="330.8" y="609.2" font-size="14.2" font-weight="bold" font-style="normal" text-anchor="end" fill="#000">10</text>
<text x="330.8" y="625.1" font-size="14.2" font-weight="bold" font-style="normal" text-anchor="end" fill="#000">0</text>
<text transform="translate(289.5 554.7) rotate(-90)" font-size="17.2" font-weight="bold" text-anchor="middle">platelets (*10<tspan dy="-5.5" font-size="11.5">9</tspan><tspan dy="5.5">/L)</tspan></text>
<circle cx="350.9" cy="511.6" r="4.2" fill="#000"/>
<circle cx="347.1" cy="517.7" r="4.2" fill="#000"/>
<circle cx="354.9" cy="514.2" r="4.2" fill="#000"/>
<circle cx="359.2" cy="516.8" r="4.2" fill="#000"/>
<circle cx="352" cy="517.7" r="4.2" fill="#000"/>
<circle cx="352.3" cy="522" r="4.2" fill="#000"/>
<circle cx="358.9" cy="529.8" r="4.2" fill="#000"/>
<circle cx="352.8" cy="539" r="4.2" fill="#000"/>
<text x="379.3" y="566.2" font-size="21.4" font-weight="bold" font-style="normal" text-anchor="middle" fill="#000">***</text>
<circle cx="380.2" cy="605.8" r="3.6" fill="#fff" stroke="#777" stroke-width="0.7"/>
<path d="M380.5 601.8a4 4 0 0 0 0 8z" fill="#000"/>
<circle cx="372.5" cy="609.5" r="3.6" fill="#fff" stroke="#777" stroke-width="0.7"/>
<path d="M372.8 605.5a4 4 0 0 0 0 8z" fill="#000"/>
<circle cx="376.5" cy="606.8" r="3.6" fill="#fff" stroke="#777" stroke-width="0.7"/>
<path d="M376.8 602.8a4 4 0 0 0 0 8z" fill="#000"/>
<circle cx="377.5" cy="612.5" r="3.6" fill="#fff" stroke="#777" stroke-width="0.7"/>
<path d="M377.8 608.5a4 4 0 0 0 0 8z" fill="#000"/>
<circle cx="381.5" cy="611" r="3.6" fill="#fff" stroke="#777" stroke-width="0.7"/>
<path d="M381.8 607a4 4 0 0 0 0 8z" fill="#000"/>
<circle cx="386.2" cy="613.8" r="3.6" fill="#fff" stroke="#777" stroke-width="0.7"/>
<path d="M386.5 609.8a4 4 0 0 0 0 8z" fill="#000"/>
<circle cx="374.5" cy="613.5" r="3.6" fill="#fff" stroke="#777" stroke-width="0.7"/>
<path d="M374.8 609.5a4 4 0 0 0 0 8z" fill="#000"/>
<circle cx="382.5" cy="614.8" r="3.6" fill="#fff" stroke="#777" stroke-width="0.7"/>
<path d="M382.8 610.8a4 4 0 0 0 0 8z" fill="#000"/>
<path d="M370 610.3H389.5" stroke="#000" stroke-width="1.4"/>
<circle cx="398.5" cy="616.8" r="3.2" fill="#fff" stroke="#000" stroke-width="2"/>
<circle cx="401.5" cy="614.6" r="3.2" fill="#fff" stroke="#000" stroke-width="2"/>
<circle cx="404.6" cy="613.2" r="3.2" fill="#fff" stroke="#000" stroke-width="2"/>
<circle cx="407.8" cy="614.6" r="3.2" fill="#fff" stroke="#000" stroke-width="2"/>
<circle cx="411" cy="616.8" r="3.2" fill="#fff" stroke="#000" stroke-width="2"/>
<circle cx="402.8" cy="617.6" r="3.2" fill="#fff" stroke="#000" stroke-width="2"/>
<circle cx="406.8" cy="617.6" r="3.2" fill="#fff" stroke="#000" stroke-width="2"/>
<path d="M395.5 616.2H414.5" stroke="#000" stroke-width="1.3"/>
<text x="405.5" y="578.8" font-size="14.7" font-weight="bold" font-style="normal" text-anchor="middle" fill="#000">###</text>
<text x="405.2" y="600.7" font-size="21.4" font-weight="bold" font-style="normal" text-anchor="middle" fill="#000">***</text>
<circle cx="441.6" cy="521.6" r="4.2" fill="#000"/>
<circle cx="434.7" cy="526" r="4.2" fill="#000"/>
<circle cx="434.7" cy="544.7" r="4.2" fill="#000"/>
<circle cx="431.2" cy="548.5" r="4.2" fill="#000"/>
<circle cx="428.7" cy="552.8" r="4.2" fill="#000"/>
<circle cx="433" cy="551.9" r="4.2" fill="#000"/>
<circle cx="438.2" cy="551.9" r="4.2" fill="#000"/>
<circle cx="441.6" cy="556.2" r="4.2" fill="#000"/>
<circle cx="434.7" cy="558" r="4.2" fill="#000"/>
<circle cx="430.4" cy="555.4" r="4.2" fill="#000"/>
<circle cx="439" cy="557.1" r="4.2" fill="#000"/>
<path d="M426 550.2H444.2" stroke="#000" stroke-width="1.4"/>
<text x="463.3" y="546.6" font-size="21.4" font-weight="bold" font-style="normal" text-anchor="middle" fill="#000">***</text>
<circle cx="461" cy="557.1" r="3.6" fill="#fff" stroke="#777" stroke-width="0.7"/>
<path d="M461.3 553.1a4 4 0 0 0 0 8z" fill="#000"/>
<circle cx="461" cy="585.3" r="3.6" fill="#fff" stroke="#777" stroke-width="0.7"/>
<path d="M461.3 581.3a4 4 0 0 0 0 8z" fill="#000"/>
<circle cx="461.5" cy="593.5" r="3.6" fill="#fff" stroke="#777" stroke-width="0.7"/>
<path d="M461.8 589.5a4 4 0 0 0 0 8z" fill="#000"/>
<circle cx="454.6" cy="601.2" r="3.6" fill="#fff" stroke="#777" stroke-width="0.7"/>
<path d="M454.9 597.2a4 4 0 0 0 0 8z" fill="#000"/>
<circle cx="458.9" cy="599.5" r="3.6" fill="#fff" stroke="#777" stroke-width="0.7"/>
<path d="M459.2 595.5a4 4 0 0 0 0 8z" fill="#000"/>
<circle cx="463.3" cy="600.4" r="3.6" fill="#fff" stroke="#777" stroke-width="0.7"/>
<path d="M463.6 596.4a4 4 0 0 0 0 8z" fill="#000"/>
<circle cx="467.6" cy="599.5" r="3.6" fill="#fff" stroke="#777" stroke-width="0.7"/>
<path d="M467.9 595.5a4 4 0 0 0 0 8z" fill="#000"/>
<circle cx="457.2" cy="604.7" r="3.6" fill="#fff" stroke="#777" stroke-width="0.7"/>
<path d="M457.5 600.7a4 4 0 0 0 0 8z" fill="#000"/>
<circle cx="462.4" cy="605.6" r="3.6" fill="#fff" stroke="#777" stroke-width="0.7"/>
<path d="M462.7 601.6a4 4 0 0 0 0 8z" fill="#000"/>
<circle cx="468.5" cy="604.7" r="3.6" fill="#fff" stroke="#777" stroke-width="0.7"/>
<path d="M468.8 600.7a4 4 0 0 0 0 8z" fill="#000"/>
<path d="M455.5 599.5H471" stroke="#000" stroke-width="1.4"/>
<circle cx="480" cy="614.8" r="3.2" fill="#fff" stroke="#000" stroke-width="2"/>
<circle cx="483" cy="611.5" r="3.2" fill="#fff" stroke="#000" stroke-width="2"/>
<circle cx="487" cy="609.5" r="3.2" fill="#fff" stroke="#000" stroke-width="2"/>
<circle cx="491" cy="611.5" r="3.2" fill="#fff" stroke="#000" stroke-width="2"/>
<circle cx="494" cy="614.8" r="3.2" fill="#fff" stroke="#000" stroke-width="2"/>
<circle cx="484.8" cy="615.4" r="3.2" fill="#fff" stroke="#000" stroke-width="2"/>
<circle cx="489.2" cy="615.4" r="3.2" fill="#fff" stroke="#000" stroke-width="2"/>
<path d="M477 613H497" stroke="#000" stroke-width="1.3"/>
<text x="488.9" y="577.9" font-size="14.7" font-weight="bold" font-style="normal" text-anchor="middle" fill="#000">###</text>
<text x="488.5" y="600.8" font-size="21.4" font-weight="bold" font-style="normal" text-anchor="middle" fill="#000">***</text>
<path d="M332.9 619.6H501.5" stroke="#000" stroke-width="2.6"/>
<path d="M348.5 629.2H414.5" stroke="#000" stroke-width="1.6"/>
<path d="M429.5 629.2H495.8" stroke="#000" stroke-width="1.6"/>
<text x="381.4" y="650.8" font-size="19" font-weight="normal" font-style="normal" text-anchor="middle" fill="#000">t = 14</text>
<text x="463.6" y="650.8" font-size="19" font-weight="normal" font-style="normal" text-anchor="middle" fill="#000">t = 46</text>
<text x="-0.4" y="692.7" font-size="25" font-weight="bold" font-style="normal" text-anchor="start" fill="#000">D</text>
<text x="175.3" y="698.5" font-size="19.8" font-weight="bold" font-style="normal" text-anchor="middle" fill="#000">PF4</text>
<path d="M72.9 720.7V849.5M65.3 722H72.9M65.3 764H72.9M65.3 806H72.9" stroke="#000" stroke-width="2.8" fill="none"/>
<text x="64.1" y="727.1" font-size="14.2" font-weight="bold" font-style="normal" text-anchor="end" fill="#000">600</text>
<text x="64.1" y="769.1" font-size="14.2" font-weight="bold" font-style="normal" text-anchor="end" fill="#000">400</text>
<text x="64.1" y="811.1" font-size="14.2" font-weight="bold" font-style="normal" text-anchor="end" fill="#000">200</text>
<text x="64.1" y="853.3" font-size="14.2" font-weight="bold" font-style="normal" text-anchor="end" fill="#000">0</text>
<text transform="translate(27.3 784) rotate(-90)" font-size="16.4" font-weight="bold" text-anchor="middle">PF4 (ng/mL)</text>
<circle cx="83.4" cy="832.8" r="4.2" fill="#000"/>
<circle cx="77.3" cy="838.9" r="4.2" fill="#000"/>
<circle cx="82" cy="845" r="4.2" fill="#000"/>
<circle cx="86" cy="844.6" r="4.2" fill="#000"/>
<circle cx="90" cy="845" r="4.2" fill="#000"/>
<circle cx="93.5" cy="845.2" r="4.2" fill="#000"/>
<path d="M80 841.2H92" stroke="#000" stroke-width="1.3"/>
<circle cx="99.5" cy="845.6" r="3.5" fill="#fff" stroke="#777" stroke-width="0.7"/>
<path d="M99.8 841.7a3.9 3.9 0 0 0 0 7.8z" fill="#000"/>
<circle cx="102.8" cy="845.6" r="3.5" fill="#fff" stroke="#777" stroke-width="0.7"/>
<path d="M103.1 841.7a3.9 3.9 0 0 0 0 7.8z" fill="#000"/>
<circle cx="106.1" cy="845.6" r="3.5" fill="#fff" stroke="#777" stroke-width="0.7"/>
<path d="M106.4 841.7a3.9 3.9 0 0 0 0 7.8z" fill="#000"/>
<circle cx="109.4" cy="845.6" r="3.5" fill="#fff" stroke="#777" stroke-width="0.7"/>
<path d="M109.7 841.7a3.9 3.9 0 0 0 0 7.8z" fill="#000"/>
<circle cx="112.4" cy="845.6" r="3.5" fill="#fff" stroke="#777" stroke-width="0.7"/>
<path d="M112.7 841.7a3.9 3.9 0 0 0 0 7.8z" fill="#000"/>
<path d="M96.5 845.7H115" stroke="#000" stroke-width="1.3"/>
<circle cx="119.3" cy="845.6" r="3.3" fill="#fff" stroke="#000" stroke-width="1.8"/>
<circle cx="123.5" cy="845.6" r="3.3" fill="#fff" stroke="#000" stroke-width="1.8"/>
<circle cx="127.7" cy="845.6" r="3.3" fill="#fff" stroke="#000" stroke-width="1.8"/>
<circle cx="131.9" cy="845.6" r="3.3" fill="#fff" stroke="#000" stroke-width="1.8"/>
<path d="M116 845.7H135.5" stroke="#000" stroke-width="1.3"/>
<circle cx="151.1" cy="743.5" r="4.2" fill="#000"/>
<circle cx="145.2" cy="813.1" r="4.2" fill="#000"/>
<circle cx="151.6" cy="813.9" r="4.2" fill="#000"/>
<circle cx="144.7" cy="826" r="4.2" fill="#000"/>
<circle cx="148.2" cy="823.5" r="4.2" fill="#000"/>
<circle cx="152.5" cy="825.2" r="4.2" fill="#000"/>
<circle cx="157.7" cy="827.8" r="4.2" fill="#000"/>
<circle cx="150.8" cy="829.5" r="4.2" fill="#000"/>
<circle cx="146.4" cy="827.8" r="4.2" fill="#000"/>
<path d="M151.6 813.4H159.6" stroke="#000" stroke-width="1.5"/>
<text x="174.6" y="820" font-size="21.4" font-weight="bold" font-style="normal" text-anchor="middle" fill="#000">***</text>
<text x="194.5" y="832.4" font-size="21.4" font-weight="bold" font-style="normal" text-anchor="middle" fill="#000">***</text>
<circle cx="167.6" cy="845.6" r="3.9" fill="#000"/>
<circle cx="169.5" cy="845.6" r="3.5" fill="#fff" stroke="#777" stroke-width="0.7"/>
<path d="M169.8 841.7a3.9 3.9 0 0 0 0 7.8z" fill="#000"/>
<circle cx="172.5" cy="845.6" r="3.5" fill="#fff" stroke="#777" stroke-width="0.7"/>
<path d="M172.8 841.7a3.9 3.9 0 0 0 0 7.8z" fill="#000"/>
<circle cx="175.5" cy="845.6" r="3.5" fill="#fff" stroke="#777" stroke-width="0.7"/>
<path d="M175.8 841.7a3.9 3.9 0 0 0 0 7.8z" fill="#000"/>
<circle cx="178.5" cy="845.6" r="3.5" fill="#fff" stroke="#777" stroke-width="0.7"/>
<path d="M178.8 841.7a3.9 3.9 0 0 0 0 7.8z" fill="#000"/>
<circle cx="181" cy="845.6" r="3.5" fill="#fff" stroke="#777" stroke-width="0.7"/>
<path d="M181.3 841.7a3.9 3.9 0 0 0 0 7.8z" fill="#000"/>
<path d="M164.5 845.7H183" stroke="#000" stroke-width="1.3"/>
<circle cx="187" cy="845.9" r="3.3" fill="#fff" stroke="#000" stroke-width="1.8"/>
<circle cx="190.4" cy="845.9" r="3.3" fill="#fff" stroke="#000" stroke-width="1.8"/>
<circle cx="193.8" cy="845.9" r="3.3" fill="#fff" stroke="#000" stroke-width="1.8"/>
<circle cx="197.2" cy="845.9" r="3.3" fill="#fff" stroke="#000" stroke-width="1.8"/>
<circle cx="200.6" cy="845.9" r="3.3" fill="#fff" stroke="#000" stroke-width="1.8"/>
<path d="M184 845.9H204.3" stroke="#000" stroke-width="1.3"/>
<circle cx="219.2" cy="763.8" r="4.2" fill="#000"/>
<circle cx="213.2" cy="803.7" r="4.2" fill="#000"/>
<circle cx="219.2" cy="814.9" r="4.2" fill="#000"/>
<circle cx="215.8" cy="835.7" r="4.2" fill="#000"/>
<circle cx="221.8" cy="840" r="4.2" fill="#000"/>
<circle cx="213.2" cy="844.8" r="4.2" fill="#000"/>
<circle cx="217.5" cy="845" r="4.2" fill="#000"/>
<circle cx="221.5" cy="845" r="4.2" fill="#000"/>
<circle cx="225.3" cy="844.8" r="4.2" fill="#000"/>
<path d="M211.1 824.8H227.4" stroke="#000" stroke-width="1.5"/>
<circle cx="234.2" cy="845.4" r="3.9" fill="#000"/>
<circle cx="236.5" cy="845.6" r="3.5" fill="#fff" stroke="#777" stroke-width="0.7"/>
<path d="M236.8 841.7a3.9 3.9 0 0 0 0 7.8z" fill="#000"/>
<circle cx="239.5" cy="845.6" r="3.5" fill="#fff" stroke="#777" stroke-width="0.7"/>
<path d="M239.8 841.7a3.9 3.9 0 0 0 0 7.8z" fill="#000"/>
<circle cx="242.5" cy="845.6" r="3.5" fill="#fff" stroke="#777" stroke-width="0.7"/>
<path d="M242.8 841.7a3.9 3.9 0 0 0 0 7.8z" fill="#000"/>
<circle cx="245.5" cy="845.6" r="3.5" fill="#fff" stroke="#777" stroke-width="0.7"/>
<path d="M245.8 841.7a3.9 3.9 0 0 0 0 7.8z" fill="#000"/>
<circle cx="248" cy="845.6" r="3.5" fill="#fff" stroke="#777" stroke-width="0.7"/>
<path d="M248.3 841.7a3.9 3.9 0 0 0 0 7.8z" fill="#000"/>
<path d="M231 845.7H250.5" stroke="#000" stroke-width="1.3"/>
<text x="241.4" y="834" font-size="21.4" font-weight="bold" font-style="normal" text-anchor="middle" fill="#000">*</text>
<circle cx="255.5" cy="845.7" r="3.3" fill="#fff" stroke="#000" stroke-width="1.8"/>
<circle cx="259" cy="845.7" r="3.3" fill="#fff" stroke="#000" stroke-width="1.8"/>
<circle cx="262.5" cy="845.7" r="3.3" fill="#fff" stroke="#000" stroke-width="1.8"/>
<circle cx="266" cy="845.7" r="3.3" fill="#fff" stroke="#000" stroke-width="1.8"/>
<circle cx="269.5" cy="845.7" r="3.3" fill="#fff" stroke="#000" stroke-width="1.8"/>
<path d="M252.3 845.7H273" stroke="#000" stroke-width="1.3"/>
<text x="261.6" y="834" font-size="21.4" font-weight="bold" font-style="normal" text-anchor="middle" fill="#000">*</text>
<path d="M66.6 848.4H274.6" stroke="#000" stroke-width="2.5"/>
<path d="M76.9 857.7H132.3" stroke="#000" stroke-width="1.6"/>
<path d="M144.2 857.7H199.2" stroke="#000" stroke-width="1.6"/>
<path d="M212.3 857.7H268.5" stroke="#000" stroke-width="1.6"/>
<text x="104.7" y="877.7" font-size="18.8" font-weight="normal" font-style="normal" text-anchor="middle" fill="#000">naive</text>
<text x="170.6" y="877.7" font-size="18.8" font-weight="normal" font-style="normal" text-anchor="middle" fill="#000">t = 12</text>
<text x="240" y="877.7" font-size="18.8" font-weight="normal" font-style="normal" text-anchor="middle" fill="#000">t = 44</text>
<circle cx="287.1" cy="690.6" r="4.8" fill="#000"/>
<circle cx="287.3" cy="712.8" r="4.4" fill="#fff" stroke="#777" stroke-width="0.7"/>
<path d="M287.6 708.1a4.7 4.7 0 0 0 0 9.4z" fill="#000"/>
<circle cx="287.3" cy="735.4" r="4.5" fill="#fff" stroke="#000" stroke-width="1.7"/>
<text x="315" y="697.5" font-size="20.2" font-weight="normal" font-style="normal" text-anchor="start" fill="#000">control IgG</text>
<text x="315" y="720.2" font-size="20.2" font-weight="normal" font-style="normal" text-anchor="start" fill="#000">0.4 µg/g α-GPIbα</text>
<text x="315" y="741.4" font-size="20.2" font-weight="normal" font-style="normal" text-anchor="start" fill="#000">2 µg/g α-GPIbα</text>
</svg>
</body>
</html>
